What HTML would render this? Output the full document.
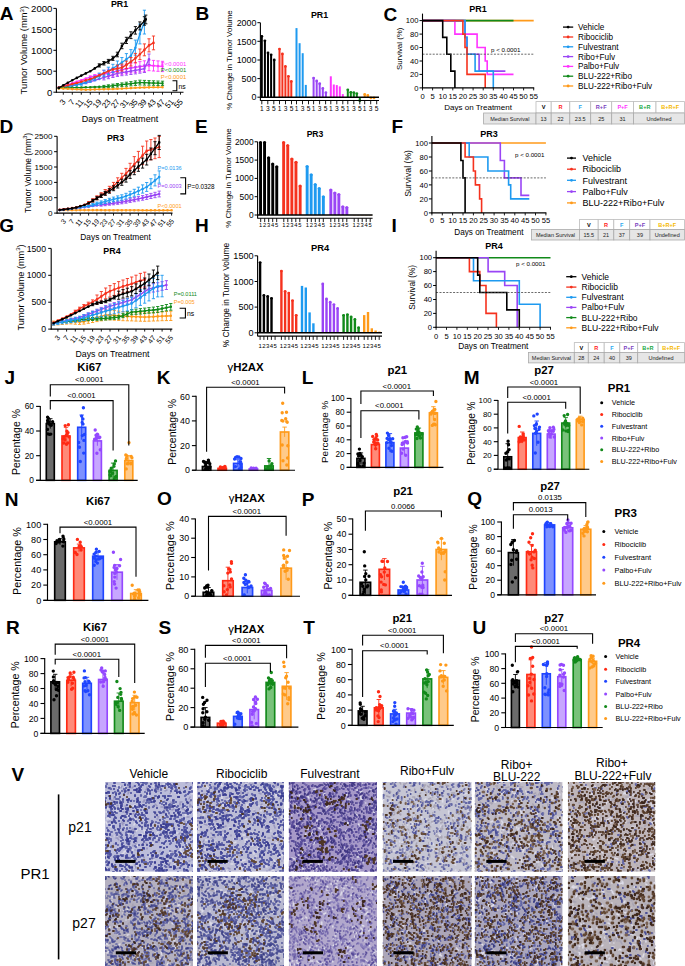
<!DOCTYPE html>
<html><head><meta charset="utf-8"><style>
html,body{margin:0;padding:0;background:#fff;width:685px;height:966px;overflow:hidden}
svg text{font-family:"Liberation Sans", sans-serif}
</style></head><body>
<svg width="685" height="966" viewBox="0 0 685 966" style="display:block">
<defs><filter id="hb" x="-5%" y="-5%" width="110%" height="110%"><feGaussianBlur stdDeviation="0.45"/></filter></defs><rect width="685" height="966" fill="#fff"/>
<line x1="56.4" y1="8.4" x2="56.4" y2="92.7" stroke="#000" stroke-width="1.1"/>
<line x1="55.9" y1="92.2" x2="183.5" y2="92.2" stroke="#000" stroke-width="1.1"/>
<line x1="53.4" y1="92.2" x2="56.4" y2="92.2" stroke="#000" stroke-width="1"/>
<text x="52.4" y="95.6" font-size="9.6" text-anchor="end" fill="#000">0</text>
<line x1="53.4" y1="71.2" x2="56.4" y2="71.2" stroke="#000" stroke-width="1"/>
<text x="52.4" y="74.7" font-size="9.6" text-anchor="end" fill="#000">500</text>
<line x1="53.4" y1="50.3" x2="56.4" y2="50.3" stroke="#000" stroke-width="1"/>
<text x="52.4" y="53.7" font-size="9.6" text-anchor="end" fill="#000">1000</text>
<line x1="53.4" y1="29.4" x2="56.4" y2="29.4" stroke="#000" stroke-width="1"/>
<text x="52.4" y="32.8" font-size="9.6" text-anchor="end" fill="#000">1500</text>
<line x1="53.4" y1="8.4" x2="56.4" y2="8.4" stroke="#000" stroke-width="1"/>
<text x="52.4" y="11.8" font-size="9.6" text-anchor="end" fill="#000">2000</text>
<line x1="63.3" y1="92.2" x2="63.3" y2="94.7" stroke="#000" stroke-width="0.9"/>
<text x="66.1" y="102.0" font-size="8.0" text-anchor="end" fill="#000" transform="rotate(-50 66.1 102.0)">3</text>
<line x1="72.3" y1="92.2" x2="72.3" y2="94.7" stroke="#000" stroke-width="0.9"/>
<text x="75.1" y="102.0" font-size="8.0" text-anchor="end" fill="#000" transform="rotate(-50 75.1 102.0)">7</text>
<line x1="81.3" y1="92.2" x2="81.3" y2="94.7" stroke="#000" stroke-width="0.9"/>
<text x="84.1" y="102.0" font-size="8.0" text-anchor="end" fill="#000" transform="rotate(-50 84.1 102.0)">11</text>
<line x1="90.3" y1="92.2" x2="90.3" y2="94.7" stroke="#000" stroke-width="0.9"/>
<text x="93.1" y="102.0" font-size="8.0" text-anchor="end" fill="#000" transform="rotate(-50 93.1 102.0)">15</text>
<line x1="99.3" y1="92.2" x2="99.3" y2="94.7" stroke="#000" stroke-width="0.9"/>
<text x="102.1" y="102.0" font-size="8.0" text-anchor="end" fill="#000" transform="rotate(-50 102.1 102.0)">19</text>
<line x1="108.4" y1="92.2" x2="108.4" y2="94.7" stroke="#000" stroke-width="0.9"/>
<text x="111.2" y="102.0" font-size="8.0" text-anchor="end" fill="#000" transform="rotate(-50 111.2 102.0)">23</text>
<line x1="117.4" y1="92.2" x2="117.4" y2="94.7" stroke="#000" stroke-width="0.9"/>
<text x="120.2" y="102.0" font-size="8.0" text-anchor="end" fill="#000" transform="rotate(-50 120.2 102.0)">27</text>
<line x1="126.4" y1="92.2" x2="126.4" y2="94.7" stroke="#000" stroke-width="0.9"/>
<text x="129.2" y="102.0" font-size="8.0" text-anchor="end" fill="#000" transform="rotate(-50 129.2 102.0)">31</text>
<line x1="135.4" y1="92.2" x2="135.4" y2="94.7" stroke="#000" stroke-width="0.9"/>
<text x="138.2" y="102.0" font-size="8.0" text-anchor="end" fill="#000" transform="rotate(-50 138.2 102.0)">35</text>
<line x1="144.4" y1="92.2" x2="144.4" y2="94.7" stroke="#000" stroke-width="0.9"/>
<text x="147.2" y="102.0" font-size="8.0" text-anchor="end" fill="#000" transform="rotate(-50 147.2 102.0)">39</text>
<line x1="153.5" y1="92.2" x2="153.5" y2="94.7" stroke="#000" stroke-width="0.9"/>
<text x="156.3" y="102.0" font-size="8.0" text-anchor="end" fill="#000" transform="rotate(-50 156.3 102.0)">43</text>
<line x1="162.5" y1="92.2" x2="162.5" y2="94.7" stroke="#000" stroke-width="0.9"/>
<text x="165.3" y="102.0" font-size="8.0" text-anchor="end" fill="#000" transform="rotate(-50 165.3 102.0)">47</text>
<line x1="171.5" y1="92.2" x2="171.5" y2="94.7" stroke="#000" stroke-width="0.9"/>
<text x="174.3" y="102.0" font-size="8.0" text-anchor="end" fill="#000" transform="rotate(-50 174.3 102.0)">51</text>
<line x1="180.5" y1="92.2" x2="180.5" y2="94.7" stroke="#000" stroke-width="0.9"/>
<text x="183.3" y="102.0" font-size="8.0" text-anchor="end" fill="#000" transform="rotate(-50 183.3 102.0)">55</text>
<polyline points="58.8,87.6 63.3,86.1 67.8,84.7 72.3,83.2 76.8,81.7 81.3,80.2 85.8,78.6 90.3,77.1 94.8,75.9 99.3,75.0 103.9,74.0 108.4,73.1 112.9,72.1 117.4,71.0 121.9,69.9 126.4,68.7 130.9,68.1 135.4,67.4 139.9,66.7 144.4,66.1 149.0,65.4 153.5,65.7 158.0,66.1 162.5,66.4" fill="none" stroke="#ff33ff" stroke-width="1.3"/>
<path d="M90.3 75.9V78.3M88.7 75.9h3.2M88.7 78.3h3.2M94.8 74.6V77.2M93.2 74.6h3.2M93.2 77.2h3.2M99.3 73.6V76.4M97.7 73.6h3.2M97.7 76.4h3.2M103.9 70.4V77.7M102.3 70.4h3.2M102.3 77.7h3.2M108.4 69.2V76.9M106.8 69.2h3.2M106.8 76.9h3.2M112.9 68.1V76.1M111.3 68.1h3.2M111.3 76.1h3.2M117.4 66.7V75.2M115.8 66.7h3.2M115.8 75.2h3.2M121.9 65.4V74.3M120.3 65.4h3.2M120.3 74.3h3.2M126.4 64.0V73.4M124.8 64.0h3.2M124.8 73.4h3.2M130.9 63.2V72.9M129.3 63.2h3.2M129.3 72.9h3.2M135.4 62.4V72.4M133.8 62.4h3.2M133.8 72.4h3.2M139.9 61.6V71.8M138.3 61.6h3.2M138.3 71.8h3.2M144.4 60.8V71.3M142.8 60.8h3.2M142.8 71.3h3.2M149.0 60.0V70.7M147.4 60.0h3.2M147.4 70.7h3.2M153.5 60.4V71.0M151.9 60.4h3.2M151.9 71.0h3.2M158.0 60.9V71.3M156.4 60.9h3.2M156.4 71.3h3.2M162.5 61.3V71.6M160.9 61.3h3.2M160.9 71.6h3.2" stroke="#ff33ff" stroke-width="0.9" fill="none"/>
<path d="M58.8 87.6h0M63.3 86.1h0M67.8 84.7h0M72.3 83.2h0M76.8 81.7h0M81.3 80.2h0M85.8 78.6h0M90.3 77.1h0M94.8 75.9h0M99.3 75.0h0M103.9 74.0h0M108.4 73.1h0M112.9 72.1h0M117.4 71.0h0M121.9 69.9h0M126.4 68.7h0M130.9 68.1h0M135.4 67.4h0M139.9 66.7h0M144.4 66.1h0M149.0 65.4h0M153.5 65.7h0M158.0 66.1h0M162.5 66.4h0" stroke="#ff33ff" stroke-width="2.6" stroke-linecap="round" fill="none"/>
<polyline points="58.8,88.0 63.3,87.2 67.8,86.3 72.3,85.5 76.8,84.7 81.3,83.8 85.8,83.0 90.3,81.6 94.8,80.3 99.3,78.9 103.9,77.5 108.4,76.1 112.9,74.7 117.4,73.3 121.9,72.6 126.4,71.9 130.9,71.1 135.4,70.4 139.9,69.6 144.4,68.7 149.0,59.3" fill="none" stroke="#9a45f5" stroke-width="1.3"/>
<path d="M103.9 75.2V79.9M102.3 75.2h3.2M102.3 79.9h3.2M108.4 73.6V78.7M106.8 73.6h3.2M106.8 78.7h3.2M112.9 71.9V77.5M111.3 71.9h3.2M111.3 77.5h3.2M117.4 70.3V76.4M115.8 70.3h3.2M115.8 76.4h3.2M121.9 69.5V75.7M120.3 69.5h3.2M120.3 75.7h3.2M126.4 68.6V75.1M124.8 68.6h3.2M124.8 75.1h3.2M130.9 67.8V74.5M129.3 67.8h3.2M129.3 74.5h3.2M135.4 66.9V73.9M133.8 66.9h3.2M133.8 73.9h3.2M139.9 66.0V73.2M138.3 66.0h3.2M138.3 73.2h3.2M144.4 65.0V72.5M142.8 65.0h3.2M142.8 72.5h3.2M149.0 54.0V64.6M147.4 54.0h3.2M147.4 64.6h3.2" stroke="#9a45f5" stroke-width="0.9" fill="none"/>
<path d="M58.8 88.0h0M63.3 87.2h0M67.8 86.3h0M72.3 85.5h0M76.8 84.7h0M81.3 83.8h0M85.8 83.0h0M90.3 81.6h0M94.8 80.3h0M99.3 78.9h0M103.9 77.5h0M108.4 76.1h0M112.9 74.7h0M117.4 73.3h0M121.9 72.6h0M126.4 71.9h0M130.9 71.1h0M135.4 70.4h0M139.9 69.6h0M144.4 68.7h0M149.0 59.3h0" stroke="#9a45f5" stroke-width="2.6" stroke-linecap="round" fill="none"/>
<polyline points="58.8,88.0 63.3,87.2 67.8,86.3 72.3,85.5 76.8,84.7 81.3,83.8 85.8,82.0 90.3,80.2 94.8,78.4 99.3,75.9 103.9,73.3 108.4,70.8 112.9,68.4 117.4,65.5 121.9,62.5 126.4,59.2 130.9,55.8 135.4,47.7 139.9,34.0 144.4,22.1" fill="none" stroke="#1e9af0" stroke-width="1.3"/>
<path d="M76.8 83.4V85.9M75.2 83.4h3.2M75.2 85.9h3.2M81.3 82.4V85.2M79.7 82.4h3.2M79.7 85.2h3.2M85.8 80.3V83.7M84.2 80.3h3.2M84.2 83.7h3.2M90.3 78.1V82.2M88.7 78.1h3.2M88.7 82.2h3.2M94.8 76.0V80.7M93.2 76.0h3.2M93.2 80.7h3.2M99.3 73.1V78.6M97.7 73.1h3.2M97.7 78.6h3.2M103.9 70.1V76.6M102.3 70.1h3.2M102.3 76.6h3.2M108.4 67.2V74.5M106.8 67.2h3.2M106.8 74.5h3.2M112.9 64.3V72.4M111.3 64.3h3.2M111.3 72.4h3.2M117.4 61.0V70.1M115.8 61.0h3.2M115.8 70.1h3.2M121.9 57.5V67.6M120.3 57.5h3.2M120.3 67.6h3.2M126.4 53.6V64.8M124.8 53.6h3.2M124.8 64.8h3.2M130.9 49.6V62.0M129.3 49.6h3.2M129.3 62.0h3.2M135.4 40.1V55.2M133.8 40.1h3.2M133.8 55.2h3.2M139.9 24.1V43.9M138.3 24.1h3.2M138.3 43.9h3.2M144.4 10.2V34.0M142.8 10.2h3.2M142.8 34.0h3.2" stroke="#1e9af0" stroke-width="0.9" fill="none"/>
<path d="M58.8 88.0h0M63.3 87.2h0M67.8 86.3h0M72.3 85.5h0M76.8 84.7h0M81.3 83.8h0M85.8 82.0h0M90.3 80.2h0M94.8 78.4h0M99.3 75.9h0M103.9 73.3h0M108.4 70.8h0M112.9 68.4h0M117.4 65.5h0M121.9 62.5h0M126.4 59.2h0M130.9 55.8h0M135.4 47.7h0M139.9 34.0h0M144.4 22.1h0" stroke="#1e9af0" stroke-width="2.6" stroke-linecap="round" fill="none"/>
<polyline points="58.8,87.6 63.3,86.4 67.8,85.3 72.3,84.1 76.8,83.0 81.3,81.7 85.8,80.4 90.3,79.1 94.8,77.3 99.3,75.3 103.9,73.2 108.4,71.2 112.9,69.4 117.4,68.5 121.9,67.6 126.4,64.9 130.9,61.7 135.4,58.2 139.9,54.3 144.4,49.9 149.0,45.4 153.5,42.9" fill="none" stroke="#f5321e" stroke-width="1.3"/>
<path d="M117.4 65.1V71.8M115.8 65.1h3.2M115.8 71.8h3.2M121.9 64.1V71.0M120.3 64.1h3.2M120.3 71.0h3.2M126.4 61.1V68.7M124.8 61.1h3.2M124.8 68.7h3.2M130.9 57.5V66.0M129.3 57.5h3.2M129.3 66.0h3.2M135.4 53.4V62.9M133.8 53.4h3.2M133.8 62.9h3.2M139.9 49.0V59.6M138.3 49.0h3.2M138.3 59.6h3.2M144.4 43.9V55.8M142.8 43.9h3.2M142.8 55.8h3.2M149.0 38.8V51.9M147.4 38.8h3.2M147.4 51.9h3.2M153.5 36.0V49.8M151.9 36.0h3.2M151.9 49.8h3.2" stroke="#f5321e" stroke-width="0.9" fill="none"/>
<path d="M58.8 87.6h0M63.3 86.4h0M67.8 85.3h0M72.3 84.1h0M76.8 83.0h0M81.3 81.7h0M85.8 80.4h0M90.3 79.1h0M94.8 77.3h0M99.3 75.3h0M103.9 73.2h0M108.4 71.2h0M112.9 69.4h0M117.4 68.5h0M121.9 67.6h0M126.4 64.9h0M130.9 61.7h0M135.4 58.2h0M139.9 54.3h0M144.4 49.9h0M149.0 45.4h0M153.5 42.9h0" stroke="#f5321e" stroke-width="2.6" stroke-linecap="round" fill="none"/>
<polyline points="58.8,88.0 63.3,87.9 67.8,87.8 72.3,87.7 76.8,87.6 81.3,87.5 85.8,87.3 90.3,87.2 94.8,87.0 99.3,86.9 103.9,86.8 108.4,86.3 112.9,85.7 117.4,85.2 121.9,84.7 126.4,84.2 130.9,83.7 135.4,83.1 139.9,82.6 144.4,82.7 149.0,82.9 153.5,83.1 158.0,83.2 162.5,83.4" fill="none" stroke="#118a1a" stroke-width="1.3"/>
<path d="M103.9 85.4V88.1M102.3 85.4h3.2M102.3 88.1h3.2M108.4 84.8V87.7M106.8 84.8h3.2M106.8 87.7h3.2M112.9 84.1V87.4M111.3 84.1h3.2M111.3 87.4h3.2M117.4 83.5V87.0M115.8 83.5h3.2M115.8 87.0h3.2M121.9 82.9V86.6M120.3 82.9h3.2M120.3 86.6h3.2M126.4 82.2V86.2M124.8 82.2h3.2M124.8 86.2h3.2M130.9 81.6V85.8M129.3 81.6h3.2M129.3 85.8h3.2M135.4 80.9V85.4M133.8 80.9h3.2M133.8 85.4h3.2M139.9 80.2V85.0M138.3 80.2h3.2M138.3 85.0h3.2M144.4 80.4V85.1M142.8 80.4h3.2M142.8 85.1h3.2M149.0 80.6V85.2M147.4 80.6h3.2M147.4 85.2h3.2M153.5 80.8V85.3M151.9 80.8h3.2M151.9 85.3h3.2M158.0 81.0V85.5M156.4 81.0h3.2M156.4 85.5h3.2M162.5 81.2V85.6M160.9 81.2h3.2M160.9 85.6h3.2" stroke="#118a1a" stroke-width="0.9" fill="none"/>
<path d="M58.8 88.0h0M63.3 87.9h0M67.8 87.8h0M72.3 87.7h0M76.8 87.6h0M81.3 87.5h0M85.8 87.3h0M90.3 87.2h0M94.8 87.0h0M99.3 86.9h0M103.9 86.8h0M108.4 86.3h0M112.9 85.7h0M117.4 85.2h0M121.9 84.7h0M126.4 84.2h0M130.9 83.7h0M135.4 83.1h0M139.9 82.6h0M144.4 82.7h0M149.0 82.9h0M153.5 83.1h0M158.0 83.2h0M162.5 83.4h0" stroke="#118a1a" stroke-width="2.6" stroke-linecap="round" fill="none"/>
<polyline points="58.8,88.4 63.3,88.6 67.8,88.8 72.3,89.1 76.8,89.3 81.3,89.5 85.8,89.7 90.3,89.6 94.8,89.4 99.3,89.3 103.9,89.2 108.4,89.1 112.9,89.0 117.4,88.8 121.9,88.6 126.4,88.3 130.9,88.1 135.4,87.8 139.9,87.6 144.4,87.5 149.0,87.4 153.5,87.3 158.0,87.3 162.5,87.2" fill="none" stroke="#ff9a1a" stroke-width="1.3"/>
<path d="M58.8 88.4h0M63.3 88.6h0M67.8 88.8h0M72.3 89.1h0M76.8 89.3h0M81.3 89.5h0M85.8 89.7h0M90.3 89.6h0M94.8 89.4h0M99.3 89.3h0M103.9 89.2h0M108.4 89.1h0M112.9 89.0h0M117.4 88.8h0M121.9 88.6h0M126.4 88.3h0M130.9 88.1h0M135.4 87.8h0M139.9 87.6h0M144.4 87.5h0M149.0 87.4h0M153.5 87.3h0M158.0 87.3h0M162.5 87.2h0" stroke="#ff9a1a" stroke-width="2.6" stroke-linecap="round" fill="none"/>
<polyline points="58.8,87.9 63.3,85.3 67.8,82.7 72.3,80.2 76.8,77.9 81.3,75.6 85.8,73.4 90.3,71.2 94.8,68.4 99.3,65.4 103.9,63.3 108.4,61.3 112.9,58.4 117.4,54.5 121.9,46.0 126.4,40.4 130.9,35.2 135.4,30.3 139.9,25.9 144.4,21.0 145.8,19.4" fill="none" stroke="#000000" stroke-width="1.3"/>
<path d="M99.3 63.8V67.0M97.7 63.8h3.2M97.7 67.0h3.2M103.9 61.5V65.0M102.3 61.5h3.2M102.3 65.0h3.2M108.4 59.4V63.2M106.8 59.4h3.2M106.8 63.2h3.2M112.9 56.3V60.4M111.3 56.3h3.2M111.3 60.4h3.2M117.4 52.2V56.8M115.8 52.2h3.2M115.8 56.8h3.2M121.9 43.2V48.7M120.3 43.2h3.2M120.3 48.7h3.2M126.4 37.3V43.5M124.8 37.3h3.2M124.8 43.5h3.2M130.9 31.8V38.6M129.3 31.8h3.2M129.3 38.6h3.2M135.4 26.6V34.1M133.8 26.6h3.2M133.8 34.1h3.2M139.9 21.9V29.9M138.3 21.9h3.2M138.3 29.9h3.2M144.4 16.7V25.2M142.8 16.7h3.2M142.8 25.2h3.2M145.8 15.1V23.8M144.2 15.1h3.2M144.2 23.8h3.2" stroke="#000000" stroke-width="0.9" fill="none"/>
<path d="M58.8 87.9h0M63.3 85.3h0M67.8 82.7h0M72.3 80.2h0M76.8 77.9h0M81.3 75.6h0M85.8 73.4h0M90.3 71.2h0M94.8 68.4h0M99.3 65.4h0M103.9 63.3h0M108.4 61.3h0M112.9 58.4h0M117.4 54.5h0M121.9 46.0h0M126.4 40.4h0M130.9 35.2h0M135.4 30.3h0M139.9 25.9h0M144.4 21.0h0M145.8 19.4h0" stroke="#000000" stroke-width="2.6" stroke-linecap="round" fill="none"/>
<text x="119.6" y="6.9" font-size="8.9" font-weight="bold" text-anchor="middle" fill="#000">PR1</text>
<text x="-0.3" y="20.1" font-size="19" font-weight="bold" text-anchor="start" fill="#000">A</text>
<text x="27.2" y="50.2" font-size="9.4" text-anchor="middle" fill="#000" transform="rotate(-90 27.2 50.2)">Tumor Volume (mm<tspan font-size="6" dy="-3.5">3</tspan><tspan dy="3.5">)</tspan></text>
<text x="120.0" y="122.0" font-size="9.05" text-anchor="middle" fill="#000">Days on Treatment</text>
<text x="160.8" y="66.0" font-size="5.9" text-anchor="start" fill="#ff33ff">P&lt;0.0001</text>
<text x="160.8" y="72.2" font-size="5.9" text-anchor="start" fill="#118a1a">P&lt;0.0001</text>
<text x="160.8" y="78.7" font-size="5.9" text-anchor="start" fill="#ff9a1a">P&lt;0.0001</text>
<polyline points="172.5,80.8 176.8,80.8 176.8,90.7 172.5,90.7" fill="none" stroke="#000" stroke-width="1.1"/>
<text x="178.4" y="88.5" font-size="6.8" text-anchor="start" fill="#000">ns</text>
<line x1="57.1" y1="136.3" x2="57.1" y2="213.6" stroke="#000" stroke-width="1.1"/>
<line x1="56.6" y1="213.1" x2="172.5" y2="213.1" stroke="#000" stroke-width="1.1"/>
<line x1="54.1" y1="213.1" x2="57.1" y2="213.1" stroke="#000" stroke-width="1"/>
<text x="52.5" y="216.0" font-size="8.1" text-anchor="end" fill="#000">0</text>
<line x1="54.1" y1="197.7" x2="57.1" y2="197.7" stroke="#000" stroke-width="1"/>
<text x="52.5" y="200.6" font-size="8.1" text-anchor="end" fill="#000">500</text>
<line x1="54.1" y1="182.4" x2="57.1" y2="182.4" stroke="#000" stroke-width="1"/>
<text x="52.5" y="185.3" font-size="8.1" text-anchor="end" fill="#000">1000</text>
<line x1="54.1" y1="167.0" x2="57.1" y2="167.0" stroke="#000" stroke-width="1"/>
<text x="52.5" y="169.9" font-size="8.1" text-anchor="end" fill="#000">1500</text>
<line x1="54.1" y1="151.7" x2="57.1" y2="151.7" stroke="#000" stroke-width="1"/>
<text x="52.5" y="154.6" font-size="8.1" text-anchor="end" fill="#000">2000</text>
<line x1="54.1" y1="136.3" x2="57.1" y2="136.3" stroke="#000" stroke-width="1"/>
<text x="52.5" y="139.2" font-size="8.1" text-anchor="end" fill="#000">2500</text>
<line x1="63.7" y1="213.1" x2="63.7" y2="215.6" stroke="#000" stroke-width="0.9"/>
<text x="66.5" y="221.5" font-size="7.0" text-anchor="end" fill="#000" transform="rotate(-50 66.5 221.5)">3</text>
<line x1="72.0" y1="213.1" x2="72.0" y2="215.6" stroke="#000" stroke-width="0.9"/>
<text x="74.8" y="221.5" font-size="7.0" text-anchor="end" fill="#000" transform="rotate(-50 74.8 221.5)">7</text>
<line x1="80.3" y1="213.1" x2="80.3" y2="215.6" stroke="#000" stroke-width="0.9"/>
<text x="83.1" y="221.5" font-size="7.0" text-anchor="end" fill="#000" transform="rotate(-50 83.1 221.5)">11</text>
<line x1="88.6" y1="213.1" x2="88.6" y2="215.6" stroke="#000" stroke-width="0.9"/>
<text x="91.4" y="221.5" font-size="7.0" text-anchor="end" fill="#000" transform="rotate(-50 91.4 221.5)">15</text>
<line x1="96.9" y1="213.1" x2="96.9" y2="215.6" stroke="#000" stroke-width="0.9"/>
<text x="99.7" y="221.5" font-size="7.0" text-anchor="end" fill="#000" transform="rotate(-50 99.7 221.5)">19</text>
<line x1="105.2" y1="213.1" x2="105.2" y2="215.6" stroke="#000" stroke-width="0.9"/>
<text x="108.0" y="221.5" font-size="7.0" text-anchor="end" fill="#000" transform="rotate(-50 108.0 221.5)">23</text>
<line x1="113.5" y1="213.1" x2="113.5" y2="215.6" stroke="#000" stroke-width="0.9"/>
<text x="116.3" y="221.5" font-size="7.0" text-anchor="end" fill="#000" transform="rotate(-50 116.3 221.5)">27</text>
<line x1="121.8" y1="213.1" x2="121.8" y2="215.6" stroke="#000" stroke-width="0.9"/>
<text x="124.6" y="221.5" font-size="7.0" text-anchor="end" fill="#000" transform="rotate(-50 124.6 221.5)">31</text>
<line x1="130.1" y1="213.1" x2="130.1" y2="215.6" stroke="#000" stroke-width="0.9"/>
<text x="132.9" y="221.5" font-size="7.0" text-anchor="end" fill="#000" transform="rotate(-50 132.9 221.5)">35</text>
<line x1="138.4" y1="213.1" x2="138.4" y2="215.6" stroke="#000" stroke-width="0.9"/>
<text x="141.2" y="221.5" font-size="7.0" text-anchor="end" fill="#000" transform="rotate(-50 141.2 221.5)">39</text>
<line x1="146.7" y1="213.1" x2="146.7" y2="215.6" stroke="#000" stroke-width="0.9"/>
<text x="149.5" y="221.5" font-size="7.0" text-anchor="end" fill="#000" transform="rotate(-50 149.5 221.5)">43</text>
<line x1="155.0" y1="213.1" x2="155.0" y2="215.6" stroke="#000" stroke-width="0.9"/>
<text x="157.8" y="221.5" font-size="7.0" text-anchor="end" fill="#000" transform="rotate(-50 157.8 221.5)">47</text>
<line x1="163.3" y1="213.1" x2="163.3" y2="215.6" stroke="#000" stroke-width="0.9"/>
<text x="166.1" y="221.5" font-size="7.0" text-anchor="end" fill="#000" transform="rotate(-50 166.1 221.5)">51</text>
<line x1="171.6" y1="213.1" x2="171.6" y2="215.6" stroke="#000" stroke-width="0.9"/>
<text x="174.4" y="221.5" font-size="7.0" text-anchor="end" fill="#000" transform="rotate(-50 174.4 221.5)">55</text>
<polyline points="59.6,210.0 63.7,210.0 67.9,210.1 72.0,210.1 76.2,210.1 80.3,210.1 84.5,210.1 88.6,210.1 92.8,210.1 96.9,210.1 101.1,210.1 105.2,210.2 109.4,210.2 113.5,210.2 117.7,210.2 121.8,210.2 126.0,210.2 130.1,210.2 134.3,210.2 138.4,210.2 142.6,210.3 146.7,210.3 150.9,210.3 155.0,210.3 159.2,210.3 163.3,210.3 167.5,210.3 171.6,210.3" fill="none" stroke="#ff9a1a" stroke-width="1.3"/>
<path d="M59.6 210.0h0M63.7 210.0h0M67.9 210.1h0M72.0 210.1h0M76.2 210.1h0M80.3 210.1h0M84.5 210.1h0M88.6 210.1h0M92.8 210.1h0M96.9 210.1h0M101.1 210.1h0M105.2 210.2h0M109.4 210.2h0M113.5 210.2h0M117.7 210.2h0M121.8 210.2h0M126.0 210.2h0M130.1 210.2h0M134.3 210.2h0M138.4 210.2h0M142.6 210.3h0M146.7 210.3h0M150.9 210.3h0M155.0 210.3h0M159.2 210.3h0M163.3 210.3h0M167.5 210.3h0M171.6 210.3h0" stroke="#ff9a1a" stroke-width="2.6" stroke-linecap="round" fill="none"/>
<polyline points="59.6,210.0 63.7,209.6 67.9,209.1 72.0,208.6 76.2,208.1 80.3,207.7 84.5,207.2 88.6,206.6 92.8,206.0 96.9,205.4 101.1,204.9 105.2,204.3 109.4,203.8 113.5,203.3 117.7,202.7 121.8,202.2 126.0,201.4 130.1,200.5 134.3,199.7 138.4,198.8 142.6,197.9 146.7,197.0 150.9,196.0 155.0,195.0 159.2,194.0" fill="none" stroke="#9a45f5" stroke-width="1.3"/>
<path d="M101.1 203.6V206.1M99.5 203.6h3.2M99.5 206.1h3.2M105.2 203.0V205.7M103.6 203.0h3.2M103.6 205.7h3.2M109.4 202.4V205.2M107.8 202.4h3.2M107.8 205.2h3.2M113.5 201.8V204.8M111.9 201.8h3.2M111.9 204.8h3.2M117.7 201.2V204.3M116.1 201.2h3.2M116.1 204.3h3.2M121.8 200.5V203.8M120.2 200.5h3.2M120.2 203.8h3.2M126.0 199.7V203.2M124.4 199.7h3.2M124.4 203.2h3.2M130.1 198.7V202.4M128.5 198.7h3.2M128.5 202.4h3.2M134.3 197.6V201.7M132.7 197.6h3.2M132.7 201.7h3.2M138.4 196.6V200.9M136.8 196.6h3.2M136.8 200.9h3.2M142.6 195.6V200.2M141.0 195.6h3.2M141.0 200.2h3.2M146.7 194.6V199.4M145.1 194.6h3.2M145.1 199.4h3.2M150.9 193.4V198.5M149.3 193.4h3.2M149.3 198.5h3.2M155.0 192.3V197.7M153.4 192.3h3.2M153.4 197.7h3.2M159.2 191.1V196.9M157.6 191.1h3.2M157.6 196.9h3.2" stroke="#9a45f5" stroke-width="0.9" fill="none"/>
<path d="M59.6 210.0h0M63.7 209.6h0M67.9 209.1h0M72.0 208.6h0M76.2 208.1h0M80.3 207.7h0M84.5 207.2h0M88.6 206.6h0M92.8 206.0h0M96.9 205.4h0M101.1 204.9h0M105.2 204.3h0M109.4 203.8h0M113.5 203.3h0M117.7 202.7h0M121.8 202.2h0M126.0 201.4h0M130.1 200.5h0M134.3 199.7h0M138.4 198.8h0M142.6 197.9h0M146.7 197.0h0M150.9 196.0h0M155.0 195.0h0M159.2 194.0h0" stroke="#9a45f5" stroke-width="2.6" stroke-linecap="round" fill="none"/>
<polyline points="59.6,210.0 63.7,209.6 67.9,209.2 72.0,208.7 76.2,208.1 80.3,207.4 84.5,206.7 88.6,205.8 92.8,204.8 96.9,203.7 101.1,202.7 105.2,201.5 109.4,200.4 113.5,199.4 117.7,198.4 121.8,197.5 126.0,196.1 130.1,194.5 134.3,192.8 138.4,191.0 142.6,189.0 146.7,187.0 150.9,183.7 155.0,180.4 159.2,177.1" fill="none" stroke="#1e9af0" stroke-width="1.3"/>
<path d="M88.6 204.6V207.1M87.0 204.6h3.2M87.0 207.1h3.2M92.8 203.4V206.2M91.2 203.4h3.2M91.2 206.2h3.2M96.9 202.1V205.3M95.3 202.1h3.2M95.3 205.3h3.2M101.1 200.9V204.4M99.5 200.9h3.2M99.5 204.4h3.2M105.2 199.6V203.5M103.6 199.6h3.2M103.6 203.5h3.2M109.4 198.3V202.6M107.8 198.3h3.2M107.8 202.6h3.2M113.5 197.1V201.7M111.9 197.1h3.2M111.9 201.7h3.2M117.7 195.9V200.9M116.1 195.9h3.2M116.1 200.9h3.2M121.8 194.8V200.1M120.2 194.8h3.2M120.2 200.1h3.2M126.0 193.3V199.0M124.4 193.3h3.2M124.4 199.0h3.2M130.1 191.3V197.6M128.5 191.3h3.2M128.5 197.6h3.2M134.3 189.3V196.3M132.7 189.3h3.2M132.7 196.3h3.2M138.4 187.2V194.7M136.8 187.2h3.2M136.8 194.7h3.2M142.6 184.9V193.1M141.0 184.9h3.2M141.0 193.1h3.2M146.7 182.5V191.4M145.1 182.5h3.2M145.1 191.4h3.2M150.9 178.7V188.7M149.3 178.7h3.2M149.3 188.7h3.2M155.0 174.8V185.9M153.4 174.8h3.2M153.4 185.9h3.2M159.2 170.9V183.2M157.6 170.9h3.2M157.6 183.2h3.2" stroke="#1e9af0" stroke-width="0.9" fill="none"/>
<path d="M59.6 210.0h0M63.7 209.6h0M67.9 209.2h0M72.0 208.7h0M76.2 208.1h0M80.3 207.4h0M84.5 206.7h0M88.6 205.8h0M92.8 204.8h0M96.9 203.7h0M101.1 202.7h0M105.2 201.5h0M109.4 200.4h0M113.5 199.4h0M117.7 198.4h0M121.8 197.5h0M126.0 196.1h0M130.1 194.5h0M134.3 192.8h0M138.4 191.0h0M142.6 189.0h0M146.7 187.0h0M150.9 183.7h0M155.0 180.4h0M159.2 177.1h0" stroke="#1e9af0" stroke-width="2.6" stroke-linecap="round" fill="none"/>
<polyline points="59.6,209.7 63.7,209.2 67.9,208.7 72.0,208.1 76.2,207.3 80.3,206.0 84.5,204.8 88.6,202.9 92.8,200.4 96.9,197.8 101.1,195.1 105.2,192.2 109.4,189.3 113.5,185.9 117.7,181.9 121.8,177.9 126.0,173.6 130.1,169.0 134.3,164.4 138.4,159.9 142.6,155.4 146.7,150.9 150.9,149.6 155.0,148.3 159.2,147.1" fill="none" stroke="#f5321e" stroke-width="1.3"/>
<path d="M88.6 201.6V204.2M87.0 201.6h3.2M87.0 204.2h3.2M92.8 198.7V202.0M91.2 198.7h3.2M91.2 202.0h3.2M96.9 195.8V199.8M95.3 195.8h3.2M95.3 199.8h3.2M101.1 192.7V197.4M99.5 192.7h3.2M99.5 197.4h3.2M105.2 189.5V194.9M103.6 189.5h3.2M103.6 194.9h3.2M109.4 186.3V192.4M107.8 186.3h3.2M107.8 192.4h3.2M113.5 182.4V189.4M111.9 182.4h3.2M111.9 189.4h3.2M117.7 177.8V185.9M116.1 177.8h3.2M116.1 185.9h3.2M121.8 173.3V182.5M120.2 173.3h3.2M120.2 182.5h3.2M126.0 168.4V178.7M124.4 168.4h3.2M124.4 178.7h3.2M130.1 163.3V174.7M128.5 163.3h3.2M128.5 174.7h3.2M134.3 156.6V172.2M132.7 156.6h3.2M132.7 172.2h3.2M138.4 151.4V168.4M136.8 151.4h3.2M136.8 168.4h3.2M142.6 146.2V164.6M141.0 146.2h3.2M141.0 164.6h3.2M146.7 141.0V160.9M145.1 141.0h3.2M145.1 160.9h3.2M150.9 139.5V159.8M149.3 139.5h3.2M149.3 159.8h3.2M155.0 138.0V158.7M153.4 138.0h3.2M153.4 158.7h3.2M159.2 136.5V157.6M157.6 136.5h3.2M157.6 157.6h3.2" stroke="#f5321e" stroke-width="0.9" fill="none"/>
<path d="M59.6 209.7h0M63.7 209.2h0M67.9 208.7h0M72.0 208.1h0M76.2 207.3h0M80.3 206.0h0M84.5 204.8h0M88.6 202.9h0M92.8 200.4h0M96.9 197.8h0M101.1 195.1h0M105.2 192.2h0M109.4 189.3h0M113.5 185.9h0M117.7 181.9h0M121.8 177.9h0M126.0 173.6h0M130.1 169.0h0M134.3 164.4h0M138.4 159.9h0M142.6 155.4h0M146.7 150.9h0M150.9 149.6h0M155.0 148.3h0M159.2 147.1h0" stroke="#f5321e" stroke-width="2.6" stroke-linecap="round" fill="none"/>
<polyline points="59.6,210.0 63.7,209.5 67.9,208.9 72.0,208.4 76.2,207.5 80.3,206.2 84.5,205.0 88.6,203.1 92.8,200.7 96.9,198.2 101.1,195.8 105.2,193.4 109.4,191.0 113.5,188.3 117.7,185.3 121.8,182.3 126.0,178.7 130.1,174.5 134.3,170.4 138.4,166.6 142.6,163.1 146.7,159.6 150.9,153.9 155.0,148.2 159.2,142.4" fill="none" stroke="#000000" stroke-width="1.3"/>
<path d="M92.8 199.4V201.9M91.2 199.4h3.2M91.2 201.9h3.2M96.9 196.7V199.7M95.3 196.7h3.2M95.3 199.7h3.2M101.1 194.0V197.5M99.5 194.0h3.2M99.5 197.5h3.2M105.2 191.4V195.3M103.6 191.4h3.2M103.6 195.3h3.2M109.4 188.7V193.2M107.8 188.7h3.2M107.8 193.2h3.2M113.5 185.8V190.7M111.9 185.8h3.2M111.9 190.7h3.2M117.7 182.5V188.0M116.1 182.5h3.2M116.1 188.0h3.2M121.8 179.2V185.3M120.2 179.2h3.2M120.2 185.3h3.2M126.0 175.2V182.1M124.4 175.2h3.2M124.4 182.1h3.2M130.1 170.7V178.4M128.5 170.7h3.2M128.5 178.4h3.2M134.3 166.1V174.7M132.7 166.1h3.2M132.7 174.7h3.2M138.4 162.0V171.3M136.8 162.0h3.2M136.8 171.3h3.2M142.6 158.1V168.1M141.0 158.1h3.2M141.0 168.1h3.2M146.7 154.3V165.0M145.1 154.3h3.2M145.1 165.0h3.2M150.9 148.0V159.8M149.3 148.0h3.2M149.3 159.8h3.2M155.0 141.7V154.7M153.4 141.7h3.2M153.4 154.7h3.2M159.2 135.4V149.5M157.6 135.4h3.2M157.6 149.5h3.2" stroke="#000000" stroke-width="0.9" fill="none"/>
<path d="M59.6 210.0h0M63.7 209.5h0M67.9 208.9h0M72.0 208.4h0M76.2 207.5h0M80.3 206.2h0M84.5 205.0h0M88.6 203.1h0M92.8 200.7h0M96.9 198.2h0M101.1 195.8h0M105.2 193.4h0M109.4 191.0h0M113.5 188.3h0M117.7 185.3h0M121.8 182.3h0M126.0 178.7h0M130.1 174.5h0M134.3 170.4h0M138.4 166.6h0M142.6 163.1h0M146.7 159.6h0M150.9 153.9h0M155.0 148.2h0M159.2 142.4h0" stroke="#000000" stroke-width="2.6" stroke-linecap="round" fill="none"/>
<text x="115.6" y="141.0" font-size="8.9" font-weight="bold" text-anchor="middle" fill="#000">PR3</text>
<text x="-0.5" y="132.6" font-size="19" font-weight="bold" text-anchor="start" fill="#000">D</text>
<text x="30.6" y="172.9" font-size="8.5" text-anchor="middle" fill="#000" transform="rotate(-90 30.6 172.9)">Tumor Volume (mm<tspan font-size="5.5" dy="-3.2">3</tspan><tspan dy="3.2">)</tspan></text>
<text x="115.6" y="240.0" font-size="8.35" text-anchor="middle" fill="#000">Days on Treatment</text>
<text x="157.6" y="169.5" font-size="5.6" text-anchor="start" fill="#1e9af0">P=0.0136</text>
<text x="157.6" y="188.3" font-size="5.6" text-anchor="start" fill="#9a45f5">P=0.0003</text>
<text x="157.6" y="208.4" font-size="5.6" text-anchor="start" fill="#ff9a1a">P&lt;0.0001</text>
<polyline points="180.3,177.7 185.6,177.7 185.6,193.9 180.3,193.9" fill="none" stroke="#000" stroke-width="1.1"/>
<text x="187.3" y="188.6" font-size="6.3" text-anchor="start" fill="#000">P=0.0328</text>
<line x1="51.2" y1="248.4" x2="51.2" y2="329.6" stroke="#000" stroke-width="1.1"/>
<line x1="50.7" y1="329.1" x2="172.3" y2="329.1" stroke="#000" stroke-width="1.1"/>
<line x1="48.2" y1="329.1" x2="51.2" y2="329.1" stroke="#000" stroke-width="1"/>
<text x="46.0" y="332.2" font-size="8.7" text-anchor="end" fill="#000">0</text>
<line x1="48.2" y1="302.2" x2="51.2" y2="302.2" stroke="#000" stroke-width="1"/>
<text x="46.0" y="305.3" font-size="8.7" text-anchor="end" fill="#000">500</text>
<line x1="48.2" y1="275.3" x2="51.2" y2="275.3" stroke="#000" stroke-width="1"/>
<text x="46.0" y="278.4" font-size="8.7" text-anchor="end" fill="#000">1000</text>
<line x1="48.2" y1="248.4" x2="51.2" y2="248.4" stroke="#000" stroke-width="1"/>
<text x="46.0" y="251.5" font-size="8.7" text-anchor="end" fill="#000">1500</text>
<line x1="57.9" y1="329.1" x2="57.9" y2="331.6" stroke="#000" stroke-width="0.9"/>
<text x="60.7" y="338.0" font-size="7.2" text-anchor="end" fill="#000" transform="rotate(-50 60.7 338.0)">3</text>
<line x1="66.6" y1="329.1" x2="66.6" y2="331.6" stroke="#000" stroke-width="0.9"/>
<text x="69.4" y="338.0" font-size="7.2" text-anchor="end" fill="#000" transform="rotate(-50 69.4 338.0)">7</text>
<line x1="75.3" y1="329.1" x2="75.3" y2="331.6" stroke="#000" stroke-width="0.9"/>
<text x="78.1" y="338.0" font-size="7.2" text-anchor="end" fill="#000" transform="rotate(-50 78.1 338.0)">11</text>
<line x1="83.9" y1="329.1" x2="83.9" y2="331.6" stroke="#000" stroke-width="0.9"/>
<text x="86.7" y="338.0" font-size="7.2" text-anchor="end" fill="#000" transform="rotate(-50 86.7 338.0)">15</text>
<line x1="92.6" y1="329.1" x2="92.6" y2="331.6" stroke="#000" stroke-width="0.9"/>
<text x="95.4" y="338.0" font-size="7.2" text-anchor="end" fill="#000" transform="rotate(-50 95.4 338.0)">19</text>
<line x1="101.3" y1="329.1" x2="101.3" y2="331.6" stroke="#000" stroke-width="0.9"/>
<text x="104.1" y="338.0" font-size="7.2" text-anchor="end" fill="#000" transform="rotate(-50 104.1 338.0)">23</text>
<line x1="110.0" y1="329.1" x2="110.0" y2="331.6" stroke="#000" stroke-width="0.9"/>
<text x="112.8" y="338.0" font-size="7.2" text-anchor="end" fill="#000" transform="rotate(-50 112.8 338.0)">27</text>
<line x1="118.7" y1="329.1" x2="118.7" y2="331.6" stroke="#000" stroke-width="0.9"/>
<text x="121.5" y="338.0" font-size="7.2" text-anchor="end" fill="#000" transform="rotate(-50 121.5 338.0)">31</text>
<line x1="127.3" y1="329.1" x2="127.3" y2="331.6" stroke="#000" stroke-width="0.9"/>
<text x="130.2" y="338.0" font-size="7.2" text-anchor="end" fill="#000" transform="rotate(-50 130.2 338.0)">35</text>
<line x1="136.0" y1="329.1" x2="136.0" y2="331.6" stroke="#000" stroke-width="0.9"/>
<text x="138.8" y="338.0" font-size="7.2" text-anchor="end" fill="#000" transform="rotate(-50 138.8 338.0)">39</text>
<line x1="144.7" y1="329.1" x2="144.7" y2="331.6" stroke="#000" stroke-width="0.9"/>
<text x="147.5" y="338.0" font-size="7.2" text-anchor="end" fill="#000" transform="rotate(-50 147.5 338.0)">43</text>
<line x1="153.4" y1="329.1" x2="153.4" y2="331.6" stroke="#000" stroke-width="0.9"/>
<text x="156.2" y="338.0" font-size="7.2" text-anchor="end" fill="#000" transform="rotate(-50 156.2 338.0)">47</text>
<line x1="162.1" y1="329.1" x2="162.1" y2="331.6" stroke="#000" stroke-width="0.9"/>
<text x="164.9" y="338.0" font-size="7.2" text-anchor="end" fill="#000" transform="rotate(-50 164.9 338.0)">51</text>
<line x1="170.8" y1="329.1" x2="170.8" y2="331.6" stroke="#000" stroke-width="0.9"/>
<text x="173.6" y="338.0" font-size="7.2" text-anchor="end" fill="#000" transform="rotate(-50 173.6 338.0)">55</text>
<polyline points="53.6,323.2 57.9,322.6 62.2,322.0 66.6,321.5 70.9,321.1 75.3,321.5 79.6,321.9 83.9,321.5 88.3,320.2 92.6,318.9 97.0,317.6 101.3,316.3 105.7,315.0 110.0,314.9 114.3,315.3 118.7,315.8 123.0,316.2 127.3,316.4 131.7,316.6 136.0,316.7 140.4,316.9 144.7,317.1 149.0,316.9 153.4,316.7 157.7,316.4 162.1,316.2 166.4,316.0 170.8,315.8" fill="none" stroke="#ff9a1a" stroke-width="1.3"/>
<path d="M53.6 321.1V325.3M52.0 321.1h3.2M52.0 325.3h3.2M57.9 320.3V324.9M56.3 320.3h3.2M56.3 324.9h3.2M62.2 319.6V324.5M60.6 319.6h3.2M60.6 324.5h3.2M66.6 318.8V324.1M65.0 318.8h3.2M65.0 324.1h3.2M70.9 318.3V323.9M69.3 318.3h3.2M69.3 323.9h3.2M75.3 318.9V324.2M73.7 318.9h3.2M73.7 324.2h3.2M79.6 319.4V324.4M78.0 319.4h3.2M78.0 324.4h3.2M83.9 318.8V324.1M82.3 318.8h3.2M82.3 324.1h3.2M88.3 317.0V323.3M86.7 317.0h3.2M86.7 323.3h3.2M92.6 315.3V322.5M91.0 315.3h3.2M91.0 322.5h3.2M97.0 313.6V321.6M95.4 313.6h3.2M95.4 321.6h3.2M101.3 311.8V320.8M99.7 311.8h3.2M99.7 320.8h3.2M105.7 310.1V319.9M104.1 310.1h3.2M104.1 319.9h3.2M110.0 310.0V319.9M108.4 310.0h3.2M108.4 319.9h3.2M114.3 310.5V320.2M112.7 310.5h3.2M112.7 320.2h3.2M118.7 311.1V320.4M117.1 311.1h3.2M117.1 320.4h3.2M123.0 311.7V320.7M121.4 311.7h3.2M121.4 320.7h3.2M127.3 311.9V320.8M125.8 311.9h3.2M125.8 320.8h3.2M131.7 312.2V320.9M130.1 312.2h3.2M130.1 320.9h3.2M136.0 312.4V321.1M134.4 312.4h3.2M134.4 321.1h3.2M140.4 312.7V321.2M138.8 312.7h3.2M138.8 321.2h3.2M144.7 312.9V321.3M143.1 312.9h3.2M143.1 321.3h3.2M149.0 312.6V321.2M147.4 312.6h3.2M147.4 321.2h3.2M153.4 312.3V321.0M151.8 312.3h3.2M151.8 321.0h3.2M157.7 312.0V320.9M156.1 312.0h3.2M156.1 320.9h3.2M162.1 311.7V320.7M160.5 311.7h3.2M160.5 320.7h3.2M166.4 311.4V320.6M164.8 311.4h3.2M164.8 320.6h3.2M170.8 311.2V320.5M169.2 311.2h3.2M169.2 320.5h3.2" stroke="#ff9a1a" stroke-width="0.9" fill="none"/>
<path d="M53.6 323.2h0M57.9 322.6h0M62.2 322.0h0M66.6 321.5h0M70.9 321.1h0M75.3 321.5h0M79.6 321.9h0M83.9 321.5h0M88.3 320.2h0M92.6 318.9h0M97.0 317.6h0M101.3 316.3h0M105.7 315.0h0M110.0 314.9h0M114.3 315.3h0M118.7 315.8h0M123.0 316.2h0M127.3 316.4h0M131.7 316.6h0M136.0 316.7h0M140.4 316.9h0M144.7 317.1h0M149.0 316.9h0M153.4 316.7h0M157.7 316.4h0M162.1 316.2h0M166.4 316.0h0M170.8 315.8h0" stroke="#ff9a1a" stroke-width="2.6" stroke-linecap="round" fill="none"/>
<polyline points="53.6,323.2 57.9,322.6 62.2,322.1 66.6,321.5 70.9,320.9 75.3,320.4 79.6,319.8 83.9,319.4 88.3,319.2 92.6,319.0 97.0,318.8 101.3,318.6 105.7,318.3 110.0,318.0 114.3,317.6 118.7,317.2 123.0,315.6 127.3,313.9 131.7,312.2 136.0,311.7 140.4,311.3 144.7,310.9 149.0,310.4 153.4,310.0 157.7,309.5 162.1,308.6 166.4,307.7 170.8,306.8" fill="none" stroke="#118a1a" stroke-width="1.3"/>
<path d="M70.9 319.7V322.2M69.3 319.7h3.2M69.3 322.2h3.2M75.3 319.1V321.7M73.7 319.1h3.2M73.7 321.7h3.2M79.6 318.4V321.2M78.0 318.4h3.2M78.0 321.2h3.2M83.9 317.9V320.8M82.3 317.9h3.2M82.3 320.8h3.2M88.3 317.7V320.7M86.7 317.7h3.2M86.7 320.7h3.2M92.6 317.5V320.5M91.0 317.5h3.2M91.0 320.5h3.2M97.0 317.2V320.3M95.4 317.2h3.2M95.4 320.3h3.2M101.3 317.0V320.1M99.7 317.0h3.2M99.7 320.1h3.2M105.7 316.7V320.0M104.1 316.7h3.2M104.1 320.0h3.2M110.0 316.3V319.7M108.4 316.3h3.2M108.4 319.7h3.2M114.3 315.9V319.3M112.7 315.9h3.2M112.7 319.3h3.2M118.7 315.4V319.0M117.1 315.4h3.2M117.1 319.0h3.2M123.0 313.6V317.6M121.4 313.6h3.2M121.4 317.6h3.2M127.3 311.6V316.2M125.8 311.6h3.2M125.8 316.2h3.2M131.7 309.6V314.7M130.1 309.6h3.2M130.1 314.7h3.2M136.0 309.1V314.3M134.4 309.1h3.2M134.4 314.3h3.2M140.4 308.6V314.0M138.8 308.6h3.2M138.8 314.0h3.2M144.7 308.1V313.6M143.1 308.1h3.2M143.1 313.6h3.2M149.0 307.6V313.2M147.4 307.6h3.2M147.4 313.2h3.2M153.4 307.1V312.9M151.8 307.1h3.2M151.8 312.9h3.2M157.7 306.5V312.4M156.1 306.5h3.2M156.1 312.4h3.2M162.1 305.5V311.7M160.5 305.5h3.2M160.5 311.7h3.2M166.4 304.5V310.9M164.8 304.5h3.2M164.8 310.9h3.2M170.8 303.5V310.2M169.2 303.5h3.2M169.2 310.2h3.2" stroke="#118a1a" stroke-width="0.9" fill="none"/>
<path d="M53.6 323.2h0M57.9 322.6h0M62.2 322.1h0M66.6 321.5h0M70.9 320.9h0M75.3 320.4h0M79.6 319.8h0M83.9 319.4h0M88.3 319.2h0M92.6 319.0h0M97.0 318.8h0M101.3 318.6h0M105.7 318.3h0M110.0 318.0h0M114.3 317.6h0M118.7 317.2h0M123.0 315.6h0M127.3 313.9h0M131.7 312.2h0M136.0 311.7h0M140.4 311.3h0M144.7 310.9h0M149.0 310.4h0M153.4 310.0h0M157.7 309.5h0M162.1 308.6h0M166.4 307.7h0M170.8 306.8h0" stroke="#118a1a" stroke-width="2.6" stroke-linecap="round" fill="none"/>
<polyline points="53.6,323.7 57.9,322.6 62.2,321.6 66.6,320.5 70.9,319.4 75.3,318.3 79.6,317.3 83.9,315.9 88.3,314.3 92.6,312.6 97.0,311.0 101.3,309.3 105.7,307.7 110.0,306.3 114.3,305.0 118.7,303.7 123.0,302.5 127.3,301.2 131.7,299.9 136.0,297.1 140.4,294.4 144.7,291.6 149.0,288.9 153.4,287.9 157.7,286.9 162.1,286.0 166.4,285.1" fill="none" stroke="#9a45f5" stroke-width="1.3"/>
<path d="M83.9 314.6V317.2M82.3 314.6h3.2M82.3 317.2h3.2M88.3 312.8V315.7M86.7 312.8h3.2M86.7 315.7h3.2M92.6 311.0V314.3M91.0 311.0h3.2M91.0 314.3h3.2M97.0 309.2V312.8M95.4 309.2h3.2M95.4 312.8h3.2M101.3 307.4V311.3M99.7 307.4h3.2M99.7 311.3h3.2M105.7 305.6V309.8M104.1 305.6h3.2M104.1 309.8h3.2M110.0 304.0V308.6M108.4 304.0h3.2M108.4 308.6h3.2M114.3 302.6V307.4M112.7 302.6h3.2M112.7 307.4h3.2M118.7 301.2V306.3M117.1 301.2h3.2M117.1 306.3h3.2M123.0 299.8V305.1M121.4 299.8h3.2M121.4 305.1h3.2M127.3 298.4V304.0M125.8 298.4h3.2M125.8 304.0h3.2M131.7 297.0V302.8M130.1 297.0h3.2M130.1 302.8h3.2M136.0 293.9V300.3M134.4 293.9h3.2M134.4 300.3h3.2M140.4 290.9V297.9M138.8 290.9h3.2M138.8 297.9h3.2M144.7 287.9V295.4M143.1 287.9h3.2M143.1 295.4h3.2M149.0 284.9V292.9M147.4 284.9h3.2M147.4 292.9h3.2M153.4 283.7V292.0M151.8 283.7h3.2M151.8 292.0h3.2M157.7 282.7V291.2M156.1 282.7h3.2M156.1 291.2h3.2M162.1 281.7V290.3M160.5 281.7h3.2M160.5 290.3h3.2M166.4 280.7V289.5M164.8 280.7h3.2M164.8 289.5h3.2" stroke="#9a45f5" stroke-width="0.9" fill="none"/>
<path d="M53.6 323.7h0M57.9 322.6h0M62.2 321.6h0M66.6 320.5h0M70.9 319.4h0M75.3 318.3h0M79.6 317.3h0M83.9 315.9h0M88.3 314.3h0M92.6 312.6h0M97.0 311.0h0M101.3 309.3h0M105.7 307.7h0M110.0 306.3h0M114.3 305.0h0M118.7 303.7h0M123.0 302.5h0M127.3 301.2h0M131.7 299.9h0M136.0 297.1h0M140.4 294.4h0M144.7 291.6h0M149.0 288.9h0M153.4 287.9h0M157.7 286.9h0M162.1 286.0h0M166.4 285.1h0" stroke="#9a45f5" stroke-width="2.6" stroke-linecap="round" fill="none"/>
<polyline points="53.6,323.7 57.9,322.9 62.2,322.1 66.6,321.2 70.9,320.4 75.3,319.6 79.6,318.8 83.9,317.7 88.3,316.4 92.6,315.1 97.0,313.8 101.3,312.5 105.7,311.2 110.0,310.0 114.3,308.7 118.7,307.4 123.0,306.1 127.3,304.8 131.7,303.5 136.0,300.5 140.4,297.5 144.7,294.5 149.0,291.5 153.4,288.5 157.7,286.2 162.1,286.1" fill="none" stroke="#1e9af0" stroke-width="1.3"/>
<path d="M53.6 322.4V325.1M52.0 322.4h3.2M52.0 325.1h3.2M57.9 321.3V324.4M56.3 321.3h3.2M56.3 324.4h3.2M62.2 320.3V323.8M60.6 320.3h3.2M60.6 323.8h3.2M66.6 319.3V323.2M65.0 319.3h3.2M65.0 323.2h3.2M70.9 318.2V322.6M69.3 318.2h3.2M69.3 322.6h3.2M75.3 317.2V322.0M73.7 317.2h3.2M73.7 322.0h3.2M79.6 316.2V321.3M78.0 316.2h3.2M78.0 321.3h3.2M83.9 314.8V320.5M82.3 314.8h3.2M82.3 320.5h3.2M88.3 313.2V319.6M86.7 313.2h3.2M86.7 319.6h3.2M92.6 311.6V318.6M91.0 311.6h3.2M91.0 318.6h3.2M97.0 310.0V317.6M95.4 310.0h3.2M95.4 317.6h3.2M101.3 308.4V316.7M99.7 308.4h3.2M99.7 316.7h3.2M105.7 306.8V315.7M104.1 306.8h3.2M104.1 315.7h3.2M110.0 305.2V314.7M108.4 305.2h3.2M108.4 314.7h3.2M114.3 303.6V313.8M112.7 303.6h3.2M112.7 313.8h3.2M118.7 302.0V312.8M117.1 302.0h3.2M117.1 312.8h3.2M123.0 300.4V311.9M121.4 300.4h3.2M121.4 311.9h3.2M127.3 298.8V310.9M125.8 298.8h3.2M125.8 310.9h3.2M131.7 297.2V309.9M130.1 297.2h3.2M130.1 309.9h3.2M136.0 293.4V307.7M134.4 293.4h3.2M134.4 307.7h3.2M140.4 289.6V305.4M138.8 289.6h3.2M138.8 305.4h3.2M144.7 285.9V303.2M143.1 285.9h3.2M143.1 303.2h3.2M149.0 282.1V300.9M147.4 282.1h3.2M147.4 300.9h3.2M153.4 278.4V298.7M151.8 278.4h3.2M151.8 298.7h3.2M157.7 275.5V296.9M156.1 275.5h3.2M156.1 296.9h3.2M162.1 275.3V296.8M160.5 275.3h3.2M160.5 296.8h3.2" stroke="#1e9af0" stroke-width="0.9" fill="none"/>
<path d="M53.6 323.7h0M57.9 322.9h0M62.2 322.1h0M66.6 321.2h0M70.9 320.4h0M75.3 319.6h0M79.6 318.8h0M83.9 317.7h0M88.3 316.4h0M92.6 315.1h0M97.0 313.8h0M101.3 312.5h0M105.7 311.2h0M110.0 310.0h0M114.3 308.7h0M118.7 307.4h0M123.0 306.1h0M127.3 304.8h0M131.7 303.5h0M136.0 300.5h0M140.4 297.5h0M144.7 294.5h0M149.0 291.5h0M153.4 288.5h0M157.7 286.2h0M162.1 286.1h0" stroke="#1e9af0" stroke-width="2.6" stroke-linecap="round" fill="none"/>
<polyline points="53.6,322.6 57.9,320.6 62.2,318.6 66.6,316.6 70.9,314.3 75.3,311.6 79.6,308.8 83.9,306.3 88.3,304.2 92.6,302.0 97.0,299.4 101.3,296.4 105.7,293.4 110.0,291.2 114.3,289.5 118.7,287.8 123.0,286.4 127.3,285.1 131.7,283.8 136.0,282.2 140.4,280.7 144.7,279.6" fill="none" stroke="#f5321e" stroke-width="1.3"/>
<path d="M75.3 310.2V313.0M73.7 310.2h3.2M73.7 313.0h3.2M79.6 307.2V310.5M78.0 307.2h3.2M78.0 310.5h3.2M83.9 304.5V308.2M82.3 304.5h3.2M82.3 308.2h3.2M88.3 302.2V306.2M86.7 302.2h3.2M86.7 306.2h3.2M92.6 299.9V304.2M91.0 299.9h3.2M91.0 304.2h3.2M97.0 295.0V303.9M95.4 295.0h3.2M95.4 303.9h3.2M101.3 291.5V301.3M99.7 291.5h3.2M99.7 301.3h3.2M105.7 288.0V298.7M104.1 288.0h3.2M104.1 298.7h3.2M110.0 285.6V296.9M108.4 285.6h3.2M108.4 296.9h3.2M114.3 283.6V295.4M112.7 283.6h3.2M112.7 295.4h3.2M118.7 281.6V294.0M117.1 281.6h3.2M117.1 294.0h3.2M123.0 280.0V292.8M121.4 280.0h3.2M121.4 292.8h3.2M127.3 278.5V291.7M125.8 278.5h3.2M125.8 291.7h3.2M131.7 277.0V290.6M130.1 277.0h3.2M130.1 290.6h3.2M136.0 275.2V289.3M134.4 275.2h3.2M134.4 289.3h3.2M140.4 273.4V287.9M138.8 273.4h3.2M138.8 287.9h3.2M144.7 272.2V287.0M143.1 272.2h3.2M143.1 287.0h3.2" stroke="#f5321e" stroke-width="0.9" fill="none"/>
<path d="M53.6 322.6h0M57.9 320.6h0M62.2 318.6h0M66.6 316.6h0M70.9 314.3h0M75.3 311.6h0M79.6 308.8h0M83.9 306.3h0M88.3 304.2h0M92.6 302.0h0M97.0 299.4h0M101.3 296.4h0M105.7 293.4h0M110.0 291.2h0M114.3 289.5h0M118.7 287.8h0M123.0 286.4h0M127.3 285.1h0M131.7 283.8h0M136.0 282.2h0M140.4 280.7h0M144.7 279.6h0" stroke="#f5321e" stroke-width="2.6" stroke-linecap="round" fill="none"/>
<polyline points="53.6,323.2 57.9,321.2 62.2,319.3 66.6,317.3 70.9,315.3 75.3,313.1 79.6,311.0 83.9,308.8 88.3,306.7 92.6,304.5 97.0,303.1 101.3,302.2 105.7,301.3 110.0,299.6 114.3,297.4 118.7,295.3 123.0,293.8 127.3,292.6 131.7,291.3 136.0,288.7 140.4,286.1 144.7,283.4 149.0,279.9 153.4,276.4 157.7,272.8" fill="none" stroke="#000000" stroke-width="1.3"/>
<path d="M92.6 303.3V305.7M91.0 303.3h3.2M91.0 305.7h3.2M97.0 301.8V304.4M95.4 301.8h3.2M95.4 304.4h3.2M101.3 300.9V303.5M99.7 300.9h3.2M99.7 303.5h3.2M105.7 299.9V302.7M104.1 299.9h3.2M104.1 302.7h3.2M110.0 298.1V301.0M108.4 298.1h3.2M108.4 301.0h3.2M114.3 295.8V299.0M112.7 295.8h3.2M112.7 299.0h3.2M118.7 291.2V299.3M117.1 291.2h3.2M117.1 299.3h3.2M123.0 289.6V298.1M121.4 289.6h3.2M121.4 298.1h3.2M127.3 288.2V296.9M125.8 288.2h3.2M125.8 296.9h3.2M131.7 286.7V295.8M130.1 286.7h3.2M130.1 295.8h3.2M136.0 283.9V293.5M134.4 283.9h3.2M134.4 293.5h3.2M140.4 281.0V291.3M138.8 281.0h3.2M138.8 291.3h3.2M144.7 278.0V288.9M143.1 278.0h3.2M143.1 288.9h3.2M149.0 274.0V285.8M147.4 274.0h3.2M147.4 285.8h3.2M153.4 270.0V282.7M151.8 270.0h3.2M151.8 282.7h3.2M157.7 266.1V279.6M156.1 266.1h3.2M156.1 279.6h3.2" stroke="#000000" stroke-width="0.9" fill="none"/>
<path d="M53.6 323.2h0M57.9 321.2h0M62.2 319.3h0M66.6 317.3h0M70.9 315.3h0M75.3 313.1h0M79.6 311.0h0M83.9 308.8h0M88.3 306.7h0M92.6 304.5h0M97.0 303.1h0M101.3 302.2h0M105.7 301.3h0M110.0 299.6h0M114.3 297.4h0M118.7 295.3h0M123.0 293.8h0M127.3 292.6h0M131.7 291.3h0M136.0 288.7h0M140.4 286.1h0M144.7 283.4h0M149.0 279.9h0M153.4 276.4h0M157.7 272.8h0" stroke="#000000" stroke-width="2.6" stroke-linecap="round" fill="none"/>
<text x="112.0" y="253.5" font-size="8.9" font-weight="bold" text-anchor="middle" fill="#000">PR4</text>
<text x="-0.8" y="231.9" font-size="19" font-weight="bold" text-anchor="start" fill="#000">G</text>
<text x="23.6" y="287.5" font-size="9.15" text-anchor="middle" fill="#000" transform="rotate(-90 23.6 287.5)">Tumor Volume (mm<tspan font-size="6" dy="-3.4">3</tspan><tspan dy="3.4">)</tspan></text>
<text x="112.5" y="356.6" font-size="8.75" text-anchor="middle" fill="#000">Days on Treatment</text>
<text x="173.7" y="296.0" font-size="5.6" text-anchor="start" fill="#118a1a">P=0.0111</text>
<text x="173.7" y="303.9" font-size="5.6" text-anchor="start" fill="#ff9a1a">P=0.005</text>
<polyline points="179.6,308.3 185.4,308.3 185.4,318.0 179.6,318.0" fill="none" stroke="#000" stroke-width="1.1"/>
<text x="186.9" y="315.8" font-size="6.8" text-anchor="start" fill="#000">ns</text>
<line x1="260.4" y1="22.7" x2="260.4" y2="100.7" stroke="#000" stroke-width="1.1"/>
<line x1="257.4" y1="97.2" x2="260.4" y2="97.2" stroke="#000" stroke-width="1"/>
<text x="256.4" y="100.4" font-size="8.9" text-anchor="end" fill="#000">0</text>
<line x1="257.4" y1="78.6" x2="260.4" y2="78.6" stroke="#000" stroke-width="1"/>
<text x="256.4" y="81.8" font-size="8.9" text-anchor="end" fill="#000">500</text>
<line x1="257.4" y1="60.0" x2="260.4" y2="60.0" stroke="#000" stroke-width="1"/>
<text x="256.4" y="63.1" font-size="8.9" text-anchor="end" fill="#000">1000</text>
<line x1="257.4" y1="41.3" x2="260.4" y2="41.3" stroke="#000" stroke-width="1"/>
<text x="256.4" y="44.5" font-size="8.9" text-anchor="end" fill="#000">1500</text>
<line x1="257.4" y1="22.7" x2="260.4" y2="22.7" stroke="#000" stroke-width="1"/>
<text x="256.4" y="25.9" font-size="8.9" text-anchor="end" fill="#000">2000</text>
<rect x="260.8" y="35.7" width="2.0" height="61.5" fill="#000000"/>
<circle cx="261.8" cy="36.3" r="1.4" fill="#000000"/>
<rect x="263.9" y="40.2" width="2.0" height="57.0" fill="#000000"/>
<circle cx="264.9" cy="40.8" r="1.4" fill="#000000"/>
<rect x="267.0" y="52.3" width="2.0" height="44.9" fill="#000000"/>
<circle cx="268.0" cy="52.9" r="1.4" fill="#000000"/>
<rect x="270.1" y="54.2" width="2.0" height="43.0" fill="#000000"/>
<circle cx="271.1" cy="54.8" r="1.4" fill="#000000"/>
<rect x="273.2" y="59.4" width="2.0" height="37.8" fill="#000000"/>
<circle cx="274.2" cy="60.0" r="1.4" fill="#000000"/>
<rect x="278.5" y="48.5" width="2.0" height="48.7" fill="#f5321e"/>
<circle cx="279.5" cy="49.1" r="1.4" fill="#f5321e"/>
<rect x="281.4" y="53.4" width="2.0" height="43.8" fill="#f5321e"/>
<circle cx="282.4" cy="54.0" r="1.4" fill="#f5321e"/>
<rect x="284.4" y="65.9" width="2.0" height="31.3" fill="#f5321e"/>
<circle cx="285.4" cy="66.5" r="1.4" fill="#f5321e"/>
<rect x="287.4" y="75.7" width="2.0" height="21.5" fill="#f5321e"/>
<circle cx="288.4" cy="76.3" r="1.4" fill="#f5321e"/>
<rect x="290.3" y="80.9" width="2.0" height="16.3" fill="#f5321e"/>
<circle cx="291.3" cy="81.5" r="1.4" fill="#f5321e"/>
<rect x="295.5" y="28.1" width="2.0" height="69.1" fill="#1e9af0"/>
<rect x="298.6" y="43.2" width="2.0" height="54.0" fill="#1e9af0"/>
<rect x="301.7" y="53.2" width="2.0" height="44.0" fill="#1e9af0"/>
<rect x="304.8" y="84.9" width="2.0" height="12.3" fill="#1e9af0"/>
<rect x="312.6" y="77.5" width="2.0" height="19.7" fill="#9a45f5"/>
<circle cx="313.6" cy="78.1" r="1.4" fill="#9a45f5"/>
<rect x="315.7" y="80.4" width="2.0" height="16.8" fill="#9a45f5"/>
<circle cx="316.7" cy="81.0" r="1.4" fill="#9a45f5"/>
<rect x="318.7" y="83.1" width="2.0" height="14.1" fill="#9a45f5"/>
<circle cx="319.7" cy="83.7" r="1.4" fill="#9a45f5"/>
<rect x="321.8" y="87.9" width="2.0" height="9.3" fill="#9a45f5"/>
<circle cx="322.8" cy="88.5" r="1.4" fill="#9a45f5"/>
<rect x="324.9" y="92.1" width="2.0" height="5.1" fill="#9a45f5"/>
<circle cx="325.9" cy="92.7" r="1.4" fill="#9a45f5"/>
<rect x="329.8" y="76.3" width="2.0" height="20.9" fill="#ff33ff"/>
<rect x="332.8" y="84.5" width="2.0" height="12.7" fill="#ff33ff"/>
<rect x="335.8" y="85.1" width="2.0" height="12.1" fill="#ff33ff"/>
<rect x="338.8" y="86.4" width="2.0" height="10.8" fill="#ff33ff"/>
<rect x="341.8" y="94.1" width="2.0" height="3.1" fill="#ff33ff"/>
<rect x="346.8" y="89.2" width="2.0" height="8.0" fill="#118a1a"/>
<circle cx="347.8" cy="89.8" r="1.4" fill="#118a1a"/>
<rect x="349.8" y="91.7" width="2.0" height="5.5" fill="#118a1a"/>
<circle cx="350.8" cy="92.3" r="1.4" fill="#118a1a"/>
<rect x="352.8" y="92.0" width="2.0" height="5.2" fill="#118a1a"/>
<circle cx="353.8" cy="92.6" r="1.4" fill="#118a1a"/>
<rect x="355.8" y="93.0" width="2.0" height="4.2" fill="#118a1a"/>
<circle cx="356.8" cy="93.6" r="1.4" fill="#118a1a"/>
<rect x="358.8" y="97.2" width="2.0" height="3.5" fill="#118a1a"/>
<circle cx="359.8" cy="100.7" r="1.4" fill="#118a1a"/>
<rect x="363.7" y="93.9" width="2.0" height="3.3" fill="#ff9a1a"/>
<circle cx="364.7" cy="94.5" r="1.4" fill="#ff9a1a"/>
<rect x="366.8" y="94.8" width="2.0" height="2.4" fill="#ff9a1a"/>
<circle cx="367.8" cy="95.4" r="1.4" fill="#ff9a1a"/>
<rect x="369.9" y="97.2" width="2.0" height="0.7" fill="#ff9a1a"/>
<circle cx="370.9" cy="97.9" r="1.4" fill="#ff9a1a"/>
<rect x="373.0" y="97.2" width="2.0" height="0.7" fill="#ff9a1a"/>
<circle cx="374.0" cy="97.9" r="1.4" fill="#ff9a1a"/>
<line x1="260.4" y1="97.2" x2="379.0" y2="97.2" stroke="#000" stroke-width="1.4"/>
<line x1="260.4" y1="100.5" x2="379.0" y2="100.5" stroke="#000" stroke-width="1.1"/>
<line x1="261.8" y1="100.5" x2="261.8" y2="104.3" stroke="#000" stroke-width="0.9"/>
<text x="261.8" y="111.0" font-size="6.6" text-anchor="middle" fill="#000">1</text>
<line x1="267.8" y1="100.5" x2="267.8" y2="104.3" stroke="#000" stroke-width="0.9"/>
<text x="267.8" y="111.0" font-size="6.6" text-anchor="middle" fill="#000">3</text>
<line x1="273.8" y1="100.5" x2="273.8" y2="104.3" stroke="#000" stroke-width="0.9"/>
<text x="273.8" y="111.0" font-size="6.6" text-anchor="middle" fill="#000">5</text>
<line x1="279.5" y1="100.5" x2="279.5" y2="104.3" stroke="#000" stroke-width="0.9"/>
<text x="279.5" y="111.0" font-size="6.6" text-anchor="middle" fill="#000">1</text>
<line x1="285.5" y1="100.5" x2="285.5" y2="104.3" stroke="#000" stroke-width="0.9"/>
<text x="285.5" y="111.0" font-size="6.6" text-anchor="middle" fill="#000">3</text>
<line x1="291.5" y1="100.5" x2="291.5" y2="104.3" stroke="#000" stroke-width="0.9"/>
<text x="291.5" y="111.0" font-size="6.6" text-anchor="middle" fill="#000">5</text>
<line x1="296.5" y1="100.5" x2="296.5" y2="104.3" stroke="#000" stroke-width="0.9"/>
<text x="296.5" y="111.0" font-size="6.6" text-anchor="middle" fill="#000">1</text>
<line x1="302.5" y1="100.5" x2="302.5" y2="104.3" stroke="#000" stroke-width="0.9"/>
<text x="302.5" y="111.0" font-size="6.6" text-anchor="middle" fill="#000">3</text>
<line x1="308.5" y1="100.5" x2="308.5" y2="104.3" stroke="#000" stroke-width="0.9"/>
<text x="308.5" y="111.0" font-size="6.6" text-anchor="middle" fill="#000">5</text>
<line x1="313.6" y1="100.5" x2="313.6" y2="104.3" stroke="#000" stroke-width="0.9"/>
<text x="313.6" y="111.0" font-size="6.6" text-anchor="middle" fill="#000">1</text>
<line x1="319.6" y1="100.5" x2="319.6" y2="104.3" stroke="#000" stroke-width="0.9"/>
<text x="319.6" y="111.0" font-size="6.6" text-anchor="middle" fill="#000">3</text>
<line x1="325.6" y1="100.5" x2="325.6" y2="104.3" stroke="#000" stroke-width="0.9"/>
<text x="325.6" y="111.0" font-size="6.6" text-anchor="middle" fill="#000">5</text>
<line x1="330.8" y1="100.5" x2="330.8" y2="104.3" stroke="#000" stroke-width="0.9"/>
<text x="330.8" y="111.0" font-size="6.6" text-anchor="middle" fill="#000">1</text>
<line x1="336.8" y1="100.5" x2="336.8" y2="104.3" stroke="#000" stroke-width="0.9"/>
<text x="336.8" y="111.0" font-size="6.6" text-anchor="middle" fill="#000">3</text>
<line x1="342.8" y1="100.5" x2="342.8" y2="104.3" stroke="#000" stroke-width="0.9"/>
<text x="342.8" y="111.0" font-size="6.6" text-anchor="middle" fill="#000">5</text>
<line x1="347.8" y1="100.5" x2="347.8" y2="104.3" stroke="#000" stroke-width="0.9"/>
<text x="347.8" y="111.0" font-size="6.6" text-anchor="middle" fill="#000">1</text>
<line x1="353.8" y1="100.5" x2="353.8" y2="104.3" stroke="#000" stroke-width="0.9"/>
<text x="353.8" y="111.0" font-size="6.6" text-anchor="middle" fill="#000">3</text>
<line x1="359.8" y1="100.5" x2="359.8" y2="104.3" stroke="#000" stroke-width="0.9"/>
<text x="359.8" y="111.0" font-size="6.6" text-anchor="middle" fill="#000">5</text>
<line x1="364.7" y1="100.5" x2="364.7" y2="104.3" stroke="#000" stroke-width="0.9"/>
<text x="364.7" y="111.0" font-size="6.6" text-anchor="middle" fill="#000">1</text>
<line x1="370.7" y1="100.5" x2="370.7" y2="104.3" stroke="#000" stroke-width="0.9"/>
<text x="370.7" y="111.0" font-size="6.6" text-anchor="middle" fill="#000">3</text>
<line x1="376.7" y1="100.5" x2="376.7" y2="104.3" stroke="#000" stroke-width="0.9"/>
<text x="376.7" y="111.0" font-size="6.6" text-anchor="middle" fill="#000">5</text>
<text x="319.6" y="18.0" font-size="8.9" font-weight="bold" text-anchor="middle" fill="#000">PR1</text>
<text x="232.1" y="60.0" font-size="8.0" text-anchor="middle" fill="#000" transform="rotate(-90 232.1 60.0)">% Change in Tumor Volume</text>
<text x="195.6" y="20.2" font-size="19" font-weight="bold" text-anchor="start" fill="#000">B</text>
<line x1="257.6" y1="141.8" x2="257.6" y2="218.5" stroke="#000" stroke-width="1.1"/>
<line x1="254.6" y1="215.0" x2="257.6" y2="215.0" stroke="#000" stroke-width="1"/>
<text x="253.6" y="218.0" font-size="8.4" text-anchor="end" fill="#000">0</text>
<line x1="254.6" y1="196.7" x2="257.6" y2="196.7" stroke="#000" stroke-width="1"/>
<text x="253.6" y="199.7" font-size="8.4" text-anchor="end" fill="#000">500</text>
<line x1="254.6" y1="178.4" x2="257.6" y2="178.4" stroke="#000" stroke-width="1"/>
<text x="253.6" y="181.4" font-size="8.4" text-anchor="end" fill="#000">1000</text>
<line x1="254.6" y1="160.1" x2="257.6" y2="160.1" stroke="#000" stroke-width="1"/>
<text x="253.6" y="163.1" font-size="8.4" text-anchor="end" fill="#000">1500</text>
<line x1="254.6" y1="141.8" x2="257.6" y2="141.8" stroke="#000" stroke-width="1"/>
<text x="253.6" y="144.8" font-size="8.4" text-anchor="end" fill="#000">2000</text>
<rect x="259.1" y="141.8" width="2.9" height="73.2" fill="#000000"/>
<circle cx="260.5" cy="142.4" r="1.508" fill="#000000"/>
<rect x="263.1" y="141.8" width="2.9" height="73.2" fill="#000000"/>
<circle cx="264.6" cy="142.4" r="1.508" fill="#000000"/>
<rect x="267.2" y="157.2" width="2.9" height="57.8" fill="#000000"/>
<circle cx="268.6" cy="157.8" r="1.508" fill="#000000"/>
<rect x="271.3" y="163.5" width="2.9" height="51.5" fill="#000000"/>
<circle cx="272.7" cy="164.1" r="1.508" fill="#000000"/>
<rect x="275.3" y="166.2" width="2.9" height="48.8" fill="#000000"/>
<circle cx="276.8" cy="166.8" r="1.508" fill="#000000"/>
<rect x="282.2" y="141.8" width="2.9" height="73.2" fill="#f5321e"/>
<circle cx="283.6" cy="142.4" r="1.508" fill="#f5321e"/>
<rect x="286.3" y="145.0" width="2.9" height="70.0" fill="#f5321e"/>
<circle cx="287.7" cy="145.6" r="1.508" fill="#f5321e"/>
<rect x="290.4" y="158.3" width="2.9" height="56.7" fill="#f5321e"/>
<circle cx="291.9" cy="158.9" r="1.508" fill="#f5321e"/>
<rect x="294.5" y="161.7" width="2.9" height="53.3" fill="#f5321e"/>
<circle cx="296.0" cy="162.3" r="1.508" fill="#f5321e"/>
<rect x="298.7" y="185.5" width="2.9" height="29.5" fill="#f5321e"/>
<circle cx="300.1" cy="186.1" r="1.508" fill="#f5321e"/>
<rect x="305.7" y="165.8" width="2.9" height="49.2" fill="#1e9af0"/>
<circle cx="307.1" cy="166.4" r="1.508" fill="#1e9af0"/>
<rect x="309.7" y="174.2" width="2.9" height="40.8" fill="#1e9af0"/>
<circle cx="311.2" cy="174.8" r="1.508" fill="#1e9af0"/>
<rect x="313.8" y="184.0" width="2.9" height="31.0" fill="#1e9af0"/>
<circle cx="315.2" cy="184.6" r="1.508" fill="#1e9af0"/>
<rect x="317.8" y="187.8" width="2.9" height="27.2" fill="#1e9af0"/>
<circle cx="319.2" cy="188.4" r="1.508" fill="#1e9af0"/>
<rect x="321.9" y="196.2" width="2.9" height="18.8" fill="#1e9af0"/>
<circle cx="323.3" cy="196.8" r="1.508" fill="#1e9af0"/>
<rect x="329.4" y="189.4" width="2.9" height="25.6" fill="#9a45f5"/>
<circle cx="330.8" cy="190.0" r="1.508" fill="#9a45f5"/>
<rect x="333.4" y="192.3" width="2.9" height="22.7" fill="#9a45f5"/>
<circle cx="334.8" cy="192.9" r="1.508" fill="#9a45f5"/>
<rect x="337.4" y="193.9" width="2.9" height="21.1" fill="#9a45f5"/>
<circle cx="338.8" cy="194.5" r="1.508" fill="#9a45f5"/>
<rect x="341.4" y="206.1" width="2.9" height="8.9" fill="#9a45f5"/>
<circle cx="342.8" cy="206.7" r="1.508" fill="#9a45f5"/>
<rect x="345.4" y="207.0" width="2.9" height="8.0" fill="#9a45f5"/>
<circle cx="346.8" cy="207.6" r="1.508" fill="#9a45f5"/>
<rect x="352.8" y="215.0" width="2.9" height="0.3" fill="#ff9a1a"/>
<rect x="356.8" y="215.0" width="2.9" height="0.3" fill="#ff9a1a"/>
<rect x="360.8" y="215.0" width="2.9" height="0.3" fill="#ff9a1a"/>
<rect x="364.8" y="215.0" width="2.9" height="0.3" fill="#ff9a1a"/>
<rect x="368.8" y="215.0" width="2.9" height="0.3" fill="#ff9a1a"/>
<line x1="257.6" y1="215.0" x2="372.6" y2="215.0" stroke="#000" stroke-width="1.4"/>
<line x1="257.6" y1="218.3" x2="372.6" y2="218.3" stroke="#000" stroke-width="1.1"/>
<line x1="260.7" y1="218.3" x2="260.7" y2="222.1" stroke="#000" stroke-width="0.9"/>
<text x="260.7" y="227.0" font-size="5.8" text-anchor="middle" fill="#000">1</text>
<line x1="264.7" y1="218.3" x2="264.7" y2="222.1" stroke="#000" stroke-width="0.9"/>
<text x="264.7" y="227.0" font-size="5.8" text-anchor="middle" fill="#000">2</text>
<line x1="268.7" y1="218.3" x2="268.7" y2="222.1" stroke="#000" stroke-width="0.9"/>
<text x="268.7" y="227.0" font-size="5.8" text-anchor="middle" fill="#000">3</text>
<line x1="272.7" y1="218.3" x2="272.7" y2="222.1" stroke="#000" stroke-width="0.9"/>
<text x="272.7" y="227.0" font-size="5.8" text-anchor="middle" fill="#000">4</text>
<line x1="276.7" y1="218.3" x2="276.7" y2="222.1" stroke="#000" stroke-width="0.9"/>
<text x="276.7" y="227.0" font-size="5.8" text-anchor="middle" fill="#000">5</text>
<line x1="283.8" y1="218.3" x2="283.8" y2="222.1" stroke="#000" stroke-width="0.9"/>
<text x="283.8" y="227.0" font-size="5.8" text-anchor="middle" fill="#000">1</text>
<line x1="287.8" y1="218.3" x2="287.8" y2="222.1" stroke="#000" stroke-width="0.9"/>
<text x="287.8" y="227.0" font-size="5.8" text-anchor="middle" fill="#000">2</text>
<line x1="291.8" y1="218.3" x2="291.8" y2="222.1" stroke="#000" stroke-width="0.9"/>
<text x="291.8" y="227.0" font-size="5.8" text-anchor="middle" fill="#000">3</text>
<line x1="295.8" y1="218.3" x2="295.8" y2="222.1" stroke="#000" stroke-width="0.9"/>
<text x="295.8" y="227.0" font-size="5.8" text-anchor="middle" fill="#000">4</text>
<line x1="299.8" y1="218.3" x2="299.8" y2="222.1" stroke="#000" stroke-width="0.9"/>
<text x="299.8" y="227.0" font-size="5.8" text-anchor="middle" fill="#000">5</text>
<line x1="307.3" y1="218.3" x2="307.3" y2="222.1" stroke="#000" stroke-width="0.9"/>
<text x="307.3" y="227.0" font-size="5.8" text-anchor="middle" fill="#000">1</text>
<line x1="311.3" y1="218.3" x2="311.3" y2="222.1" stroke="#000" stroke-width="0.9"/>
<text x="311.3" y="227.0" font-size="5.8" text-anchor="middle" fill="#000">2</text>
<line x1="315.3" y1="218.3" x2="315.3" y2="222.1" stroke="#000" stroke-width="0.9"/>
<text x="315.3" y="227.0" font-size="5.8" text-anchor="middle" fill="#000">3</text>
<line x1="319.3" y1="218.3" x2="319.3" y2="222.1" stroke="#000" stroke-width="0.9"/>
<text x="319.3" y="227.0" font-size="5.8" text-anchor="middle" fill="#000">4</text>
<line x1="323.3" y1="218.3" x2="323.3" y2="222.1" stroke="#000" stroke-width="0.9"/>
<text x="323.3" y="227.0" font-size="5.8" text-anchor="middle" fill="#000">5</text>
<line x1="330.8" y1="218.3" x2="330.8" y2="222.1" stroke="#000" stroke-width="0.9"/>
<text x="330.8" y="227.0" font-size="5.8" text-anchor="middle" fill="#000">1</text>
<line x1="334.8" y1="218.3" x2="334.8" y2="222.1" stroke="#000" stroke-width="0.9"/>
<text x="334.8" y="227.0" font-size="5.8" text-anchor="middle" fill="#000">2</text>
<line x1="338.8" y1="218.3" x2="338.8" y2="222.1" stroke="#000" stroke-width="0.9"/>
<text x="338.8" y="227.0" font-size="5.8" text-anchor="middle" fill="#000">3</text>
<line x1="342.8" y1="218.3" x2="342.8" y2="222.1" stroke="#000" stroke-width="0.9"/>
<text x="342.8" y="227.0" font-size="5.8" text-anchor="middle" fill="#000">4</text>
<line x1="346.8" y1="218.3" x2="346.8" y2="222.1" stroke="#000" stroke-width="0.9"/>
<text x="346.8" y="227.0" font-size="5.8" text-anchor="middle" fill="#000">5</text>
<line x1="354.2" y1="218.3" x2="354.2" y2="222.1" stroke="#000" stroke-width="0.9"/>
<text x="354.2" y="227.0" font-size="5.8" text-anchor="middle" fill="#000">1</text>
<line x1="358.2" y1="218.3" x2="358.2" y2="222.1" stroke="#000" stroke-width="0.9"/>
<text x="358.2" y="227.0" font-size="5.8" text-anchor="middle" fill="#000">2</text>
<line x1="362.2" y1="218.3" x2="362.2" y2="222.1" stroke="#000" stroke-width="0.9"/>
<text x="362.2" y="227.0" font-size="5.8" text-anchor="middle" fill="#000">3</text>
<line x1="366.2" y1="218.3" x2="366.2" y2="222.1" stroke="#000" stroke-width="0.9"/>
<text x="366.2" y="227.0" font-size="5.8" text-anchor="middle" fill="#000">4</text>
<line x1="370.2" y1="218.3" x2="370.2" y2="222.1" stroke="#000" stroke-width="0.9"/>
<text x="370.2" y="227.0" font-size="5.8" text-anchor="middle" fill="#000">5</text>
<text x="315.0" y="137.2" font-size="8.6" font-weight="bold" text-anchor="middle" fill="#000">PR3</text>
<text x="231.3" y="178.0" font-size="8.0" text-anchor="middle" fill="#000" transform="rotate(-90 231.3 178.0)">% Change in Tumor Volume</text>
<text x="195.0" y="132.6" font-size="19" font-weight="bold" text-anchor="start" fill="#000">E</text>
<line x1="257.6" y1="255.8" x2="257.6" y2="336.3" stroke="#000" stroke-width="1.1"/>
<line x1="254.6" y1="332.8" x2="257.6" y2="332.8" stroke="#000" stroke-width="1"/>
<text x="253.6" y="336.1" font-size="9.1" text-anchor="end" fill="#000">0</text>
<line x1="254.6" y1="307.1" x2="257.6" y2="307.1" stroke="#000" stroke-width="1"/>
<text x="253.6" y="310.4" font-size="9.1" text-anchor="end" fill="#000">500</text>
<line x1="254.6" y1="281.5" x2="257.6" y2="281.5" stroke="#000" stroke-width="1"/>
<text x="253.6" y="284.7" font-size="9.1" text-anchor="end" fill="#000">1000</text>
<line x1="254.6" y1="255.8" x2="257.6" y2="255.8" stroke="#000" stroke-width="1"/>
<text x="253.6" y="259.1" font-size="9.1" text-anchor="end" fill="#000">1500</text>
<rect x="258.9" y="262.0" width="2.4" height="70.8" fill="#000000"/>
<circle cx="260.1" cy="262.6" r="1.4" fill="#000000"/>
<rect x="262.7" y="294.8" width="2.4" height="38.0" fill="#000000"/>
<circle cx="263.9" cy="295.4" r="1.4" fill="#000000"/>
<rect x="266.5" y="295.9" width="2.4" height="36.9" fill="#000000"/>
<circle cx="267.7" cy="296.5" r="1.4" fill="#000000"/>
<rect x="270.3" y="297.7" width="2.4" height="35.1" fill="#000000"/>
<circle cx="271.5" cy="298.3" r="1.4" fill="#000000"/>
<rect x="280.2" y="270.5" width="2.4" height="62.3" fill="#f5321e"/>
<circle cx="281.4" cy="271.1" r="1.4" fill="#f5321e"/>
<rect x="283.9" y="290.9" width="2.4" height="41.9" fill="#f5321e"/>
<circle cx="285.1" cy="291.5" r="1.4" fill="#f5321e"/>
<rect x="287.6" y="292.5" width="2.4" height="40.3" fill="#f5321e"/>
<circle cx="288.8" cy="293.1" r="1.4" fill="#f5321e"/>
<rect x="291.3" y="300.0" width="2.4" height="32.8" fill="#f5321e"/>
<circle cx="292.5" cy="300.6" r="1.4" fill="#f5321e"/>
<rect x="295.0" y="314.7" width="2.4" height="18.1" fill="#f5321e"/>
<circle cx="296.2" cy="315.3" r="1.4" fill="#f5321e"/>
<rect x="300.8" y="285.9" width="2.4" height="46.9" fill="#1e9af0"/>
<rect x="304.6" y="287.5" width="2.4" height="45.3" fill="#1e9af0"/>
<rect x="308.4" y="312.4" width="2.4" height="20.4" fill="#1e9af0"/>
<rect x="312.2" y="323.3" width="2.4" height="9.5" fill="#1e9af0"/>
<rect x="321.6" y="283.4" width="2.4" height="49.4" fill="#9a45f5"/>
<circle cx="322.8" cy="284.0" r="1.4" fill="#9a45f5"/>
<rect x="325.3" y="298.4" width="2.4" height="34.4" fill="#9a45f5"/>
<circle cx="326.5" cy="299.0" r="1.4" fill="#9a45f5"/>
<rect x="329.0" y="301.6" width="2.4" height="31.2" fill="#9a45f5"/>
<circle cx="330.2" cy="302.2" r="1.4" fill="#9a45f5"/>
<rect x="332.7" y="304.0" width="2.4" height="28.8" fill="#9a45f5"/>
<circle cx="333.9" cy="304.6" r="1.4" fill="#9a45f5"/>
<rect x="336.4" y="307.9" width="2.4" height="24.9" fill="#9a45f5"/>
<circle cx="337.6" cy="308.5" r="1.4" fill="#9a45f5"/>
<rect x="342.4" y="314.7" width="2.4" height="18.1" fill="#118a1a"/>
<circle cx="343.6" cy="315.3" r="1.4" fill="#118a1a"/>
<rect x="346.2" y="314.0" width="2.4" height="18.8" fill="#118a1a"/>
<circle cx="347.4" cy="314.6" r="1.4" fill="#118a1a"/>
<rect x="349.9" y="316.3" width="2.4" height="16.5" fill="#118a1a"/>
<circle cx="351.1" cy="316.9" r="1.4" fill="#118a1a"/>
<rect x="353.7" y="318.8" width="2.4" height="14.0" fill="#118a1a"/>
<circle cx="354.9" cy="319.4" r="1.4" fill="#118a1a"/>
<rect x="357.4" y="327.1" width="2.4" height="5.7" fill="#118a1a"/>
<circle cx="358.6" cy="327.7" r="1.4" fill="#118a1a"/>
<rect x="363.0" y="315.1" width="2.4" height="17.7" fill="#ff9a1a"/>
<rect x="366.8" y="312.0" width="2.4" height="20.8" fill="#ff9a1a"/>
<rect x="370.6" y="328.3" width="2.4" height="4.5" fill="#ff9a1a"/>
<rect x="374.4" y="330.5" width="2.4" height="2.3" fill="#ff9a1a"/>
<rect x="378.2" y="331.6" width="2.4" height="1.2" fill="#ff9a1a"/>
<line x1="257.6" y1="332.8" x2="382.0" y2="332.8" stroke="#000" stroke-width="1.4"/>
<line x1="257.6" y1="336.1" x2="382.0" y2="336.1" stroke="#000" stroke-width="1.1"/>
<line x1="260.1" y1="336.1" x2="260.1" y2="339.9" stroke="#000" stroke-width="0.9"/>
<text x="260.1" y="347.6" font-size="6.0" text-anchor="middle" fill="#000">1</text>
<line x1="263.9" y1="336.1" x2="263.9" y2="339.9" stroke="#000" stroke-width="0.9"/>
<text x="263.9" y="347.6" font-size="6.0" text-anchor="middle" fill="#000">2</text>
<line x1="267.6" y1="336.1" x2="267.6" y2="339.9" stroke="#000" stroke-width="0.9"/>
<text x="267.6" y="347.6" font-size="6.0" text-anchor="middle" fill="#000">3</text>
<line x1="271.4" y1="336.1" x2="271.4" y2="339.9" stroke="#000" stroke-width="0.9"/>
<text x="271.4" y="347.6" font-size="6.0" text-anchor="middle" fill="#000">4</text>
<line x1="275.1" y1="336.1" x2="275.1" y2="339.9" stroke="#000" stroke-width="0.9"/>
<text x="275.1" y="347.6" font-size="6.0" text-anchor="middle" fill="#000">5</text>
<line x1="281.4" y1="336.1" x2="281.4" y2="339.9" stroke="#000" stroke-width="0.9"/>
<text x="281.4" y="347.6" font-size="6.0" text-anchor="middle" fill="#000">1</text>
<line x1="285.1" y1="336.1" x2="285.1" y2="339.9" stroke="#000" stroke-width="0.9"/>
<text x="285.1" y="347.6" font-size="6.0" text-anchor="middle" fill="#000">2</text>
<line x1="288.9" y1="336.1" x2="288.9" y2="339.9" stroke="#000" stroke-width="0.9"/>
<text x="288.9" y="347.6" font-size="6.0" text-anchor="middle" fill="#000">3</text>
<line x1="292.6" y1="336.1" x2="292.6" y2="339.9" stroke="#000" stroke-width="0.9"/>
<text x="292.6" y="347.6" font-size="6.0" text-anchor="middle" fill="#000">4</text>
<line x1="296.4" y1="336.1" x2="296.4" y2="339.9" stroke="#000" stroke-width="0.9"/>
<text x="296.4" y="347.6" font-size="6.0" text-anchor="middle" fill="#000">5</text>
<line x1="302.0" y1="336.1" x2="302.0" y2="339.9" stroke="#000" stroke-width="0.9"/>
<text x="302.0" y="347.6" font-size="6.0" text-anchor="middle" fill="#000">1</text>
<line x1="305.8" y1="336.1" x2="305.8" y2="339.9" stroke="#000" stroke-width="0.9"/>
<text x="305.8" y="347.6" font-size="6.0" text-anchor="middle" fill="#000">2</text>
<line x1="309.5" y1="336.1" x2="309.5" y2="339.9" stroke="#000" stroke-width="0.9"/>
<text x="309.5" y="347.6" font-size="6.0" text-anchor="middle" fill="#000">3</text>
<line x1="313.2" y1="336.1" x2="313.2" y2="339.9" stroke="#000" stroke-width="0.9"/>
<text x="313.2" y="347.6" font-size="6.0" text-anchor="middle" fill="#000">4</text>
<line x1="317.0" y1="336.1" x2="317.0" y2="339.9" stroke="#000" stroke-width="0.9"/>
<text x="317.0" y="347.6" font-size="6.0" text-anchor="middle" fill="#000">5</text>
<line x1="322.8" y1="336.1" x2="322.8" y2="339.9" stroke="#000" stroke-width="0.9"/>
<text x="322.8" y="347.6" font-size="6.0" text-anchor="middle" fill="#000">1</text>
<line x1="326.6" y1="336.1" x2="326.6" y2="339.9" stroke="#000" stroke-width="0.9"/>
<text x="326.6" y="347.6" font-size="6.0" text-anchor="middle" fill="#000">2</text>
<line x1="330.3" y1="336.1" x2="330.3" y2="339.9" stroke="#000" stroke-width="0.9"/>
<text x="330.3" y="347.6" font-size="6.0" text-anchor="middle" fill="#000">3</text>
<line x1="334.1" y1="336.1" x2="334.1" y2="339.9" stroke="#000" stroke-width="0.9"/>
<text x="334.1" y="347.6" font-size="6.0" text-anchor="middle" fill="#000">4</text>
<line x1="337.8" y1="336.1" x2="337.8" y2="339.9" stroke="#000" stroke-width="0.9"/>
<text x="337.8" y="347.6" font-size="6.0" text-anchor="middle" fill="#000">5</text>
<line x1="343.6" y1="336.1" x2="343.6" y2="339.9" stroke="#000" stroke-width="0.9"/>
<text x="343.6" y="347.6" font-size="6.0" text-anchor="middle" fill="#000">1</text>
<line x1="347.4" y1="336.1" x2="347.4" y2="339.9" stroke="#000" stroke-width="0.9"/>
<text x="347.4" y="347.6" font-size="6.0" text-anchor="middle" fill="#000">2</text>
<line x1="351.1" y1="336.1" x2="351.1" y2="339.9" stroke="#000" stroke-width="0.9"/>
<text x="351.1" y="347.6" font-size="6.0" text-anchor="middle" fill="#000">3</text>
<line x1="354.9" y1="336.1" x2="354.9" y2="339.9" stroke="#000" stroke-width="0.9"/>
<text x="354.9" y="347.6" font-size="6.0" text-anchor="middle" fill="#000">4</text>
<line x1="358.6" y1="336.1" x2="358.6" y2="339.9" stroke="#000" stroke-width="0.9"/>
<text x="358.6" y="347.6" font-size="6.0" text-anchor="middle" fill="#000">5</text>
<line x1="364.2" y1="336.1" x2="364.2" y2="339.9" stroke="#000" stroke-width="0.9"/>
<text x="364.2" y="347.6" font-size="6.0" text-anchor="middle" fill="#000">1</text>
<line x1="367.9" y1="336.1" x2="367.9" y2="339.9" stroke="#000" stroke-width="0.9"/>
<text x="367.9" y="347.6" font-size="6.0" text-anchor="middle" fill="#000">2</text>
<line x1="371.7" y1="336.1" x2="371.7" y2="339.9" stroke="#000" stroke-width="0.9"/>
<text x="371.7" y="347.6" font-size="6.0" text-anchor="middle" fill="#000">3</text>
<line x1="375.4" y1="336.1" x2="375.4" y2="339.9" stroke="#000" stroke-width="0.9"/>
<text x="375.4" y="347.6" font-size="6.0" text-anchor="middle" fill="#000">4</text>
<line x1="379.2" y1="336.1" x2="379.2" y2="339.9" stroke="#000" stroke-width="0.9"/>
<text x="379.2" y="347.6" font-size="6.0" text-anchor="middle" fill="#000">5</text>
<text x="320.2" y="251.3" font-size="9.4" font-weight="bold" text-anchor="middle" fill="#000">PR4</text>
<text x="228.7" y="295.0" font-size="8.4" text-anchor="middle" fill="#000" transform="rotate(-90 228.7 295.0)">% Change in Tumor Volume</text>
<text x="195.0" y="231.5" font-size="19" font-weight="bold" text-anchor="start" fill="#000">H</text>
<polyline points="422.5,20.6 533.7,20.6" fill="none" stroke="#ff9a1a" stroke-width="1.6" stroke-linejoin="miter"/>
<polyline points="422.5,20.6 513.5,20.6" fill="none" stroke="#118a1a" stroke-width="1.6" stroke-linejoin="miter"/>
<polyline points="422.5,20.6 454.9,20.6 454.9,34.1 477.1,34.1 477.1,47.5 485.2,47.5 485.2,61.0 487.2,61.0 487.2,74.4 513.5,74.4" fill="none" stroke="#ff33ff" stroke-width="1.6" stroke-linejoin="miter"/>
<polyline points="422.5,20.6 465.0,20.6 465.0,37.4 467.0,37.4 467.0,54.2 479.1,54.2 479.1,71.1 505.4,71.1" fill="none" stroke="#9a45f5" stroke-width="1.6" stroke-linejoin="miter"/>
<polyline points="422.5,20.6 465.0,20.6 465.0,37.4 467.0,37.4 467.0,54.2 475.1,54.2 475.1,71.1 493.3,71.1 493.3,87.9 493.3,87.9" fill="none" stroke="#1e9af0" stroke-width="1.6" stroke-linejoin="miter"/>
<polyline points="422.5,20.6 462.9,20.6 462.9,34.1 465.0,34.1 465.0,47.5 467.0,47.5 467.0,74.4 485.2,74.4 485.2,87.9 485.2,87.9" fill="none" stroke="#f5321e" stroke-width="1.6" stroke-linejoin="miter"/>
<polyline points="422.5,20.6 442.7,20.6 442.7,37.4 446.8,37.4 446.8,54.2 450.8,54.2 450.8,71.1 454.9,71.1 454.9,87.9 454.9,87.9" fill="none" stroke="#000000" stroke-width="1.6" stroke-linejoin="miter"/>
<line x1="422.5" y1="54.2" x2="533.7" y2="54.2" stroke="#444" stroke-width="0.8" stroke-dasharray="2,1.4"/>
<line x1="422.5" y1="13.6" x2="422.5" y2="88.4" stroke="#000" stroke-width="1.1"/>
<line x1="422.0" y1="87.9" x2="534.2" y2="87.9" stroke="#000" stroke-width="1.1"/>
<line x1="419.5" y1="87.9" x2="422.5" y2="87.9" stroke="#000" stroke-width="1"/>
<text x="418.5" y="90.6" font-size="7.6" text-anchor="end" fill="#000">0</text>
<line x1="419.5" y1="74.4" x2="422.5" y2="74.4" stroke="#000" stroke-width="1"/>
<text x="418.5" y="77.2" font-size="7.6" text-anchor="end" fill="#000">20</text>
<line x1="419.5" y1="61.0" x2="422.5" y2="61.0" stroke="#000" stroke-width="1"/>
<text x="418.5" y="63.7" font-size="7.6" text-anchor="end" fill="#000">40</text>
<line x1="419.5" y1="47.5" x2="422.5" y2="47.5" stroke="#000" stroke-width="1"/>
<text x="418.5" y="50.2" font-size="7.6" text-anchor="end" fill="#000">60</text>
<line x1="419.5" y1="34.1" x2="422.5" y2="34.1" stroke="#000" stroke-width="1"/>
<text x="418.5" y="36.8" font-size="7.6" text-anchor="end" fill="#000">80</text>
<line x1="419.5" y1="20.6" x2="422.5" y2="20.6" stroke="#000" stroke-width="1"/>
<text x="418.5" y="23.3" font-size="7.6" text-anchor="end" fill="#000">100</text>
<line x1="422.5" y1="87.9" x2="422.5" y2="90.4" stroke="#000" stroke-width="0.9"/>
<text x="422.5" y="99.0" font-size="7.6" text-anchor="middle" fill="#000">0</text>
<line x1="432.6" y1="87.9" x2="432.6" y2="90.4" stroke="#000" stroke-width="0.9"/>
<text x="432.6" y="99.0" font-size="7.6" text-anchor="middle" fill="#000">5</text>
<line x1="442.7" y1="87.9" x2="442.7" y2="90.4" stroke="#000" stroke-width="0.9"/>
<text x="442.7" y="99.0" font-size="7.6" text-anchor="middle" fill="#000">10</text>
<line x1="452.8" y1="87.9" x2="452.8" y2="90.4" stroke="#000" stroke-width="0.9"/>
<text x="452.8" y="99.0" font-size="7.6" text-anchor="middle" fill="#000">15</text>
<line x1="462.9" y1="87.9" x2="462.9" y2="90.4" stroke="#000" stroke-width="0.9"/>
<text x="462.9" y="99.0" font-size="7.6" text-anchor="middle" fill="#000">20</text>
<line x1="473.1" y1="87.9" x2="473.1" y2="90.4" stroke="#000" stroke-width="0.9"/>
<text x="473.1" y="99.0" font-size="7.6" text-anchor="middle" fill="#000">25</text>
<line x1="483.2" y1="87.9" x2="483.2" y2="90.4" stroke="#000" stroke-width="0.9"/>
<text x="483.2" y="99.0" font-size="7.6" text-anchor="middle" fill="#000">30</text>
<line x1="493.3" y1="87.9" x2="493.3" y2="90.4" stroke="#000" stroke-width="0.9"/>
<text x="493.3" y="99.0" font-size="7.6" text-anchor="middle" fill="#000">35</text>
<line x1="503.4" y1="87.9" x2="503.4" y2="90.4" stroke="#000" stroke-width="0.9"/>
<text x="503.4" y="99.0" font-size="7.6" text-anchor="middle" fill="#000">40</text>
<line x1="513.5" y1="87.9" x2="513.5" y2="90.4" stroke="#000" stroke-width="0.9"/>
<text x="513.5" y="99.0" font-size="7.6" text-anchor="middle" fill="#000">45</text>
<line x1="523.6" y1="87.9" x2="523.6" y2="90.4" stroke="#000" stroke-width="0.9"/>
<text x="523.6" y="99.0" font-size="7.6" text-anchor="middle" fill="#000">50</text>
<line x1="533.7" y1="87.9" x2="533.7" y2="90.4" stroke="#000" stroke-width="0.9"/>
<text x="533.7" y="99.0" font-size="7.6" text-anchor="middle" fill="#000">55</text>
<text x="478.0" y="12.0" font-size="9" font-weight="bold" text-anchor="middle" fill="#000">PR1</text>
<text x="402.3" y="48.8" font-size="7.9" text-anchor="middle" fill="#000" transform="rotate(-90 402.3 48.8)">Survival (%)</text>
<text x="478.1" y="110.0" font-size="8.0" text-anchor="middle" fill="#000">Days on Treatment</text>
<text x="491.0" y="51.5" font-size="6.2" text-anchor="start" fill="#000">p &lt; 0.0001</text>
<text x="383.4" y="20.9" font-size="19" font-weight="bold" text-anchor="start" fill="#000">C</text>
<line x1="563.0" y1="27.1" x2="573.2" y2="27.1" stroke="#000000" stroke-width="1.3"/>
<circle cx="568.1" cy="27.1" r="1.4" fill="#000000"/>
<text x="578.0" y="30.0" font-size="8.2" text-anchor="start" fill="#000">Vehicle</text>
<line x1="563.0" y1="37.0" x2="573.2" y2="37.0" stroke="#f5321e" stroke-width="1.3"/>
<circle cx="568.1" cy="37.0" r="1.4" fill="#f5321e"/>
<text x="578.0" y="39.9" font-size="8.2" text-anchor="start" fill="#000">Ribociclib</text>
<line x1="563.0" y1="46.8" x2="573.2" y2="46.8" stroke="#1e9af0" stroke-width="1.3"/>
<circle cx="568.1" cy="46.8" r="1.4" fill="#1e9af0"/>
<text x="578.0" y="49.7" font-size="8.2" text-anchor="start" fill="#000">Fulvestrant</text>
<line x1="563.0" y1="56.6" x2="573.2" y2="56.6" stroke="#9a45f5" stroke-width="1.3"/>
<circle cx="568.1" cy="56.6" r="1.4" fill="#9a45f5"/>
<text x="578.0" y="59.5" font-size="8.2" text-anchor="start" fill="#000">Ribo+Fulv</text>
<line x1="563.0" y1="66.4" x2="573.2" y2="66.4" stroke="#ff33ff" stroke-width="1.3"/>
<circle cx="568.1" cy="66.4" r="1.4" fill="#ff33ff"/>
<text x="578.0" y="69.3" font-size="8.2" text-anchor="start" fill="#000">Palbo+Fulv</text>
<line x1="563.0" y1="76.2" x2="573.2" y2="76.2" stroke="#118a1a" stroke-width="1.3"/>
<circle cx="568.1" cy="76.2" r="1.4" fill="#118a1a"/>
<text x="578.0" y="79.1" font-size="8.2" text-anchor="start" fill="#000">BLU-222+Ribo</text>
<line x1="563.0" y1="86.0" x2="573.2" y2="86.0" stroke="#ff9a1a" stroke-width="1.3"/>
<circle cx="568.1" cy="86.0" r="1.4" fill="#ff9a1a"/>
<text x="578.0" y="88.9" font-size="8.2" text-anchor="start" fill="#000">BLU-222+Ribo+Fulv</text>
<rect x="536.0" y="101.6" width="15.2" height="11.4" fill="#fff" stroke="#bbb" stroke-width="0.8"/>
<text x="543.6" y="109.3" font-size="5.6" font-weight="bold" text-anchor="middle" fill="#000">V</text>
<rect x="551.2" y="101.6" width="18.6" height="11.4" fill="#fff" stroke="#bbb" stroke-width="0.8"/>
<text x="560.5" y="109.3" font-size="5.6" font-weight="bold" text-anchor="middle" fill="#f22">R</text>
<rect x="569.8" y="101.6" width="20.9" height="11.4" fill="#fff" stroke="#bbb" stroke-width="0.8"/>
<text x="580.2" y="109.3" font-size="5.6" font-weight="bold" text-anchor="middle" fill="#29a8f0">F</text>
<rect x="590.7" y="101.6" width="21.0" height="11.4" fill="#fff" stroke="#bbb" stroke-width="0.8"/>
<text x="601.2" y="109.3" font-size="5.6" font-weight="bold" text-anchor="middle" fill="#7b3fc0">R+F</text>
<rect x="611.7" y="101.6" width="21.8" height="11.4" fill="#fff" stroke="#bbb" stroke-width="0.8"/>
<text x="622.6" y="109.3" font-size="5.6" font-weight="bold" text-anchor="middle" fill="#f3f">P+F</text>
<rect x="633.5" y="101.6" width="22.5" height="11.4" fill="#fff" stroke="#bbb" stroke-width="0.8"/>
<text x="644.8" y="109.3" font-size="5.6" font-weight="bold" text-anchor="middle" fill="#1aa844">B+R</text>
<rect x="656.0" y="101.6" width="28.4" height="11.4" fill="#fff" stroke="#bbb" stroke-width="0.8"/>
<text x="670.2" y="109.3" font-size="5.6" font-weight="bold" text-anchor="middle" fill="#f5b800">B+R+F</text>
<rect x="483.6" y="113.0" width="52.4" height="11.0" fill="#e6e6e6" stroke="#aaa" stroke-width="0.8"/>
<text x="509.8" y="120.5" font-size="5.5" text-anchor="middle" fill="#222">Median Survival</text>
<rect x="536.0" y="113.0" width="15.2" height="11.0" fill="#e6e6e6" stroke="#aaa" stroke-width="0.8"/>
<text x="543.6" y="120.5" font-size="5.5" text-anchor="middle" fill="#222">13</text>
<rect x="551.2" y="113.0" width="18.6" height="11.0" fill="#e6e6e6" stroke="#aaa" stroke-width="0.8"/>
<text x="560.5" y="120.5" font-size="5.5" text-anchor="middle" fill="#222">22</text>
<rect x="569.8" y="113.0" width="20.9" height="11.0" fill="#e6e6e6" stroke="#aaa" stroke-width="0.8"/>
<text x="580.2" y="120.5" font-size="5.5" text-anchor="middle" fill="#222">23.5</text>
<rect x="590.7" y="113.0" width="21.0" height="11.0" fill="#e6e6e6" stroke="#aaa" stroke-width="0.8"/>
<text x="601.2" y="120.5" font-size="5.5" text-anchor="middle" fill="#222">25</text>
<rect x="611.7" y="113.0" width="21.8" height="11.0" fill="#e6e6e6" stroke="#aaa" stroke-width="0.8"/>
<text x="622.6" y="120.5" font-size="5.5" text-anchor="middle" fill="#222">31</text>
<rect x="633.5" y="113.0" width="50.9" height="11.0" fill="#e6e6e6" stroke="#aaa" stroke-width="0.8"/>
<text x="659.0" y="120.5" font-size="5.5" text-anchor="middle" fill="#222">Undefined</text>
<polyline points="431.9,143.0 545.9,143.0" fill="none" stroke="#ff9a1a" stroke-width="1.6" stroke-linejoin="miter"/>
<polyline points="431.9,143.0 500.3,143.0 500.3,160.5 504.4,160.5 504.4,177.9 521.0,177.9 521.0,195.4 529.3,195.4" fill="none" stroke="#9a45f5" stroke-width="1.6" stroke-linejoin="miter"/>
<polyline points="431.9,143.0 469.2,143.0 469.2,157.0 487.9,157.0 487.9,171.0 508.6,171.0 508.6,184.9 510.7,184.9 510.7,198.9 529.3,198.9" fill="none" stroke="#1e9af0" stroke-width="1.6" stroke-linejoin="miter"/>
<polyline points="431.9,143.0 465.1,143.0 465.1,157.0 473.4,157.0 473.4,171.0 475.4,171.0 475.4,184.9 479.6,184.9 479.6,198.9 481.6,198.9 481.6,212.9 481.6,212.9" fill="none" stroke="#f5321e" stroke-width="1.6" stroke-linejoin="miter"/>
<polyline points="431.9,143.0 460.9,143.0 460.9,160.5 463.0,160.5 463.0,177.9 465.1,177.9 465.1,212.9 465.1,212.9" fill="none" stroke="#000000" stroke-width="1.6" stroke-linejoin="miter"/>
<line x1="431.9" y1="177.9" x2="545.9" y2="177.9" stroke="#444" stroke-width="0.8" stroke-dasharray="2,1.4"/>
<line x1="431.9" y1="136.0" x2="431.9" y2="213.4" stroke="#000" stroke-width="1.1"/>
<line x1="431.4" y1="212.9" x2="546.4" y2="212.9" stroke="#000" stroke-width="1.1"/>
<line x1="428.9" y1="212.9" x2="431.9" y2="212.9" stroke="#000" stroke-width="1"/>
<text x="427.9" y="215.6" font-size="7.6" text-anchor="end" fill="#000">0</text>
<line x1="428.9" y1="198.9" x2="431.9" y2="198.9" stroke="#000" stroke-width="1"/>
<text x="427.9" y="201.6" font-size="7.6" text-anchor="end" fill="#000">20</text>
<line x1="428.9" y1="184.9" x2="431.9" y2="184.9" stroke="#000" stroke-width="1"/>
<text x="427.9" y="187.7" font-size="7.6" text-anchor="end" fill="#000">40</text>
<line x1="428.9" y1="171.0" x2="431.9" y2="171.0" stroke="#000" stroke-width="1"/>
<text x="427.9" y="173.7" font-size="7.6" text-anchor="end" fill="#000">60</text>
<line x1="428.9" y1="157.0" x2="431.9" y2="157.0" stroke="#000" stroke-width="1"/>
<text x="427.9" y="159.7" font-size="7.6" text-anchor="end" fill="#000">80</text>
<line x1="428.9" y1="143.0" x2="431.9" y2="143.0" stroke="#000" stroke-width="1"/>
<text x="427.9" y="145.7" font-size="7.6" text-anchor="end" fill="#000">100</text>
<line x1="431.9" y1="212.9" x2="431.9" y2="215.4" stroke="#000" stroke-width="0.9"/>
<text x="431.9" y="223.3" font-size="7.6" text-anchor="middle" fill="#000">0</text>
<line x1="442.3" y1="212.9" x2="442.3" y2="215.4" stroke="#000" stroke-width="0.9"/>
<text x="442.3" y="223.3" font-size="7.6" text-anchor="middle" fill="#000">5</text>
<line x1="452.6" y1="212.9" x2="452.6" y2="215.4" stroke="#000" stroke-width="0.9"/>
<text x="452.6" y="223.3" font-size="7.6" text-anchor="middle" fill="#000">10</text>
<line x1="463.0" y1="212.9" x2="463.0" y2="215.4" stroke="#000" stroke-width="0.9"/>
<text x="463.0" y="223.3" font-size="7.6" text-anchor="middle" fill="#000">15</text>
<line x1="473.4" y1="212.9" x2="473.4" y2="215.4" stroke="#000" stroke-width="0.9"/>
<text x="473.4" y="223.3" font-size="7.6" text-anchor="middle" fill="#000">20</text>
<line x1="483.7" y1="212.9" x2="483.7" y2="215.4" stroke="#000" stroke-width="0.9"/>
<text x="483.7" y="223.3" font-size="7.6" text-anchor="middle" fill="#000">25</text>
<line x1="494.1" y1="212.9" x2="494.1" y2="215.4" stroke="#000" stroke-width="0.9"/>
<text x="494.1" y="223.3" font-size="7.6" text-anchor="middle" fill="#000">30</text>
<line x1="504.4" y1="212.9" x2="504.4" y2="215.4" stroke="#000" stroke-width="0.9"/>
<text x="504.4" y="223.3" font-size="7.6" text-anchor="middle" fill="#000">35</text>
<line x1="514.8" y1="212.9" x2="514.8" y2="215.4" stroke="#000" stroke-width="0.9"/>
<text x="514.8" y="223.3" font-size="7.6" text-anchor="middle" fill="#000">40</text>
<line x1="525.2" y1="212.9" x2="525.2" y2="215.4" stroke="#000" stroke-width="0.9"/>
<text x="525.2" y="223.3" font-size="7.6" text-anchor="middle" fill="#000">45</text>
<line x1="535.5" y1="212.9" x2="535.5" y2="215.4" stroke="#000" stroke-width="0.9"/>
<text x="535.5" y="223.3" font-size="7.6" text-anchor="middle" fill="#000">50</text>
<line x1="545.9" y1="212.9" x2="545.9" y2="215.4" stroke="#000" stroke-width="0.9"/>
<text x="545.9" y="223.3" font-size="7.6" text-anchor="middle" fill="#000">55</text>
<text x="489.0" y="137.0" font-size="9" font-weight="bold" text-anchor="middle" fill="#000">PR3</text>
<text x="411.3" y="173.4" font-size="8.7" text-anchor="middle" fill="#000" transform="rotate(-90 411.3 173.4)">Survival (%)</text>
<text x="488.9" y="235.3" font-size="8.2" text-anchor="middle" fill="#000">Days on Treatment</text>
<text x="515.0" y="157.0" font-size="6.2" text-anchor="start" fill="#000">p &lt; 0.0001</text>
<text x="391.6" y="132.8" font-size="19" font-weight="bold" text-anchor="start" fill="#000">F</text>
<line x1="567.0" y1="158.1" x2="576.0" y2="158.1" stroke="#000000" stroke-width="1.3"/>
<circle cx="571.5" cy="158.1" r="1.4" fill="#000000"/>
<text x="582.6" y="161.3" font-size="9.0" text-anchor="start" fill="#000">Vehicle</text>
<line x1="567.0" y1="169.2" x2="576.0" y2="169.2" stroke="#f5321e" stroke-width="1.3"/>
<circle cx="571.5" cy="169.2" r="1.4" fill="#f5321e"/>
<text x="582.6" y="172.4" font-size="9.0" text-anchor="start" fill="#000">Ribociclib</text>
<line x1="567.0" y1="180.3" x2="576.0" y2="180.3" stroke="#1e9af0" stroke-width="1.3"/>
<circle cx="571.5" cy="180.3" r="1.4" fill="#1e9af0"/>
<text x="582.6" y="183.5" font-size="9.0" text-anchor="start" fill="#000">Fulvestrant</text>
<line x1="567.0" y1="191.6" x2="576.0" y2="191.6" stroke="#9a45f5" stroke-width="1.3"/>
<circle cx="571.5" cy="191.6" r="1.4" fill="#9a45f5"/>
<text x="582.6" y="194.8" font-size="9.0" text-anchor="start" fill="#000">Palbo+Fulv</text>
<line x1="567.0" y1="202.9" x2="576.0" y2="202.9" stroke="#ff9a1a" stroke-width="1.3"/>
<circle cx="571.5" cy="202.9" r="1.4" fill="#ff9a1a"/>
<text x="582.6" y="206.1" font-size="9.0" text-anchor="start" fill="#000">BLU-222+Ribo+Fulv</text>
<rect x="579.4" y="219.6" width="18.8" height="9.9" fill="#fff" stroke="#bbb" stroke-width="0.8"/>
<text x="588.8" y="226.6" font-size="5.6" font-weight="bold" text-anchor="middle" fill="#000">V</text>
<rect x="598.2" y="219.6" width="15.6" height="9.9" fill="#fff" stroke="#bbb" stroke-width="0.8"/>
<text x="606.0" y="226.6" font-size="5.6" font-weight="bold" text-anchor="middle" fill="#f22">R</text>
<rect x="613.8" y="219.6" width="15.9" height="9.9" fill="#fff" stroke="#bbb" stroke-width="0.8"/>
<text x="621.8" y="226.6" font-size="5.6" font-weight="bold" text-anchor="middle" fill="#29a8f0">F</text>
<rect x="629.7" y="219.6" width="20.3" height="9.9" fill="#fff" stroke="#bbb" stroke-width="0.8"/>
<text x="639.9" y="226.6" font-size="5.6" font-weight="bold" text-anchor="middle" fill="#7b3fc0">P+F</text>
<rect x="650.0" y="219.6" width="34.4" height="9.9" fill="#fff" stroke="#bbb" stroke-width="0.8"/>
<text x="667.2" y="226.6" font-size="5.6" font-weight="bold" text-anchor="middle" fill="#f5b800">B+R+F</text>
<rect x="531.5" y="229.5" width="47.9" height="10.5" fill="#e6e6e6" stroke="#aaa" stroke-width="0.8"/>
<text x="555.5" y="236.8" font-size="5.5" text-anchor="middle" fill="#222">Median Survival</text>
<rect x="579.4" y="229.5" width="18.8" height="10.5" fill="#e6e6e6" stroke="#aaa" stroke-width="0.8"/>
<text x="588.8" y="236.8" font-size="5.5" text-anchor="middle" fill="#222">15.5</text>
<rect x="598.2" y="229.5" width="15.6" height="10.5" fill="#e6e6e6" stroke="#aaa" stroke-width="0.8"/>
<text x="606.0" y="236.8" font-size="5.5" text-anchor="middle" fill="#222">21</text>
<rect x="613.8" y="229.5" width="15.9" height="10.5" fill="#e6e6e6" stroke="#aaa" stroke-width="0.8"/>
<text x="621.8" y="236.8" font-size="5.5" text-anchor="middle" fill="#222">37</text>
<rect x="629.7" y="229.5" width="20.3" height="10.5" fill="#e6e6e6" stroke="#aaa" stroke-width="0.8"/>
<text x="639.9" y="236.8" font-size="5.5" text-anchor="middle" fill="#222">39</text>
<rect x="650.0" y="229.5" width="34.4" height="10.5" fill="#e6e6e6" stroke="#aaa" stroke-width="0.8"/>
<text x="667.2" y="236.8" font-size="5.5" text-anchor="middle" fill="#222">Undefined</text>
<polyline points="436.1,257.7 550.5,257.7" fill="none" stroke="#118a1a" stroke-width="1.6" stroke-linejoin="miter"/>
<polyline points="436.1,257.7 488.1,257.7 488.1,271.6 504.7,271.6 504.7,285.5 517.2,285.5 517.2,327.3 517.2,327.3" fill="none" stroke="#9a45f5" stroke-width="1.6" stroke-linejoin="miter"/>
<polyline points="436.1,257.7 473.5,257.7 473.5,280.7 519.3,280.7 519.3,304.3 540.1,304.3 540.1,327.3 540.1,327.3" fill="none" stroke="#1e9af0" stroke-width="1.6" stroke-linejoin="miter"/>
<polyline points="436.1,257.7 469.4,257.7 469.4,271.6 479.8,271.6 479.8,285.5 486.0,285.5 486.0,313.4 496.4,313.4 496.4,327.3 496.4,327.3" fill="none" stroke="#f5321e" stroke-width="1.6" stroke-linejoin="miter"/>
<polyline points="436.1,257.7 477.7,257.7 477.7,275.1 479.8,275.1 479.8,292.5 506.8,292.5 506.8,309.9 519.3,309.9 519.3,327.3 519.3,327.3" fill="none" stroke="#000000" stroke-width="1.6" stroke-linejoin="miter"/>
<line x1="436.1" y1="292.5" x2="550.5" y2="292.5" stroke="#444" stroke-width="0.8" stroke-dasharray="2,1.4"/>
<line x1="436.1" y1="250.7" x2="436.1" y2="327.8" stroke="#000" stroke-width="1.1"/>
<line x1="435.6" y1="327.3" x2="551.0" y2="327.3" stroke="#000" stroke-width="1.1"/>
<line x1="433.1" y1="327.3" x2="436.1" y2="327.3" stroke="#000" stroke-width="1"/>
<text x="432.1" y="330.0" font-size="7.6" text-anchor="end" fill="#000">0</text>
<line x1="433.1" y1="313.4" x2="436.1" y2="313.4" stroke="#000" stroke-width="1"/>
<text x="432.1" y="316.1" font-size="7.6" text-anchor="end" fill="#000">20</text>
<line x1="433.1" y1="299.5" x2="436.1" y2="299.5" stroke="#000" stroke-width="1"/>
<text x="432.1" y="302.2" font-size="7.6" text-anchor="end" fill="#000">40</text>
<line x1="433.1" y1="285.5" x2="436.1" y2="285.5" stroke="#000" stroke-width="1"/>
<text x="432.1" y="288.3" font-size="7.6" text-anchor="end" fill="#000">60</text>
<line x1="433.1" y1="271.6" x2="436.1" y2="271.6" stroke="#000" stroke-width="1"/>
<text x="432.1" y="274.3" font-size="7.6" text-anchor="end" fill="#000">80</text>
<line x1="433.1" y1="257.7" x2="436.1" y2="257.7" stroke="#000" stroke-width="1"/>
<text x="432.1" y="260.4" font-size="7.6" text-anchor="end" fill="#000">100</text>
<line x1="436.1" y1="327.3" x2="436.1" y2="329.8" stroke="#000" stroke-width="0.9"/>
<text x="436.1" y="339.0" font-size="7.6" text-anchor="middle" fill="#000">0</text>
<line x1="446.5" y1="327.3" x2="446.5" y2="329.8" stroke="#000" stroke-width="0.9"/>
<text x="446.5" y="339.0" font-size="7.6" text-anchor="middle" fill="#000">5</text>
<line x1="456.9" y1="327.3" x2="456.9" y2="329.8" stroke="#000" stroke-width="0.9"/>
<text x="456.9" y="339.0" font-size="7.6" text-anchor="middle" fill="#000">10</text>
<line x1="467.3" y1="327.3" x2="467.3" y2="329.8" stroke="#000" stroke-width="0.9"/>
<text x="467.3" y="339.0" font-size="7.6" text-anchor="middle" fill="#000">15</text>
<line x1="477.7" y1="327.3" x2="477.7" y2="329.8" stroke="#000" stroke-width="0.9"/>
<text x="477.7" y="339.0" font-size="7.6" text-anchor="middle" fill="#000">20</text>
<line x1="488.1" y1="327.3" x2="488.1" y2="329.8" stroke="#000" stroke-width="0.9"/>
<text x="488.1" y="339.0" font-size="7.6" text-anchor="middle" fill="#000">25</text>
<line x1="498.5" y1="327.3" x2="498.5" y2="329.8" stroke="#000" stroke-width="0.9"/>
<text x="498.5" y="339.0" font-size="7.6" text-anchor="middle" fill="#000">30</text>
<line x1="508.9" y1="327.3" x2="508.9" y2="329.8" stroke="#000" stroke-width="0.9"/>
<text x="508.9" y="339.0" font-size="7.6" text-anchor="middle" fill="#000">35</text>
<line x1="519.3" y1="327.3" x2="519.3" y2="329.8" stroke="#000" stroke-width="0.9"/>
<text x="519.3" y="339.0" font-size="7.6" text-anchor="middle" fill="#000">40</text>
<line x1="529.7" y1="327.3" x2="529.7" y2="329.8" stroke="#000" stroke-width="0.9"/>
<text x="529.7" y="339.0" font-size="7.6" text-anchor="middle" fill="#000">45</text>
<line x1="540.1" y1="327.3" x2="540.1" y2="329.8" stroke="#000" stroke-width="0.9"/>
<text x="540.1" y="339.0" font-size="7.6" text-anchor="middle" fill="#000">50</text>
<line x1="550.5" y1="327.3" x2="550.5" y2="329.8" stroke="#000" stroke-width="0.9"/>
<text x="550.5" y="339.0" font-size="7.6" text-anchor="middle" fill="#000">55</text>
<text x="494.0" y="249.0" font-size="9" font-weight="bold" text-anchor="middle" fill="#000">PR4</text>
<text x="415.0" y="287.3" font-size="8.3" text-anchor="middle" fill="#000" transform="rotate(-90 415.0 287.3)">Survival (%)</text>
<text x="493.3" y="349.0" font-size="8.3" text-anchor="middle" fill="#000">Days on Treatment</text>
<text x="516.0" y="266.0" font-size="6.2" text-anchor="start" fill="#000">p &lt; 0.0001</text>
<text x="391.5" y="231.8" font-size="19" font-weight="bold" text-anchor="start" fill="#000">I</text>
<line x1="566.2" y1="276.7" x2="576.4" y2="276.7" stroke="#000000" stroke-width="1.3"/>
<circle cx="571.3" cy="276.7" r="1.4" fill="#000000"/>
<text x="581.6" y="279.7" font-size="8.5" text-anchor="start" fill="#000">Vehicle</text>
<line x1="566.2" y1="287.1" x2="576.4" y2="287.1" stroke="#f5321e" stroke-width="1.3"/>
<circle cx="571.3" cy="287.1" r="1.4" fill="#f5321e"/>
<text x="581.6" y="290.1" font-size="8.5" text-anchor="start" fill="#000">Ribociclib</text>
<line x1="566.2" y1="297.3" x2="576.4" y2="297.3" stroke="#1e9af0" stroke-width="1.3"/>
<circle cx="571.3" cy="297.3" r="1.4" fill="#1e9af0"/>
<text x="581.6" y="300.3" font-size="8.5" text-anchor="start" fill="#000">Fulvestrant</text>
<line x1="566.2" y1="307.4" x2="576.4" y2="307.4" stroke="#9a45f5" stroke-width="1.3"/>
<circle cx="571.3" cy="307.4" r="1.4" fill="#9a45f5"/>
<text x="581.6" y="310.4" font-size="8.5" text-anchor="start" fill="#000">Palbo+Fulv</text>
<line x1="566.2" y1="317.6" x2="576.4" y2="317.6" stroke="#118a1a" stroke-width="1.3"/>
<circle cx="571.3" cy="317.6" r="1.4" fill="#118a1a"/>
<text x="581.6" y="320.6" font-size="8.5" text-anchor="start" fill="#000">BLU-222+Ribo</text>
<line x1="566.2" y1="327.8" x2="576.4" y2="327.8" stroke="#ff9a1a" stroke-width="1.3"/>
<circle cx="571.3" cy="327.8" r="1.4" fill="#ff9a1a"/>
<text x="581.6" y="330.8" font-size="8.5" text-anchor="start" fill="#000">BLU-222+Ribo+Fulv</text>
<rect x="574.3" y="342.6" width="14.0" height="9.8" fill="#fff" stroke="#bbb" stroke-width="0.8"/>
<text x="581.3" y="349.5" font-size="5.6" font-weight="bold" text-anchor="middle" fill="#000">V</text>
<rect x="588.3" y="342.6" width="15.9" height="9.8" fill="#fff" stroke="#bbb" stroke-width="0.8"/>
<text x="596.2" y="349.5" font-size="5.6" font-weight="bold" text-anchor="middle" fill="#f22">R</text>
<rect x="604.2" y="342.6" width="15.6" height="9.8" fill="#fff" stroke="#bbb" stroke-width="0.8"/>
<text x="612.0" y="349.5" font-size="5.6" font-weight="bold" text-anchor="middle" fill="#29a8f0">F</text>
<rect x="619.8" y="342.6" width="17.9" height="9.8" fill="#fff" stroke="#bbb" stroke-width="0.8"/>
<text x="628.8" y="349.5" font-size="5.6" font-weight="bold" text-anchor="middle" fill="#7b3fc0">P+F</text>
<rect x="637.7" y="342.6" width="20.4" height="9.8" fill="#fff" stroke="#bbb" stroke-width="0.8"/>
<text x="647.9" y="349.5" font-size="5.6" font-weight="bold" text-anchor="middle" fill="#1aa844">B+R</text>
<rect x="658.1" y="342.6" width="26.3" height="9.8" fill="#fff" stroke="#bbb" stroke-width="0.8"/>
<text x="671.2" y="349.5" font-size="5.6" font-weight="bold" text-anchor="middle" fill="#f5b800">B+R+F</text>
<rect x="528.5" y="352.4" width="45.8" height="10.5" fill="#e6e6e6" stroke="#aaa" stroke-width="0.8"/>
<text x="551.4" y="359.6" font-size="5.5" text-anchor="middle" fill="#222">Median Survival</text>
<rect x="574.3" y="352.4" width="14.0" height="10.5" fill="#e6e6e6" stroke="#aaa" stroke-width="0.8"/>
<text x="581.3" y="359.6" font-size="5.5" text-anchor="middle" fill="#222">28</text>
<rect x="588.3" y="352.4" width="15.9" height="10.5" fill="#e6e6e6" stroke="#aaa" stroke-width="0.8"/>
<text x="596.2" y="359.6" font-size="5.5" text-anchor="middle" fill="#222">24</text>
<rect x="604.2" y="352.4" width="15.6" height="10.5" fill="#e6e6e6" stroke="#aaa" stroke-width="0.8"/>
<text x="612.0" y="359.6" font-size="5.5" text-anchor="middle" fill="#222">40</text>
<rect x="619.8" y="352.4" width="17.9" height="10.5" fill="#e6e6e6" stroke="#aaa" stroke-width="0.8"/>
<text x="628.8" y="359.6" font-size="5.5" text-anchor="middle" fill="#222">39</text>
<rect x="637.7" y="352.4" width="46.7" height="10.5" fill="#e6e6e6" stroke="#aaa" stroke-width="0.8"/>
<text x="661.0" y="359.6" font-size="5.5" text-anchor="middle" fill="#222">Undefined</text>
<line x1="40.3" y1="405.9" x2="40.3" y2="480.3" stroke="#000" stroke-width="1.15"/>
<line x1="36.1" y1="480.3" x2="40.3" y2="480.3" stroke="#000" stroke-width="1.1"/>
<text x="34.0" y="483.3" font-size="8.4" text-anchor="end" fill="#000">0</text>
<line x1="36.1" y1="455.7" x2="40.3" y2="455.7" stroke="#000" stroke-width="1.1"/>
<text x="34.0" y="458.7" font-size="8.4" text-anchor="end" fill="#000">20</text>
<line x1="36.1" y1="431.0" x2="40.3" y2="431.0" stroke="#000" stroke-width="1.1"/>
<text x="34.0" y="434.0" font-size="8.4" text-anchor="end" fill="#000">40</text>
<line x1="36.1" y1="406.4" x2="40.3" y2="406.4" stroke="#000" stroke-width="1.1"/>
<text x="34.0" y="409.4" font-size="8.4" text-anchor="end" fill="#000">60</text>
<rect x="46.3" y="423.6" width="8.0" height="56.7" fill="#6b6b6b" stroke="#000000" stroke-width="1.65"/>
<line x1="50.3" y1="418.7" x2="50.3" y2="428.6" stroke="#000000" stroke-width="0.9"/>
<line x1="48.1" y1="418.7" x2="52.5" y2="418.7" stroke="#000000" stroke-width="0.9"/>
<path d="M51.3 425.2h0M47.6 420.5h0M47.5 429.4h0M50.3 425.0h0M47.6 417.3h0M47.7 422.1h0M47.9 433.9h0M48.5 418.4h0M50.8 434.1h0M49.6 434.4h0M52.6 421.8h0M49.0 423.9h0M49.1 421.7h0" stroke="#000000" stroke-width="3.4" stroke-linecap="round" fill="none"/>
<rect x="62.0" y="436.0" width="8.0" height="44.3" fill="#ff8a78" stroke="#ff2a14" stroke-width="1.65"/>
<line x1="66.0" y1="427.3" x2="66.0" y2="444.6" stroke="#ff2a14" stroke-width="0.9"/>
<line x1="63.8" y1="427.3" x2="68.2" y2="427.3" stroke="#ff2a14" stroke-width="0.9"/>
<path d="M68.0 432.6h0M66.9 431.2h0M65.2 425.6h0M63.2 438.9h0M64.1 436.9h0M64.8 439.8h0M66.5 444.2h0M67.9 442.9h0M67.3 433.8h0M66.2 435.5h0M68.4 424.7h0M69.0 436.9h0M63.6 443.0h0" stroke="#ff2a14" stroke-width="3.4" stroke-linecap="round" fill="none"/>
<rect x="77.7" y="427.3" width="8.0" height="53.0" fill="#7d91ff" stroke="#1f45ff" stroke-width="1.65"/>
<line x1="81.7" y1="415.0" x2="81.7" y2="439.7" stroke="#1f45ff" stroke-width="0.9"/>
<line x1="79.5" y1="415.0" x2="83.9" y2="415.0" stroke="#1f45ff" stroke-width="0.9"/>
<path d="M79.5 447.2h0M81.6 416.1h0M83.4 407.8h0M82.2 422.4h0M82.9 419.0h0M82.3 435.6h0M83.9 440.4h0M84.5 434.5h0M78.9 447.1h0M83.0 424.1h0M83.7 453.1h0M80.3 461.5h0M78.7 442.5h0" stroke="#1f45ff" stroke-width="3.4" stroke-linecap="round" fill="none"/>
<rect x="93.4" y="440.9" width="8.0" height="39.4" fill="#c7a6ff" stroke="#9448ff" stroke-width="1.65"/>
<line x1="97.4" y1="436.0" x2="97.4" y2="445.8" stroke="#9448ff" stroke-width="0.9"/>
<line x1="95.2" y1="436.0" x2="99.6" y2="436.0" stroke="#9448ff" stroke-width="0.9"/>
<path d="M97.2 434.3h0M94.6 439.2h0M99.1 437.9h0M96.7 437.4h0M99.8 437.2h0M97.7 434.4h0M99.8 437.3h0M96.0 435.2h0M96.9 453.2h0M100.3 449.8h0M95.2 430.0h0M95.7 438.7h0M97.3 436.5h0" stroke="#9448ff" stroke-width="3.4" stroke-linecap="round" fill="none"/>
<rect x="109.1" y="470.4" width="8.0" height="9.9" fill="#78c27a" stroke="#12891a" stroke-width="1.65"/>
<line x1="113.1" y1="463.1" x2="113.1" y2="477.8" stroke="#12891a" stroke-width="0.9"/>
<line x1="110.9" y1="463.1" x2="115.3" y2="463.1" stroke="#12891a" stroke-width="0.9"/>
<path d="M110.0 474.9h0M112.6 473.3h0M116.0 476.4h0M114.3 464.0h0M114.2 479.1h0M110.3 471.4h0M115.5 460.9h0M115.0 477.4h0M110.6 475.8h0M114.0 466.2h0M111.3 468.1h0M111.0 469.5h0M109.9 471.6h0" stroke="#12891a" stroke-width="3.4" stroke-linecap="round" fill="none"/>
<rect x="124.8" y="460.6" width="8.0" height="19.7" fill="#ffca8a" stroke="#ff9a1a" stroke-width="1.65"/>
<line x1="128.8" y1="455.7" x2="128.8" y2="465.5" stroke="#ff9a1a" stroke-width="0.9"/>
<line x1="126.6" y1="455.7" x2="131.0" y2="455.7" stroke="#ff9a1a" stroke-width="0.9"/>
<path d="M126.6 458.5h0M125.8 454.9h0M131.2 456.4h0M127.2 463.8h0M127.8 463.3h0M131.0 463.1h0M131.9 457.7h0M126.2 468.9h0M126.3 458.8h0M130.9 463.8h0M126.7 455.8h0M129.0 442.6h0M126.6 458.0h0" stroke="#ff9a1a" stroke-width="3.4" stroke-linecap="round" fill="none"/>
<line x1="36.1" y1="480.3" x2="137.7" y2="480.3" stroke="#000" stroke-width="1.15"/>
<text x="89.3" y="371.0" font-size="11.4" font-weight="bold" text-anchor="middle" fill="#000">Ki67</text>
<polyline points="50.3,396.5 50.3,384.8 128.8,384.8 128.8,445.6" fill="none" stroke="#000" stroke-width="1.1"/>
<text x="89.3" y="382.4" font-size="7.8" text-anchor="middle" fill="#000">&lt;0.0001</text>
<polyline points="50.3,409.4 50.3,400.6 113.1,400.6 113.1,450.5" fill="none" stroke="#000" stroke-width="1.1"/>
<text x="81.4" y="398.2" font-size="7.8" text-anchor="middle" fill="#000">&lt;0.0001</text>
<text x="19.6" y="442.0" font-size="10.5" text-anchor="middle" fill="#000" transform="rotate(-90 19.6 442.0)">Percentage %</text>
<text x="4.6" y="384.1" font-size="19" font-weight="bold" text-anchor="start" fill="#000">J</text>
<line x1="196.1" y1="395.8" x2="196.1" y2="470.2" stroke="#000" stroke-width="1.15"/>
<line x1="191.9" y1="470.2" x2="196.1" y2="470.2" stroke="#000" stroke-width="1.1"/>
<text x="189.8" y="473.4" font-size="8.8" text-anchor="end" fill="#000">0</text>
<line x1="191.9" y1="445.6" x2="196.1" y2="445.6" stroke="#000" stroke-width="1.1"/>
<text x="189.8" y="448.7" font-size="8.8" text-anchor="end" fill="#000">20</text>
<line x1="191.9" y1="420.9" x2="196.1" y2="420.9" stroke="#000" stroke-width="1.1"/>
<text x="189.8" y="424.1" font-size="8.8" text-anchor="end" fill="#000">40</text>
<line x1="191.9" y1="396.3" x2="196.1" y2="396.3" stroke="#000" stroke-width="1.1"/>
<text x="189.8" y="399.5" font-size="8.8" text-anchor="end" fill="#000">60</text>
<rect x="202.4" y="466.5" width="8.4" height="3.7" fill="#6b6b6b" stroke="#000000" stroke-width="1.65"/>
<line x1="206.6" y1="462.8" x2="206.6" y2="470.2" stroke="#000000" stroke-width="0.9"/>
<line x1="204.4" y1="462.8" x2="208.8" y2="462.8" stroke="#000000" stroke-width="0.9"/>
<path d="M206.8 467.5h0M209.8 466.8h0M205.0 462.2h0M205.7 469.0h0M206.8 462.8h0M208.4 460.1h0M208.7 468.0h0M209.8 463.8h0M208.7 461.8h0M208.2 469.0h0M205.6 465.7h0M203.5 461.4h0M205.0 463.1h0" stroke="#000000" stroke-width="3.4" stroke-linecap="round" fill="none"/>
<rect x="218.0" y="468.4" width="8.4" height="1.8" fill="#ff8a78" stroke="#ff2a14" stroke-width="1.65"/>
<line x1="222.2" y1="467.1" x2="222.2" y2="469.6" stroke="#ff2a14" stroke-width="0.9"/>
<line x1="220.0" y1="467.1" x2="224.4" y2="467.1" stroke="#ff2a14" stroke-width="0.9"/>
<path d="M223.5 468.1h0M225.1 466.8h0M225.4 468.8h0M220.4 467.0h0M220.4 468.7h0M223.0 468.0h0M224.8 467.4h0M223.2 467.4h0M224.2 469.0h0M224.9 466.5h0M224.1 467.2h0M220.1 468.4h0M224.1 469.0h0" stroke="#ff2a14" stroke-width="3.4" stroke-linecap="round" fill="none"/>
<rect x="233.6" y="463.4" width="8.4" height="6.8" fill="#7d91ff" stroke="#1f45ff" stroke-width="1.65"/>
<line x1="237.8" y1="459.7" x2="237.8" y2="467.1" stroke="#1f45ff" stroke-width="0.9"/>
<line x1="235.6" y1="459.7" x2="240.0" y2="459.7" stroke="#1f45ff" stroke-width="0.9"/>
<path d="M240.9 467.3h0M237.1 456.7h0M239.3 469.0h0M235.6 457.4h0M240.5 461.7h0M239.8 461.7h0M241.0 458.5h0M238.8 457.0h0M235.4 466.6h0M234.6 459.0h0M238.0 457.3h0M240.7 464.6h0M240.0 469.0h0" stroke="#1f45ff" stroke-width="3.4" stroke-linecap="round" fill="none"/>
<rect x="249.2" y="469.0" width="8.4" height="1.2" fill="#c7a6ff" stroke="#9448ff" stroke-width="1.65"/>
<line x1="253.4" y1="468.4" x2="253.4" y2="469.6" stroke="#9448ff" stroke-width="0.9"/>
<line x1="251.2" y1="468.4" x2="255.6" y2="468.4" stroke="#9448ff" stroke-width="0.9"/>
<path d="M251.5 468.5h0M251.7 469.0h0M254.0 468.5h0M251.0 469.0h0M256.1 468.3h0M254.0 469.0h0M256.1 468.4h0M253.4 469.0h0M253.6 468.3h0M253.0 469.0h0M251.3 469.0h0M251.2 467.9h0M253.2 468.9h0" stroke="#9448ff" stroke-width="3.4" stroke-linecap="round" fill="none"/>
<rect x="264.8" y="465.9" width="8.4" height="4.3" fill="#78c27a" stroke="#12891a" stroke-width="1.65"/>
<line x1="269.0" y1="458.5" x2="269.0" y2="470.2" stroke="#12891a" stroke-width="0.9"/>
<line x1="266.8" y1="458.5" x2="271.2" y2="458.5" stroke="#12891a" stroke-width="0.9"/>
<path d="M267.9 467.1h0M269.1 469.0h0M266.4 469.0h0M269.4 469.0h0M270.8 465.8h0M269.1 460.9h0M271.7 469.0h0M268.6 469.0h0M269.1 469.0h0M270.3 469.0h0M268.9 469.0h0M271.9 463.6h0M271.9 469.0h0" stroke="#12891a" stroke-width="3.4" stroke-linecap="round" fill="none"/>
<rect x="280.4" y="432.0" width="8.4" height="38.2" fill="#ffca8a" stroke="#ff9a1a" stroke-width="1.65"/>
<line x1="284.6" y1="427.1" x2="284.6" y2="436.9" stroke="#ff9a1a" stroke-width="0.9"/>
<line x1="282.4" y1="427.1" x2="286.8" y2="427.1" stroke="#ff9a1a" stroke-width="0.9"/>
<path d="M283.0 460.7h0M286.8 465.0h0M282.2 445.0h0M281.8 420.5h0M282.9 421.0h0M286.5 412.3h0M287.2 422.3h0M285.7 418.8h0M282.2 412.7h0M282.7 403.3h0M287.6 458.0h0M287.8 445.7h0M286.8 421.8h0" stroke="#ff9a1a" stroke-width="3.4" stroke-linecap="round" fill="none"/>
<line x1="191.9" y1="470.2" x2="295.0" y2="470.2" stroke="#000" stroke-width="1.15"/>
<text x="245.5" y="371.0" font-size="11.4" font-weight="bold" text-anchor="middle" fill="#000"><tspan font-weight="normal">&#947;</tspan>H2AX</text>
<polyline points="206.6,451.8 206.6,387.3 284.6,387.3 284.6,393.5" fill="none" stroke="#000" stroke-width="1.1"/>
<text x="245.5" y="384.9" font-size="7.8" text-anchor="middle" fill="#000">&lt;0.0001</text>
<text x="176.3" y="431.8" font-size="10.5" text-anchor="middle" fill="#000" transform="rotate(-90 176.3 431.8)">Percentage %</text>
<text x="156.7" y="384.0" font-size="19" font-weight="bold" text-anchor="start" fill="#000">K</text>
<line x1="350.9" y1="397.9" x2="350.9" y2="467.4" stroke="#000" stroke-width="1.15"/>
<line x1="346.7" y1="467.4" x2="350.9" y2="467.4" stroke="#000" stroke-width="1.1"/>
<text x="344.6" y="470.3" font-size="8.2" text-anchor="end" fill="#000">0</text>
<line x1="346.7" y1="453.6" x2="350.9" y2="453.6" stroke="#000" stroke-width="1.1"/>
<text x="344.6" y="456.5" font-size="8.2" text-anchor="end" fill="#000">20</text>
<line x1="346.7" y1="439.8" x2="350.9" y2="439.8" stroke="#000" stroke-width="1.1"/>
<text x="344.6" y="442.7" font-size="8.2" text-anchor="end" fill="#000">40</text>
<line x1="346.7" y1="426.0" x2="350.9" y2="426.0" stroke="#000" stroke-width="1.1"/>
<text x="344.6" y="428.9" font-size="8.2" text-anchor="end" fill="#000">60</text>
<line x1="346.7" y1="412.2" x2="350.9" y2="412.2" stroke="#000" stroke-width="1.1"/>
<text x="344.6" y="415.1" font-size="8.2" text-anchor="end" fill="#000">80</text>
<line x1="346.7" y1="398.4" x2="350.9" y2="398.4" stroke="#000" stroke-width="1.1"/>
<text x="344.6" y="401.3" font-size="8.2" text-anchor="end" fill="#000">100</text>
<rect x="356.9" y="458.4" width="8.0" height="9.0" fill="#6b6b6b" stroke="#000000" stroke-width="1.65"/>
<line x1="360.9" y1="452.9" x2="360.9" y2="463.9" stroke="#000000" stroke-width="0.9"/>
<line x1="358.7" y1="452.9" x2="363.1" y2="452.9" stroke="#000000" stroke-width="0.9"/>
<path d="M361.0 455.3h0M359.9 453.4h0M362.3 456.8h0M357.9 453.9h0M357.8 464.0h0M359.8 460.4h0M358.1 463.1h0M364.0 463.1h0M358.4 454.9h0M359.4 466.2h0M359.4 449.1h0M358.6 456.1h0M362.9 466.2h0" stroke="#000000" stroke-width="3.4" stroke-linecap="round" fill="none"/>
<rect x="371.4" y="444.6" width="8.0" height="22.8" fill="#ff8a78" stroke="#ff2a14" stroke-width="1.65"/>
<line x1="375.4" y1="439.8" x2="375.4" y2="449.5" stroke="#ff2a14" stroke-width="0.9"/>
<line x1="373.2" y1="439.8" x2="377.6" y2="439.8" stroke="#ff2a14" stroke-width="0.9"/>
<path d="M373.9 439.6h0M375.8 438.2h0M376.7 435.9h0M376.6 443.2h0M374.9 443.7h0M376.3 434.4h0M377.3 439.6h0M372.7 436.4h0M377.7 439.9h0M375.7 448.8h0M378.1 443.4h0M375.6 444.9h0M373.7 442.1h0" stroke="#ff2a14" stroke-width="3.4" stroke-linecap="round" fill="none"/>
<rect x="385.9" y="442.6" width="8.0" height="24.8" fill="#7d91ff" stroke="#1f45ff" stroke-width="1.65"/>
<line x1="389.9" y1="433.6" x2="389.9" y2="451.5" stroke="#1f45ff" stroke-width="0.9"/>
<line x1="387.7" y1="433.6" x2="392.1" y2="433.6" stroke="#1f45ff" stroke-width="0.9"/>
<path d="M387.1 438.4h0M388.0 439.2h0M391.5 445.5h0M388.6 435.5h0M388.9 448.2h0M386.8 442.6h0M391.4 442.6h0M390.2 441.0h0M392.7 438.8h0M387.4 433.1h0M389.9 438.6h0M392.0 451.2h0M391.1 450.9h0" stroke="#1f45ff" stroke-width="3.4" stroke-linecap="round" fill="none"/>
<rect x="400.4" y="448.1" width="8.0" height="19.3" fill="#c7a6ff" stroke="#9448ff" stroke-width="1.65"/>
<line x1="404.4" y1="441.2" x2="404.4" y2="455.0" stroke="#9448ff" stroke-width="0.9"/>
<line x1="402.2" y1="441.2" x2="406.6" y2="441.2" stroke="#9448ff" stroke-width="0.9"/>
<path d="M407.5 443.0h0M405.7 455.3h0M405.3 437.2h0M401.6 453.3h0M402.1 444.5h0M402.9 437.8h0M402.3 443.2h0M406.7 436.7h0M405.5 441.4h0M403.1 449.1h0M404.1 443.0h0M402.9 444.0h0M407.3 441.8h0" stroke="#9448ff" stroke-width="3.4" stroke-linecap="round" fill="none"/>
<rect x="414.9" y="432.9" width="8.0" height="34.5" fill="#78c27a" stroke="#12891a" stroke-width="1.65"/>
<line x1="418.9" y1="428.1" x2="418.9" y2="437.7" stroke="#12891a" stroke-width="0.9"/>
<line x1="416.7" y1="428.1" x2="421.1" y2="428.1" stroke="#12891a" stroke-width="0.9"/>
<path d="M417.3 426.9h0M421.9 433.9h0M415.7 434.6h0M418.1 428.7h0M417.0 438.5h0M418.9 432.0h0M416.3 429.1h0M418.3 432.8h0M417.7 431.9h0M417.2 432.6h0M420.5 438.0h0M419.9 435.9h0M418.2 435.0h0" stroke="#12891a" stroke-width="3.4" stroke-linecap="round" fill="none"/>
<rect x="429.4" y="412.9" width="8.0" height="54.5" fill="#ffca8a" stroke="#ff9a1a" stroke-width="1.65"/>
<line x1="433.4" y1="406.7" x2="433.4" y2="419.1" stroke="#ff9a1a" stroke-width="0.9"/>
<line x1="431.2" y1="406.7" x2="435.6" y2="406.7" stroke="#ff9a1a" stroke-width="0.9"/>
<path d="M432.3 425.4h0M434.8 409.4h0M434.3 413.2h0M435.9 401.5h0M434.2 409.7h0M431.1 414.0h0M433.6 424.2h0M435.3 424.7h0M435.5 413.2h0M434.6 424.2h0M434.6 419.5h0M431.1 412.7h0M432.5 411.3h0" stroke="#ff9a1a" stroke-width="3.4" stroke-linecap="round" fill="none"/>
<line x1="346.7" y1="467.4" x2="443.4" y2="467.4" stroke="#000" stroke-width="1.15"/>
<text x="397.3" y="374.0" font-size="11.4" font-weight="bold" text-anchor="middle" fill="#000">p21</text>
<polyline points="360.9,404.0 360.9,391.0 433.4,391.0 433.4,396.0" fill="none" stroke="#000" stroke-width="1.1"/>
<text x="396.8" y="388.6" font-size="7.8" text-anchor="middle" fill="#000">&lt;0.0001</text>
<polyline points="360.9,437.9 360.9,410.8 418.9,410.8 418.9,419.5" fill="none" stroke="#000" stroke-width="1.1"/>
<text x="389.3" y="408.4" font-size="7.8" text-anchor="middle" fill="#000">&lt;0.0001</text>
<text x="327.6" y="431.8" font-size="9.95" text-anchor="middle" fill="#000" transform="rotate(-90 327.6 431.8)">Percentage %</text>
<text x="301.7" y="384.4" font-size="19" font-weight="bold" text-anchor="start" fill="#000">L</text>
<line x1="498.0" y1="399.9" x2="498.0" y2="469.2" stroke="#000" stroke-width="1.15"/>
<line x1="493.8" y1="469.2" x2="498.0" y2="469.2" stroke="#000" stroke-width="1.1"/>
<text x="491.7" y="472.0" font-size="7.9" text-anchor="end" fill="#000">0</text>
<line x1="493.8" y1="455.4" x2="498.0" y2="455.4" stroke="#000" stroke-width="1.1"/>
<text x="491.7" y="458.3" font-size="7.9" text-anchor="end" fill="#000">20</text>
<line x1="493.8" y1="441.7" x2="498.0" y2="441.7" stroke="#000" stroke-width="1.1"/>
<text x="491.7" y="444.5" font-size="7.9" text-anchor="end" fill="#000">40</text>
<line x1="493.8" y1="427.9" x2="498.0" y2="427.9" stroke="#000" stroke-width="1.1"/>
<text x="491.7" y="430.7" font-size="7.9" text-anchor="end" fill="#000">60</text>
<line x1="493.8" y1="414.2" x2="498.0" y2="414.2" stroke="#000" stroke-width="1.1"/>
<text x="491.7" y="417.0" font-size="7.9" text-anchor="end" fill="#000">80</text>
<line x1="493.8" y1="400.4" x2="498.0" y2="400.4" stroke="#000" stroke-width="1.1"/>
<text x="491.7" y="403.2" font-size="7.9" text-anchor="end" fill="#000">100</text>
<rect x="503.8" y="456.8" width="7.8" height="12.4" fill="#6b6b6b" stroke="#000000" stroke-width="1.65"/>
<line x1="507.7" y1="443.7" x2="507.7" y2="469.2" stroke="#000000" stroke-width="0.9"/>
<line x1="505.5" y1="443.7" x2="509.9" y2="443.7" stroke="#000000" stroke-width="0.9"/>
<path d="M508.1 441.3h0M508.5 444.8h0M507.6 467.8h0M504.6 467.9h0M507.7 451.8h0M507.9 468.0h0M509.2 458.9h0M506.2 460.0h0M509.1 449.6h0M505.9 453.2h0M507.7 458.6h0M507.0 468.0h0M509.4 468.0h0" stroke="#000000" stroke-width="3.4" stroke-linecap="round" fill="none"/>
<rect x="518.3" y="437.6" width="7.8" height="31.6" fill="#ff8a78" stroke="#ff2a14" stroke-width="1.65"/>
<line x1="522.2" y1="432.0" x2="522.2" y2="443.1" stroke="#ff2a14" stroke-width="0.9"/>
<line x1="520.0" y1="432.0" x2="524.4" y2="432.0" stroke="#ff2a14" stroke-width="0.9"/>
<path d="M522.9 436.6h0M520.0 438.8h0M520.7 439.1h0M522.6 437.7h0M519.2 441.7h0M523.3 434.0h0M523.4 436.1h0M522.3 439.3h0M522.0 441.1h0M524.6 439.9h0M520.3 437.0h0M519.2 426.4h0M521.9 439.1h0" stroke="#ff2a14" stroke-width="3.4" stroke-linecap="round" fill="none"/>
<rect x="532.8" y="433.4" width="7.8" height="35.8" fill="#7d91ff" stroke="#1f45ff" stroke-width="1.65"/>
<line x1="536.7" y1="421.0" x2="536.7" y2="445.8" stroke="#1f45ff" stroke-width="0.9"/>
<line x1="534.5" y1="421.0" x2="538.9" y2="421.0" stroke="#1f45ff" stroke-width="0.9"/>
<path d="M536.4 424.2h0M535.3 453.0h0M534.9 428.5h0M537.2 414.1h0M539.5 427.1h0M534.4 425.6h0M539.1 429.2h0M538.0 442.3h0M536.6 431.4h0M533.8 415.9h0M536.4 423.8h0M535.5 433.2h0M535.6 428.6h0" stroke="#1f45ff" stroke-width="3.4" stroke-linecap="round" fill="none"/>
<rect x="547.3" y="434.1" width="7.8" height="35.1" fill="#c7a6ff" stroke="#9448ff" stroke-width="1.65"/>
<line x1="551.2" y1="429.3" x2="551.2" y2="438.9" stroke="#9448ff" stroke-width="0.9"/>
<line x1="549.0" y1="429.3" x2="553.4" y2="429.3" stroke="#9448ff" stroke-width="0.9"/>
<path d="M553.3 431.2h0M553.3 427.2h0M548.8 434.0h0M553.7 428.3h0M549.9 437.0h0M554.3 437.0h0M551.8 431.1h0M549.8 436.9h0M548.4 430.8h0M549.9 427.8h0M553.9 429.4h0M551.3 434.1h0M549.3 430.9h0" stroke="#9448ff" stroke-width="3.4" stroke-linecap="round" fill="none"/>
<rect x="561.8" y="423.1" width="7.8" height="46.1" fill="#78c27a" stroke="#12891a" stroke-width="1.65"/>
<line x1="565.7" y1="417.6" x2="565.7" y2="428.6" stroke="#12891a" stroke-width="0.9"/>
<line x1="563.5" y1="417.6" x2="567.9" y2="417.6" stroke="#12891a" stroke-width="0.9"/>
<path d="M568.1 431.5h0M567.6 414.5h0M568.4 430.4h0M566.0 430.9h0M567.1 423.4h0M565.4 424.6h0M564.4 423.0h0M562.9 430.0h0M565.5 420.9h0M564.7 424.2h0M568.7 425.4h0M564.2 415.6h0M566.1 425.4h0" stroke="#12891a" stroke-width="3.4" stroke-linecap="round" fill="none"/>
<rect x="576.3" y="419.7" width="7.8" height="49.5" fill="#ffca8a" stroke="#ff9a1a" stroke-width="1.65"/>
<line x1="580.2" y1="416.2" x2="580.2" y2="423.1" stroke="#ff9a1a" stroke-width="0.9"/>
<line x1="578.0" y1="416.2" x2="582.4" y2="416.2" stroke="#ff9a1a" stroke-width="0.9"/>
<path d="M579.5 421.6h0M578.4 418.9h0M582.7 418.2h0M582.7 421.6h0M583.3 419.6h0M578.3 421.1h0M577.7 419.2h0M578.6 420.3h0M578.7 418.7h0M581.7 424.9h0M579.7 422.1h0M579.4 422.5h0M579.2 417.9h0" stroke="#ff9a1a" stroke-width="3.4" stroke-linecap="round" fill="none"/>
<line x1="493.8" y1="469.2" x2="589.3" y2="469.2" stroke="#000" stroke-width="1.15"/>
<text x="544.0" y="374.0" font-size="11.4" font-weight="bold" text-anchor="middle" fill="#000">p27</text>
<polyline points="507.7,397.9 507.7,387.0 580.2,387.0 580.2,413.8" fill="none" stroke="#000" stroke-width="1.1"/>
<text x="544.0" y="384.6" font-size="7.8" text-anchor="middle" fill="#000">&lt;0.0001</text>
<polyline points="507.7,433.5 507.7,402.3 565.7,402.3 565.7,408.8" fill="none" stroke="#000" stroke-width="1.1"/>
<text x="536.6" y="399.9" font-size="7.8" text-anchor="middle" fill="#000">&lt;0.0001</text>
<text x="475.5" y="433.1" font-size="10.1" text-anchor="middle" fill="#000" transform="rotate(-90 475.5 433.1)">Percentage %</text>
<text x="463.8" y="384.1" font-size="19" font-weight="bold" text-anchor="start" fill="#000">M</text>
<text x="607.8" y="392.2" font-size="11.5" font-weight="bold" text-anchor="start" fill="#000">PR1</text>
<circle cx="601.7" cy="402.8" r="1.5" fill="#000000"/>
<text x="611.8" y="405.4" font-size="7.2" text-anchor="start" fill="#000">Vehicle</text>
<circle cx="601.7" cy="414.5" r="1.5" fill="#ff2a14"/>
<text x="611.8" y="417.1" font-size="7.2" text-anchor="start" fill="#000">Ribociclib</text>
<circle cx="601.7" cy="426.3" r="1.5" fill="#1f45ff"/>
<text x="611.8" y="428.9" font-size="7.2" text-anchor="start" fill="#000">Fulvestrant</text>
<circle cx="601.7" cy="438.0" r="1.5" fill="#9448ff"/>
<text x="611.8" y="440.6" font-size="7.2" text-anchor="start" fill="#000">Ribo+Fulv</text>
<circle cx="601.7" cy="449.8" r="1.5" fill="#12891a"/>
<text x="611.8" y="452.4" font-size="7.2" text-anchor="start" fill="#000">BLU-222+Ribo</text>
<circle cx="601.7" cy="461.5" r="1.5" fill="#ff9a1a"/>
<text x="611.8" y="464.1" font-size="7.2" text-anchor="start" fill="#000">BLU-222+Ribo+Fulv</text>
<line x1="47.5" y1="523.8" x2="47.5" y2="600.3" stroke="#000" stroke-width="1.15"/>
<line x1="43.3" y1="600.3" x2="47.5" y2="600.3" stroke="#000" stroke-width="1.1"/>
<text x="41.2" y="603.5" font-size="9.05" text-anchor="end" fill="#000">0</text>
<line x1="43.3" y1="585.1" x2="47.5" y2="585.1" stroke="#000" stroke-width="1.1"/>
<text x="41.2" y="588.3" font-size="9.05" text-anchor="end" fill="#000">20</text>
<line x1="43.3" y1="569.9" x2="47.5" y2="569.9" stroke="#000" stroke-width="1.1"/>
<text x="41.2" y="573.1" font-size="9.05" text-anchor="end" fill="#000">40</text>
<line x1="43.3" y1="554.7" x2="47.5" y2="554.7" stroke="#000" stroke-width="1.1"/>
<text x="41.2" y="557.9" font-size="9.05" text-anchor="end" fill="#000">60</text>
<line x1="43.3" y1="539.5" x2="47.5" y2="539.5" stroke="#000" stroke-width="1.1"/>
<text x="41.2" y="542.7" font-size="9.05" text-anchor="end" fill="#000">80</text>
<line x1="43.3" y1="524.3" x2="47.5" y2="524.3" stroke="#000" stroke-width="1.1"/>
<text x="41.2" y="527.5" font-size="9.05" text-anchor="end" fill="#000">100</text>
<rect x="54.7" y="541.8" width="10.6" height="58.5" fill="#6b6b6b" stroke="#000000" stroke-width="1.65"/>
<line x1="60.0" y1="538.7" x2="60.0" y2="544.8" stroke="#000000" stroke-width="0.9"/>
<line x1="57.8" y1="538.7" x2="62.2" y2="538.7" stroke="#000000" stroke-width="0.9"/>
<path d="M63.8 539.5h0M57.0 540.8h0M62.9 546.1h0M57.7 541.9h0M59.2 542.1h0M59.6 539.5h0M63.0 536.1h0M56.1 543.5h0M63.2 537.1h0M59.8 540.8h0M59.1 541.8h0M63.4 541.8h0M63.8 539.0h0" stroke="#000000" stroke-width="3.4" stroke-linecap="round" fill="none"/>
<rect x="73.7" y="547.9" width="10.6" height="52.4" fill="#ff8a78" stroke="#ff2a14" stroke-width="1.65"/>
<line x1="79.0" y1="544.1" x2="79.0" y2="551.7" stroke="#ff2a14" stroke-width="0.9"/>
<line x1="76.8" y1="544.1" x2="81.2" y2="544.1" stroke="#ff2a14" stroke-width="0.9"/>
<path d="M77.0 554.5h0M79.2 546.2h0M80.5 546.5h0M80.2 542.2h0M81.1 550.0h0M75.3 552.5h0M81.3 546.6h0M80.2 546.9h0M77.4 539.4h0M80.1 545.9h0M80.6 545.8h0M79.2 546.8h0M79.7 546.9h0" stroke="#ff2a14" stroke-width="3.4" stroke-linecap="round" fill="none"/>
<rect x="92.7" y="556.2" width="10.6" height="44.1" fill="#7d91ff" stroke="#1f45ff" stroke-width="1.65"/>
<line x1="98.0" y1="551.7" x2="98.0" y2="560.8" stroke="#1f45ff" stroke-width="0.9"/>
<line x1="95.8" y1="551.7" x2="100.2" y2="551.7" stroke="#1f45ff" stroke-width="0.9"/>
<path d="M98.8 558.7h0M94.1 554.1h0M101.7 557.8h0M99.2 551.4h0M95.9 552.4h0M96.0 559.7h0M96.4 549.3h0M94.1 558.0h0M97.4 563.1h0M96.0 556.1h0M95.8 561.4h0M94.2 565.2h0M99.5 558.7h0" stroke="#1f45ff" stroke-width="3.4" stroke-linecap="round" fill="none"/>
<rect x="111.7" y="572.2" width="10.6" height="28.1" fill="#c7a6ff" stroke="#9448ff" stroke-width="1.65"/>
<line x1="117.0" y1="564.6" x2="117.0" y2="579.8" stroke="#9448ff" stroke-width="0.9"/>
<line x1="114.8" y1="564.6" x2="119.2" y2="564.6" stroke="#9448ff" stroke-width="0.9"/>
<path d="M114.6 565.4h0M117.0 568.5h0M114.6 584.1h0M119.6 565.7h0M114.8 573.4h0M115.3 569.9h0M120.6 559.5h0M114.8 577.1h0M116.3 572.0h0M114.2 581.6h0M116.1 588.1h0M114.1 567.4h0M113.4 552.2h0" stroke="#9448ff" stroke-width="3.4" stroke-linecap="round" fill="none"/>
<rect x="130.7" y="593.5" width="10.6" height="6.8" fill="#ffca8a" stroke="#ff9a1a" stroke-width="1.65"/>
<line x1="136.0" y1="589.7" x2="136.0" y2="597.3" stroke="#ff9a1a" stroke-width="0.9"/>
<line x1="133.8" y1="589.7" x2="138.2" y2="589.7" stroke="#ff9a1a" stroke-width="0.9"/>
<path d="M139.2 589.9h0M139.1 592.1h0M139.5 594.9h0M134.6 599.1h0M138.0 589.9h0M132.2 585.3h0M135.0 595.4h0M134.6 596.6h0M134.2 593.3h0M134.8 593.2h0M139.7 591.6h0M133.6 594.0h0M138.6 597.8h0" stroke="#ff9a1a" stroke-width="3.4" stroke-linecap="round" fill="none"/>
<line x1="43.3" y1="600.3" x2="148.4" y2="600.3" stroke="#000" stroke-width="1.15"/>
<text x="98.0" y="504.8" font-size="11.4" font-weight="bold" text-anchor="middle" fill="#000">Ki67</text>
<polyline points="60.0,533.3 60.0,527.1 136.0,527.1 136.0,576.7" fill="none" stroke="#000" stroke-width="1.1"/>
<text x="98.0" y="524.7" font-size="7.8" text-anchor="middle" fill="#000">&lt;0.0001</text>
<text x="20.7" y="561.1" font-size="10.8" text-anchor="middle" fill="#000" transform="rotate(-90 20.7 561.1)">Percentage %</text>
<text x="4.7" y="505.6" font-size="19" font-weight="bold" text-anchor="start" fill="#000">N</text>
<line x1="195.4" y1="518.4" x2="195.4" y2="596.2" stroke="#000" stroke-width="1.15"/>
<line x1="191.2" y1="596.2" x2="195.4" y2="596.2" stroke="#000" stroke-width="1.1"/>
<text x="189.1" y="599.4" font-size="8.8" text-anchor="end" fill="#000">0</text>
<line x1="191.2" y1="576.9" x2="195.4" y2="576.9" stroke="#000" stroke-width="1.1"/>
<text x="189.1" y="580.0" font-size="8.8" text-anchor="end" fill="#000">10</text>
<line x1="191.2" y1="557.5" x2="195.4" y2="557.5" stroke="#000" stroke-width="1.1"/>
<text x="189.1" y="560.7" font-size="8.8" text-anchor="end" fill="#000">20</text>
<line x1="191.2" y1="538.2" x2="195.4" y2="538.2" stroke="#000" stroke-width="1.1"/>
<text x="189.1" y="541.4" font-size="8.8" text-anchor="end" fill="#000">30</text>
<line x1="191.2" y1="518.9" x2="195.4" y2="518.9" stroke="#000" stroke-width="1.1"/>
<text x="189.1" y="522.1" font-size="8.8" text-anchor="end" fill="#000">40</text>
<rect x="203.2" y="592.3" width="10.5" height="3.9" fill="#6b6b6b" stroke="#000000" stroke-width="1.65"/>
<line x1="208.5" y1="587.5" x2="208.5" y2="596.2" stroke="#000000" stroke-width="0.9"/>
<line x1="206.3" y1="587.5" x2="210.7" y2="587.5" stroke="#000000" stroke-width="0.9"/>
<path d="M208.0 585.3h0M207.5 587.1h0M211.9 590.7h0M211.7 590.7h0M204.7 588.0h0M210.6 595.0h0M204.8 587.6h0M211.9 590.6h0M206.6 592.0h0M207.2 592.5h0M206.7 595.0h0M206.6 585.9h0M210.2 594.1h0" stroke="#000000" stroke-width="3.4" stroke-linecap="round" fill="none"/>
<rect x="222.7" y="580.7" width="10.5" height="15.5" fill="#ff8a78" stroke="#ff2a14" stroke-width="1.65"/>
<line x1="227.9" y1="567.2" x2="227.9" y2="594.3" stroke="#ff2a14" stroke-width="0.9"/>
<line x1="225.7" y1="567.2" x2="230.1" y2="567.2" stroke="#ff2a14" stroke-width="0.9"/>
<path d="M223.9 585.8h0M229.9 569.4h0M231.4 561.8h0M224.1 591.7h0M231.5 579.0h0M231.5 563.3h0M227.3 589.6h0M227.8 573.1h0M230.3 571.9h0M229.8 585.0h0M228.8 569.0h0M226.5 595.0h0M230.2 586.9h0" stroke="#ff2a14" stroke-width="3.4" stroke-linecap="round" fill="none"/>
<rect x="242.1" y="587.5" width="10.5" height="8.7" fill="#7d91ff" stroke="#1f45ff" stroke-width="1.65"/>
<line x1="247.3" y1="581.7" x2="247.3" y2="593.3" stroke="#1f45ff" stroke-width="0.9"/>
<line x1="245.1" y1="581.7" x2="249.5" y2="581.7" stroke="#1f45ff" stroke-width="0.9"/>
<path d="M243.9 582.5h0M245.3 584.4h0M243.8 578.3h0M245.9 580.3h0M251.1 586.0h0M245.4 574.7h0M244.0 595.0h0M249.0 581.9h0M246.9 583.6h0M248.3 586.9h0M248.7 581.5h0M248.6 587.6h0M244.3 595.0h0" stroke="#1f45ff" stroke-width="3.4" stroke-linecap="round" fill="none"/>
<rect x="261.4" y="590.4" width="10.5" height="5.8" fill="#c7a6ff" stroke="#9448ff" stroke-width="1.65"/>
<line x1="266.7" y1="586.5" x2="266.7" y2="594.3" stroke="#9448ff" stroke-width="0.9"/>
<line x1="264.5" y1="586.5" x2="268.9" y2="586.5" stroke="#9448ff" stroke-width="0.9"/>
<path d="M267.2 588.7h0M265.7 593.1h0M264.7 590.6h0M264.7 593.0h0M267.3 585.8h0M265.3 583.8h0M266.8 595.0h0M264.6 583.1h0M270.6 588.4h0M263.5 595.0h0M269.4 595.0h0M270.0 589.3h0M263.7 587.3h0" stroke="#9448ff" stroke-width="3.4" stroke-linecap="round" fill="none"/>
<rect x="280.9" y="568.2" width="10.5" height="28.0" fill="#ffca8a" stroke="#ff9a1a" stroke-width="1.65"/>
<line x1="286.1" y1="556.6" x2="286.1" y2="579.8" stroke="#ff9a1a" stroke-width="0.9"/>
<line x1="283.9" y1="556.6" x2="288.3" y2="556.6" stroke="#ff9a1a" stroke-width="0.9"/>
<path d="M283.6 565.3h0M289.5 550.5h0M285.1 571.2h0M284.2 558.3h0M288.3 579.2h0M286.9 562.2h0M287.1 570.3h0M283.2 565.6h0M283.7 555.5h0M287.3 568.7h0M283.7 549.9h0M287.5 556.2h0M283.6 567.3h0" stroke="#ff9a1a" stroke-width="3.4" stroke-linecap="round" fill="none"/>
<line x1="191.2" y1="596.2" x2="300.0" y2="596.2" stroke="#000" stroke-width="1.15"/>
<text x="246.8" y="502.0" font-size="11.4" font-weight="bold" text-anchor="middle" fill="#000"><tspan font-weight="normal">&#947;</tspan>H2AX</text>
<polyline points="208.5,570.5 208.5,516.4 286.1,516.4 286.1,535.8" fill="none" stroke="#000" stroke-width="1.1"/>
<text x="246.8" y="514.0" font-size="7.8" text-anchor="middle" fill="#000">&lt;0.0001</text>
<text x="174.4" y="555.7" font-size="11" text-anchor="middle" fill="#000" transform="rotate(-90 174.4 555.7)">Percentage %</text>
<text x="157.1" y="505.4" font-size="19" font-weight="bold" text-anchor="start" fill="#000">O</text>
<line x1="352.7" y1="518.4" x2="352.7" y2="595.3" stroke="#000" stroke-width="1.15"/>
<line x1="348.5" y1="595.3" x2="352.7" y2="595.3" stroke="#000" stroke-width="1.1"/>
<text x="346.4" y="598.5" font-size="8.8" text-anchor="end" fill="#000">0</text>
<line x1="348.5" y1="580.0" x2="352.7" y2="580.0" stroke="#000" stroke-width="1.1"/>
<text x="346.4" y="583.2" font-size="8.8" text-anchor="end" fill="#000">10</text>
<line x1="348.5" y1="564.7" x2="352.7" y2="564.7" stroke="#000" stroke-width="1.1"/>
<text x="346.4" y="567.9" font-size="8.8" text-anchor="end" fill="#000">20</text>
<line x1="348.5" y1="549.5" x2="352.7" y2="549.5" stroke="#000" stroke-width="1.1"/>
<text x="346.4" y="552.6" font-size="8.8" text-anchor="end" fill="#000">30</text>
<line x1="348.5" y1="534.2" x2="352.7" y2="534.2" stroke="#000" stroke-width="1.1"/>
<text x="346.4" y="537.3" font-size="8.8" text-anchor="end" fill="#000">40</text>
<line x1="348.5" y1="518.9" x2="352.7" y2="518.9" stroke="#000" stroke-width="1.1"/>
<text x="346.4" y="522.1" font-size="8.8" text-anchor="end" fill="#000">50</text>
<rect x="360.1" y="582.3" width="10.5" height="13.0" fill="#6b6b6b" stroke="#000000" stroke-width="1.65"/>
<line x1="365.4" y1="570.1" x2="365.4" y2="594.5" stroke="#000000" stroke-width="0.9"/>
<line x1="363.2" y1="570.1" x2="367.6" y2="570.1" stroke="#000000" stroke-width="0.9"/>
<path d="M367.8 585.8h0M365.8 573.7h0M364.6 576.4h0M365.8 579.9h0M362.7 586.2h0M367.0 586.9h0M363.9 591.8h0M369.0 576.3h0M364.3 589.1h0M364.7 565.9h0M364.3 551.8h0M363.0 594.1h0M361.5 583.6h0" stroke="#000000" stroke-width="3.4" stroke-linecap="round" fill="none"/>
<rect x="379.1" y="569.3" width="10.5" height="26.0" fill="#ff8a78" stroke="#ff2a14" stroke-width="1.65"/>
<line x1="384.4" y1="558.6" x2="384.4" y2="580.0" stroke="#ff2a14" stroke-width="0.9"/>
<line x1="382.2" y1="558.6" x2="386.6" y2="558.6" stroke="#ff2a14" stroke-width="0.9"/>
<path d="M387.6 575.5h0M383.7 584.4h0M387.5 561.5h0M380.5 574.6h0M384.8 568.0h0M381.1 582.1h0M385.4 584.9h0M381.6 576.8h0M382.7 561.4h0M381.3 590.0h0M384.3 572.1h0M382.0 561.2h0M381.4 591.9h0" stroke="#ff2a14" stroke-width="3.4" stroke-linecap="round" fill="none"/>
<rect x="398.1" y="590.0" width="10.5" height="5.3" fill="#7d91ff" stroke="#1f45ff" stroke-width="1.65"/>
<line x1="403.4" y1="586.9" x2="403.4" y2="593.0" stroke="#1f45ff" stroke-width="0.9"/>
<line x1="401.2" y1="586.9" x2="405.6" y2="586.9" stroke="#1f45ff" stroke-width="0.9"/>
<path d="M403.3 582.2h0M399.8 592.9h0M406.6 587.2h0M404.4 591.3h0M405.7 589.1h0M401.2 591.6h0M406.0 594.1h0M400.9 586.6h0M403.5 589.3h0M402.5 586.9h0M405.2 588.3h0M406.6 588.3h0M405.5 586.2h0" stroke="#1f45ff" stroke-width="3.4" stroke-linecap="round" fill="none"/>
<rect x="417.1" y="580.0" width="10.5" height="15.3" fill="#c7a6ff" stroke="#9448ff" stroke-width="1.65"/>
<line x1="422.4" y1="566.3" x2="422.4" y2="593.8" stroke="#9448ff" stroke-width="0.9"/>
<line x1="420.2" y1="566.3" x2="424.6" y2="566.3" stroke="#9448ff" stroke-width="0.9"/>
<path d="M418.7 576.0h0M423.2 576.8h0M422.8 585.2h0M421.8 587.3h0M423.1 587.5h0M422.0 594.1h0M421.9 572.0h0M422.3 563.2h0M420.3 577.5h0M422.1 578.2h0M419.8 594.1h0M419.4 585.8h0M421.8 579.0h0" stroke="#9448ff" stroke-width="3.4" stroke-linecap="round" fill="none"/>
<rect x="436.1" y="549.5" width="10.5" height="45.8" fill="#ffca8a" stroke="#ff9a1a" stroke-width="1.65"/>
<line x1="441.4" y1="538.8" x2="441.4" y2="560.2" stroke="#ff9a1a" stroke-width="0.9"/>
<line x1="439.2" y1="538.8" x2="443.6" y2="538.8" stroke="#ff9a1a" stroke-width="0.9"/>
<path d="M441.5 538.4h0M437.7 542.3h0M443.3 552.8h0M443.6 553.3h0M441.4 553.5h0M440.4 549.8h0M444.3 543.2h0M445.4 551.5h0M439.0 552.0h0M445.2 571.8h0M444.7 580.0h0M438.7 547.9h0M437.9 542.7h0" stroke="#ff9a1a" stroke-width="3.4" stroke-linecap="round" fill="none"/>
<line x1="348.5" y1="595.3" x2="452.0" y2="595.3" stroke="#000" stroke-width="1.15"/>
<text x="403.0" y="495.0" font-size="11.4" font-weight="bold" text-anchor="middle" fill="#000">p21</text>
<polyline points="365.4,530.8 365.4,511.0 441.4,511.0 441.4,517.2" fill="none" stroke="#000" stroke-width="1.1"/>
<text x="403.0" y="508.6" font-size="7.8" text-anchor="middle" fill="#000">0.0066</text>
<text x="331.8" y="555.6" font-size="10.85" text-anchor="middle" fill="#000" transform="rotate(-90 331.8 555.6)">Percentage %</text>
<text x="301.7" y="505.6" font-size="19" font-weight="bold" text-anchor="start" fill="#000">P</text>
<line x1="501.4" y1="521.5" x2="501.4" y2="594.8" stroke="#000" stroke-width="1.15"/>
<line x1="497.2" y1="594.8" x2="501.4" y2="594.8" stroke="#000" stroke-width="1.1"/>
<text x="495.1" y="597.9" font-size="8.6" text-anchor="end" fill="#000">0</text>
<line x1="497.2" y1="580.2" x2="501.4" y2="580.2" stroke="#000" stroke-width="1.1"/>
<text x="495.1" y="583.3" font-size="8.6" text-anchor="end" fill="#000">20</text>
<line x1="497.2" y1="565.7" x2="501.4" y2="565.7" stroke="#000" stroke-width="1.1"/>
<text x="495.1" y="568.8" font-size="8.6" text-anchor="end" fill="#000">40</text>
<line x1="497.2" y1="551.1" x2="501.4" y2="551.1" stroke="#000" stroke-width="1.1"/>
<text x="495.1" y="554.2" font-size="8.6" text-anchor="end" fill="#000">60</text>
<line x1="497.2" y1="536.6" x2="501.4" y2="536.6" stroke="#000" stroke-width="1.1"/>
<text x="495.1" y="539.6" font-size="8.6" text-anchor="end" fill="#000">80</text>
<line x1="497.2" y1="522.0" x2="501.4" y2="522.0" stroke="#000" stroke-width="1.1"/>
<text x="495.1" y="525.1" font-size="8.6" text-anchor="end" fill="#000">100</text>
<rect x="508.4" y="552.6" width="10.0" height="42.2" fill="#6b6b6b" stroke="#000000" stroke-width="1.65"/>
<line x1="513.4" y1="539.5" x2="513.4" y2="565.7" stroke="#000000" stroke-width="0.9"/>
<line x1="511.2" y1="539.5" x2="515.6" y2="539.5" stroke="#000000" stroke-width="0.9"/>
<path d="M512.3 582.0h0M516.4 552.3h0M511.7 560.3h0M513.4 549.7h0M516.6 559.3h0M513.4 549.9h0M512.0 542.7h0M510.8 544.5h0M516.7 550.7h0M510.9 564.5h0M515.6 577.7h0M514.4 540.5h0M512.3 541.9h0" stroke="#000000" stroke-width="3.4" stroke-linecap="round" fill="none"/>
<rect x="526.5" y="551.8" width="10.0" height="43.0" fill="#ff8a78" stroke="#ff2a14" stroke-width="1.65"/>
<line x1="531.5" y1="544.6" x2="531.5" y2="559.1" stroke="#ff2a14" stroke-width="0.9"/>
<line x1="529.3" y1="544.6" x2="533.7" y2="544.6" stroke="#ff2a14" stroke-width="0.9"/>
<path d="M532.1 545.4h0M534.4 558.5h0M532.5 533.7h0M530.7 537.8h0M535.3 550.2h0M532.1 557.3h0M531.1 559.8h0M529.0 542.3h0M533.9 551.9h0M529.6 554.1h0M532.2 565.3h0M532.8 567.9h0M527.9 552.0h0" stroke="#ff2a14" stroke-width="3.4" stroke-linecap="round" fill="none"/>
<rect x="544.6" y="524.9" width="10.0" height="69.9" fill="#7d91ff" stroke="#1f45ff" stroke-width="1.65"/>
<line x1="549.6" y1="522.7" x2="549.6" y2="527.1" stroke="#1f45ff" stroke-width="0.9"/>
<line x1="547.4" y1="522.7" x2="551.8" y2="522.7" stroke="#1f45ff" stroke-width="0.9"/>
<path d="M546.9 524.8h0M549.7 526.6h0M552.6 526.5h0M550.8 523.9h0M545.9 523.8h0M546.6 522.9h0M548.5 524.9h0M550.3 524.4h0M547.3 522.1h0M546.8 526.7h0M552.9 526.7h0M546.5 524.9h0M550.7 523.7h0" stroke="#1f45ff" stroke-width="3.4" stroke-linecap="round" fill="none"/>
<rect x="562.7" y="527.8" width="10.0" height="67.0" fill="#c7a6ff" stroke="#9448ff" stroke-width="1.65"/>
<line x1="567.7" y1="524.2" x2="567.7" y2="531.5" stroke="#9448ff" stroke-width="0.9"/>
<line x1="565.5" y1="524.2" x2="569.9" y2="524.2" stroke="#9448ff" stroke-width="0.9"/>
<path d="M566.9 523.4h0M565.9 532.4h0M568.2 522.6h0M566.6 527.4h0M571.0 530.2h0M569.5 530.9h0M564.2 527.7h0M567.9 520.0h0M564.3 530.1h0M569.8 526.3h0M571.1 523.2h0M565.0 527.5h0M567.8 526.3h0" stroke="#9448ff" stroke-width="3.4" stroke-linecap="round" fill="none"/>
<rect x="580.8" y="529.3" width="10.0" height="65.5" fill="#ffca8a" stroke="#ff9a1a" stroke-width="1.65"/>
<line x1="585.8" y1="525.6" x2="585.8" y2="532.9" stroke="#ff9a1a" stroke-width="0.9"/>
<line x1="583.6" y1="525.6" x2="588.0" y2="525.6" stroke="#ff9a1a" stroke-width="0.9"/>
<path d="M586.9 524.5h0M584.3 528.4h0M584.3 531.4h0M588.0 522.0h0M587.4 527.0h0M587.7 522.3h0M585.5 529.0h0M583.7 529.5h0M582.8 533.3h0M584.5 529.2h0M587.7 528.3h0M587.4 531.7h0M584.0 535.9h0" stroke="#ff9a1a" stroke-width="3.4" stroke-linecap="round" fill="none"/>
<line x1="497.2" y1="594.8" x2="596.0" y2="594.8" stroke="#000" stroke-width="1.15"/>
<text x="550.0" y="490.0" font-size="11.4" font-weight="bold" text-anchor="middle" fill="#000">p27</text>
<polyline points="513.4,510.5 513.4,502.6 585.8,502.6 585.8,517.0" fill="none" stroke="#000" stroke-width="1.1"/>
<text x="550.0" y="500.2" font-size="7.8" text-anchor="middle" fill="#000">0.0135</text>
<polyline points="513.4,528.8 513.4,514.7 567.7,514.7 567.7,520.4" fill="none" stroke="#000" stroke-width="1.1"/>
<text x="540.6" y="512.3" font-size="7.8" text-anchor="middle" fill="#000">0.0013</text>
<text x="476.6" y="557.0" font-size="10.4" text-anchor="middle" fill="#000" transform="rotate(-90 476.6 557.0)">Percentage %</text>
<text x="467.2" y="505.4" font-size="19" font-weight="bold" text-anchor="start" fill="#000">Q</text>
<text x="614.5" y="516.9" font-size="11.5" font-weight="bold" text-anchor="start" fill="#000">PR3</text>
<circle cx="603.8" cy="531.5" r="1.5" fill="#000000"/>
<text x="614.5" y="534.1" font-size="7.4" text-anchor="start" fill="#000">Vehicle</text>
<circle cx="603.8" cy="544.5" r="1.5" fill="#ff2a14"/>
<text x="614.5" y="547.1" font-size="7.4" text-anchor="start" fill="#000">Ribociclib</text>
<circle cx="603.8" cy="557.3" r="1.5" fill="#1f45ff"/>
<text x="614.5" y="559.9" font-size="7.4" text-anchor="start" fill="#000">Fulvestrant</text>
<circle cx="603.8" cy="570.0" r="1.5" fill="#9448ff"/>
<text x="614.5" y="572.6" font-size="7.4" text-anchor="start" fill="#000">Palbo+Fulv</text>
<circle cx="603.8" cy="583.2" r="1.5" fill="#ff9a1a"/>
<text x="614.5" y="585.8" font-size="7.4" text-anchor="start" fill="#000">BLU-222+Ribo+Fulv</text>
<line x1="44.7" y1="658.1" x2="44.7" y2="733.4" stroke="#000" stroke-width="1.15"/>
<line x1="40.5" y1="733.4" x2="44.7" y2="733.4" stroke="#000" stroke-width="1.1"/>
<text x="38.4" y="736.5" font-size="8.65" text-anchor="end" fill="#000">0</text>
<line x1="40.5" y1="718.4" x2="44.7" y2="718.4" stroke="#000" stroke-width="1.1"/>
<text x="38.4" y="721.5" font-size="8.65" text-anchor="end" fill="#000">20</text>
<line x1="40.5" y1="703.5" x2="44.7" y2="703.5" stroke="#000" stroke-width="1.1"/>
<text x="38.4" y="706.6" font-size="8.65" text-anchor="end" fill="#000">40</text>
<line x1="40.5" y1="688.5" x2="44.7" y2="688.5" stroke="#000" stroke-width="1.1"/>
<text x="38.4" y="691.6" font-size="8.65" text-anchor="end" fill="#000">60</text>
<line x1="40.5" y1="673.6" x2="44.7" y2="673.6" stroke="#000" stroke-width="1.1"/>
<text x="38.4" y="676.7" font-size="8.65" text-anchor="end" fill="#000">80</text>
<line x1="40.5" y1="658.6" x2="44.7" y2="658.6" stroke="#000" stroke-width="1.1"/>
<text x="38.4" y="661.7" font-size="8.65" text-anchor="end" fill="#000">100</text>
<rect x="50.9" y="681.8" width="8.6" height="51.6" fill="#6b6b6b" stroke="#000000" stroke-width="1.65"/>
<line x1="55.2" y1="674.3" x2="55.2" y2="689.3" stroke="#000000" stroke-width="0.9"/>
<line x1="53.0" y1="674.3" x2="57.4" y2="674.3" stroke="#000000" stroke-width="0.9"/>
<path d="M57.1 689.3h0M55.4 684.4h0M58.3 682.8h0M53.3 671.1h0M53.6 680.8h0M53.4 682.7h0M56.9 682.5h0M54.0 699.8h0M53.4 676.9h0M57.9 686.4h0M56.3 689.6h0M58.4 690.2h0M56.5 695.8h0" stroke="#000000" stroke-width="3.4" stroke-linecap="round" fill="none"/>
<rect x="66.8" y="680.3" width="8.6" height="53.1" fill="#ff8a78" stroke="#ff2a14" stroke-width="1.65"/>
<line x1="71.1" y1="674.3" x2="71.1" y2="686.3" stroke="#ff2a14" stroke-width="0.9"/>
<line x1="68.9" y1="674.3" x2="73.3" y2="674.3" stroke="#ff2a14" stroke-width="0.9"/>
<path d="M73.5 678.1h0M71.6 689.2h0M69.8 676.6h0M68.3 678.3h0M73.9 672.2h0M68.5 679.4h0M74.0 679.2h0M67.9 682.2h0M68.0 677.6h0M72.4 683.3h0M72.7 688.2h0M70.2 673.0h0M73.2 677.1h0" stroke="#ff2a14" stroke-width="3.4" stroke-linecap="round" fill="none"/>
<rect x="82.7" y="683.3" width="8.6" height="50.1" fill="#7d91ff" stroke="#1f45ff" stroke-width="1.65"/>
<line x1="87.0" y1="677.3" x2="87.0" y2="689.3" stroke="#1f45ff" stroke-width="0.9"/>
<line x1="84.8" y1="677.3" x2="89.2" y2="677.3" stroke="#1f45ff" stroke-width="0.9"/>
<path d="M84.1 677.9h0M89.5 694.7h0M84.4 670.9h0M85.0 690.7h0M89.3 682.1h0M89.1 682.3h0M87.9 690.7h0M85.6 691.6h0M88.7 681.1h0M85.0 681.7h0M83.8 685.9h0M85.4 677.6h0M86.1 685.2h0" stroke="#1f45ff" stroke-width="3.4" stroke-linecap="round" fill="none"/>
<rect x="98.6" y="679.5" width="8.6" height="53.9" fill="#c7a6ff" stroke="#9448ff" stroke-width="1.65"/>
<line x1="102.9" y1="672.1" x2="102.9" y2="687.0" stroke="#9448ff" stroke-width="0.9"/>
<line x1="100.7" y1="672.1" x2="105.1" y2="672.1" stroke="#9448ff" stroke-width="0.9"/>
<path d="M101.7 667.9h0M105.3 670.9h0M103.7 681.5h0M102.5 672.0h0M104.7 678.1h0M103.2 686.2h0M101.0 670.0h0M105.1 677.4h0M100.7 682.0h0M104.7 674.5h0M106.1 679.5h0M102.8 670.9h0M104.9 679.3h0" stroke="#9448ff" stroke-width="3.4" stroke-linecap="round" fill="none"/>
<rect x="114.5" y="701.2" width="8.6" height="32.2" fill="#78c27a" stroke="#12891a" stroke-width="1.65"/>
<line x1="118.8" y1="693.0" x2="118.8" y2="709.5" stroke="#12891a" stroke-width="0.9"/>
<line x1="116.6" y1="693.0" x2="121.0" y2="693.0" stroke="#12891a" stroke-width="0.9"/>
<path d="M117.8 697.4h0M121.0 692.4h0M117.3 702.5h0M116.9 681.5h0M116.2 704.3h0M119.7 710.4h0M120.1 688.6h0M120.7 694.2h0M118.1 706.6h0M118.1 706.8h0M121.4 698.5h0M115.6 703.5h0M121.5 699.5h0" stroke="#12891a" stroke-width="3.4" stroke-linecap="round" fill="none"/>
<rect x="130.4" y="702.7" width="8.6" height="30.7" fill="#ffca8a" stroke="#ff9a1a" stroke-width="1.65"/>
<line x1="134.7" y1="695.3" x2="134.7" y2="710.2" stroke="#ff9a1a" stroke-width="0.9"/>
<line x1="132.5" y1="695.3" x2="136.9" y2="695.3" stroke="#ff9a1a" stroke-width="0.9"/>
<path d="M134.7 697.1h0M132.9 714.0h0M134.4 692.1h0M136.4 715.0h0M135.7 705.2h0M132.4 706.6h0M137.0 697.3h0M132.5 709.2h0M134.3 713.2h0M132.2 701.3h0M134.4 712.5h0M132.6 698.6h0M133.4 706.4h0" stroke="#ff9a1a" stroke-width="3.4" stroke-linecap="round" fill="none"/>
<line x1="40.5" y1="733.4" x2="144.7" y2="733.4" stroke="#000" stroke-width="1.15"/>
<text x="95.0" y="631.0" font-size="11.4" font-weight="bold" text-anchor="middle" fill="#000">Ki67</text>
<polyline points="55.2,654.7 55.2,644.1 134.7,644.1 134.7,683.0" fill="none" stroke="#000" stroke-width="1.1"/>
<text x="95.0" y="641.7" font-size="7.8" text-anchor="middle" fill="#000">&lt;0.0001</text>
<polyline points="55.2,664.4 55.2,659.3 118.8,659.3 118.8,676.9" fill="none" stroke="#000" stroke-width="1.1"/>
<text x="86.8" y="656.9" font-size="7.8" text-anchor="middle" fill="#000">&lt;0.0001</text>
<text x="18.6" y="694.7" font-size="10.7" text-anchor="middle" fill="#000" transform="rotate(-90 18.6 694.7)">Percentage %</text>
<text x="5.9" y="633.6" font-size="19" font-weight="bold" text-anchor="start" fill="#000">R</text>
<line x1="194.7" y1="648.8" x2="194.7" y2="727.1" stroke="#000" stroke-width="1.15"/>
<line x1="190.5" y1="727.1" x2="194.7" y2="727.1" stroke="#000" stroke-width="1.1"/>
<text x="188.4" y="730.4" font-size="9.2" text-anchor="end" fill="#000">0</text>
<line x1="190.5" y1="707.6" x2="194.7" y2="707.6" stroke="#000" stroke-width="1.1"/>
<text x="188.4" y="710.9" font-size="9.2" text-anchor="end" fill="#000">20</text>
<line x1="190.5" y1="688.2" x2="194.7" y2="688.2" stroke="#000" stroke-width="1.1"/>
<text x="188.4" y="691.5" font-size="9.2" text-anchor="end" fill="#000">40</text>
<line x1="190.5" y1="668.8" x2="194.7" y2="668.8" stroke="#000" stroke-width="1.1"/>
<text x="188.4" y="672.0" font-size="9.2" text-anchor="end" fill="#000">60</text>
<line x1="190.5" y1="649.3" x2="194.7" y2="649.3" stroke="#000" stroke-width="1.1"/>
<text x="188.4" y="652.6" font-size="9.2" text-anchor="end" fill="#000">80</text>
<rect x="201.1" y="717.4" width="8.6" height="9.7" fill="#6b6b6b" stroke="#000000" stroke-width="1.65"/>
<line x1="205.4" y1="707.6" x2="205.4" y2="727.1" stroke="#000000" stroke-width="0.9"/>
<line x1="203.2" y1="707.6" x2="207.6" y2="707.6" stroke="#000000" stroke-width="0.9"/>
<path d="M203.1 722.8h0M203.1 725.9h0M205.5 717.2h0M203.1 708.7h0M208.6 720.3h0M206.9 711.8h0M202.7 697.4h0M204.6 702.5h0M207.0 700.2h0M205.0 719.1h0M202.8 712.8h0M203.4 704.3h0M204.7 719.3h0" stroke="#000000" stroke-width="3.4" stroke-linecap="round" fill="none"/>
<rect x="217.4" y="723.2" width="8.6" height="3.9" fill="#ff8a78" stroke="#ff2a14" stroke-width="1.65"/>
<line x1="221.7" y1="721.3" x2="221.7" y2="725.2" stroke="#ff2a14" stroke-width="0.9"/>
<line x1="219.5" y1="721.3" x2="223.8" y2="721.3" stroke="#ff2a14" stroke-width="0.9"/>
<path d="M223.6 722.9h0M222.5 724.0h0M221.4 725.4h0M221.0 721.5h0M223.3 721.2h0M222.1 721.5h0M223.3 724.3h0M223.1 724.4h0M224.2 722.5h0M224.0 722.8h0M222.9 725.9h0M220.4 724.6h0M222.5 724.9h0" stroke="#ff2a14" stroke-width="3.4" stroke-linecap="round" fill="none"/>
<rect x="233.6" y="716.4" width="8.6" height="10.7" fill="#7d91ff" stroke="#1f45ff" stroke-width="1.65"/>
<line x1="237.9" y1="713.5" x2="237.9" y2="719.3" stroke="#1f45ff" stroke-width="0.9"/>
<line x1="235.7" y1="713.5" x2="240.1" y2="713.5" stroke="#1f45ff" stroke-width="0.9"/>
<path d="M239.8 713.9h0M239.3 714.6h0M237.4 717.9h0M237.6 718.0h0M239.1 718.6h0M240.8 718.5h0M239.8 714.7h0M237.2 712.5h0M234.8 724.3h0M238.2 715.9h0M240.9 713.7h0M238.0 712.1h0M238.2 713.3h0" stroke="#1f45ff" stroke-width="3.4" stroke-linecap="round" fill="none"/>
<rect x="249.9" y="709.6" width="8.6" height="17.5" fill="#c7a6ff" stroke="#9448ff" stroke-width="1.65"/>
<line x1="254.2" y1="699.9" x2="254.2" y2="719.3" stroke="#9448ff" stroke-width="0.9"/>
<line x1="252.0" y1="699.9" x2="256.4" y2="699.9" stroke="#9448ff" stroke-width="0.9"/>
<path d="M255.6 702.1h0M256.4 723.4h0M254.3 710.7h0M252.2 725.9h0M255.4 697.0h0M251.6 722.5h0M257.4 699.3h0M252.6 711.6h0M253.5 707.0h0M253.6 699.5h0M255.5 708.7h0M252.3 714.2h0M255.8 703.5h0" stroke="#9448ff" stroke-width="3.4" stroke-linecap="round" fill="none"/>
<rect x="266.1" y="682.4" width="8.6" height="44.7" fill="#78c27a" stroke="#12891a" stroke-width="1.65"/>
<line x1="270.4" y1="678.5" x2="270.4" y2="686.3" stroke="#12891a" stroke-width="0.9"/>
<line x1="268.2" y1="678.5" x2="272.6" y2="678.5" stroke="#12891a" stroke-width="0.9"/>
<path d="M268.5 677.9h0M272.4 684.1h0M267.9 684.5h0M272.3 680.7h0M270.2 680.3h0M270.8 687.5h0M269.4 680.9h0M271.3 672.5h0M270.2 679.4h0M269.0 688.9h0M272.6 684.3h0M269.4 683.0h0M269.6 680.6h0" stroke="#12891a" stroke-width="3.4" stroke-linecap="round" fill="none"/>
<rect x="282.3" y="686.3" width="8.6" height="40.8" fill="#ffca8a" stroke="#ff9a1a" stroke-width="1.65"/>
<line x1="286.6" y1="672.6" x2="286.6" y2="699.9" stroke="#ff9a1a" stroke-width="0.9"/>
<line x1="284.4" y1="672.6" x2="288.8" y2="672.6" stroke="#ff9a1a" stroke-width="0.9"/>
<path d="M285.0 694.9h0M283.3 694.1h0M288.1 682.3h0M285.3 688.2h0M286.5 676.2h0M287.7 703.7h0M285.7 677.8h0M283.7 662.2h0M288.9 697.8h0M284.2 666.5h0M288.9 699.6h0M283.4 687.8h0M289.7 688.0h0" stroke="#ff9a1a" stroke-width="3.4" stroke-linecap="round" fill="none"/>
<line x1="190.5" y1="727.1" x2="298.4" y2="727.1" stroke="#000" stroke-width="1.15"/>
<text x="246.3" y="632.7" font-size="11.4" font-weight="bold" text-anchor="middle" fill="#000"><tspan font-weight="normal">&#947;</tspan>H2AX</text>
<polyline points="205.4,657.7 205.4,645.4 286.6,645.4 286.6,658.3" fill="none" stroke="#000" stroke-width="1.1"/>
<text x="246.3" y="643.0" font-size="7.8" text-anchor="middle" fill="#000">&lt;0.0001</text>
<polyline points="205.4,687.1 205.4,663.3 270.4,663.3 270.4,672.0" fill="none" stroke="#000" stroke-width="1.1"/>
<text x="237.3" y="660.9" font-size="7.8" text-anchor="middle" fill="#000">&lt;0.0001</text>
<text x="174.0" y="686.6" font-size="11" text-anchor="middle" fill="#000" transform="rotate(-90 174.0 686.6)">Percentage %</text>
<text x="158.4" y="633.6" font-size="19" font-weight="bold" text-anchor="start" fill="#000">S</text>
<line x1="352.1" y1="648.8" x2="352.1" y2="725.3" stroke="#000" stroke-width="1.15"/>
<line x1="347.9" y1="725.3" x2="352.1" y2="725.3" stroke="#000" stroke-width="1.1"/>
<text x="345.8" y="728.5" font-size="8.9" text-anchor="end" fill="#000">0</text>
<line x1="347.9" y1="710.1" x2="352.1" y2="710.1" stroke="#000" stroke-width="1.1"/>
<text x="345.8" y="713.3" font-size="8.9" text-anchor="end" fill="#000">20</text>
<line x1="347.9" y1="694.9" x2="352.1" y2="694.9" stroke="#000" stroke-width="1.1"/>
<text x="345.8" y="698.1" font-size="8.9" text-anchor="end" fill="#000">40</text>
<line x1="347.9" y1="679.7" x2="352.1" y2="679.7" stroke="#000" stroke-width="1.1"/>
<text x="345.8" y="682.9" font-size="8.9" text-anchor="end" fill="#000">60</text>
<line x1="347.9" y1="664.5" x2="352.1" y2="664.5" stroke="#000" stroke-width="1.1"/>
<text x="345.8" y="667.7" font-size="8.9" text-anchor="end" fill="#000">80</text>
<line x1="347.9" y1="649.3" x2="352.1" y2="649.3" stroke="#000" stroke-width="1.1"/>
<text x="345.8" y="652.5" font-size="8.9" text-anchor="end" fill="#000">100</text>
<rect x="358.3" y="710.9" width="8.7" height="14.4" fill="#6b6b6b" stroke="#000000" stroke-width="1.65"/>
<line x1="362.6" y1="706.3" x2="362.6" y2="715.4" stroke="#000000" stroke-width="0.9"/>
<line x1="360.4" y1="706.3" x2="364.8" y2="706.3" stroke="#000000" stroke-width="0.9"/>
<path d="M359.9 712.8h0M360.2 713.7h0M361.6 710.1h0M360.2 703.0h0M360.3 704.2h0M365.3 715.4h0M363.7 717.0h0M365.3 715.9h0M360.5 708.8h0M363.9 719.3h0M362.2 718.2h0M365.2 712.3h0M360.8 714.2h0" stroke="#000000" stroke-width="3.4" stroke-linecap="round" fill="none"/>
<rect x="374.4" y="707.8" width="8.7" height="17.5" fill="#ff8a78" stroke="#ff2a14" stroke-width="1.65"/>
<line x1="378.8" y1="699.5" x2="378.8" y2="716.2" stroke="#ff2a14" stroke-width="0.9"/>
<line x1="376.6" y1="699.5" x2="380.9" y2="699.5" stroke="#ff2a14" stroke-width="0.9"/>
<path d="M376.3 710.0h0M378.5 710.7h0M376.3 707.7h0M379.0 717.6h0M381.2 707.3h0M378.5 691.8h0M379.2 707.2h0M377.9 715.9h0M378.2 721.6h0M379.7 704.6h0M379.7 708.6h0M380.0 696.5h0M381.7 705.8h0" stroke="#ff2a14" stroke-width="3.4" stroke-linecap="round" fill="none"/>
<rect x="390.6" y="713.9" width="8.7" height="11.4" fill="#7d91ff" stroke="#1f45ff" stroke-width="1.65"/>
<line x1="394.9" y1="709.3" x2="394.9" y2="718.5" stroke="#1f45ff" stroke-width="0.9"/>
<line x1="392.7" y1="709.3" x2="397.1" y2="709.3" stroke="#1f45ff" stroke-width="0.9"/>
<path d="M395.0 720.1h0M394.8 702.6h0M396.4 712.9h0M395.8 714.6h0M394.0 718.7h0M394.7 706.2h0M392.9 721.6h0M394.5 715.2h0M397.1 719.0h0M393.5 711.2h0M394.9 711.7h0M393.3 718.0h0M396.0 724.1h0" stroke="#1f45ff" stroke-width="3.4" stroke-linecap="round" fill="none"/>
<rect x="406.7" y="713.1" width="8.7" height="12.2" fill="#c7a6ff" stroke="#9448ff" stroke-width="1.65"/>
<line x1="411.1" y1="708.6" x2="411.1" y2="717.7" stroke="#9448ff" stroke-width="0.9"/>
<line x1="408.9" y1="708.6" x2="413.2" y2="708.6" stroke="#9448ff" stroke-width="0.9"/>
<path d="M413.0 713.6h0M409.7 715.1h0M411.6 709.7h0M407.9 718.4h0M412.6 719.1h0M408.0 708.8h0M409.7 716.9h0M413.9 710.2h0M411.8 713.0h0M413.8 717.5h0M411.8 719.9h0M412.4 717.9h0M411.7 717.4h0" stroke="#9448ff" stroke-width="3.4" stroke-linecap="round" fill="none"/>
<rect x="422.9" y="678.9" width="8.7" height="46.4" fill="#78c27a" stroke="#12891a" stroke-width="1.65"/>
<line x1="427.2" y1="669.8" x2="427.2" y2="688.1" stroke="#12891a" stroke-width="0.9"/>
<line x1="425.0" y1="669.8" x2="429.4" y2="669.8" stroke="#12891a" stroke-width="0.9"/>
<path d="M428.3 681.6h0M426.9 684.7h0M425.0 678.6h0M424.1 683.1h0M428.3 675.8h0M426.3 698.9h0M427.6 671.9h0M425.6 693.3h0M426.0 682.0h0M426.7 669.9h0M424.2 692.3h0M427.7 695.5h0M429.3 674.5h0" stroke="#12891a" stroke-width="3.4" stroke-linecap="round" fill="none"/>
<rect x="439.0" y="677.4" width="8.7" height="47.9" fill="#ffca8a" stroke="#ff9a1a" stroke-width="1.65"/>
<line x1="443.4" y1="670.6" x2="443.4" y2="684.3" stroke="#ff9a1a" stroke-width="0.9"/>
<line x1="441.2" y1="670.6" x2="445.6" y2="670.6" stroke="#ff9a1a" stroke-width="0.9"/>
<path d="M443.9 676.6h0M440.0 670.9h0M442.6 681.1h0M446.6 690.9h0M443.2 686.2h0M444.3 680.1h0M441.4 675.8h0M440.0 676.7h0M444.6 676.4h0M440.6 664.6h0M445.9 665.1h0M444.8 676.5h0M441.6 676.5h0" stroke="#ff9a1a" stroke-width="3.4" stroke-linecap="round" fill="none"/>
<line x1="347.9" y1="725.3" x2="453.8" y2="725.3" stroke="#000" stroke-width="1.15"/>
<text x="402.2" y="622.0" font-size="11.4" font-weight="bold" text-anchor="middle" fill="#000">p21</text>
<polyline points="362.6,645.6 362.6,635.2 443.4,635.2 443.4,653.3" fill="none" stroke="#000" stroke-width="1.1"/>
<text x="402.2" y="632.8" font-size="7.8" text-anchor="middle" fill="#000">&lt;0.0001</text>
<polyline points="362.6,696.9 362.6,650.7 427.2,650.7 427.2,654.6" fill="none" stroke="#000" stroke-width="1.1"/>
<text x="394.3" y="648.3" font-size="7.8" text-anchor="middle" fill="#000">&lt;0.0001</text>
<text x="324.8" y="686.1" font-size="10.8" text-anchor="middle" fill="#000" transform="rotate(-90 324.8 686.1)">Percentage %</text>
<text x="303.3" y="633.6" font-size="19" font-weight="bold" text-anchor="start" fill="#000">T</text>
<line x1="505.5" y1="653.4" x2="505.5" y2="727.5" stroke="#000" stroke-width="1.15"/>
<line x1="501.3" y1="727.5" x2="505.5" y2="727.5" stroke="#000" stroke-width="1.1"/>
<text x="499.2" y="730.6" font-size="8.7" text-anchor="end" fill="#000">0</text>
<line x1="501.3" y1="712.8" x2="505.5" y2="712.8" stroke="#000" stroke-width="1.1"/>
<text x="499.2" y="715.9" font-size="8.7" text-anchor="end" fill="#000">20</text>
<line x1="501.3" y1="698.1" x2="505.5" y2="698.1" stroke="#000" stroke-width="1.1"/>
<text x="499.2" y="701.2" font-size="8.7" text-anchor="end" fill="#000">40</text>
<line x1="501.3" y1="683.3" x2="505.5" y2="683.3" stroke="#000" stroke-width="1.1"/>
<text x="499.2" y="686.5" font-size="8.7" text-anchor="end" fill="#000">60</text>
<line x1="501.3" y1="668.6" x2="505.5" y2="668.6" stroke="#000" stroke-width="1.1"/>
<text x="499.2" y="671.7" font-size="8.7" text-anchor="end" fill="#000">80</text>
<line x1="501.3" y1="653.9" x2="505.5" y2="653.9" stroke="#000" stroke-width="1.1"/>
<text x="499.2" y="657.0" font-size="8.7" text-anchor="end" fill="#000">100</text>
<rect x="511.4" y="680.4" width="8.0" height="47.1" fill="#6b6b6b" stroke="#000000" stroke-width="1.65"/>
<line x1="515.4" y1="674.5" x2="515.4" y2="686.3" stroke="#000000" stroke-width="0.9"/>
<line x1="513.2" y1="674.5" x2="517.6" y2="674.5" stroke="#000000" stroke-width="0.9"/>
<path d="M512.5 680.8h0M517.1 684.2h0M516.9 683.0h0M512.8 691.7h0M515.2 686.8h0M518.1 687.1h0M516.8 680.8h0M512.3 665.2h0M517.4 671.9h0M512.7 679.6h0M513.3 684.0h0M517.7 671.6h0M514.6 682.5h0" stroke="#000000" stroke-width="3.4" stroke-linecap="round" fill="none"/>
<rect x="526.9" y="674.5" width="8.0" height="53.0" fill="#ff8a78" stroke="#ff2a14" stroke-width="1.65"/>
<line x1="530.9" y1="659.8" x2="530.9" y2="689.2" stroke="#ff2a14" stroke-width="0.9"/>
<line x1="528.6" y1="659.8" x2="533.1" y2="659.8" stroke="#ff2a14" stroke-width="0.9"/>
<path d="M531.3 674.1h0M528.6 695.0h0M532.7 666.2h0M531.7 688.3h0M530.3 658.5h0M533.7 694.0h0M532.7 657.5h0M528.1 685.7h0M533.9 679.5h0M529.8 682.5h0M531.5 700.9h0M531.5 647.0h0M529.6 678.4h0" stroke="#ff2a14" stroke-width="3.4" stroke-linecap="round" fill="none"/>
<rect x="542.3" y="673.8" width="8.0" height="53.7" fill="#7d91ff" stroke="#1f45ff" stroke-width="1.65"/>
<line x1="546.3" y1="662.7" x2="546.3" y2="684.8" stroke="#1f45ff" stroke-width="0.9"/>
<line x1="544.1" y1="662.7" x2="548.5" y2="662.7" stroke="#1f45ff" stroke-width="0.9"/>
<path d="M545.5 694.6h0M547.5 663.7h0M548.2 692.6h0M544.9 687.8h0M545.8 665.1h0M546.8 673.7h0M543.4 664.5h0M548.4 694.9h0M546.8 665.4h0M544.9 694.3h0M547.5 661.9h0M548.9 689.9h0M546.6 676.4h0" stroke="#1f45ff" stroke-width="3.4" stroke-linecap="round" fill="none"/>
<rect x="557.8" y="676.7" width="8.0" height="50.8" fill="#c7a6ff" stroke="#9448ff" stroke-width="1.65"/>
<line x1="561.8" y1="669.4" x2="561.8" y2="684.1" stroke="#9448ff" stroke-width="0.9"/>
<line x1="559.5" y1="669.4" x2="564.0" y2="669.4" stroke="#9448ff" stroke-width="0.9"/>
<path d="M563.6 674.2h0M564.5 673.0h0M560.1 665.0h0M561.5 685.4h0M559.9 683.6h0M563.6 677.1h0M561.5 664.4h0M563.5 665.3h0M560.1 669.7h0M564.2 690.5h0M561.9 684.2h0M559.8 686.4h0M559.8 675.3h0" stroke="#9448ff" stroke-width="3.4" stroke-linecap="round" fill="none"/>
<rect x="573.2" y="659.8" width="8.0" height="67.7" fill="#78c27a" stroke="#12891a" stroke-width="1.65"/>
<line x1="577.2" y1="657.6" x2="577.2" y2="662.0" stroke="#12891a" stroke-width="0.9"/>
<line x1="575.0" y1="657.6" x2="579.4" y2="657.6" stroke="#12891a" stroke-width="0.9"/>
<path d="M576.3 658.3h0M577.6 656.7h0M575.0 662.0h0M574.3 658.3h0M574.7 657.7h0M578.0 659.8h0M577.8 659.5h0M576.2 661.0h0M574.2 660.2h0M580.3 659.8h0M577.6 658.1h0M575.7 661.7h0M580.0 659.4h0" stroke="#12891a" stroke-width="3.4" stroke-linecap="round" fill="none"/>
<rect x="588.6" y="661.3" width="8.0" height="66.2" fill="#ffca8a" stroke="#ff9a1a" stroke-width="1.65"/>
<line x1="592.6" y1="658.3" x2="592.6" y2="664.2" stroke="#ff9a1a" stroke-width="0.9"/>
<line x1="590.4" y1="658.3" x2="594.9" y2="658.3" stroke="#ff9a1a" stroke-width="0.9"/>
<path d="M594.3 664.3h0M591.1 658.1h0M589.7 668.1h0M590.0 660.7h0M589.8 659.5h0M592.4 666.8h0M595.5 663.4h0M593.3 660.4h0M592.0 661.8h0M591.1 655.8h0M593.1 656.2h0M593.7 665.9h0M592.0 667.0h0" stroke="#ff9a1a" stroke-width="3.4" stroke-linecap="round" fill="none"/>
<line x1="501.3" y1="727.5" x2="602.7" y2="727.5" stroke="#000" stroke-width="1.15"/>
<text x="554.0" y="622.2" font-size="11.4" font-weight="bold" text-anchor="middle" fill="#000">p27</text>
<polyline points="515.4,642.0 515.4,633.7 592.6,633.7 592.6,643.7" fill="none" stroke="#000" stroke-width="1.1"/>
<text x="554.0" y="631.3" font-size="7.8" text-anchor="middle" fill="#000">&lt;0.0001</text>
<polyline points="515.4,662.2 515.4,646.4 577.2,646.4 577.2,648.8" fill="none" stroke="#000" stroke-width="1.1"/>
<text x="545.7" y="644.0" font-size="7.8" text-anchor="middle" fill="#000">&lt;0.0001</text>
<text x="479.4" y="689.3" font-size="10.5" text-anchor="middle" fill="#000" transform="rotate(-90 479.4 689.3)">Percentage %</text>
<text x="472.4" y="633.5" font-size="19" font-weight="bold" text-anchor="start" fill="#000">U</text>
<text x="617.9" y="647.2" font-size="11.5" font-weight="bold" text-anchor="start" fill="#000">PR4</text>
<circle cx="605.6" cy="656.5" r="1.5" fill="#000000"/>
<text x="615.5" y="659.1" font-size="7.2" text-anchor="start" fill="#000">Vehicle</text>
<circle cx="605.6" cy="669.2" r="1.5" fill="#ff2a14"/>
<text x="615.5" y="671.8" font-size="7.2" text-anchor="start" fill="#000">Ribociclib</text>
<circle cx="605.6" cy="681.3" r="1.5" fill="#1f45ff"/>
<text x="615.5" y="683.9" font-size="7.2" text-anchor="start" fill="#000">Fulvestrant</text>
<circle cx="605.6" cy="694.1" r="1.5" fill="#9448ff"/>
<text x="615.5" y="696.7" font-size="7.2" text-anchor="start" fill="#000">Palbo+Fulv</text>
<circle cx="605.6" cy="706.5" r="1.5" fill="#12891a"/>
<text x="615.5" y="709.1" font-size="7.2" text-anchor="start" fill="#000">BLU-222+Ribo</text>
<circle cx="605.6" cy="718.6" r="1.5" fill="#ff9a1a"/>
<text x="615.5" y="721.2" font-size="7.2" text-anchor="start" fill="#000">BLU-222+Ribo+Fulv</text>
<text x="11.6" y="780.6" font-size="19" font-weight="bold" text-anchor="start" fill="#000">V</text>
<text x="148.8" y="777.5" font-size="12" text-anchor="middle" fill="#000">Vehicle</text>
<text x="241.7" y="777.5" font-size="12" text-anchor="middle" fill="#000">Ribociclib</text>
<text x="329.9" y="777.5" font-size="12" text-anchor="middle" fill="#000">Fulvestrant</text>
<text x="427.2" y="775.0" font-size="12" text-anchor="middle" fill="#000">Ribo+Fulv</text>
<text x="516.7" y="768.6" font-size="12" text-anchor="middle" fill="#000">Ribo+</text>
<text x="516.7" y="781.0" font-size="12" text-anchor="middle" fill="#000">BLU-222</text>
<text x="611.9" y="766.6" font-size="12" text-anchor="middle" fill="#000">Ribo+</text>
<text x="612.9" y="779.7" font-size="12" text-anchor="middle" fill="#000">BLU-222+Fulv</text>
<line x1="58.6" y1="794.4" x2="58.6" y2="959.4" stroke="#000" stroke-width="1.6"/>
<text x="35.0" y="879.0" font-size="15" text-anchor="middle" fill="#000">PR1</text>
<text x="80.0" y="832.0" font-size="14" text-anchor="middle" fill="#000">p21</text>
<text x="84.0" y="927.6" font-size="14" text-anchor="middle" fill="#000">p27</text>
<svg x="105.0" y="782.0" width="88.0" height="89.8" viewBox="0 0 88.0 89.8" overflow="hidden">
<rect width="88.0" height="89.8" fill="#bcbdda"/><g filter="url(#hb)">
<path d="M11 3l2 1M44 10l0 1M53 50l-1 1M2 57l-0 -2M12 29l-1 -1M83 58l0 0M5 31l1 0M11 11l-0 0M84 28l2 -2M55 35l0 -0M32 83l-2 2M45 10l0 -0M59 7l1 -0M24 51l-1 1M11 87l-0 -1M70 82l-1 1M59 63l0 0M45 5l-1 -1M73 73l0 0M48 62l-0 -1M87 12l1 -3M17 42l1 -0M49 4l-1 0M43 73l2 1M31 65l2 -2M52 73l1 -1M20 69l1 -0M71 24l-2 -1M77 71l-1 -2M11 22l-1 1M41 12l0 0M24 35l-0 1M6 45l-0 -2M80 25l-1 2M38 55l-1 -3M12 54l-2 -0M60 21l-1 0M17 56l0 -0M80 32l1 2M19 66l-2 0M2 26l1 1M17 72l2 -1M30 37l-1 0M41 50l-1 1M81 61l1 2M62 47l-1 -1M30 23l-2 1M1 89l2 2M13 8l2 1M89 29l-1 1M40 49l-1 -1M61 2l-3 -0M4 13l1 -1M2 72l2 -1M75 71l0 -0M52 57l0 -1M27 82l-2 0M28 68l-2 -0M7 26l-2 2M15 58l-0 0M1 30l2 0M75 68l1 -2M41 34l0 0M10 13l2 0M66 79l-2 0M17 62l-1 -3M5 67l-1 0M53 50l-1 1M80 71l-1 -1M1 40l1 2M71 51l2 0M16 5l-1 -1M7 50l-1 -0M1 74l1 -1M25 64l-1 1M64 73l1 -3M43 45l1 0M76 80l1 0M19 9l-1 -0M27 79l0 1M22 33l3 1M87 7l1 1M84 56l-2 2M30 41l-1 2M38 38l-3 -1M27 77l0 -0M66 12l-2 2M3 56l1 2M5 37l-2 -1M35 47l2 0M21 45l-2 1M75 11l-1 1M66 46l-1 1M48 78l1 0M59 15l-0 -0M61 0l-1 -1M69 5l-0 -1M82 41l3 -1M12 88l-0 1M55 3l-1 -2M12 90l-3 1M39 48l1 3M70 10l2 -2M80 37l-0 -0M67 18l0 -0M2 65l0 -1M31 49l1 -1M14 25l0 0M89 22l0 0M12 79l0 0M21 69l-2 1M31 39l-0 -1M4 36l-2 1M77 67l-1 -0M56 88l0 -2M13 6l2 1M44 14l-1 -1M6 32l2 0M54 46l0 0M20 6l-0 -1" stroke="#dcdbe8" stroke-width="1.6" stroke-linecap="round" fill="none"/>
<path d="M19 9l-1 -0M27 49l2 -0M28 49l2 1M51 31l-1 2M29 31l-1 1M28 64l0 -1M74 43l-0 -3M0 36l-0 0M-1 9l0 0M4 25l-2 -2M77 77l-1 0M56 88l0 0M65 33l-1 -1M85 79l-1 0M19 79l-0 1M82 19l-0 3M21 24l-1 -0M46 63l0 0M60 27l-1 0M71 87l3 -1M21 33l-1 0M42 66l-0 1M3 64l-2 -0M25 19l2 -1M87 78l1 -1M80 29l-1 -2M51 9l1 -0M70 4l0 -1M80 40l-1 -2M29 57l-1 0M87 24l0 1M39 76l-0 -1M13 24l-1 -1M47 77l2 -1M52 2l-1 2M61 23l0 -0M59 14l0 1M3 40l2 -1M57 31l3 -0M82 35l2 0M59 77l-1 2M87 52l1 -0M45 55l2 -0M72 35l-1 -2M12 73l1 1M80 45l1 0M38 67l0 0M78 83l2 -1M28 55l1 -2M55 39l-0 0M75 23l0 -2M63 83l2 -2M55 69l-0 0M86 72l0 -0M7 19l-0 0M8 39l-1 1M49 80l1 0M85 22l1 2M61 74l-0 -0M27 48l1 0M9 19l-3 -1M39 33l0 0M42 6l-0 -1M41 61l1 1M55 66l0 0M24 2l-0 1M78 27l-2 -1M25 70l1 -2M9 17l0 -2M30 48l-0 -2M83 73l-1 -2M13 51l-0 -0M24 10l-1 2M82 82l1 2M30 68l0 -0M75 51l-1 1M3 30l-0 -1M79 52l2 1M20 35l-1 1M15 10l0 0M66 10l-1 2M88 3l-0 -2M85 15l-1 2M67 22l-1 -2M81 57l1 1M88 52l-1 1M49 53l-1 1M12 74l-2 -0M75 8l0 3M35 35l-0 -1M27 6l2 -2M44 37l0 -0M2 6l1 0M1 5l-3 0M23 9l-0 1M53 35l-1 -1M66 69l2 1M85 25l-0 -2M73 67l-1 1M84 20l2 -1M56 25l3 0M65 42l-2 1M52 6l-1 0M6 40l0 -0M5 53l0 -1M67 75l0 0M17 4l-1 2M70 72l-0 -2M41 51l-0 0M-0 52l-0 0M50 4l1 -0M39 80l1 -2M6 24l-1 2M22 49l-1 -0M27 48l2 -1M30 83l1 3M63 54l2 -1M14 90l0 -0M39 20l-0 -2M54 60l-1 -2M84 52l-1 -2M9 46l-1 -0M6 57l-0 -0M16 50l0 1M19 30l-1 -0M14 58l-1 -1M6 7l-2 0M18 43l-1 -2M19 41l-2 1M42 19l1 -2M57 51l-0 -0M32 60l0 0M14 10l0 -1M8 26l-1 2M23 5l2 1M14 54l2 2M42 6l-1 2M77 20l-2 -0M63 40l-1 3M17 40l1 2M2 2l0 -3M5 86l-2 2M38 20l2 -2M32 55l0 2M60 19l-0 -0M7 54l-0 0M22 31l2 -2M61 28l-0 -1M50 43l-0 -1M46 53l0 0M80 54l0 -2M9 62l-0 0M17 24l-0 -2M50 7l1 -1M50 22l2 2M87 29l3 0M87 55l0 -2M52 37l1 -0M67 28l2 -1M62 8l-2 1M11 54l1 -2M53 9l1 0M27 46l0 0M31 62l-2 -1M13 56l-2 -0M-0 14l0 -0M76 32l0 2M64 85l-2 0M67 7l1 -0M25 61l-1 3M37 39l-1 0M15 55l-0 -0M53 35l1 -0M75 10l0 1M69 51l-1 -2M83 -0l-2 1M22 78l-0 0M62 72l-0 1M10 33l-0 0M47 48l-2 -1" stroke="#9a98c0" stroke-width="1.6" stroke-linecap="round" fill="none"/>
<path d="M76 60l0 0M7 33l-1 -1M44 8l-1 1M21 43l1 -0M25 76l-0 -0M66 72l1 -0M87 9l0 -0M24 18l-1 0M48 63l0 0M27 88l0 1M5 6l1 1M53 7l-0 -1M13 63l0 0M61 56l-1 -1M66 73l-0 1M12 17l-1 0M53 44l0 -0M18 73l-0 1M68 34l0 0M25 36l-0 1M61 2l1 -0M57 72l-1 -0M51 40l-0 0M19 34l0 0M74 59l0 0M31 77l-1 1M68 79l-0 -0M42 30l-1 0M39 55l0 -0M63 35l0 -0M30 76l-1 -0M68 72l-1 1M39 60l0 -1M66 75l0 0M62 46l0 -0M84 51l1 -1M36 14l0 -1M30 64l1 1M89 25l-1 -0M45 51l0 -1M37 -1l-1 1M62 35l0 -1M22 56l1 1M85 57l-0 -0M67 51l-0 -0M57 22l0 -0M25 59l-0 0M72 60l-0 1M82 53l-0 -1M70 34l1 1M81 13l-1 1M7 50l-1 0M66 4l0 -1M77 83l-1 1M42 31l-0 -0M6 25l-0 -1M48 40l-0 -0M21 9l0 -0M2 80l-1 0M83 89l-1 -0M74 75l1 0M56 52l0 1M66 85l0 0M59 29l0 1M41 42l-1 -0M10 15l0 0M25 38l-0 -0M45 84l0 -0M51 60l1 0M26 49l0 1M10 48l-0 0M30 57l1 0M16 55l1 1M83 41l-0 -0M19 46l-1 1M34 8l1 -1M48 40l-1 -1M22 61l0 -1M44 20l-0 1M49 24l-1 1M3 73l1 -1M84 11l-0 -0M47 17l0 -0M12 74l-0 1M87 10l0 0M14 27l-1 -1M64 83l0 0M42 37l1 0M22 74l-1 1M33 69l-0 -1M42 1l-1 1M32 19l0 -1M21 83l-0 0M36 28l-0 0M38 36l-1 -0M61 85l-1 -1M17 9l0 0M3 88l-1 -0M74 58l1 1M5 57l1 -0M56 -1l-1 -0M48 57l0 1M87 74l1 0M16 35l0 1M79 6l-0 0M11 11l-1 -1M14 6l-0 -1M58 37l-0 -0M14 74l-1 0M52 4l-0 -0M60 36l-1 -0M10 36l-0 0M70 36l0 1M37 47l-0 0M86 48l-0 -0M0 18l0 0M6 72l-0 -0M55 46l1 0M22 31l0 1M35 88l-0 -0M81 64l0 -1M30 14l0 -0M4 88l-0 -1M12 52l-0 1M49 30l1 -0M69 21l-1 -0M67 5l1 -1M41 21l1 -1M21 26l0 1M11 31l1 -0M19 90l1 1M17 53l-1 -1M81 17l-0 1M36 33l0 0M10 39l-1 -0M56 7l0 1M40 42l0 -1M2 46l-0 0M87 83l-0 1M84 39l1 0M23 62l-1 -1M74 61l-0 -0M40 15l0 -1M60 51l-1 1M58 40l0 -0M65 14l1 0M39 1l1 -0M12 90l0 -1M71 7l1 1M39 80l1 -0M39 33l1 1M67 7l0 -0M61 88l0 1M88 60l-0 -1M34 36l0 -0M56 76l1 1M7 64l-1 1M9 37l1 -1M22 65l-1 0M24 67l1 1M39 15l0 0M20 65l1 1M83 83l1 0M38 62l-1 1M33 72l0 -1M80 90l-1 0M71 72l1 1M68 42l-1 1M81 51l-0 0M65 69l-0 0M27 57l-0 -0M86 6l-0 -1M1 5l-0 -1M80 24l-1 -0M37 74l1 0M29 19l0 -0M42 28l0 -0M35 75l-0 -1M76 11l-1 0M72 25l1 -1M66 23l1 0M20 3l-0 -1M39 67l-1 -1M6 28l-0 -1M66 36l0 0M3 30l1 -0M35 5l0 0M13 77l1 1M76 11l-1 -0M82 25l-0 -0M25 65l1 1M78 31l-0 0M15 46l0 -0M63 29l-0 0M22 50l-1 1M39 28l0 0M54 41l-1 -0M31 -0l-0 -1M17 0l-0 -0M52 46l0 1M70 74l-0 0M89 91l-1 -1M28 73l1 -0M22 47l0 -1M6 58l0 1M17 61l1 0M1 66l-1 1M21 90l-1 -0M64 31l-0 0M9 40l0 -0M57 71l-0 1M26 19l0 0M20 8l-1 -1M43 82l0 -1M38 0l0 1M39 81l-0 0M10 83l-0 0M50 14l1 0M80 68l-0 -1M-0 26l1 0M6 24l-1 -1M52 89l-0 -0M28 80l-1 -0M22 69l1 0M88 39l1 0M27 90l-0 -0M82 51l-1 0M55 89l0 0M2 65l0 0M23 3l0 -0M6 72l-0 1M47 76l-0 -0M81 80l0 1M4 56l-0 1M2 2l0 -0M2 79l0 1M24 38l-1 1M14 17l-1 0M86 18l-0 -0M69 18l-0 1M84 74l-1 -1M51 6l0 1M73 83l-0 -0M63 1l0 0M25 65l0 0M58 20l1 0M25 46l0 0M41 15l-0 -1M73 82l-1 0M19 13l0 -1M15 42l0 -0M76 55l0 1M41 41l0 -1M15 19l0 -0M28 26l-0 0M24 85l0 0M80 10l-1 0M42 1l-1 -0M82 82l-0 -1M41 80l-0 -0M84 62l-0 1M81 42l0 1M50 86l-1 1M70 37l-1 0M25 0l0 0M9 39l-0 0M53 48l0 -0M4 49l-1 0M41 81l1 1M55 5l-0 -1M68 77l-0 0M80 47l-1 -0M17 66l-1 1M77 37l1 1M44 26l-0 -1M55 30l-1 -0M41 24l0 -0M75 41l1 0M26 54l-0 -0M-0 75l-0 0M74 15l-1 0M59 40l-0 -1M63 48l0 0M10 74l-1 1M18 64l0 0M55 56l-1 -0M66 61l-1 1M59 40l1 0M53 73l0 1M58 76l-1 1M12 51l-1 -0M40 10l0 0M29 38l-1 -1M65 23l0 -1M46 17l-0 1M64 26l1 1M62 74l1 1M80 31l0 -0M76 38l-1 -0M4 34l1 1" stroke="#6266aa" stroke-width="2.2" stroke-linecap="round" fill="none"/>
<path d="M77 52l1 -0M75 81l1 0M35 20l-1 1M43 46l0 0M3 34l1 -0M57 61l0 0M71 28l-0 1M17 22l-1 1M56 87l1 1M12 75l1 -1M75 64l0 -0M65 59l-1 -0M83 85l-0 0M25 4l0 1M14 39l0 0M50 56l-1 0M4 11l-1 -1M73 90l0 -0M17 62l0 1M11 69l1 -1M12 88l-0 -1M62 52l0 0M3 83l0 0M37 33l1 0M15 84l1 -0M69 46l0 1M4 70l1 0M17 24l-1 -1M68 43l-0 1M45 50l1 -0M9 46l-1 -1M88 84l0 -0M32 41l-1 -1M37 79l-0 -1M66 9l-0 0M43 18l-1 0M74 15l0 -0M47 16l0 1M21 53l1 0M47 8l0 -0M74 61l-0 0M24 79l-1 -0M56 84l-0 0M51 4l-0 -1M61 22l0 -1M31 39l0 0M19 0l0 -1M59 61l-0 1M75 41l-1 -1M41 38l-1 0M11 13l0 -1M71 5l-1 0M47 80l0 -0M60 54l1 -0M8 31l-1 -1M70 80l0 -0M33 10l0 -0M79 36l0 1M21 6l-0 0M-0 72l1 -1M28 80l0 -1M64 25l0 -0M64 74l-1 -1M75 86l-0 0M18 20l0 -0M52 88l-1 1M6 30l-0 -0M19 64l0 0M3 48l-0 0M56 31l-1 0M80 54l1 1M53 -1l1 1M53 45l0 -0M80 45l0 -0M29 57l1 1M49 69l-1 1M72 80l-0 -0M16 73l1 1M62 79l1 0M6 33l1 -0M32 9l-0 1M16 59l0 -0M38 3l-1 -0M17 87l-0 -0M5 43l-1 -0M39 23l-1 -0M34 2l-0 1M65 76l-0 -0M0 76l-1 1M56 11l0 -0M3 70l-0 1M43 7l0 1M1 63l0 -0M81 48l-1 -0M43 58l0 0M42 12l0 -1M5 72l-0 0M70 71l-0 -0M23 76l-1 -1M41 36l-0 1M64 23l-0 -0M70 49l-1 0M34 63l0 0M4 69l1 -0M88 40l-0 1M22 55l-0 0M3 58l0 -0M55 53l-0 -0M78 65l0 0M7 27l-1 -1M3 21l1 0M60 26l-0 -1M51 72l-1 -1M22 88l-1 -1M23 28l-0 -0M68 59l-0 0M1 52l-0 -0M21 80l-0 0M32 0l-0 -0M69 56l1 0M27 79l-0 0M4 88l0 0M66 37l-1 -0M61 43l-1 -1M10 76l0 0M65 85l1 -0M55 21l-0 0M32 81l0 0M51 10l-0 -1M44 4l1 1M70 2l0 0M85 6l-0 1M30 8l-1 0M7 21l0 0M32 25l-1 1M53 88l1 1M22 73l-1 1M13 9l0 -1M18 17l-0 1M75 63l-1 -0M63 54l0 1M10 40l1 1M26 38l-0 0M23 67l1 0M9 44l-1 0M75 65l-0 -1M25 0l-1 1M50 8l0 1M33 16l-1 1M5 53l0 -1M2 52l0 1M62 79l-1 1M56 80l-0 -0M43 73l0 0M15 29l1 -0M30 4l0 0M45 80l0 0M18 84l-1 0M51 1l-1 -0M75 -1l-1 -1M15 15l-0 0M83 32l0 -0M45 64l1 -1M87 41l-1 0M86 60l0 -0M5 74l0 -0M60 15l0 1M21 27l1 1M55 88l1 1M79 49l1 1M40 44l0 -1M58 50l-0 0M59 49l1 1M16 66l-1 -0M37 79l-0 1M25 56l1 0M42 57l-1 1M68 52l0 -1M12 21l-0 -1M49 69l1 -0M44 17l-1 0M34 23l1 -0M75 30l-1 1M31 47l-1 0M71 74l-0 -1M5 32l-1 0M39 54l1 1M9 39l-0 -1M75 40l1 -1M59 88l-1 1M18 58l-0 0M33 1l-0 0M10 78l-0 -1M79 45l-0 0M79 87l0 1M79 10l1 -1M54 87l1 0M23 59l0 -0M40 56l1 -1M59 45l1 1M37 88l1 0M4 76l-1 -1M46 47l-1 -0M7 33l0 0M20 35l-0 0M73 43l1 1M54 15l-1 0M71 20l-0 -0M60 60l0 -0M58 70l-1 1M21 82l1 1M63 14l1 -0M10 27l-0 -1M1 16l0 0M30 56l1 0M13 27l-0 0M62 28l0 0M25 5l-0 0M2 70l-0 1M69 85l0 -0M83 12l0 -0M63 44l-1 -1M85 71l1 0M69 79l0 -1M83 31l-1 0M60 4l0 -0M70 69l1 0M71 64l1 1M10 35l1 1M28 89l0 -0M55 65l1 -0M28 51l-0 -1M78 53l-0 0M4 6l0 0M11 87l1 -0M28 90l0 1M30 14l0 -1M74 70l-0 0M0 52l-1 1M73 35l-0 0M87 53l0 0M3 10l1 0M85 31l1 -1M58 30l-0 0M11 62l-0 -1M74 47l-0 0M10 1l-1 0M34 25l0 -0M20 34l-0 -0M34 32l-1 1M12 71l-0 0M33 75l0 -0M50 86l1 0M41 85l-1 0M46 44l0 0M79 50l1 0M76 54l0 0M9 46l0 -1M65 2l-1 0M71 9l-1 -0M81 72l-0 1M34 68l-1 1M82 28l-0 0M49 17l0 -1M41 51l0 0M45 77l0 0M36 4l0 1M61 59l-0 0M47 20l-1 0M78 23l-0 -1M41 40l1 -0M4 14l0 -0M13 67l0 0M36 8l-0 0M41 44l-0 -0M72 60l0 -1M52 75l-1 -0M14 50l1 1M26 11l0 0M47 73l-0 1M70 85l-1 -1M63 2l0 1M57 83l-0 0M22 56l-0 0M50 54l0 -0M21 35l-0 -0M5 14l0 -0M67 54l-1 -0M58 80l-1 0M88 1l0 -0M66 50l-1 1M22 58l-1 -0M2 83l1 0M38 0l0 0M30 33l-0 1M45 11l0 1M33 28l-1 0M3 82l0 -0M5 16l0 1M31 32l0 0M52 74l-1 -0M15 68l-1 1M15 83l1 0M20 10l0 -1M66 6l1 -0M68 19l-0 -1M43 44l0 -1M4 61l0 -1M84 10l1 -0M77 57l0 1M26 19l0 -0M-0 87l-0 -1M43 50l1 -0M14 12l1 -1M33 75l-0 -0M35 44l-1 -1M27 70l0 1M81 49l-0 1M34 80l0 0M9 25l-0 0" stroke="#4a4e9e" stroke-width="2.1" stroke-linecap="round" fill="none"/>
<path d="M77 74l1 1M25 80l0 -0M42 91l0 0M38 88l-0 -0M34 9l0 1M37 41l-0 -0M24 50l0 -1M80 61l-0 0M45 9l-0 0M25 32l1 -0M18 34l-1 -0M71 55l-1 1M70 33l0 1M73 28l1 -1M53 16l-0 -1M29 60l-0 0M18 27l-1 -0M33 18l0 0M7 83l0 -1M24 34l0 -0M30 25l-0 -1M9 7l-0 -0M13 47l1 1M10 30l0 -0M34 53l-0 -0M82 28l0 -0M85 42l-0 -1M8 11l0 -0M53 5l0 -0M-1 85l-0 -1M59 66l-0 -0M55 38l-0 0M45 17l-0 1M24 60l0 -0M41 54l0 -1M2 56l-0 1M58 89l1 1M69 31l0 -0M7 84l1 0M89 39l-1 -1M15 89l-0 -0M81 88l-0 0M87 37l1 -1M37 45l-0 -0M75 81l0 -0M50 81l-0 -1M24 8l-1 -0M61 45l1 0M31 8l1 -1M13 77l1 1M68 24l-0 1M16 29l-0 -0M83 28l-0 -1M17 65l1 -0M28 29l1 -0M71 39l1 -0M74 79l0 -0M35 39l-0 0M54 83l-0 -0M84 83l0 0M25 41l-0 0M23 20l0 -0M8 85l-0 -0M61 50l1 -0M61 32l0 1M10 4l-0 -0M64 42l0 1M25 2l-0 -1M45 57l0 -0M50 35l-0 0M52 26l0 0M49 19l-0 1M35 68l0 0M62 82l-0 0M18 -0l0 -0M77 48l0 -0M34 6l-0 0M69 2l1 1M54 89l0 0M40 28l-0 1M42 48l-0 0M46 82l0 0M37 58l1 -1M50 31l-0 0M42 63l0 0M75 71l1 1M23 58l-0 -1M67 34l-1 0M36 68l-0 0M76 33l-0 -0M74 32l-0 -0M6 25l-1 0M82 88l-0 -0M72 10l-0 1M58 4l-1 0M16 26l-0 -1M74 10l1 0M52 33l-0 0M20 85l-0 0M57 86l-0 1M10 20l-1 -0M62 26l-0 -1M16 36l-0 -0M27 86l0 -1M1 23l-0 -0M33 69l1 0M54 58l0 0M58 80l-0 -0M36 24l1 1M24 84l-0 -0M8 90l1 0M31 35l0 -0M69 85l1 1M83 66l-1 0M82 20l1 1M7 40l0 1M10 22l-0 0M32 82l-1 -0M49 20l1 -1M4 80l0 1M7 24l1 -1M73 81l0 1M89 72l-0 0M38 66l1 -0M70 24l-1 -0M62 65l-0 0M68 57l-0 0M37 31l0 -0M83 90l0 -0M10 87l1 1M23 59l-1 -0M56 82l-0 0M21 30l1 0M74 15l-1 0M73 30l-0 1M70 51l-0 -1M78 82l1 0M56 76l-1 0M15 21l-0 0M29 74l-1 0M-1 80l-0 0M35 53l1 -0M56 44l-0 -1M62 42l-1 1M63 17l-1 1M22 23l-0 0M82 46l0 -0M48 46l-0 -0M18 48l0 -0M83 40l0 0M60 77l-1 -0M60 14l-0 -0M54 15l0 -1M-1 85l0 0M49 53l-1 0M64 56l0 -0M59 42l-1 -0M18 38l1 1M42 31l-1 0M64 48l-1 -0M80 75l1 0M20 3l-0 0M51 85l-1 0M5 16l0 -0M15 44l-0 -0M33 75l-0 -0M1 11l1 0M31 59l0 0M77 55l-1 0M26 50l-0 -0M13 75l0 1M8 11l-0 -0M49 19l0 0M35 83l-0 1M55 86l-1 -0M35 10l-0 0M46 61l-1 0M35 8l-0 -1M25 85l0 1M-0 86l-1 -1M24 62l0 -0M66 43l0 -1M30 59l-0 0M68 50l-0 -0M3 75l0 0M62 75l-0 -1M73 78l-0 -0M21 76l0 0M33 19l-1 1M23 18l-1 -0M38 63l-0 -0M82 50l-0 -0M62 88l-0 -0M8 4l0 -0M89 36l-1 0M60 79l1 0M72 40l0 -0M75 11l0 0M82 29l-1 -0M69 87l-0 -1M23 70l0 -1M66 76l-0 -0M59 23l-0 -0M37 73l1 -0M77 -1l0 -0M0 19l-0 0M44 56l1 -0M79 59l-0 -1M47 41l-0 0M33 87l-0 0M9 33l-1 0M16 24l-0 -0M23 18l1 -1M88 68l-0 0M48 74l-0 -1M27 75l-0 0M79 56l-1 0M54 2l-0 1M26 37l-1 0M58 14l-0 -0M1 25l0 0M46 2l-0 0M46 63l-0 -1M5 22l1 0M58 51l-0 0M1 87l0 -0M16 21l-0 -1M66 25l0 -0M35 23l-0 1M64 5l-0 -0M48 51l-0 1M41 50l1 1M52 54l0 -0M1 87l-0 1M-1 52l-0 -1M83 55l0 -1M61 81l0 -1M16 79l-0 1M61 47l0 -0M82 55l0 1M74 33l-0 -0M57 45l1 0M46 43l0 -1M55 48l0 0M15 21l-0 -0M39 54l-0 -0M78 25l0 0M32 28l-0 -0M23 27l-0 -1M46 71l0 -0" stroke="#3a3e92" stroke-width="2.0" stroke-linecap="round" fill="none"/>
<path d="M1 69l1 0M87 44l-1 -1M8 65l-0 -1M50 43l0 1M41 82l-1 0M33 86l0 0M72 80l0 -0M62 40l0 0M80 70l-0 -0M76 56l0 -0M70 80l0 0M80 59l-0 -1M86 42l-1 0M71 58l0 -1M88 72l-1 0M56 47l-0 0M73 80l0 -1M81 70l-0 -1M39 78l-0 0M82 65l0 -0M58 35l-0 -0M84 68l0 0M87 72l-0 0M81 72l-0 0M34 73l-1 0M86 66l-0 1M77 41l-1 0M80 56l0 -0M82 69l1 -0M73 82l-0 1M79 79l-0 1M85 63l-0 0M87 47l0 0M79 71l0 0M85 64l-0 0M83 73l-0 0M67 44l0 0M75 73l-0 -0M76 55l-0 0M1 58l0 -0M79 42l-0 -0M86 53l-1 -0M86 74l1 1" stroke="#634836" stroke-width="2.2" stroke-linecap="round" fill="none"/>
<path d="M5 14l-0 -0M51 71l-0 -0M3 22l-0 -0M19 13l-0 -0M35 35l-0 1M0 20l-0 0M46 64l0 -0M56 19l0 0M3 69l0 -0M10 85l1 -0M37 68l-0 -0M3 63l-0 1M72 2l-1 0M47 63l-1 -0M36 38l-0 -1M45 53l1 -0M1 22l0 1M60 6l-0 0M10 68l0 -0M24 89l0 0M-1 9l-0 0M81 5l0 0M25 24l-0 0M74 6l0 -0M48 16l-0 -0M22 15l-0 -0M-2 72l-0 -1M26 25l-1 0M6 21l-0 1M5 31l0 0M33 30l-1 0M40 27l1 0M33 71l0 1" stroke="#4e3426" stroke-width="2.0" stroke-linecap="round" fill="none"/>
</g></svg>
<rect x="115.3" y="859.9" width="20.3" height="3.0" fill="#000"/>
<svg x="197.0" y="782.0" width="87.0" height="89.8" viewBox="0 0 87.0 89.8" overflow="hidden">
<rect width="87.0" height="89.8" fill="#bdbdd6"/><g filter="url(#hb)">
<path d="M16 90l-0 -2M53 -0l-2 2M43 89l-1 0M80 91l-0 2M58 68l0 1M85 35l-2 1M3 61l-2 -1M61 1l0 -0M18 31l-0 -2M41 2l1 -2M74 38l1 -2M88 62l2 -1M19 1l1 -1M76 81l0 0M11 7l-0 1M26 21l-0 3M18 35l1 -2M86 9l-2 0M8 68l0 -0M70 61l-0 -0M46 53l2 0M63 38l0 3M7 54l-2 1M40 34l1 1M48 60l-0 -0M25 81l1 0M57 70l0 2M6 33l1 0M6 80l1 1M57 28l-0 -0M22 61l-2 -0M75 67l1 -0M49 37l0 0M77 78l1 2M75 88l2 1M62 10l0 0M86 3l-1 2M21 26l-2 1M49 1l0 2M10 90l1 2M62 24l-0 0M72 13l0 0M79 53l0 -1M46 87l-2 -1M81 79l-1 -0M33 79l-2 1M31 17l-0 -0M64 24l1 -0M81 7l-1 1M6 63l-2 -1M44 32l1 2M39 60l-2 1M2 2l2 1M9 67l0 -0M72 11l-1 -2M83 90l0 -2M50 24l0 -2M20 44l1 1M86 74l-1 -1M37 57l0 0M11 6l-2 -2M69 84l1 1M61 66l2 2M60 68l1 1M33 46l-1 -0M24 14l1 1M19 59l-1 1M53 28l-3 1M27 75l1 -0M64 29l0 -1M80 61l-1 -0M74 49l-0 -0M2 13l0 0M57 62l-2 2M4 88l-0 1M25 4l-1 -2M26 53l2 2M48 58l2 -1M3 76l-0 1M19 28l1 -1M82 75l2 -2M2 67l-1 0M30 17l3 0M43 68l2 2M9 40l-2 2M25 18l-0 -2M55 21l-3 0M28 30l1 -1M49 67l2 -2M83 13l-0 0M8 58l2 -0M59 74l-0 -0M1 47l1 0M34 82l2 0M63 65l-1 2M84 46l-2 1M40 88l0 0M55 50l0 -0M42 13l-0 0M10 19l0 -2M7 75l0 1M48 78l-3 1M77 35l-2 1M22 32l0 -1M66 18l-1 1M55 77l0 0M29 90l1 -2M57 85l-0 -0M5 40l1 2M22 81l0 1M33 18l1 1M56 6l1 -2M2 50l-1 0M3 31l0 -0M82 43l-0 -0M46 6l1 -2M79 15l0 -3M88 44l-2 0M14 45l-0 0M33 65l-1 1" stroke="#dcdbe8" stroke-width="1.6" stroke-linecap="round" fill="none"/>
<path d="M29 16l2 0M14 77l-1 1M65 35l-1 0M76 90l0 0M46 50l1 0M50 0l1 -1M83 36l0 -0M-1 61l1 -1M75 39l-0 1M82 60l1 -1M75 8l2 -0M48 0l0 -1M78 8l-1 2M43 58l-0 0M32 19l-1 -0M43 74l2 -1M3 72l-2 0M2 11l-2 1M45 4l2 1M51 60l-1 2M5 63l1 3M67 80l-2 0M12 31l-3 0M18 1l0 1M41 68l1 1M68 54l-0 -0M42 87l0 0M79 27l-1 -1M66 -0l-1 -0M49 4l1 -1M76 80l-0 1M30 31l0 -0M51 6l1 -1M56 2l-1 0M7 58l-1 2M22 32l1 2M86 67l-3 -1M26 55l1 3M80 20l-1 1M4 55l1 0M21 35l-1 -1M20 61l-1 -1M-1 22l-1 -1M63 27l1 -2M20 14l-2 -1M51 11l-1 1M8 36l-0 1M50 55l-0 -0M43 53l-2 1M41 16l-2 1M69 35l-0 2M30 39l1 2M63 19l0 -1M71 56l2 -0M21 30l-0 -1M25 8l-2 -1M53 62l1 1M15 15l-1 0M-1 31l1 -0M53 70l1 -0M62 11l2 1M9 50l2 -2M50 53l0 1M41 24l2 -1M44 9l0 3M82 36l0 -2M3 20l2 -0M15 34l2 1M6 12l2 0M54 36l-2 -0M76 84l-2 1M47 -0l2 -1M2 52l-1 2M44 37l3 0M9 77l1 -1M7 70l-2 -1M26 40l-1 -0M75 22l-1 -1M61 86l2 -1M87 74l-0 3M42 80l-0 1M16 7l3 -0M31 35l-2 -0M7 42l3 1M35 26l0 -1M53 19l-2 -1M57 29l1 0M85 15l-2 2M33 87l-2 -1M7 82l0 -0M76 56l-1 -2M15 52l-1 -1M28 90l-0 -1M12 45l-0 0M62 69l1 -1M78 2l-0 -3M18 38l1 1M51 17l-0 -0M1 7l2 -2M60 76l1 -0M12 66l-0 0M27 32l2 1M48 10l-1 -0M40 72l1 1M68 31l-1 -1M2 71l-0 -1M18 55l-1 -1M17 65l-0 -1M34 54l-0 -1M75 87l-2 0M85 21l-0 2M85 79l0 -0M16 56l-2 -0M17 63l-1 -3M25 89l-2 2M52 2l1 -1M73 24l-2 1M44 66l-0 -0M2 71l-1 -2M60 22l-1 -0M54 42l0 -0M33 78l-0 2M47 88l1 0M20 88l1 1M26 18l-0 0M51 34l-0 -1M32 38l0 0M29 44l-2 1M12 78l-0 -0M77 43l1 3M45 26l-0 -0M76 57l-0 -0M52 71l0 2M6 55l1 -1M2 84l0 -0M15 89l1 -0M32 68l0 0M14 81l-0 1M30 7l-1 -0M81 52l1 -1M0 1l2 0M6 24l-0 0M62 58l-1 -2M64 62l0 3M22 75l0 1M6 76l2 -0M29 24l-1 -1M61 40l-0 -1M24 70l1 1M44 18l-0 0M38 80l1 1M79 2l0 2M54 34l1 1M30 3l0 0M34 25l0 -3M10 76l-0 2M70 89l0 -0M16 38l2 0M9 21l-0 0M28 29l-0 1M58 76l-0 0M46 17l-2 -1M-0 70l-2 -0M51 27l-1 2M65 22l-1 1M64 81l-0 -1M17 19l-0 0M6 85l-1 -2M32 40l-0 -0M18 90l0 2M84 66l0 -1M60 76l-0 -0M26 49l-0 -0M72 88l1 0M52 65l-0 0M3 39l-3 -0M18 4l-2 1M22 16l-0 0M81 78l0 0M56 85l-1 0" stroke="#9a98c0" stroke-width="1.6" stroke-linecap="round" fill="none"/>
<path d="M74 73l1 -1M21 86l-0 0M51 73l0 0M21 37l-0 -0M85 8l-1 1M21 22l-1 1M17 48l1 -1M54 18l-0 -0M25 67l1 -0M76 23l0 -0M67 39l1 0M61 36l-0 -1M84 89l-1 -0M37 37l1 0M3 61l-0 -0M27 87l-1 0M21 67l-1 -1M15 65l1 1M35 75l0 0M4 36l-0 -1M-1 21l-1 -0M46 20l1 1M12 8l-0 -0M72 6l-0 -1M9 78l-0 -0M7 84l-0 -1M51 75l1 1M71 20l1 -0M69 3l1 1M76 67l1 0M40 49l-0 -0M21 53l1 -1M1 36l0 -0M83 54l-1 0M51 67l-1 1M83 43l-0 -0M74 39l0 0M58 39l-0 -0M67 3l1 0M14 33l1 0M79 34l-1 -1M75 22l-1 -0M41 63l-1 1M38 73l-0 0M43 35l0 -0M50 66l-1 -1M14 46l-0 1M83 27l1 1M30 2l-0 -1M2 27l1 -0M52 80l0 -1M12 76l0 0M88 86l0 0M82 71l-1 -1M66 58l1 0M5 4l0 -1M74 6l0 0M15 76l-0 0M55 12l1 1M14 11l1 0M63 83l0 1M62 37l-0 1M30 7l-0 -0M20 20l-0 0M74 21l1 -1M83 44l-0 0M14 6l-1 -0M88 46l-1 -1M50 28l-0 0M28 7l-1 1M42 39l-0 -0M5 53l0 -1M44 27l1 -1M53 29l0 0M45 30l-0 0M2 87l-1 0M65 79l0 -1M43 29l0 1M14 67l-0 1M73 77l-0 -1M54 61l0 -0M1 63l0 -1M38 6l1 0M67 73l-0 0M57 4l-1 1M33 90l0 -0M70 18l-1 0M41 19l0 0M13 42l1 0M11 34l1 -0M79 10l0 -0M22 14l-1 -0M51 88l-1 -1M21 18l-1 -0M28 2l-0 0M28 28l-0 0M0 43l-1 -0M-0 5l-0 0M7 62l-0 -0M64 42l-0 0M24 75l-0 0M38 21l1 0M54 3l0 -0M44 50l-0 -0M79 91l0 -1M68 2l0 1M77 67l-1 0M26 39l-1 -1M87 64l-0 -1M84 32l-0 0M58 76l-0 0M70 50l1 -0M15 29l-0 0M86 30l1 -0M16 59l-1 0M70 25l-0 0M2 28l-1 1M67 85l-0 -1M50 19l-1 0M35 62l0 -1M23 14l-0 -1M41 17l-1 -0M25 62l0 -1M31 34l-0 0M87 41l0 1M32 20l0 -1M77 83l0 0M39 65l1 1M76 22l1 1M62 32l-0 0M76 24l1 1M63 72l0 1M54 56l-0 -1M78 29l1 1M58 48l-0 0M73 70l-1 -1M59 21l1 -1M40 35l-1 1M24 36l1 1M28 50l0 -1M73 3l0 0M22 29l0 -1M25 18l0 0M86 12l1 0M59 31l0 -0M29 20l-1 -1M61 60l1 1M39 8l-0 1M5 75l0 -1M80 79l0 0M4 86l1 -1M83 9l1 1M36 5l-1 -0M47 87l0 1M42 8l-0 -0M40 11l1 1M74 17l0 0M29 55l-1 1M87 72l-0 -1M51 5l-1 -0M73 32l-1 -0M14 34l-1 -0M16 86l-1 -0M27 56l1 1M77 41l-1 0M35 34l0 0M70 32l0 0M60 22l0 1M15 64l0 0M43 14l1 1M10 49l-1 1M44 70l1 0M14 46l1 -0M59 39l0 -0M40 57l-0 -0M52 5l-0 1M39 7l-1 -1M50 8l0 0M36 26l1 -0M26 36l-0 -1M84 28l-1 1M46 31l-1 0M12 63l-0 0M30 72l0 -0M68 66l-0 -0M48 64l0 0M42 3l1 0M50 30l0 -0M63 36l-0 1M86 56l-0 0M12 39l-0 -0M82 53l-0 1M40 71l0 -1M54 52l-0 -1M37 20l1 0M40 82l-0 -0M34 77l0 -0M67 43l-0 -0M42 67l0 1M68 5l-0 1M8 54l1 -1M1 54l0 -1M20 85l-0 1M20 65l-1 -0M22 1l-0 1M38 44l0 -0M58 86l1 0M79 11l1 0M87 60l1 -0M56 32l0 0M79 37l0 1M45 83l0 -0M65 75l0 -0M78 31l-1 -1M61 61l0 1M35 24l0 1M72 50l0 0M68 16l0 0M86 71l1 0M72 12l-1 1M51 5l-0 -0M19 1l0 0M-0 75l1 0M20 62l0 1M62 60l1 1M12 83l1 1M62 64l-0 0M22 3l-0 1M14 5l0 0M76 4l1 1M10 9l1 0M75 9l-1 0M53 23l1 0M23 28l-0 -0M20 50l1 -0M51 42l0 0M22 67l0 0M52 37l-0 -0M54 90l-0 -0M1 65l1 0M22 -1l1 -1M64 37l0 0M11 26l-1 -0M66 70l0 0M68 4l0 -0M72 79l0 1M78 56l-1 -0M31 79l-1 0M83 29l-1 1M3 83l-1 0M4 5l-1 0M52 65l-0 0M5 9l-0 0M45 82l0 0M27 27l0 0M60 55l-0 -0M37 27l-0 0M28 58l-1 -0M58 41l-1 -0M85 22l-1 -1M20 6l-0 1M5 83l1 -0M13 42l-0 1M80 31l-0 1M64 70l-0 1M-1 64l0 0M18 75l1 -0M67 69l1 -1M12 80l0 -0M42 71l-1 0M16 58l0 -0M24 71l0 -1M39 83l0 0M42 15l-1 -0M76 35l0 0M42 42l0 -1M84 62l-1 1M45 19l0 -0M40 50l-1 -1M25 34l-0 -0M33 14l-0 1M86 19l0 -1M47 87l0 0M15 20l0 0M11 19l-0 0M56 33l-0 -0M48 7l-0 -1M44 26l1 0M54 82l1 -1M6 35l0 0M5 50l0 -0M24 46l-1 -0M24 76l1 -0M63 65l1 0M76 62l-1 -0M50 32l-1 0M69 45l0 1M70 3l-0 -0M34 11l-1 0M50 48l0 -0" stroke="#6266aa" stroke-width="2.2" stroke-linecap="round" fill="none"/>
<path d="M8 50l1 1M33 65l-0 -0M13 64l-1 0M17 12l-0 1M39 22l1 0M76 17l-0 -0M83 55l1 -0M43 86l0 0M20 42l0 -0M48 4l1 -1M29 35l-0 0M73 26l-0 -0M84 40l-0 -1M0 88l-0 -1M2 88l-0 -0M62 50l0 -0M85 66l1 -1M23 1l0 1M55 52l-1 -0M0 56l1 -1M65 76l0 0M43 39l-1 -0M86 38l0 -0M83 77l0 -0M10 12l-0 -0M17 87l-0 -0M54 63l-0 0M12 79l-0 1M53 80l-0 0M68 35l-1 -1M46 84l0 -0M38 65l0 -0M87 56l0 -0M76 11l-0 1M65 45l0 0M57 51l1 1M14 13l1 -1M17 30l-1 -0M56 43l-0 0M65 19l-1 -1M28 22l0 -0M47 36l-0 -1M26 11l0 0M77 27l-0 -0M41 36l0 0M24 22l-0 0M72 19l-1 -1M35 38l-0 -0M66 60l0 0M21 4l-0 -1M52 29l-0 1M33 25l0 0M16 53l1 -0M58 8l-1 -0M66 10l-0 -0M52 85l0 0M40 49l0 -1M65 54l0 0M9 14l0 0M2 1l0 -1M18 7l0 -1M64 3l-0 0M47 32l1 1M26 21l-0 0M60 87l-0 1M30 3l-0 0M30 -1l0 1M68 7l0 -0M86 -0l0 -1M87 44l1 -0M24 36l-0 0M52 27l-1 1M19 87l-0 -0M15 68l1 -0M19 17l0 0M64 8l0 0M67 80l1 1M38 77l0 0M27 6l0 1M26 76l-0 0M29 55l-1 0M71 71l-0 -0M35 66l0 -1M19 28l1 -1M74 78l0 -1M13 3l-0 0M83 85l1 -0M35 4l-1 1M69 60l0 0M45 42l1 -0M61 57l1 -1M58 84l-1 1M51 66l0 0M82 45l-0 1M49 62l0 -0M48 33l1 1M68 12l-0 -1M40 11l0 0M32 24l-1 -1M57 82l1 -1M38 39l-1 -1M16 62l1 0M51 30l0 0M30 75l-0 0M45 57l0 -1M74 22l1 1M85 4l-1 1M88 70l1 -0M7 15l0 0M80 69l1 -0M85 12l0 0M36 73l0 1M33 63l0 -0M40 16l0 -0M8 40l-0 -1M60 59l1 0M21 16l0 1M17 17l1 -0M40 16l-1 -0M73 5l0 -1M5 87l0 -1M48 19l-1 -1M81 49l0 0M76 15l-0 0M12 24l1 -1M23 81l1 -0M2 16l0 1M68 6l-1 -1M5 76l0 -1M53 46l0 1M74 40l-1 -0M60 85l-0 -1M74 32l-1 1M53 71l-0 0M3 36l-0 0M15 39l-0 -1M78 67l1 -1M11 35l-0 -0M30 1l0 0M36 23l-0 -0M64 79l-1 1M88 29l1 -1M68 55l-0 0M11 55l-0 -0M5 72l-0 -0M42 34l1 -1M12 60l-0 -1M34 33l-1 -0M54 23l-1 -1M43 6l-1 -1M30 74l-0 -0M35 6l0 -0M88 34l-1 1M68 58l-0 0M10 24l-0 -1M41 45l0 -0M63 75l0 -0M85 67l-0 -0M26 31l-1 -1M71 82l1 1M66 78l1 0M9 74l1 1M2 19l0 -1M6 36l0 0M8 91l0 1M61 53l-1 -1M2 21l-0 0M67 40l0 0M51 33l1 -0M81 51l1 -1M25 28l1 0M77 86l-1 -0M82 45l0 -0M43 44l0 0M34 2l-1 0M46 20l-0 0M72 18l1 -0M77 37l0 0M55 5l1 0M17 27l-1 0M1 76l-1 0M72 45l-1 1M69 82l-1 -1M29 36l-0 1M24 53l-0 -1M75 78l-1 0M32 33l0 -0M13 42l1 0M57 37l-0 -0M87 47l0 1M54 24l-1 -1M5 65l-1 -0M17 19l-0 0M28 5l-1 1M87 11l-0 -0M17 13l-1 -1M26 45l0 -0M3 70l-1 -0M26 38l1 -1M75 14l-1 -0M26 9l-1 -0M65 69l1 1M87 35l-0 -1M10 1l0 -0M22 62l0 1M32 74l1 -1M1 87l-0 -0M2 79l0 0M81 2l0 1M87 62l-0 0M39 52l1 1M81 34l0 0M18 9l-1 1M35 12l1 -0M59 70l-0 0M25 28l1 -0M58 57l0 0M53 52l-0 0M85 65l1 -1M72 64l-0 0M29 34l1 -1M50 13l-1 -0M42 46l-0 -0M45 23l0 -0M47 67l0 -0M40 51l0 0M2 53l-1 -0M12 67l1 -0M21 65l-0 0M84 43l0 0M81 74l0 -0M59 70l-1 -1M79 71l0 -1M69 8l-1 -1M54 71l0 0M23 50l1 -0M16 42l0 1M2 70l0 -0M82 80l-1 0M28 74l-0 0M86 4l0 1M2 80l0 -0M46 15l1 -1M83 50l1 1M4 83l1 -0M88 19l0 1M67 61l1 -0M24 30l-1 -1M86 14l-1 -0M70 78l-0 -0M24 72l1 -1M81 83l-0 0M21 5l0 -1M76 18l1 -1M74 6l-0 0M59 6l-0 -1M46 44l-1 -1M27 74l-1 -0M14 74l-1 -1M37 -0l1 1M12 29l0 -0M46 28l-0 -1M52 87l1 1M65 25l-1 -0M33 69l0 1M38 15l-1 0M64 18l0 -0M32 59l0 0M8 51l-0 -1M78 51l-1 1M13 14l1 1M4 76l0 0M20 76l1 -0M74 21l-0 0M66 52l-0 1M9 29l0 -1M56 17l1 0M76 86l1 -0M82 50l-1 -0M47 8l1 1M76 39l-1 -0M31 23l0 -0M2 89l-0 -0M13 25l0 0M23 43l-1 1M3 29l1 1M85 9l0 0M88 80l-0 -0M78 64l-0 -1M46 83l0 0M38 78l-1 0M28 54l-0 -1M50 52l0 1M11 63l-0 -0M68 35l0 0M29 66l1 1M70 11l-0 -1M8 53l-1 1M24 63l-1 -1M73 12l-1 -1M69 3l1 -1M57 37l1 1M50 70l-1 0M87 28l1 0M58 14l0 -1M27 63l-1 0M16 66l-0 -0M37 25l0 -0M82 14l-1 -1M14 39l1 1M76 15l-0 0M66 0l0 -0M14 75l-0 1M0 47l-0 -0M5 16l-1 0M45 26l-1 -1M21 28l0 -1M63 39l-0 -0M48 85l0 -0M33 73l0 0" stroke="#4a4e9e" stroke-width="2.1" stroke-linecap="round" fill="none"/>
<path d="M81 23l0 0M88 13l0 0M50 50l-1 -0M10 67l0 1M5 68l-0 -0M42 18l1 -0M52 29l-1 -1M7 20l-0 -0M58 63l-1 -1M2 90l-1 0M70 60l-0 0M3 64l-0 -1M65 16l-0 0M67 38l0 0M19 36l1 1M18 68l-1 1M44 1l0 -0M4 52l1 0M37 44l-0 -1M64 63l0 -0M77 65l0 0M35 12l0 -0M13 38l-1 -1M11 73l0 -1M18 35l1 0M20 -1l-0 1M86 86l-0 -0M87 17l0 0M43 49l-1 -0M79 9l-0 -0M83 73l-1 0M17 25l-1 -0M18 2l0 0M71 49l0 0M22 19l-0 0M26 41l-0 1M38 87l-0 0M28 6l-0 -0M22 10l0 -1M3 40l-0 1M54 19l0 -0M55 79l1 -0M39 7l1 1M41 81l0 -1M31 3l0 1M79 20l1 0M14 0l-0 0M11 10l1 -0M83 33l0 -0M23 32l-0 0M28 12l1 1M33 18l-0 0M64 33l0 -0M65 2l1 0M78 84l-1 0M17 72l0 1M71 3l-0 -0M2 28l-1 -0M84 23l0 -1M71 61l-0 1M78 68l-1 0M32 5l0 0M22 60l-0 -0M24 -0l-1 1M24 8l0 0M65 43l-0 1M42 11l0 -0M78 10l0 0M27 77l-0 -0M-0 66l0 0M3 69l1 -0M73 8l1 1M51 47l1 0M77 0l1 1M16 78l0 -0M31 51l-1 1M66 41l0 -0M44 27l0 0M60 56l-0 0M73 7l0 -0M17 69l-1 0M8 85l1 1M74 70l0 -0M38 -1l0 -1M67 73l-0 -1M87 84l-0 1M9 88l1 -1M23 2l0 0M87 15l-0 -1M31 39l-1 -1M79 28l-0 0M54 17l-1 0M54 62l-0 -0M4 22l0 -0M5 41l-1 -1M64 64l1 -0M65 71l0 -0M26 87l0 -1M61 6l0 -0M78 27l0 0M9 78l0 -1M40 15l-1 -0M77 72l0 -0M8 28l-0 0M28 81l-0 -0M64 41l-1 -1M78 81l-0 0M69 64l0 -1M1 5l0 -0M36 29l-0 -0M14 26l-0 -0M4 45l0 0M34 47l-1 0M28 24l-0 -1M66 52l0 -1M46 11l0 -0M25 81l0 0M46 65l-0 0M29 24l0 -0M27 13l-1 0M63 61l0 0M12 42l0 0M0 71l-0 -0M-1 84l0 1M28 9l-0 0M41 20l-0 0M86 43l-0 0M84 30l-1 0M13 90l-0 -0M60 36l-0 -1M-0 58l1 -1M59 1l-1 -0M87 83l0 -0M53 7l1 0M60 62l1 1M56 32l1 0M-0 20l-0 1M24 70l-0 -0M38 80l1 -0M45 30l-0 0M48 29l1 0M59 16l0 1M39 30l0 0M24 43l0 1M61 42l0 1M4 13l0 1M5 13l-1 0M42 54l1 0M33 13l0 1M25 80l0 0M25 76l-0 -0M72 48l0 -0M54 16l1 -0M1 60l1 -1M21 46l1 -1M38 39l-0 0M20 65l0 -1M36 24l-0 0M42 53l-0 -1M9 79l-1 0M32 23l-1 -0M44 0l0 -0M40 54l0 1M55 22l1 -1M31 6l-1 -0M31 29l1 0M39 40l-1 0M72 26l0 -0M81 42l0 0M48 82l1 0M67 33l0 0M42 21l0 -0M62 8l-0 1M40 2l-0 0M44 78l-0 -0M62 67l-0 0M79 20l0 0M27 34l-1 -0M86 87l-0 -0M52 30l-0 0M2 12l0 -1M38 57l-0 -0M86 89l0 0M19 37l-0 -0M63 74l-0 0M72 66l-0 -0M55 56l0 -0M48 19l0 0M82 10l-0 0M6 64l-1 0M30 60l0 0M88 83l0 1M84 15l-0 0M2 20l0 0M40 85l0 0M44 33l-0 1M9 63l-0 0M8 81l-0 -0M10 48l-0 -0M7 -0l-1 1M13 74l-0 -0M22 87l-0 1M72 63l-1 0M13 26l-0 1M61 39l1 0M70 30l-0 0M84 16l0 -0M18 47l-0 -0M54 77l0 0M5 51l1 -0M8 73l-0 -0M70 44l1 -0M75 7l0 0M85 11l-0 -0M85 6l-0 -1M28 68l0 0M46 36l-1 0M87 29l0 -0M62 84l1 -1M19 50l0 0M17 45l-0 0M42 6l0 0M33 74l-0 -0M76 10l0 0M52 59l0 -0M48 30l-0 -0M23 36l0 0M51 67l0 -1M45 73l0 0M39 8l0 -1M32 60l0 0M49 49l-1 -0M42 49l1 0M1 23l-0 0M14 66l0 0M5 83l1 -0M38 50l-0 -1M84 4l0 -0M82 85l0 -0M35 67l0 0M85 14l-1 -0M19 36l-0 0M33 67l-0 0M79 56l1 1M44 30l-0 -1M21 42l-0 1M54 83l0 1M15 62l1 0M50 60l-0 -0M31 38l1 -1" stroke="#3a3e92" stroke-width="2.0" stroke-linecap="round" fill="none"/>
<path d="M81 57l-0 1M63 87l0 -0M20 31l-1 0M34 60l1 1M84 59l1 0M43 86l0 1M19 81l0 -0M40 75l-0 0M22 84l0 0M16 84l-0 0M0 21l0 -0M31 67l-1 0M33 21l1 -0M34 19l-0 -1M8 15l-0 -1M81 78l1 0M5 13l0 -0M21 91l0 -0M13 83l0 0M64 82l1 0M90 89l1 -1M86 86l0 0M18 15l0 -1M31 70l-0 -0M15 25l-0 -0M13 29l0 0M12 35l-0 -0M4 22l0 -0M6 27l-0 0M31 28l-1 -0M14 21l-1 0M32 64l1 0M6 79l-0 0M8 4l0 -0M18 78l-0 -0M17 74l0 0M58 80l1 -0M55 79l-0 -1M24 86l0 1M9 88l0 -0M16 85l0 0M30 21l0 -0M37 68l1 0M17 18l-0 -1M44 70l-0 1M36 71l-0 -1M22 24l1 -1M27 26l-1 -0M14 85l-0 -0M48 89l0 1M57 80l0 -1M82 83l0 0M-2 15l-1 0M39 24l0 1M82 80l0 1M76 58l0 0M3 83l-0 1M34 16l0 1M40 21l0 0M26 79l0 -0M10 15l-1 0M9 78l0 -0M19 82l0 1M1 18l0 -0M60 88l0 -0M13 24l0 0" stroke="#634836" stroke-width="2.2" stroke-linecap="round" fill="none"/>
<path d="M0 76l0 0M51 53l0 -1M72 22l-0 0M69 20l-0 1M14 74l0 0M8 17l1 -1M0 69l1 -0M2 64l-0 -0M-1 67l0 0M56 17l0 1M13 36l-0 0M-3 71l-1 -0M2 75l-0 -0M14 63l-0 -0M72 16l-1 0M15 77l1 -0M71 23l-0 -0M78 30l-0 1M18 68l0 -0M51 25l-0 0M10 20l1 0M65 26l-0 -0M7 22l-0 -0M-1 81l0 -0M6 25l1 0M1 21l-0 0M76 22l0 1M4 71l0 1M13 74l-0 0M4 55l0 -0M55 57l-0 -0M-3 64l0 -0M4 64l-1 -0M1 20l0 -0M16 78l-0 -0M82 27l-0 -0M61 31l0 -0M17 11l1 -1M3 66l0 -0M69 14l0 0M89 29l0 0M5 76l-0 -0M63 58l0 0M67 19l0 0M8 30l-1 0M13 81l-0 1M46 32l-1 0M68 29l0 -0M4 18l-0 -0M3 79l-1 -0M52 39l1 1M67 26l1 0M-2 33l0 0M47 44l-0 1M75 26l-0 -0M3 60l-0 1M2 18l-0 -1M1 28l-0 0M-1 17l-0 -0M61 39l0 -1M56 59l-0 -0" stroke="#4e3426" stroke-width="2.0" stroke-linecap="round" fill="none"/>
</g></svg>
<rect x="207.4" y="859.9" width="20.3" height="3.0" fill="#000"/>
<svg x="288.8" y="782.0" width="88.2" height="89.8" viewBox="0 0 88.2 89.8" overflow="hidden">
<rect width="88.2" height="89.8" fill="#a699c8"/><g filter="url(#hb)">
<path d="M58 10l0 3M0 8l0 -2M43 41l1 0M58 39l2 2M10 73l-0 -0M72 10l1 -1M71 21l1 1M80 45l-1 1M87 72l0 0M25 45l0 1M6 60l-0 0M8 24l0 -0M7 45l-0 -2M23 34l-1 -0M37 83l-0 -1M31 54l0 -0M82 48l-2 -2M69 86l-1 2M9 12l0 1M3 33l0 -0M48 86l0 0M70 88l1 -0M9 30l-0 1M68 75l2 0M32 87l-1 1M66 31l1 2M3 7l-0 -0M21 21l1 -1M67 90l-2 -0M9 74l-1 3M87 8l1 -2M7 79l-1 3M7 23l-2 1M38 25l1 -1M80 61l2 -1M31 23l2 -0M11 39l-0 -0M9 11l-0 2M52 22l1 -0M7 30l-0 0M74 81l-0 -2M72 17l-0 -3M73 1l-0 1M28 86l-1 1M34 20l-2 1M68 34l-0 -1M66 35l2 -0M35 56l-2 0M67 83l2 0M85 48l-1 -0M73 77l2 1M73 24l-1 -1M56 50l2 -2M33 52l-0 -0M61 18l-2 -1M14 87l1 -2M82 7l-3 -1M59 41l0 1M19 47l2 -1M7 89l1 2M14 71l0 -2M85 30l2 2M71 22l-2 -1M79 48l1 2M32 44l-3 0M23 82l-2 0M17 10l-0 -0M30 82l1 3M0 46l1 -3M51 27l-0 0M35 13l1 -2M73 18l0 -1M36 29l1 0M45 81l3 -1M25 62l1 -2M64 49l-1 1M29 38l-1 1M40 14l2 -2M73 17l1 2M68 8l1 0M70 44l0 -2M51 46l0 -0M11 13l0 1M7 9l2 2M77 21l0 -0M87 50l2 1M56 66l0 0M23 50l-0 2M18 31l1 -3M21 34l-1 -1M81 72l2 -2M32 47l-2 -1M63 63l0 0M83 16l-0 -0M81 26l-0 0M79 24l2 2M30 18l0 -0M25 89l1 -1M64 29l-0 -1M6 77l-3 -1M28 9l-0 0M27 7l-2 1M73 79l1 1M89 82l2 -2M63 66l0 -1M57 57l-0 1M20 16l-1 -2M36 57l1 0M48 19l-0 0M17 53l-0 -1M69 69l1 -1M46 12l0 -0M78 57l-1 1M87 66l0 -0M16 29l-2 2M54 27l-1 1M63 50l1 0M17 61l1 2M39 90l-3 -0M61 61l-0 -0" stroke="#dcdbe8" stroke-width="1.6" stroke-linecap="round" fill="none"/>
<path d="M32 64l0 0M79 63l-0 1M69 60l0 -0M82 45l-0 1M2 29l0 1M9 80l-0 -0M78 46l-0 1M72 19l1 -0M30 41l0 -0M1 41l1 -1M29 10l-0 1M54 54l0 0M17 85l-0 0M23 64l-0 -1M46 61l0 1M4 10l-0 -0M57 66l-0 -0M77 77l-1 -0M71 59l0 -0M72 46l-0 1M32 60l0 -1M85 19l1 1M88 11l1 -0M29 9l0 -0M38 6l0 -0M45 78l-0 1M56 78l-1 -0M32 39l1 -0M78 31l-0 -1M87 27l0 -0M26 16l1 1M87 58l0 0M86 32l1 0M42 6l-1 -1M47 27l0 -0M78 67l-0 1M49 24l0 -0M76 69l-0 0M79 25l-0 -0M2 48l0 0M85 43l0 0M21 29l-0 -0M8 78l-0 0M56 80l1 -0M9 51l0 -1M32 12l1 -0M62 38l0 0M38 -0l0 -0M27 49l1 -0M18 31l0 1M70 84l-1 1M38 30l-1 -0M48 2l1 -1M9 71l1 0M16 82l-0 0M9 47l0 1M77 62l-1 0M68 84l0 0M74 54l1 -0M88 21l0 1M66 55l0 -0M73 80l-0 -0M75 6l1 -0M70 50l0 1M84 63l0 1M78 6l-1 0M36 52l-0 1M88 10l-0 -1M82 6l1 0M44 76l0 0M66 75l1 -0M77 3l0 1M80 42l1 -1M35 1l0 -0M12 41l0 -1M60 19l0 -0M53 30l-1 -0M49 40l1 0M60 77l-0 1M52 34l-1 0M53 78l-0 0M58 33l-0 0M77 27l0 -0M1 56l-1 0M5 -0l0 -0M24 11l1 0M29 8l1 0M13 57l-1 0M28 56l-1 -0M34 17l0 0M56 34l-0 1M40 37l1 -0M62 20l1 -1M24 38l0 0M23 70l1 -0M10 20l-1 -1M29 52l-0 -0M88 87l0 0M27 75l0 0M64 29l1 0M41 44l-0 1M69 10l-1 0M24 76l-0 0M37 40l1 -0M-1 90l0 -0M55 84l0 0M11 23l-0 0M41 73l0 -0M9 56l-0 -0M65 30l0 1M69 21l-1 0M79 -1l-0 1M72 -0l-1 -0M-0 60l0 -0M68 39l-0 1M25 33l1 1M23 19l-0 1M17 77l-1 0M30 21l0 -0M22 50l-0 -1M7 18l1 0M59 30l1 -0M59 69l-0 -0M68 79l-1 -0M34 18l-1 -0M33 16l0 1M75 60l-1 -1M83 76l1 1M10 10l1 -0M67 63l1 1M75 3l-1 0M47 12l0 0M67 88l0 -1M68 5l0 -0M85 37l-0 -0M78 28l0 0M76 54l1 -1M62 48l0 -0M30 57l0 0M9 52l1 1M39 20l-0 -0M20 38l0 -1M25 12l-0 -1M25 10l-0 1M-1 7l-0 0M30 89l0 -1M69 68l0 0M39 15l0 1M64 44l-1 1M62 -1l0 -0M65 60l0 0M3 26l-1 -0M44 79l0 1M71 59l0 0M62 83l0 0M64 81l-0 -0M88 49l0 -0M6 10l1 -0M43 40l-1 1M35 10l1 -0M17 7l-0 0M18 66l-0 -0M14 89l-0 1M26 89l0 1M2 77l1 0M62 60l-1 1M84 79l-0 1M41 74l0 -0M18 74l0 -0M34 65l-0 1M30 51l-1 1M24 36l0 -1M79 16l0 1M80 57l-0 1M85 42l1 1M21 89l0 -0M73 82l0 1M60 89l1 1M87 13l0 0M18 72l0 -0M19 5l1 -0M30 8l0 -0M2 14l-1 -0M75 62l0 -0M57 64l0 0M22 40l-0 0M46 25l1 0M29 11l0 1M54 7l1 0M56 34l-0 1M23 14l0 0M49 20l0 -0M39 18l0 -1M47 69l0 1M18 3l-0 0M21 9l-0 1M69 17l0 0M69 44l-0 1M27 18l-0 0M22 76l0 -1M10 34l-0 -1M64 66l-1 0M70 27l1 0M42 11l0 -0M32 23l-0 -1M9 12l0 -1M28 66l-0 -0M49 90l-1 -0M80 6l-0 -1M86 29l0 -1M48 25l-0 -0M44 10l0 -0M41 21l0 -1M3 78l0 0M31 80l-0 -0M41 42l0 0M17 46l-0 0M34 88l1 -1M28 58l-1 -1M1 35l0 0M88 64l-0 -0M47 38l-1 0M51 50l-1 -1M45 88l-1 1M81 25l0 1M54 53l1 1M34 83l1 1M24 61l0 -0M17 88l-0 0M55 37l-1 1M80 13l-1 -1M74 20l0 1M6 60l-1 -0M86 42l-0 1M59 86l-1 1M25 27l0 -1M33 47l-0 -0M57 38l1 1M63 7l1 0M16 62l1 -0M19 69l-0 1M62 64l1 -1M20 56l0 0M33 69l-1 -1M35 46l-0 -0M73 49l-0 0M45 12l0 -0M47 0l-1 -0M27 61l1 -1M53 27l-0 1M61 6l0 0M39 31l1 -0M45 59l-0 -1M38 81l1 0M19 68l-1 1M86 73l0 -0M66 26l0 0M75 18l-1 1M53 0l-0 -0M25 87l1 -1M1 89l0 -1M85 32l-0 -0M87 31l0 -0M20 61l0 0M53 78l0 1M15 1l1 1M38 50l-0 1M43 78l0 1M48 40l0 -0M28 79l-1 1M8 49l1 0M74 37l0 -0M86 55l0 -1M61 78l0 0M44 46l0 0M20 36l0 -1M67 17l1 0M46 63l0 0M54 36l0 -0M7 28l-0 -1M42 20l-1 0M63 20l1 1M63 31l-1 0M11 67l-0 1M19 72l-0 -0M46 14l1 0M65 71l-0 -0M52 61l-0 -1M89 27l-1 -1M46 27l-0 -0M88 86l-0 -0M19 49l0 -0M62 79l0 -0M14 43l-0 1M17 3l1 -0M82 37l-0 -0M78 39l1 0M4 41l-1 0M18 78l-0 -0M15 42l0 -0M7 16l-0 0M83 80l-1 1M54 14l1 1M28 11l0 1M53 28l0 -1M87 7l-1 1M67 39l0 -0M69 27l1 -0M3 81l1 -0M56 58l1 -0M32 41l0 0M9 78l-0 -0M64 44l0 -0M23 80l0 -1M25 54l-0 -1M35 46l-0 0M11 67l-1 1M83 45l-0 1M1 10l-0 -1M62 28l1 0" stroke="#7468ac" stroke-width="1.9" stroke-linecap="round" fill="none"/>
<path d="M62 14l-0 -1M69 67l1 -0M41 15l0 -0M20 64l0 0M12 63l-0 -1M28 18l-0 1M48 45l-0 1M87 65l-0 -1M76 73l1 -0M47 85l0 -0M5 39l-0 1M12 90l-0 -1M20 89l0 -1M11 42l0 -1M34 48l-0 -0M61 41l0 -1M1 10l-0 0M19 37l0 -0M81 31l1 -0M43 2l-1 1M46 6l1 0M51 44l-0 -1M59 82l0 0M19 56l-1 -0M60 49l1 -1M8 10l0 -1M71 85l1 -0M70 8l0 0M28 85l-0 -0M68 72l-0 -1M11 63l1 1M77 25l0 1M43 86l-0 -1M41 48l-0 0M16 62l1 1M71 25l-0 -1M43 46l1 1M24 19l1 1M18 19l1 0M51 49l0 -0M4 40l-0 1M33 26l1 1M5 1l0 -1M78 30l0 -1M34 63l1 0M5 8l0 0M45 39l1 -1M20 54l0 0M53 41l0 -0M72 2l0 -0M51 70l-0 0M75 51l1 1M53 81l-1 0M71 80l-1 -1M35 87l0 -1M61 3l0 1M28 56l0 -0M65 88l1 -0M78 27l-0 -0M25 84l-1 -0M43 26l-1 0M38 42l1 -1M12 62l1 -1M30 75l-0 0M31 68l0 0M76 3l1 0M62 58l-1 1M11 71l-0 0M12 25l-0 -0M24 24l-1 1M53 89l-0 -0M20 85l-0 0M12 62l1 -0M58 70l-1 -0M31 87l-1 -1M42 -1l0 -1M72 84l-0 -0M84 70l-1 1M62 32l0 0M63 4l1 0M54 54l-0 0M48 47l1 1M9 67l-1 -0M48 70l1 1M18 87l0 -0M17 21l1 1M27 11l1 -1M44 12l-0 0M80 63l-0 -1M12 84l-1 1M33 56l-0 -1M16 9l-1 -1M71 46l0 0M21 59l-0 -1M41 28l-0 -1M34 38l-1 -1M53 73l-0 0M8 19l-0 -0M57 21l1 -1M63 2l0 -1M24 4l0 0M87 44l-0 -0M61 3l-0 0M14 25l0 0M29 73l-0 1M10 90l0 0M34 66l-0 -1M1 1l0 0M62 77l-0 -0M87 77l0 0M83 29l-1 0M15 58l1 -0M42 50l0 -0M54 18l0 -1M45 25l0 -0M49 26l-1 1M6 87l-1 0M44 41l0 -0M52 81l-0 -1M47 90l-1 0M87 13l-0 0M51 50l-1 0M47 70l1 -0M55 55l-0 -1M5 19l1 1M52 68l0 0M52 65l1 1M70 37l0 -0M36 7l1 -0M67 6l-1 -0M36 13l-0 0M10 20l-0 1M31 74l-0 0M86 72l0 0M46 20l-0 0M57 74l1 -1M2 55l-0 1M76 63l0 0M50 50l0 1M29 59l1 0M76 37l0 1M62 40l-1 0M-1 83l-0 -1M32 77l-1 0M53 42l1 1M17 85l0 -0M63 51l1 -1M9 75l-1 -1M64 1l-1 -1M72 20l-1 1M39 29l1 -1M11 47l-1 0M50 71l-0 0M59 7l1 1M42 37l-0 1M69 10l1 1M88 54l-1 -0M45 1l-0 -0M70 48l0 -1M87 28l0 0M85 32l0 1M7 63l0 -1M60 39l0 -0M51 17l1 -1M19 27l-1 1M63 28l-0 0M25 68l-0 1M2 20l-0 0M69 88l-1 1M60 53l1 1M6 80l-0 0M25 40l-0 0M26 39l0 -0M34 58l-0 -1M2 84l-1 1M15 76l-1 -1M87 28l-0 -0M65 8l0 -0M73 22l-1 0M84 -1l-1 -1M39 79l-0 -1M34 90l-0 -0M58 79l0 1M12 89l-0 -0M41 45l-0 -1M78 56l-1 0M38 88l0 1M3 44l1 -1M15 89l-0 0M65 36l-0 0M88 38l-0 -1M29 5l-1 0M56 29l1 -0M89 9l0 0M65 83l-1 0M0 19l-0 -1M7 49l0 -0M57 37l-1 -0M47 61l-0 -0M51 55l-0 -1M3 29l1 0M37 3l1 0M48 11l-0 0M24 3l-1 1M41 11l1 1M44 20l0 -0M37 22l0 -0M16 72l-0 0M84 66l-0 0M82 28l-1 0M38 52l0 -1M31 3l-1 1M64 65l-0 -0M62 79l0 -1M74 16l-0 -1M13 58l1 1M30 31l-1 -0M74 64l0 -0M40 13l1 -1M30 75l1 0M59 64l-1 -0M63 86l0 -0M18 42l-0 0M15 37l-0 -0M9 23l-1 -1M8 42l1 0M13 16l0 -1M44 68l-1 -1M12 86l-0 0M7 70l0 0M84 40l-1 -1M25 49l0 -0M28 57l0 0M3 31l-1 -1M41 44l-1 0M54 76l0 1M66 33l-0 1M77 6l1 0M71 55l-0 -1M3 16l0 -1M11 43l0 -1M37 51l-0 1M59 4l-1 -0M87 75l-0 -0M85 25l-0 1M83 88l-0 -0M70 2l-0 -0M49 20l0 -0M9 49l1 -1M76 52l1 0M5 0l-0 -0M57 51l0 -0M67 64l0 0M47 52l-0 0M48 27l0 0M69 28l-1 -0M20 6l1 1M78 26l-1 -0M65 23l0 0M58 74l0 0M85 24l-0 1M65 71l-1 -0M73 37l-1 -0M30 44l-1 0M18 45l0 1M3 21l0 -1M76 14l-1 0M78 42l-1 1M44 26l-1 1M82 89l1 -0M28 14l0 -1M86 48l1 -1M39 58l0 -0M43 58l1 0M7 72l0 1M8 15l-0 -0M74 39l1 0M18 22l1 1M4 1l0 1M12 79l-1 -0M84 84l0 1M63 87l1 1M24 39l-0 -0M36 22l-1 -1M33 68l-1 -1M71 28l0 0M85 78l-1 0M15 85l-0 -1M9 7l-0 0M24 32l1 1M80 71l1 0M23 55l-0 -0M32 31l-1 -0M60 76l-0 0M80 2l1 -0M17 89l1 1M22 57l-1 -0M61 10l-0 1M83 56l-0 -0M55 7l0 0M32 72l-0 0M75 58l1 -0M70 70l-0 0M16 59l-0 -1M38 90l1 -1M8 38l-0 1M48 80l0 -0M46 31l0 -1M53 34l-0 -1M84 38l0 1M30 26l-0 -0M71 35l0 -1M12 51l1 0M8 46l-0 1M83 88l-0 -1M1 50l-0 -1M56 75l-0 1M88 24l0 1M36 24l-1 -1M16 15l1 1M5 46l0 -0M17 72l0 -1M30 44l0 -1M55 63l1 -1M42 3l-0 -1M-0 27l-0 0M21 88l0 0M72 75l-1 -1M69 29l0 -0M42 77l1 1M15 70l0 -0M-1 84l-1 -1M18 43l1 0M48 55l0 0M36 5l0 0M7 19l-0 0M54 67l-0 -1M63 67l-1 -1M49 7l0 1M64 2l-0 1M21 48l1 -1M53 41l0 1M78 60l-1 -0M8 3l1 1M73 22l-1 1M1 16l0 0M3 43l0 -0M46 62l1 0M49 80l0 1M34 9l0 -1M68 -1l1 0M32 84l-0 -0M25 -1l-0 -1M22 66l1 0M4 4l0 -0M50 68l-0 -0M63 68l0 1M50 56l1 -0M37 40l-1 0M65 53l0 1M31 4l-1 -0M87 45l1 1M35 88l-0 -0M12 44l-1 -0M80 31l-0 -1M66 47l-0 -0M51 7l-0 -0M11 16l-1 0M76 50l1 0M29 60l-0 0M23 31l-1 0M67 58l1 0M82 60l-1 1M80 45l-0 -1M26 24l1 -1M87 19l-1 -0M76 12l-0 0M20 11l1 -1M86 23l0 0M20 81l-1 0M72 57l0 -1M43 50l-0 0M25 45l-1 -1M36 5l-1 1M-1 0l0 -0M82 29l-0 -0M15 44l0 0M22 43l0 -0M60 73l1 1M57 90l-0 0M80 39l-0 -1M55 25l-1 1M71 71l1 -1M45 38l0 1M12 19l-1 -0M72 8l1 -1M19 5l1 -1M67 71l1 1M37 72l-0 -1M9 77l-1 -0M52 48l-1 -1M33 72l-1 -1M28 34l0 -0M38 61l-1 -0M67 34l1 1M58 86l-0 1M66 13l1 -0M41 12l1 0M43 78l1 0M61 71l-0 0M76 35l-1 -1M39 57l-0 -1M86 21l0 -1M11 11l-0 -1M61 37l0 -0M63 65l1 -1M30 74l-1 1M0 14l1 1M48 89l-0 0M33 14l0 0M71 3l-1 -1M56 75l-0 -0M52 53l-0 -1M13 61l-1 -1M60 47l-1 1M16 13l0 -1M59 83l0 -0M47 8l-0 0M5 44l1 0M84 26l-1 0M70 -1l-1 -0M44 35l1 -0M36 78l0 0M34 86l-0 -0M7 84l0 0M21 25l-0 0M23 65l0 0M87 88l0 0M33 38l0 -0M28 57l-0 -1M62 37l-0 -1M3 45l1 0M49 31l-0 -0M58 85l-1 0M65 36l-0 0M22 60l-1 -1M29 53l0 0M58 11l-1 -0M56 26l0 -0M60 36l-0 0M53 19l-1 0M6 69l1 -0M45 44l-0 -0M5 59l0 -0M15 83l1 0M79 80l-1 0M34 7l-0 0M29 90l1 1M87 41l-0 0M59 35l-0 -0M22 72l0 -1M31 71l-0 1M58 49l0 0M11 64l-1 1M87 2l1 -1M75 76l-1 -0M23 34l1 -1M8 29l1 1M89 5l0 -0M62 25l1 1M73 20l0 -1M14 75l1 1M77 70l-0 -1M16 83l-0 -0M61 55l0 0M78 90l-1 -1M29 71l0 0M85 14l0 -1M35 20l-1 0M25 74l-0 -1M69 4l0 -0M52 58l-0 0M42 38l-0 1M12 73l1 -1M83 77l-0 0M67 13l1 0M0 88l-0 -1M44 57l1 1M34 18l-0 -0M52 23l-1 0M20 6l-0 1M36 45l-0 -0M52 90l0 0M83 88l-1 -0M49 72l1 -1M25 83l-0 -1M86 24l-0 -1M9 61l1 1M0 38l1 0M38 85l-0 -1M43 1l0 -0M67 50l1 0M16 7l-0 1M42 14l0 -0M70 2l1 1M22 56l-0 1M70 16l-0 0M85 8l-1 1M78 44l1 -1M53 80l-1 -1M75 36l1 1M32 21l-1 1M84 47l0 -0M85 2l-1 1M4 59l-1 0M25 59l-0 -0M28 41l0 -0M56 63l-0 -0M85 52l-0 -0M88 73l-1 0" stroke="#564a98" stroke-width="1.9" stroke-linecap="round" fill="none"/>
<path d="M68 73l1 -0M67 14l1 0M36 56l-0 -0M51 17l0 0M25 38l0 -0M25 87l0 0M31 16l0 -0M62 0l-1 0M76 67l-0 0M31 14l0 0M73 11l0 1M72 12l-1 1M77 74l-0 -0M59 70l-0 1M33 79l0 -0M80 10l-0 -0M39 59l-0 1M56 31l-0 0M4 16l-1 0M21 69l1 -0M33 67l-0 -0M75 63l-0 1M88 42l-0 -0M7 60l0 0M15 15l-0 -0M72 86l1 -0M60 70l1 0M19 34l0 1M25 24l1 -0M6 28l0 1M88 81l1 -1M65 38l0 -0M5 83l-0 -1M87 57l1 -1M26 20l0 -1M31 25l0 1M56 75l-0 -1M76 50l-0 -1M21 24l-0 1M59 37l1 -0M2 52l-0 0M72 53l-0 0M69 90l1 0M-0 6l-0 0M1 87l0 1M59 82l-0 0M42 56l-0 1M88 25l0 0M78 59l-0 -0M27 67l0 -0M41 11l0 1M26 87l0 -1M34 48l1 -1M71 23l-0 0M55 75l0 0M55 32l-1 -1M10 75l-0 -0M36 32l1 -1M0 1l1 1M27 49l1 -0M57 42l-0 -1M53 6l-0 0M11 70l-0 0M40 32l-0 0M12 54l0 1M33 61l-0 0M75 35l0 0M89 7l-0 0M53 73l0 1M89 68l-0 -0M36 28l-1 0M19 42l0 0M8 52l1 -0M49 35l1 0M4 88l-1 -0M11 55l-1 1M85 10l1 -0M66 3l-0 0M28 47l-0 0M52 70l0 -1M51 27l0 0M10 46l0 0M76 78l-0 1M85 20l1 -0M31 64l-0 0M76 73l1 -0M88 26l-0 -0M52 40l0 1M79 68l-0 0M41 88l-0 -1M67 40l0 0M45 44l-0 0M1 12l0 1M23 83l-1 0M43 33l-1 -0M19 40l0 1M73 70l-0 0M84 47l-0 0M19 88l-0 -0M22 75l-0 -0M40 69l0 0M74 11l-0 -0M24 46l-0 0M52 82l-0 0M10 21l-0 0M8 64l1 0M27 45l-1 0M10 78l-0 0M65 1l-0 -0M84 91l-0 -1M30 39l1 -0M78 15l-0 0M52 28l-1 1M12 28l0 -1M52 2l0 0M77 15l0 1M21 72l-0 -0M41 71l0 1M24 46l0 -0M58 65l0 -0M26 37l-0 1M39 18l-0 -0M44 30l-1 -0M61 36l0 -0M86 82l1 0M83 15l-0 -0M32 61l-0 -0M43 56l-1 -1M2 23l-0 1M32 88l-0 1M36 85l0 -0M65 78l-0 -0M67 81l-1 1M80 23l1 -1M73 84l-1 1M11 40l-1 1M43 15l0 0M55 13l1 -0M17 31l-0 -0M66 26l0 0M73 30l0 -1M69 80l1 -1M28 21l0 -0M20 26l1 -0M10 53l0 0M1 88l0 1M6 68l0 -1M6 46l-1 -1M83 22l1 -0M60 75l-0 -0M61 42l-0 0M77 2l-0 -0M11 6l-0 0M82 17l-1 0M80 46l-0 0M15 33l-0 0M12 14l0 1M63 49l-0 -1M46 45l-0 0M18 30l-0 -0M61 27l-0 -0M9 29l-0 0M85 61l1 1M19 12l1 0M16 29l-1 0M53 50l0 1M55 50l1 -0M54 72l0 1M55 41l-0 -0M38 36l1 0M46 20l-0 1M75 27l0 0M22 18l0 -1M30 75l1 1M38 22l0 -0M14 74l1 -1M31 64l-0 -0M54 72l-0 0M54 65l-0 0M89 -1l1 0M36 29l0 0M50 80l1 0M64 1l0 -0M72 4l0 0M85 42l0 -0M19 74l1 1M3 19l-0 0M88 55l1 -0M36 41l-1 -1M13 46l0 -1M61 59l-0 0M69 16l0 0M30 84l-1 0M73 43l-1 -0M26 9l-1 -0M22 28l-0 1M73 74l0 -0M66 26l-0 0M54 4l0 0M19 13l-1 0M30 50l-1 0M65 73l0 0M62 74l1 0M63 88l1 0M54 64l-0 -0M14 32l1 1M25 69l0 -0M6 16l-0 -0M80 23l0 -1M63 22l-0 -0M33 58l-1 -1M8 41l-0 1M88 28l-0 -0M6 90l0 0M45 15l-0 -1M79 51l0 1M34 77l-0 1M14 16l-1 -1M15 80l0 -0M5 80l1 1M37 62l-0 -1M55 25l-1 0M26 58l1 -1M40 3l0 1M51 29l0 1M53 41l1 0M38 71l0 0M67 21l-0 -0M23 87l0 -1M78 39l-0 0M55 -1l-0 0M11 17l-0 0M38 78l-0 -0M22 11l0 -0M36 2l-0 -0M13 26l-1 -0M24 52l1 1M9 7l-0 -1M50 63l1 -0M63 38l0 -1M16 20l0 -1M88 15l-0 0M25 50l-0 0M75 36l0 -1M22 74l-0 -0M2 77l-1 0M5 8l-1 -0M4 84l0 1M82 77l0 1M46 81l1 0M74 78l-0 1M50 60l-0 0M-1 80l-1 -0M58 62l-0 0M70 56l0 1M41 14l1 0M66 67l-1 0M19 55l-0 0M84 9l-0 -1M87 7l1 -1M84 88l1 1M33 3l-1 0M76 70l0 -0M55 56l-0 1M27 18l0 -1M26 16l-0 0M7 86l-0 -0M82 59l0 -1M18 79l0 -0M89 67l1 -1M30 42l0 -1M26 11l-1 -1M76 90l0 -0M66 27l0 1M5 66l1 1M46 26l-0 -1M33 69l0 1M14 1l0 0M45 59l1 -0M87 27l-0 0M64 80l-0 -0M70 33l1 -0M45 90l0 -0M7 85l0 -0M3 9l-0 1M4 7l-0 -1M80 38l0 -0M73 66l0 0M39 2l0 -0M17 79l0 1M74 84l-0 -0M46 -1l-0 1M48 10l-1 0M89 12l1 0M30 60l-0 0M1 16l0 -1M88 72l0 -0M64 4l-1 -1M13 36l0 -0M43 43l0 0M15 79l-0 -0M57 5l-0 -0M76 40l1 -0M66 36l-0 0M31 25l-0 -0M1 33l-0 -0M37 32l0 -0M58 19l0 -0M59 68l0 0M86 47l0 0M40 78l0 -0M70 85l0 0M56 2l-1 0M66 0l-0 -0M38 60l0 -0M86 51l0 -1M7 17l-0 0M42 1l-1 0M51 82l0 -0M77 48l0 0M62 20l0 0M35 30l-0 0M24 11l0 -0M50 35l0 0M84 38l-0 -1M56 3l0 1M18 77l-0 1M73 12l0 -0M20 43l-0 -1M16 12l0 -1M41 64l-0 0M57 24l-0 -0M75 16l-1 -0M12 82l-1 -1M26 75l0 -0M7 84l-0 0M15 37l0 -1M87 20l-0 1M54 77l-0 -0M13 14l-1 0M74 77l0 0M3 68l0 1M0 50l-0 0M75 13l-0 -0M56 77l-1 -1M60 80l-1 0M40 59l-0 -1M3 1l-0 0M18 17l-0 -0M73 54l0 0M0 88l1 0M30 16l0 0M65 2l-0 -0M5 30l0 -0M22 37l0 -0M53 31l-1 -0M80 43l0 -0M35 28l-1 1M60 20l-0 0M47 7l-0 1M61 87l-1 1M43 59l-0 -0M45 60l-0 -0M60 11l-0 1M20 28l1 -1M89 58l-0 -0M2 25l1 0M40 46l-0 -0M12 81l0 -0M55 57l0 0M13 24l0 -0M61 47l1 0M4 83l-1 0M8 11l-1 1M7 9l0 0M53 63l-0 -1M31 57l0 -1M1 42l0 0M42 60l1 -0M50 14l0 1M46 24l-0 -0M60 67l0 0M66 81l0 -1M68 55l0 0M71 57l-0 -0M70 82l-1 -1M-1 2l0 1M29 17l-0 -0M57 69l1 -0M33 64l0 -0M60 -1l-0 0M77 55l-0 -1M88 15l0 -0M10 33l0 -0M75 31l-0 0M80 58l-0 -0M37 87l-0 -0M18 40l0 0M88 43l-0 -0M9 86l-1 -1M76 52l-0 1M25 19l0 -0M83 78l-0 0M73 24l-0 -0M69 2l0 0M61 29l1 0M66 32l0 1M30 70l-1 1M81 26l0 1M38 55l0 -0M18 30l-1 -1M33 44l-0 0M2 12l-0 -1M33 17l-0 1M14 39l-1 -0M49 78l-0 -1M64 20l0 -0M12 10l0 -0M81 9l-0 -0M32 72l0 0M6 30l-0 1M14 34l0 -1M78 11l0 -0M84 43l1 0M22 30l0 0M28 9l-1 1M-0 57l0 -0M42 40l1 -1M33 32l0 0M14 14l-0 -0M64 41l0 -0M14 5l-1 -0M14 29l0 -0M45 29l0 -0M34 3l-0 0M7 49l0 -0M42 68l-1 0M6 4l-0 1M56 68l-0 1M26 26l0 -0M8 89l0 -0M2 64l0 -0M87 2l0 0M35 52l-0 -1M4 9l0 -1M78 43l0 0M44 2l0 -0M61 68l1 -0M47 65l0 0M21 40l1 1M51 15l0 0M49 5l-1 0M10 42l-0 -0M2 52l-0 -1M26 4l1 0M0 47l0 1M54 12l0 -0M44 61l-1 0M58 20l-0 -0M26 87l0 0M74 77l-0 -1M75 49l-0 -0M41 72l-0 0M56 2l1 1M56 36l-1 -0M59 15l1 -1M56 28l0 0M28 36l0 -1M37 19l-1 0M9 56l-0 1" stroke="#3c3480" stroke-width="1.7" stroke-linecap="round" fill="none"/>
<path d="M55 87l-0 -0M37 70l0 -0M57 24l0 0M10 26l-1 -0M32 68l1 0M1 29l-0 -0M46 54l-0 -0M21 46l-0 -0M45 19l0 1M76 44l0 -0M77 45l-0 -1M68 17l-0 -0M17 49l-0 0M38 67l0 -0M47 54l-0 0M18 30l-0 0M37 68l0 -1M53 16l0 1M85 78l1 0M34 62l-0 1M86 76l0 -0M37 15l-0 1M33 62l-0 -1M47 19l-0 0M47 49l-0 0M78 74l-1 0M74 43l-0 -0M34 63l0 0M67 85l-0 -0M44 65l-1 -0M28 9l0 -0M41 50l-0 0M52 20l-0 1M27 80l-0 0M31 13l0 0M53 24l-0 -0M81 42l0 0M46 49l0 -0M60 22l-0 -0M38 68l0 0M60 88l-0 0M55 17l0 -1M23 44l0 -0M34 59l0 0M6 24l0 0M33 66l0 -0M31 60l0 1M41 21l0 1M40 47l-1 -0M29 67l1 -0M28 10l-1 -0M36 60l-1 -0M34 66l-1 0M81 76l-0 -0M22 36l0 1M79 40l-1 0M77 46l0 -0M85 80l-0 1M38 70l1 -0M13 37l-1 0M38 21l0 -1M18 46l-0 -0M34 62l0 0M19 44l0 -0M6 26l0 -1M33 56l-0 0M39 22l-0 0M38 67l0 -1M34 70l-0 -0M80 79l-0 1M80 77l-0 0M17 45l-1 0M85 78l-0 -1M78 81l1 1M85 78l-1 -1M33 9l-0 -0M32 9l0 -0M77 75l-1 -0M33 59l0 -0M51 18l-0 -0" stroke="#4e3426" stroke-width="2.3" stroke-linecap="round" fill="none"/>
<path d="M22 58l1 0M42 17l-0 -0M27 56l0 0M80 37l-0 0M15 30l-0 -0M15 30l-0 0M32 55l0 0M1 32l-1 -0M11 83l-0 0M20 28l0 -0M41 76l-0 1M19 29l0 1M12 71l-0 -0M81 22l0 -0M13 84l0 0M14 80l0 1M37 22l-0 0M44 22l-0 -0M21 28l0 0M17 29l-0 -1M41 5l0 -0M14 68l-0 -0M77 55l0 -0M44 75l-1 0M76 50l0 0M16 54l1 -0M17 26l0 0M29 56l-0 1M41 78l-0 0M8 87l-1 1M46 27l0 1M3 15l0 0M50 18l1 -0M90 19l0 0M21 52l-0 -1M2 10l1 1M21 52l-0 1M8 79l0 -0M56 14l-0 -1M57 22l0 0M19 23l-0 -0M82 36l-0 1M47 24l-0 -0M84 52l1 0M27 25l-0 0M35 76l-0 -1M45 8l1 1M78 47l-0 1M9 17l-0 -1M59 43l-0 -0M81 36l-0 0M17 20l-0 -0M46 1l0 0M43 20l-0 -0M83 16l-0 1M49 23l-1 0M47 76l-0 0M84 18l0 0M53 15l0 1M39 17l0 -0M20 73l1 0M15 28l0 0M3 36l0 0M28 52l-0 0M12 27l0 -0M12 67l1 -1M57 26l0 -0M28 51l-0 -1M-1 9l-1 0M56 42l1 -1M-1 35l-0 -0M16 18l-1 0M42 4l1 0M14 76l-1 0M8 85l-0 0M38 23l-0 0M20 53l-0 -1M19 25l1 -0M40 77l-0 -0M39 21l-0 0" stroke="#3a261e" stroke-width="2.1" stroke-linecap="round" fill="none"/>
</g></svg>
<rect x="302.5" y="859.9" width="20.3" height="3.0" fill="#000"/>
<svg x="382.7" y="782.0" width="89.0" height="89.8" viewBox="0 0 89.0 89.8" overflow="hidden">
<rect width="89.0" height="89.8" fill="#c6c6d4"/><g filter="url(#hb)">
<path d="M80 16l0 1M44 90l1 -1M38 67l2 -1M34 22l-1 -0M82 60l2 2M73 38l3 -1M44 38l-0 -1M59 25l1 -1M47 12l1 2M85 54l0 -1M35 88l-1 1M23 3l-1 1M85 29l1 1M51 63l-1 -2M51 21l2 -1M11 44l2 1M80 79l0 1M1 18l-1 -2M30 24l-1 -0M53 50l-0 3M15 26l-0 -0M31 35l-1 0M84 38l1 1M85 11l-3 1M7 67l0 -2M58 -1l3 1M59 80l1 1M31 3l2 0M85 53l0 0M51 34l0 1M65 89l0 0M58 25l-0 -0M74 80l-2 -1M38 2l-1 -2M-1 70l1 3M-0 8l1 2M8 19l-2 1M67 49l-0 -1M1 8l-1 2M57 54l0 1M6 60l-3 1M88 51l0 1M5 77l-0 1M26 64l1 1M30 0l-0 -0M76 90l0 -0M21 76l1 2M60 80l0 0M56 7l-1 -0M88 5l-0 -1M36 42l-1 -1M39 36l-0 -1M72 82l1 1M9 16l2 1M68 90l0 0M47 82l1 -2M78 11l-2 2M48 24l0 -0M27 90l2 2M42 48l-0 1M70 5l1 -1M60 17l-0 3M35 35l-0 0M17 59l0 1M51 4l-2 0M10 83l0 -1M56 91l-0 0M43 17l-1 1M46 54l-0 -0M8 41l0 -0M57 70l-2 -0M43 87l-2 -2M52 68l2 -1M77 59l-0 1M27 8l2 2M25 26l1 -1M23 -0l-0 1M14 61l-0 -0M87 17l-1 1M45 63l2 1M56 59l1 1M38 53l0 1M28 26l0 0M13 51l-0 -0M68 42l-2 -1M89 1l0 -3M57 68l2 -3M85 86l-1 -1M20 60l-1 1M11 69l1 -0M88 32l-0 0M58 44l2 2M9 27l0 0M9 53l-1 -1M31 18l1 -0M-0 38l-0 0M50 41l0 -0M47 90l-1 -1M44 48l-1 2M21 5l0 -0M28 43l1 1M57 76l-1 3M73 88l-1 2M11 22l-1 -2M26 67l-1 1M54 14l-0 2M7 69l1 -1M9 33l-2 2M71 55l-0 -1M88 70l-0 1M22 70l-1 -2M63 39l-1 1M-0 0l-0 0M17 63l0 -0M72 35l-1 1M11 82l1 -3M71 3l-1 -0M58 70l2 0M45 29l-0 -0M51 37l-1 1M36 26l-2 1M52 1l-2 1M8 83l1 0M44 57l1 -1M28 41l2 1M25 43l0 -0M6 81l-2 -0M31 80l3 1M66 32l-0 -3M80 3l0 -0M71 71l-1 -0M50 68l-0 -1M76 63l2 -2M77 73l2 -1M56 52l2 2M25 51l3 1M26 82l2 1M76 8l-0 0M12 59l-0 -1M81 70l1 -2M43 81l3 -0M50 27l1 -1M81 -1l0 1M69 70l0 -1M34 48l-0 0M68 18l3 -1M66 52l-2 -1M87 45l0 -0M58 0l-0 -0M49 62l-2 -1" stroke="#dcdbe8" stroke-width="1.6" stroke-linecap="round" fill="none"/>
<path d="M60 0l0 -1M7 69l2 -1M33 24l-0 1M9 30l-0 0M32 39l1 -0M79 45l0 -2M46 51l0 -0M67 37l0 0M50 31l-0 0M63 35l-0 1M18 32l0 1M59 77l0 -0M31 81l-2 -1M18 2l-1 -2M44 89l-0 2M11 37l-2 2M37 28l-2 0M72 72l1 2M37 76l-0 2M11 77l-0 -1M5 69l-1 -0M63 44l-0 -0M7 9l1 1M12 30l-3 0M84 56l-0 2M85 24l-1 2M87 49l1 -0M76 56l2 -1M49 40l2 -1M11 46l2 2M23 19l-0 -0M59 56l-0 -2M17 44l0 0M84 15l-0 0M56 71l1 -2M18 28l-2 -0M49 26l-0 0M47 47l-3 1M75 13l-2 0M65 64l0 1M20 49l1 -2M22 2l2 -1M15 41l-0 2M3 66l-0 -1M50 15l0 -0M69 11l3 0M3 69l0 -1M55 26l2 2M84 45l1 -0M71 65l-0 3M68 -1l-1 -2M33 70l-0 0M56 8l-1 -0M33 33l0 0M23 70l-2 1M65 7l3 -0M11 55l1 2M59 69l0 0M10 0l0 -0M30 35l0 1M74 59l0 0M52 26l0 -0M19 62l3 0M26 38l-1 2M72 52l-0 0M31 71l-1 -3M59 63l0 -0M79 71l-1 0M12 32l-1 1M13 27l0 -1M9 32l0 -1M74 72l0 1M7 44l1 -2M2 47l1 -1M82 23l-1 2M32 58l1 -1M75 42l-0 1M12 26l-1 -2M37 56l-0 1M14 42l1 2M55 14l-1 0M5 24l-0 -0M80 73l-0 0M28 4l1 -0M59 49l-0 0M7 31l1 0M67 17l1 2M48 58l-1 -2M54 58l-1 -0M88 87l1 -1M40 89l-3 0M21 57l2 0M60 47l-2 -0M68 67l2 1M44 39l2 -1M72 41l-0 1M36 -1l-0 0M7 27l3 -1M59 59l-0 -0M14 23l0 -0M31 21l0 -1M-0 51l-3 -1M82 78l-2 -1M78 89l-1 -1M85 46l-0 0M83 52l1 3M74 54l-0 -3M21 45l-1 -2M77 54l0 0M64 55l-2 -0M56 68l2 -2M70 41l0 0M53 54l1 -1M40 25l1 2M45 66l-1 -1M9 64l-1 -2M37 77l1 0M45 68l-0 1M37 12l1 -1M60 3l1 -2M22 2l1 -0M60 38l-2 0M16 31l2 2M25 47l1 1M78 45l-0 0M80 33l1 0M34 61l-1 3M21 77l1 -2M71 69l1 -3M70 77l2 -1M43 66l0 2M28 62l-0 0M76 32l3 -1M85 36l1 -2M78 72l-1 -1M15 13l0 0M22 77l-0 0M33 68l-0 1M88 29l1 -2M11 3l1 -1M47 21l-1 1M78 25l-1 1M48 45l-1 -1M79 35l2 -2M2 13l-3 0M35 34l2 1M7 50l0 3M7 15l-3 -1M74 60l0 1M8 53l0 0M46 87l0 -1M66 72l-3 1M29 19l1 1M23 62l1 0M16 56l-1 -1M56 57l2 -2M72 35l-0 0M52 69l1 3M30 31l1 0M29 21l-0 -1M74 20l-0 -0M82 27l-0 -2M76 37l-1 -1M21 86l-1 1M42 52l-2 -1M23 38l1 1M2 47l0 -1M13 48l1 -1M55 19l1 -2M-1 23l0 -0M81 41l-1 -1M60 40l-2 1M50 19l-1 -1M52 90l1 1M84 85l2 -2M29 66l-1 2M21 2l0 2M80 72l-0 -1M46 31l1 1M47 73l-1 -2M19 -1l0 0M88 60l2 1M45 21l-0 3M60 44l0 0M77 61l0 -0M35 14l1 0M3 23l-0 1M44 63l2 0M16 21l1 -1M42 84l1 2M54 24l-1 0M30 45l-0 0M17 66l0 1M80 31l-0 -0M6 70l1 -1M52 23l-1 2M59 72l-3 0M47 5l0 -0M63 3l3 1M16 11l0 -0M5 70l-1 2M30 75l-2 0M79 71l-0 -0M31 75l-1 -0M47 75l0 -1M30 82l0 -1M-0 46l2 -2M63 33l-0 1M53 73l2 1M62 39l-0 0M28 56l-1 1M29 59l1 1M9 33l0 1M26 21l2 0M90 90l1 0M82 64l-1 -0M47 82l2 -1M32 7l-0 3M87 31l1 -3M57 20l-1 -0M3 89l1 1M15 39l0 -0M82 80l-2 1M81 34l-0 -1M25 38l2 1M22 74l2 -2M26 60l1 1M15 12l-2 2M60 11l-1 2M3 63l1 -2M20 89l1 -1M25 76l1 -2M32 58l-1 1M17 77l-0 0M4 68l0 -0M55 9l-1 -2M61 68l-1 1M39 20l0 1M17 25l-1 1M9 82l-2 -2M46 23l0 -0M23 60l-1 -2M81 69l0 -0M41 20l-2 -2M68 8l-0 -1M41 6l1 -2M86 5l0 0M77 80l1 0M57 5l1 -1M75 62l0 -1M72 41l-0 0M13 87l-0 -2M29 9l-1 -0M62 91l0 -1M32 15l-2 -0M37 47l-0 0M54 54l2 1M56 56l-0 0M79 62l1 2M84 27l-1 -1M80 81l-1 -1M60 11l-1 0M63 23l-1 1M39 42l-0 -1M21 57l-0 -1M75 30l-0 1M80 33l1 0M65 63l-1 -2M33 18l-1 -2M40 7l-2 -1M60 46l0 1M27 51l-0 0M87 48l1 -2M47 3l2 -0M45 65l-1 -0M60 74l1 1M22 42l0 0M32 24l1 -2M84 90l-1 0M34 48l-1 2M46 61l0 0M54 17l1 2M43 3l-2 0M15 12l-2 0M43 23l1 1M43 10l1 1M79 48l-2 -1M70 38l1 2M71 46l-2 -0M48 16l-2 1M28 69l-1 1M63 44l-1 -3M48 7l0 0M46 5l-1 -1M47 41l-1 0M80 2l0 0M25 87l1 -0M6 22l1 -1M59 45l0 0M49 12l-2 -0" stroke="#a8a4b4" stroke-width="1.6" stroke-linecap="round" fill="none"/>
<path d="M27 80l-0 -1M69 88l-0 -1M5 87l0 -1M41 78l-1 -1M7 81l-1 1M1 16l-1 -1M14 56l-0 -1M37 17l1 -0M22 76l-1 1M68 89l-0 -0M7 89l1 1M81 8l1 -1M27 37l1 1M19 17l0 1M31 4l-1 -0M13 64l0 0M50 11l0 -1M53 21l0 0M47 65l-1 -0M17 88l1 0M82 20l-0 -0M81 17l0 0M90 42l0 -0M36 81l0 0M18 68l-1 0M46 73l-0 0M78 91l0 -0M84 82l-1 0M82 40l0 0M26 19l-1 -0M46 82l-0 -0M15 10l-0 0M81 19l0 1M30 24l1 0M26 35l-1 0M1 91l-1 -0M81 70l1 0M62 33l-0 -0M76 90l0 0M17 9l-1 -1M10 23l-0 1M80 25l0 0M4 52l-0 -0M29 18l1 1M46 9l0 1M61 83l0 1M32 36l-0 1M56 15l-1 0M9 59l1 1M33 37l0 -0M22 71l0 0M52 30l0 0M23 82l-1 0M63 44l-0 -0M55 39l1 0M19 71l1 -1M83 56l-0 1M45 82l0 -0M24 81l-1 -0M82 58l1 0M25 37l-0 -0M66 12l-0 -0M67 75l0 -0M54 36l-1 -0M86 25l-1 -1M85 50l-1 0M42 8l0 0M12 78l-1 -0M81 15l-0 -0M0 14l-0 -1M75 39l1 -1M50 19l-1 0M4 74l0 1M70 60l0 1M40 4l0 -1M32 1l1 -0M54 49l-0 1M47 0l-1 0M43 53l0 -0M71 2l-1 -0M27 17l-0 0M24 36l0 -0M74 30l-0 1M89 24l0 -0M8 42l0 1M60 85l-0 0M11 65l0 -0M-1 76l-1 -0M65 65l-1 -0M79 71l-1 0M71 72l0 1M37 27l-0 -1M48 2l-0 -0M22 37l1 -1M25 68l-1 0M68 32l0 -1M37 59l0 -0M-0 24l-1 -0M-0 82l-1 -0M80 67l-0 -1M64 36l0 0M83 17l-0 0M13 39l-0 0M38 16l-1 -1M87 65l-0 -0M29 65l-1 -0M63 41l-1 0M50 34l-0 -1M14 40l-0 0M46 46l0 0M80 37l-0 -1M51 49l-0 -0M79 65l0 0M9 89l1 -1M42 45l0 0M39 86l1 1M14 23l0 0M65 12l1 1M14 71l-1 -0M6 10l1 1M25 85l-1 -0M40 86l-0 0M57 1l-0 1M65 53l-0 1M22 4l-1 1M40 23l-0 -1M52 34l0 -1M66 56l-0 -1M85 75l0 -0M73 23l0 1M80 1l-1 0M62 77l-1 -1M58 49l-0 1M86 1l1 1M86 20l1 -0M66 19l-1 -0M19 73l-1 1M80 32l-1 -1M31 86l-0 -0M4 43l-0 0M1 90l-1 0M8 58l-1 -0M90 28l1 1M47 35l0 -1M12 23l1 0M26 30l-0 -1M79 76l-1 1M39 69l-1 0M55 12l-0 -1M24 41l0 -0M34 17l1 1M42 56l-0 -0M15 16l1 -0M85 54l0 0M64 83l-1 -0M53 85l-1 0M39 33l0 -0M2 91l-1 0M77 77l0 -0M17 38l1 0M1 -1l-1 1M17 71l1 -0M10 48l-0 0M83 87l1 1M0 33l0 -1M88 26l-1 -0M87 16l0 -0M76 2l1 -1M77 11l1 -1M68 22l-1 -0M36 28l-1 -0M88 50l0 -0M49 13l1 -0M4 63l1 -0M72 48l0 -0M71 5l-1 0M0 3l1 -1M4 9l0 0M50 89l-0 0M16 30l-1 1M76 43l0 -0M74 39l0 -1M36 85l-0 -0M-1 76l0 -1M64 18l-0 -1M87 28l0 0M87 4l-1 -0M1 58l-0 -1M24 52l-0 -1M10 1l-1 1M66 50l-1 1M55 40l-1 1M75 41l1 0M4 42l-1 -1M7 66l-1 0M73 71l1 -0M12 2l0 0M88 84l1 -0M45 56l0 -0M26 20l0 0M28 42l-0 -0M90 79l-1 0M26 67l-0 -1M64 5l0 -0M11 88l0 -0M59 85l1 -0M30 -1l-1 -0M83 27l0 -1M88 16l-0 -0M26 87l0 -0M83 57l0 0M20 68l-0 -1M9 70l0 0M75 3l-0 1M5 18l-0 1M52 51l0 1M9 45l0 0M31 37l-0 1M89 58l-1 -1M34 49l-0 0M66 23l0 1M45 29l0 0M76 25l0 0M49 82l0 1M70 54l0 -0M5 36l-1 -0M12 25l0 0M17 46l-0 -1M52 2l-0 0M9 52l1 -0M15 79l-0 -1M1 88l-0 1M68 8l0 -1M35 37l-1 1M60 14l-1 -1M85 32l1 -1M75 29l-0 0M21 40l0 0M59 90l-1 -1M31 37l0 1M15 49l1 -0M83 56l0 -0M60 5l-1 0M55 47l-1 -1M68 17l0 0M24 10l-0 0M34 78l-0 -0M41 50l-1 -0M16 56l0 0M22 80l-0 -0" stroke="#7c7eae" stroke-width="1.9" stroke-linecap="round" fill="none"/>
<path d="M85 74l-0 0M14 70l1 -0M52 39l1 -1M11 49l0 0M25 89l-0 0M84 73l-0 1M19 15l-0 1M11 5l-1 -0M68 42l-0 -1M71 65l1 0M74 28l1 0M36 27l-0 1M64 25l-1 1M60 79l1 -1M31 51l-0 0M11 42l1 -0M9 39l0 -1M23 36l-0 -0M81 40l-0 1M77 80l-0 -1M19 50l1 -0M15 76l1 -0M56 59l0 -0M58 25l0 0M2 0l1 -0M83 66l-0 1M13 54l-1 -0M81 11l0 0M66 83l0 1M41 75l-1 0M65 74l1 0M61 87l0 -1M58 37l-0 -0M29 72l0 1M23 89l-0 0M27 8l-1 0M15 78l-0 -1M45 52l1 1M57 82l-0 -0M2 49l1 0M40 21l0 -0M82 34l0 -1M3 81l-0 0M68 60l-1 -0M70 45l0 1M84 81l0 0M84 36l-0 -0M66 44l-0 -0M41 87l-0 1M31 48l0 -1M76 22l1 0M88 7l-1 1M8 2l-0 -0M45 77l0 -1M83 55l-0 -0M8 60l0 -0M81 83l0 -1M72 14l-1 1M29 60l-0 1M76 36l1 1M52 11l1 -1M11 14l-0 -1M51 33l0 -0M0 57l0 -1M58 49l-1 0M24 61l-0 0M9 31l-0 1M47 21l-0 -1M83 21l1 -0M89 17l0 -1M54 71l-1 0M30 50l-0 -0M71 42l1 -1M33 18l0 -0M31 1l1 -0M72 47l1 -1M54 36l1 -0M1 13l-0 1M54 7l1 -0M55 24l-0 -1M53 75l1 -1M37 42l-1 1M85 86l1 -1M12 3l1 1M70 3l-1 0M75 49l0 1M48 0l1 0M49 68l-1 1M35 66l1 1M13 44l-0 0M74 51l-1 1M40 83l0 -0M23 76l0 -1M86 21l1 -0M65 91l-0 0M16 14l-0 -0M12 61l-0 0M0 23l-1 1M53 41l-0 0M3 69l-0 -1M37 69l1 0M8 80l1 1M72 -1l-1 -0M39 83l1 -0M13 0l-1 -1M13 86l-1 -1M89 52l-1 1M58 82l-0 -0M61 9l-0 0M85 67l-0 0M8 27l1 1M25 13l-0 1M17 71l1 -0M38 20l0 0M75 17l1 -1M69 22l0 1M27 1l1 0M61 1l1 -1M49 61l0 1M78 55l0 1M11 60l0 -0M42 37l-0 -0M6 45l0 -1M88 20l-1 -0M44 19l-1 1M77 1l-0 -0M71 14l-0 -1M48 2l-0 0M31 24l-1 1M65 40l0 0M37 40l1 0M86 25l-1 1M37 1l-0 1M75 80l-1 -0M33 52l-1 -1M-1 17l-1 1M62 87l0 0M61 80l-0 -0M73 71l-0 -0M84 65l-0 0M21 58l0 -0M45 20l1 0M74 54l1 -1M56 26l0 -1M76 5l-0 -0M43 64l-0 0M15 16l0 -1M24 65l1 1M18 74l-0 -0M2 61l0 0" stroke="#6266a6" stroke-width="1.9" stroke-linecap="round" fill="none"/>
<path d="M14 11l0 1M46 50l1 0M39 24l-0 -1M24 55l0 1M38 59l0 -0M25 27l0 -0M16 87l0 0M34 43l0 -1M59 60l-0 1M28 12l0 0M45 23l1 -0M65 7l0 0M23 54l-1 -1M79 57l-0 0M43 29l0 0M64 20l0 -0M67 24l-1 0M39 67l-0 0M39 29l-0 1M78 53l1 1M60 11l-1 -0M79 30l0 0M-0 67l0 0M35 29l-0 -0M34 84l1 -1M26 22l-1 -0M45 31l0 0M44 45l-0 -1M66 47l-1 -1M31 3l1 -0M79 56l-0 -0M67 54l0 0M-0 5l0 -0M29 45l0 1M3 77l1 0M68 31l-0 -0M12 24l-1 -0M10 22l-0 -1M50 2l-0 -1M7 35l-0 -0M45 68l1 0M14 18l-0 -0M46 69l-1 0M71 44l-0 0M44 64l1 -0M55 10l0 0M56 35l0 1M81 25l0 0M33 46l-0 -1M48 19l-0 0M15 16l0 0M7 71l-1 0M78 79l-0 0M3 35l-0 -0M65 90l0 -0M83 39l0 -0M8 79l0 -1M27 87l-0 0M8 21l-0 -0M80 35l0 0M67 73l-1 -0M76 3l1 1M33 51l-0 -1M57 62l-0 1M77 10l0 -0M33 10l0 -0M9 87l0 -0M41 59l-1 0M34 88l1 0M82 35l-0 0M79 10l-0 -0M55 57l0 1M21 27l1 -0M38 84l0 1M35 24l0 -1M16 50l-0 0M34 80l-1 0M32 42l0 -0M83 17l-0 -0M43 39l-0 1" stroke="#4c5096" stroke-width="1.8" stroke-linecap="round" fill="none"/>
<path d="M11 87l1 0M87 17l0 0M36 39l-0 -0M60 67l-0 -1M8 61l0 -0M86 52l-0 0M30 20l-1 -0M21 45l-1 -0M70 80l-1 0M18 82l1 -0M86 49l1 -1M23 21l-0 1M-2 47l-0 -0M6 52l-0 -0M7 82l0 0M32 44l0 -0M70 33l0 1M5 77l1 -0M8 38l-1 0M27 55l-0 -0M78 59l-1 -1M30 70l-0 0M40 68l-0 -1M36 19l0 0M85 50l-1 -0M21 78l-0 -0M65 55l0 -0M91 11l0 -0M33 74l0 -0M75 30l0 -0M22 47l0 -0M12 59l-0 -0M10 43l-0 1M56 76l-1 0M54 67l-1 -0M89 39l0 0M20 53l-1 -0M80 4l-0 -0M42 26l-0 -0M79 9l-0 0M31 22l-0 -0M18 49l-0 0M70 51l0 -0M87 37l-0 -0M19 45l0 1M65 56l0 -1M36 49l0 -0M64 47l-0 0M76 62l-0 -1M31 31l0 0M61 70l0 0M4 79l-1 -0M80 47l-1 0M69 51l-1 0M39 51l1 1M19 51l-0 -0M83 40l0 -0M75 38l-0 0M84 68l-0 0M-0 55l0 0M43 24l0 -0M-1 57l-0 -1M34 64l-0 -0M79 48l0 -0M54 79l1 -1M49 34l-1 -0M75 52l0 0M63 76l0 -1M11 45l-1 -1M16 30l-1 1M22 60l-0 0M88 56l-0 0" stroke="#7a6252" stroke-width="2.2" stroke-linecap="round" fill="none"/>
<path d="M2 70l-0 -1M38 40l0 -1M65 -1l-0 1M48 23l0 1M79 26l0 -0M23 53l0 -1M22 37l-1 0M15 25l-0 -0M43 64l-1 -0M4 60l0 0M7 31l1 -0M23 83l-0 0M24 81l-1 0M6 58l-0 0M37 56l0 0M9 50l-0 0M38 33l-0 -0M69 13l0 -0M80 33l0 1M78 29l-0 1M10 18l0 -0M58 17l-1 -0M22 15l-0 0M28 27l-0 -0M62 79l0 -1M42 52l-1 0M50 3l0 0M23 48l-0 0M19 64l-0 0M17 45l0 0M38 58l-1 1M5 24l0 -0M27 77l0 0M32 54l-0 -1M34 77l-0 0M70 78l1 0M44 -2l-1 0M66 36l-0 -0M26 33l1 0M39 52l-0 -0M4 33l-0 -0M33 39l1 0M60 70l-1 -0M54 63l-0 -0M43 52l0 0M37 71l0 -1M35 34l0 -0M1 24l0 -1M15 76l0 -1M15 39l0 -1M18 29l0 -0M79 20l0 0M11 28l-1 -1M20 73l0 1M67 65l0 -0M28 37l0 1M48 82l-0 -0M25 32l1 0M70 75l0 -0M34 68l-0 -0M8 31l-0 -0M31 80l-0 -0M41 64l1 0M22 77l0 -0M62 1l-0 -1M53 -2l-0 0M66 69l0 0M18 21l-0 -1M25 60l1 1M2 68l0 -0M60 2l0 -1M9 63l-1 0M32 56l-0 -1M62 65l-0 0M71 81l-1 0M46 43l-0 -0M86 35l0 1M34 54l-0 -0M67 73l0 -0M25 39l1 -1M69 13l0 0M35 36l-0 -1M-2 28l-1 0M44 44l-0 0M67 15l0 0" stroke="#634836" stroke-width="2.1" stroke-linecap="round" fill="none"/>
<path d="M4 33l-1 0M92 17l-1 0M8 33l-0 -1M33 76l0 -0M82 61l1 -0M10 23l-0 0M73 49l-0 0M84 3l-1 -0M74 9l0 -0M37 14l-0 -0M9 51l-0 0M1 47l0 0M83 16l-1 -0M-2 26l0 -0M9 49l-0 -0M81 44l0 -1M29 74l1 -0M8 27l-0 -1M26 64l0 -0M8 31l-1 -0M55 1l1 -0M86 10l-0 1M2 7l0 -1M1 40l-0 0M40 8l-1 0M72 77l-0 -0M89 25l-0 -0M36 76l-1 1M1 2l1 -0M75 12l1 -0M3 33l0 0M23 86l-1 0M86 7l-0 0M-1 54l1 -0M75 44l0 -0M69 45l-0 1M64 79l-0 0M9 24l-0 -0M10 28l0 -1M91 7l0 1M32 74l-0 -1M23 5l0 -0M11 41l-1 -0M48 11l0 -0M83 -0l-0 -0M90 13l1 -0M69 70l-0 -1M72 52l0 -0M53 7l-0 0M52 12l-0 -0M67 57l-0 0M5 41l-0 0M73 67l-1 -0M70 60l0 1M68 62l-0 -0M43 13l0 -0M60 71l0 -0M57 13l-0 -0" stroke="#4e3426" stroke-width="2.0" stroke-linecap="round" fill="none"/>
</g></svg>
<rect x="393.0" y="859.9" width="20.3" height="3.0" fill="#000"/>
<svg x="474.8" y="782.0" width="87.8" height="89.8" viewBox="0 0 87.8 89.8" overflow="hidden">
<rect width="87.8" height="89.8" fill="#bfbbc6"/><g filter="url(#hb)">
<path d="M77 16l1 1M12 45l-2 1M44 46l-1 2M51 37l1 1M24 27l2 -0M69 65l2 -0M56 -0l0 -2M29 48l-3 -0M25 44l2 -2M62 42l-0 -0M86 39l-1 0M84 9l-2 -1M80 90l1 0M29 60l0 1M29 80l-0 -0M60 72l1 -2M12 62l2 -1M26 13l1 -1M7 58l-1 1M16 55l-0 -0M68 35l-0 0M0 27l1 0M38 61l2 2M41 0l-3 1M6 6l-1 -0M51 9l1 2M29 68l-0 -0M77 29l1 -0M54 62l0 -0M36 3l-1 0M11 50l0 -1M70 20l0 -3M22 15l0 0M5 35l-2 -3M6 12l-1 1M11 12l1 -0M87 36l1 0M52 12l-0 -0M57 29l-0 -0M38 75l1 1M56 50l-3 0M20 20l1 0M53 23l1 0M24 1l1 -0M46 29l1 3M47 80l-1 -3M45 61l-1 -1M27 11l2 -1M31 42l-1 -1M6 84l-0 0M23 89l-2 1M46 19l-2 -2M0 28l-2 2M21 49l2 -2M9 59l-2 -1M78 67l0 -3M66 2l0 -1M-1 32l0 -0M27 77l-1 -0M23 85l-1 1M11 7l2 1M6 27l-0 -2M69 -0l1 0M37 74l-0 1M49 67l-2 -0M50 64l2 -1M85 13l0 -1M41 89l-3 1M43 6l-1 2M31 13l-3 2M59 39l0 -0M46 0l2 -1M46 65l-0 -3M84 89l3 -0M44 6l-0 3M1 73l0 -0M-0 4l-3 1M43 20l2 1M66 38l-1 -1M49 68l-1 2M85 41l-0 1M70 89l-1 1M44 2l0 1M38 8l0 2M77 47l1 0M12 52l1 1M51 42l-0 -1M50 28l-0 0M89 52l-1 -1M63 57l-1 -1M37 64l0 -1M9 85l2 1M64 80l-3 -0M40 43l-2 2M55 91l-2 -1M38 21l-1 1M78 16l-0 0M70 60l-1 0M28 60l1 2M45 42l1 -2M3 90l-2 -0M63 31l-1 2M84 36l-1 -1M55 39l0 0M88 62l-1 2M81 44l-1 2M18 39l-2 1M2 66l-1 -3M72 69l1 -0M41 16l1 1M4 29l0 -2M68 84l-1 -2M21 71l-2 0M48 43l-1 1M55 63l-2 -2M39 12l2 -1M26 30l-2 2M9 25l0 0M24 30l0 2M28 41l-1 -2M84 11l-2 -0M73 8l-3 1M17 68l1 -0M67 2l0 0M73 59l0 0M83 -0l3 0M24 19l0 -0M41 30l-1 -0M42 45l0 1M37 19l1 -0M34 50l-1 1M13 8l0 3M42 63l-0 0M48 48l0 1M26 50l1 0M27 16l-1 0M25 31l1 -3M23 31l-0 -0M61 19l2 1M53 49l-2 -2" stroke="#dcdbe8" stroke-width="1.6" stroke-linecap="round" fill="none"/>
<path d="M69 31l0 1M46 88l2 0M31 12l2 0M28 45l-3 -0M62 62l0 2M85 4l-1 0M57 24l-0 -0M59 85l1 -1M66 1l1 3M26 65l-1 1M65 11l0 -1M51 33l-1 1M4 84l-1 -1M42 39l-1 0M41 35l-0 -2M86 77l-2 -0M73 23l0 -0M19 46l1 -1M84 2l1 -2M68 80l-2 -2M69 51l-0 -0M51 75l3 -1M72 9l-0 1M68 24l-0 1M16 47l0 2M73 89l3 -0M24 64l1 -1M47 43l-1 0M15 73l-1 0M58 55l-0 -0M43 41l0 1M15 15l-0 0M59 27l0 -0M86 64l1 -1M1 25l2 -1M15 29l0 -0M64 85l-0 1M78 53l-1 0M5 17l0 1M12 53l0 0M62 89l0 -1M22 55l1 -1M27 88l2 -0M85 76l1 3M81 26l-0 -1M86 53l1 -1M33 15l-2 -0M37 60l-1 -0M72 80l-0 -0M52 16l-1 1M24 16l1 1M79 65l0 -3M20 59l1 -0M75 40l1 2M62 63l-1 -1M2 36l3 -0M6 80l1 -0M17 43l0 0M74 62l-1 -2M52 10l1 -0M62 13l0 -0M9 46l-0 -0M17 67l-0 -0M7 38l1 -2M29 66l-2 -1M76 39l-2 1M11 23l1 -1M21 66l-0 2M21 79l1 1M26 28l-0 -2M16 61l0 -1M58 3l-1 -2M87 84l-1 -1M73 6l2 2M60 55l0 3M15 28l2 1M1 82l0 -1M20 62l1 -2M58 22l1 2M35 38l0 -1M39 16l0 -1M15 21l2 0M63 26l2 1M15 83l0 0M14 32l-1 2M86 61l2 -1M54 69l-1 -1M22 6l0 -0M13 86l1 1M57 16l3 0M78 37l-0 0M9 85l-0 0M39 39l-1 -2M10 46l-0 -0M13 56l-1 -0M41 15l1 -1M10 44l0 -0M62 83l-0 -1M33 47l-0 -0M46 26l1 2M44 2l1 1M38 20l0 0M6 34l-2 -0M35 7l0 -0M61 25l-1 -1M38 66l-2 1M17 51l-1 -0M48 84l-0 -0M51 41l-1 2M70 73l-2 2M9 9l1 3M38 34l0 -0M85 -0l-0 1M88 7l2 0M48 5l-3 0M40 68l0 -0M32 21l0 -2M54 83l-1 1M75 14l1 -1M58 64l0 -0M38 87l0 -0M75 39l0 0M20 37l1 -3M61 59l-3 1M69 20l-0 -0M23 6l0 -0M21 13l-1 -0M47 44l0 0M62 41l-1 -1M50 52l2 1M49 80l3 -0M7 47l-0 -1M51 27l0 1M0 75l1 -0M54 32l-3 -0M53 32l-1 1M72 84l0 -0M53 44l3 0M45 58l0 1M54 52l1 0M11 31l0 -0M73 22l-0 3M11 87l0 1M34 41l0 -0M33 45l-2 2M71 79l-2 1M61 85l1 0M9 66l0 -0M83 64l1 -0M-0 13l-0 2M34 22l-0 -3M57 66l-3 1M1 71l-0 0M34 5l-3 1M20 90l3 -1M61 11l-2 1M-1 81l-2 1M37 65l1 -2M1 90l-0 0M52 24l2 0M27 49l-0 -0M80 29l-2 -0M45 14l-0 0M53 68l-1 -0M14 67l1 2M88 34l2 2M13 83l-2 1M80 15l-0 -0M21 4l2 0M48 88l0 1M9 66l1 2M17 60l2 0M66 30l-1 -1M22 90l1 -1M40 66l2 2M43 41l0 -1M18 20l-1 2M70 66l0 0M54 75l-2 -1M29 52l1 -1M7 21l-2 -1M35 85l-2 -1M60 54l2 -1M73 49l-0 2M88 10l-1 -1M4 35l0 1M-1 34l0 0M83 17l-2 2M81 32l-0 -0M3 77l1 1M1 29l3 -0M58 80l2 -2M64 12l0 1M87 81l-1 2M80 68l2 2M34 78l1 -2M32 77l-0 -1M52 37l-1 -2M38 64l1 -0M55 54l2 1" stroke="#a8a4b4" stroke-width="1.6" stroke-linecap="round" fill="none"/>
<path d="M2 32l-0 -1M54 78l1 -1M33 52l-0 1M-0 30l1 -2M24 31l1 0M13 19l0 -1M41 13l0 2M68 21l-0 0M60 34l2 0M52 33l-1 1M61 45l2 -1M5 82l1 0M12 3l1 1M46 9l1 1M67 47l-0 -1M75 87l0 -1M46 7l-1 0M18 57l1 -1M20 86l-0 2M-1 19l-1 -0M13 75l-0 -0M64 40l0 0M81 32l0 -2M64 38l1 -0M58 61l-0 1M66 87l1 0M70 82l-1 -1M4 48l-1 -0M4 87l0 -0M3 35l0 -1M51 44l-1 1M33 17l0 -1M63 88l0 -0M58 44l-2 -1M63 70l-0 1M29 25l-1 0M12 2l2 1M68 12l-2 -0M48 84l-0 0M32 23l1 -1M66 50l-0 -0M76 85l-1 -2M62 1l-1 -0M2 32l0 -0M-1 75l-0 1M26 69l-2 -0M31 9l0 -1M6 6l1 -2M15 -1l-0 1M35 45l-0 -0M76 43l-1 -1M69 50l0 0M33 73l-1 1M14 71l-1 1M61 52l-2 -0M66 8l0 -2M86 64l-0 1M75 23l-0 -0M0 74l1 -0M12 3l-0 -1M34 11l-0 -1M23 44l2 -1M54 19l0 0M21 59l-2 1M21 49l0 -0M27 85l1 -0M87 33l1 0M56 27l-0 -2M23 39l-1 1M82 90l-0 1M73 87l-0 1M37 38l-2 0M6 17l-1 0M10 34l-2 -1M20 87l0 1M19 42l0 1M68 32l-0 1M69 87l-1 -1M26 91l0 0M43 10l-1 1M42 69l-0 -1M45 67l0 -0M57 10l-0 1M52 68l-0 1M14 75l0 -0M61 34l-1 0M87 67l0 1M43 4l-0 0M64 75l-1 0M64 49l-1 -0M85 64l1 -1M2 1l-1 0M84 80l-1 0M62 75l-0 0M76 36l2 -0M1 34l0 -0M65 7l-0 1M41 77l-0 -0M3 88l-0 -0M70 1l2 -0M77 53l-1 -1M16 50l1 -1M1 66l-2 1M10 57l0 -0M48 65l0 1M79 69l0 0M42 30l-0 1M81 69l0 0M26 24l-0 -0M41 61l0 0M8 30l-1 -2M36 1l1 1M3 40l0 0M5 2l0 -0M28 9l-1 1M76 47l1 -1M3 49l0 -0M34 67l-1 -1M60 62l0 -0M27 36l-0 -0M12 87l0 -1M40 89l-1 -0M81 17l1 1M24 64l1 0M83 27l0 -0M74 45l-1 -1M28 55l-1 -0M60 37l0 2M75 27l-0 -0M27 70l-1 0M73 75l-0 -2M30 3l-1 -0M20 76l-1 1M88 5l0 0M75 60l-2 0M60 14l-1 1M71 15l-1 -0M4 90l2 -1M49 17l1 -2M5 56l1 -1M77 1l0 -2M72 3l0 -1M21 49l-0 -1M67 66l-1 1M2 43l0 0M30 64l-0 -1M21 74l1 0M85 74l0 -0M29 8l1 -0M15 80l1 1M6 37l-1 -0M54 67l-0 -0M49 75l-0 0M58 88l2 1M5 51l-0 -1M58 46l1 0M66 76l-1 1M30 62l0 -0M11 21l-0 0M4 16l0 2M45 9l2 0M4 77l-0 -0M75 70l0 -0M11 25l1 -0M84 72l0 -2M4 63l-1 -0M40 8l-0 -1M38 13l-1 2M84 90l-1 2M44 9l-1 0M74 2l-1 -2M43 34l-0 -1M14 88l0 1M48 26l-1 1M50 81l0 0M68 31l-1 1M14 27l-0 -0M21 18l1 0M6 16l1 0M12 48l1 0M17 72l0 -0M6 26l-0 1M29 71l-1 0M32 47l0 1M64 36l1 1M57 82l-1 1M54 52l-0 -1M66 5l2 -1M64 0l-1 1M84 4l0 -0M30 46l-1 -0M36 70l-2 -1M83 56l-1 -0M10 44l1 1M58 41l1 -0M82 49l1 0M18 9l-1 2M18 44l1 1M55 1l0 -0M6 46l-1 1M13 23l-1 1M2 43l1 1M67 90l-0 0M47 86l1 -1M67 12l0 -0M58 2l-0 1M19 7l-0 -0M25 7l-0 2M82 45l-1 -0M22 51l1 -1M47 64l-1 -0M32 60l-0 1M78 51l-0 -1M23 53l-2 0M30 13l-0 -2M24 40l-0 -0M13 80l-0 -1M15 51l-1 1M55 41l1 1M73 67l-0 0M76 20l-0 0M19 31l-0 1M4 31l0 2M36 31l0 -0M20 47l-0 -0M32 60l1 -0M57 46l-1 -1M42 26l-0 -0M30 81l1 -0M23 0l-0 1M15 1l0 -0M18 31l-1 0M70 48l-1 2M19 65l-1 1M75 0l-1 -1M12 24l-0 -0M49 39l-0 -1M6 52l1 0M16 80l-0 -0M69 43l1 -2M67 1l0 -0M56 3l-0 -1M39 33l-1 2M84 53l-1 -0M59 32l0 0M52 17l1 -1M36 3l-0 -0M15 75l-1 1M75 56l1 -0M47 39l0 2M31 86l2 -0M48 18l-0 0M4 79l-0 0M2 34l0 0M24 46l-0 -1M86 28l0 -0M28 17l-0 -2M63 60l0 -1M23 19l1 -1M61 73l-0 1M8 73l0 1M1 29l0 0M35 10l-0 1M66 88l-0 -0M24 62l1 1M33 9l-1 2M55 11l0 0M60 47l1 -2M13 44l-0 -0M88 88l0 1M8 56l-0 2M72 17l0 1M85 74l-1 -1M28 5l-0 0M58 64l-0 1M64 60l1 1M60 25l1 1M3 83l0 -1M60 14l0 -0M27 80l0 -0" stroke="#6266a6" stroke-width="2.0" stroke-linecap="round" fill="none"/>
<path d="M62 28l1 -1M14 81l1 -0M9 64l0 -0M41 0l-0 0M80 78l1 0M63 43l-0 1M51 79l0 -0M48 46l-0 -0M9 41l0 0M14 29l-1 1M63 5l-1 -0M16 55l-0 -0M41 31l-0 -0M74 32l-0 -1M61 20l-0 -0M88 49l-0 1M15 2l-0 1M53 15l-0 0M38 45l-0 0M44 16l-0 1M73 47l-0 0M68 77l-0 1M49 64l-0 1M36 24l-0 0M50 72l-0 -0M79 33l-1 1M62 1l-1 0M25 0l-0 0M46 47l-0 0M75 25l-1 0M46 48l-0 0M52 44l-0 -0M21 49l-0 1M85 40l0 0M22 51l-1 0M62 18l-0 -0M22 85l-0 -0M65 78l-1 -1M2 6l-0 0M36 42l-0 0M83 6l0 1M36 25l0 -0M32 60l0 -0M37 90l0 0M88 50l-0 -1M89 60l-1 1M4 2l-0 0M27 53l0 -0M75 20l-0 0M78 32l-1 -1M20 59l0 1M29 12l-0 0M87 56l1 -0M13 0l-1 -0M48 12l0 0M75 77l0 0M20 29l-1 -1M78 51l0 1M43 63l0 -0M6 74l0 -1M54 76l0 0M1 9l0 -0M54 10l-1 -0M74 29l1 -0M14 42l-1 -0M71 20l-1 0M66 70l0 -0M19 48l-1 0M14 7l0 0M10 55l0 0M41 81l0 0M5 11l0 1M52 3l1 -0M13 10l-0 -1M58 45l-1 1M4 48l0 0M20 66l1 0M78 80l0 -1M8 54l0 1M64 17l-1 -0M40 43l-0 -1M29 30l1 -1M34 41l1 -0M44 0l0 -1M14 31l0 -0M70 81l0 0M61 54l0 0M56 84l0 -1M47 35l-0 0M87 85l-1 0M83 11l-0 1M57 38l1 -1M21 65l-0 1M0 22l0 -0M23 12l1 1M2 27l0 -0M49 62l-0 -0M80 21l0 -0M78 31l0 1M17 15l-1 1M74 -1l0 -1M25 19l-0 0M67 10l-0 0M80 43l1 0M34 66l0 0M14 24l-1 -1M51 56l1 -1M80 49l-1 1M8 22l0 0M29 0l0 0M30 82l-1 1M45 22l-1 -0M37 7l1 1M81 60l-1 -1M55 84l-0 -1M83 58l-0 -0M-1 73l-1 1M79 53l0 0M56 82l-0 -0M44 67l-0 0M72 72l0 0M32 11l1 -1M58 29l1 -0M46 69l-1 0M24 58l-1 1M18 19l-0 0M40 52l0 -0M68 60l-1 0M39 54l1 1M70 50l1 0M49 90l1 0M14 49l-0 1M32 76l-1 1M86 90l-1 -0M40 0l0 -0M33 64l-0 1M2 46l-0 1M6 43l1 1M33 65l1 -0M14 19l-0 -0M64 30l-1 -1M42 66l-0 0M25 77l-0 -0M11 63l-1 1M23 28l-0 -1M21 78l0 -0M24 78l0 -0M36 47l1 0M9 24l-1 1M36 8l0 -1M10 85l-1 -1M0 52l0 -0M88 85l-0 0M54 39l1 1M27 90l0 1M3 13l-1 1M45 54l0 -0M38 1l1 0M43 12l-0 -1M72 61l-0 1M5 63l-0 0M3 80l1 1M56 64l-0 -1M53 26l1 0M34 29l0 -1M72 45l-0 -1M59 40l0 1M4 8l-1 -0M64 18l1 0M66 19l0 0M52 49l1 0M78 46l0 1M3 30l-0 1M24 -1l0 -0M2 60l-0 0M62 76l-0 -0M2 80l-1 1M9 14l-1 0M1 52l-1 -0M77 72l-1 -1" stroke="#4c5096" stroke-width="1.8" stroke-linecap="round" fill="none"/>
<path d="M28 63l0 0M8 10l1 0M54 60l-1 -0M86 51l-1 0M57 67l0 0M51 56l-0 0M73 40l-0 0M33 81l-0 0M21 29l0 -0M21 87l0 1M29 56l0 -0M41 59l0 0M65 58l1 -0M52 54l-0 -0M61 64l-0 -0M59 58l-0 -0M23 45l0 -0M38 22l-0 -0M72 64l0 0M86 78l0 0M71 90l-0 -0M65 71l-0 0M13 56l-1 0M51 58l0 0M9 78l0 0M74 49l-0 0M20 38l-0 -0M13 74l-1 -0M12 45l0 1M41 19l-1 -0M69 70l0 -1M66 64l-0 -0M24 65l-0 -0M43 31l-0 1M64 72l-0 -0M26 85l0 0M7 82l-0 0M16 2l-0 -0M68 73l-0 -0M36 83l0 -0M19 45l0 0M52 75l-0 0M64 76l-0 0M70 43l0 0M40 2l-0 -0M30 42l-0 1M32 80l0 0M19 1l0 1M25 36l-0 0M20 73l0 -0M70 48l-0 0M17 62l-0 0M65 54l0 -0M57 2l1 0M17 71l-1 -0M90 89l-0 0M49 56l-0 -0M11 49l-1 -0M43 16l-0 0M63 89l-0 -0M56 67l0 -1M33 58l-0 -1M24 24l1 0M86 83l0 -0M27 79l0 -1M70 71l-1 0M15 77l0 0M56 45l-0 -1M12 65l-0 -0M53 45l0 -0M69 71l1 -0M58 62l-0 1M44 24l-0 -0M44 31l-0 -1M22 60l0 0M81 41l-1 -0M91 66l0 -0M69 42l-0 -0M56 66l-0 -0M17 89l0 0M63 54l0 0M61 54l0 0M10 59l0 0" stroke="#7a6252" stroke-width="2.5" stroke-linecap="round" fill="none"/>
<path d="M46 40l0 -0M4 84l0 0M8 72l-0 -0M22 72l0 -0M58 59l-1 0M17 54l-0 1M33 87l1 -0M34 81l0 1M53 47l0 -0M84 19l-0 -0M66 46l-0 1M-1 72l0 0M1 81l0 0M29 54l-0 -0M22 28l-0 1M7 90l-0 0M14 -1l-0 -1M83 87l-1 0M56 42l-0 -0M23 28l-0 -0M1 67l-1 0M31 29l0 -0M69 20l-0 -0M50 46l-0 -0M47 39l-0 -1M57 6l-1 0M64 55l-0 -0M78 84l-1 0M35 38l0 -0M42 50l-0 0M67 92l0 0M82 26l-0 -0M52 24l0 -0M16 79l0 -0M49 62l-0 0M10 25l0 -0M4 77l-0 0M83 15l0 -0M6 68l0 1M39 26l-0 -0M53 83l-0 0M44 40l-0 1M4 52l0 0M39 52l-0 0M47 42l0 0M64 63l0 -0M15 16l0 0M57 54l1 -0M84 83l-1 -0M37 48l0 -0M40 43l-0 0M10 32l0 0M36 39l-0 0M26 29l-0 -0M12 25l-0 0M3 63l-1 -0M21 37l0 0M2 54l0 0M36 25l-0 -0M60 46l-0 0M82 10l-0 -0M-2 91l0 -0M64 56l0 -0M61 39l0 1M31 69l-0 -0M25 28l-1 0M0 71l1 -0M64 25l-0 -0M3 1l-0 -0M44 25l-0 -0M59 62l0 -0M37 52l-0 0M17 76l0 -0M76 38l0 0M19 60l-0 -0M78 21l-1 0M76 67l-0 -0M47 64l-0 -0M76 7l0 -0M57 56l-0 0M1 67l-0 0M70 26l0 -0M-2 -1l-0 0M52 56l-0 0M17 71l0 0M3 85l0 -0M-1 83l-1 0M17 91l0 0M83 38l0 0M88 18l-0 -0M37 25l-0 -0M2 81l-0 0M34 44l-1 -0M-1 86l-0 -0M30 92l0 0M80 81l0 -0M57 56l0 -1M14 78l-0 -0M21 89l0 -0M75 78l-0 0M58 54l0 0M53 48l0 0M84 24l-0 -0M-1 89l0 0M7 70l0 -0M87 43l-1 0M51 87l-0 0M-1 91l0 -0M39 8l0 -0M74 80l-0 0M52 74l-0 0M56 31l0 -0M33 26l0 -0M42 42l0 -0M67 54l0 -0M74 71l-0 -1M80 29l-0 -0M32 47l-0 -0M84 27l0 0M58 45l-1 -0M13 65l0 0M69 18l-0 -0M67 40l-0 -0M62 47l0 0M28 30l0 0M12 92l-0 -0M13 36l-0 0M90 75l-1 -0M72 7l-0 1M15 66l0 -0M12 88l-0 0M62 74l-0 0M81 20l-0 -0M76 32l0 -0M85 81l-0 -0M54 38l0 -0M82 12l-0 -0M21 15l1 -0M32 20l1 -0M33 16l0 0M64 51l-0 -0M58 71l0 -0M54 70l-0 -0M-1 80l-0 0M10 29l-0 -0M30 13l-0 -0M17 85l-0 -1M56 42l-0 0M14 77l0 0M12 13l-0 -0M32 25l-0 0M63 25l0 0M8 27l0 -0M58 84l-0 0M31 32l-0 -0M56 58l-0 0M50 43l0 -0M36 52l0 -0M80 14l1 0M-0 80l0 0M52 63l0 0M76 54l-0 -0M70 83l1 -0M65 53l-1 0M34 38l-0 -1M61 48l0 -0" stroke="#634836" stroke-width="2.4" stroke-linecap="round" fill="none"/>
<path d="M5 53l-0 -0M54 87l0 0M33 72l0 -0M81 76l0 -0M63 75l-0 0M86 63l0 0M72 66l-0 -0M53 21l0 0M15 62l-0 0M27 58l-0 0M53 34l0 -0M47 61l0 -0M80 70l0 -1M49 76l0 -0M55 70l1 0M66 74l-0 -0M58 15l-0 0M11 69l0 0M47 60l0 0M68 76l1 -0M47 33l0 -0M70 91l-0 -1M6 62l-1 -0M34 74l0 0M57 25l-0 0M1 53l1 -0M12 61l-0 -0M85 69l-0 0M40 63l-0 -0M27 5l0 0M47 60l-1 -0M50 64l0 -0M85 40l-0 -0M89 66l-0 0M66 39l0 0M25 12l-0 0M62 78l-0 0M-1 44l-0 0M25 61l-0 0M60 80l-1 0M47 15l1 0M64 73l-0 -0M4 26l-0 -0M8 57l-1 -0M53 26l0 0M67 67l-0 0M42 52l-0 0M60 28l0 0M40 4l0 0M72 49l0 -0M63 42l0 -1M6 49l1 0M10 58l0 0M48 48l-0 -0M61 31l0 0M11 41l-0 0M13 17l-0 -0M80 78l0 0M76 47l0 -0M45 57l0 -0M11 61l0 0M45 78l0 0M60 90l0 -0M53 79l0 0M8 65l0 -0M60 35l-0 0M46 25l-0 0M72 81l-0 -0M34 11l0 -0M8 38l0 -0M63 72l0 0M39 33l-0 -0M42 60l-0 -0M70 79l0 0M40 56l-0 -0M49 49l0 -0M47 49l-0 -0M25 69l0 0M83 12l-0 -0M36 69l-0 0M59 32l0 -0M7 41l-0 0M9 23l-0 0M91 51l1 0M38 53l-1 0M57 32l0 0M81 42l-0 -0M29 28l1 0M80 40l-1 -0M23 84l-1 -0M68 43l-0 0M63 53l-0 0M67 48l0 -0M53 64l0 -0M10 5l-0 -0M13 59l-1 0M88 71l-0 -1M28 46l0 -0M38 56l-0 0M81 52l-0 -0M16 12l0 0M48 66l-0 -0M50 57l1 -0M49 86l-0 -0M32 64l0 0M1 62l-0 0M54 51l-0 0M77 12l-0 0M51 84l-0 -1M-2 18l-0 -0M7 39l-0 0M60 86l0 -0M75 18l0 -0M57 83l0 -1M47 60l-0 0M48 82l-0 0M49 30l-0 0M53 75l0 0M51 93l-0 -0M34 53l-0 -0M10 29l-0 -0M-1 44l0 -0M52 1l0 -0M66 89l0 -0M33 82l-0 -0M63 38l-0 -0M79 71l-0 0M44 64l-0 1M39 34l0 -0M43 81l-0 -0M65 43l0 -0M44 86l0 -0M16 11l0 0M7 1l0 -0M36 49l-0 0M46 21l1 0M20 16l-0 -0M-2 63l0 -0M20 1l-0 0M65 78l0 0M0 32l0 0M87 75l-0 -0" stroke="#4e3426" stroke-width="2.2" stroke-linecap="round" fill="none"/>
<path d="M67 36l1 -0M18 32l0 -0M80 16l1 -0M34 42l-0 1M9 66l0 -0M4 91l-0 1M4 34l0 0M3 26l0 -0M48 85l-1 -0M72 9l-1 -0M61 89l0 0M18 17l-0 0M4 30l-1 0M61 75l-0 -1M78 68l0 -0M84 83l0 0M36 54l0 -0M60 59l-0 -0M55 83l1 -0M70 84l-0 0M85 23l0 -0M32 65l0 -0M81 72l-0 0M37 52l0 0M58 42l0 1M38 66l0 0M13 60l-1 0M23 76l0 -0M88 63l-0 0M14 37l0 -0M54 85l-0 0M5 23l-1 -0M45 19l0 0M4 53l-0 0M32 26l0 0M25 8l-0 -0M79 47l-1 0M67 3l-0 1M88 30l0 -0M84 60l1 0M32 55l-0 -0M82 75l-0 0M64 23l-0 0M85 36l0 -0M40 57l0 1M26 62l-0 -1M17 54l-1 -0M21 16l0 -0M2 29l0 -1M81 54l-0 -0M81 25l0 1M25 8l-1 -0M33 43l0 -0M26 86l-0 1M41 51l1 -0M43 9l0 0M85 54l-1 -0M21 31l-0 1M66 17l-0 -1M68 58l0 0M50 79l1 0M21 16l0 1M2 29l0 -0M5 29l-0 1M31 26l-0 -0M41 38l-0 -0M16 75l0 0M84 78l-0 -1M18 89l0 -0M72 15l0 0" stroke="#3a261e" stroke-width="2.0" stroke-linecap="round" fill="none"/>
</g></svg>
<rect x="486.3" y="859.9" width="20.3" height="3.0" fill="#000"/>
<svg x="567.9" y="782.0" width="87.4" height="89.8" viewBox="0 0 87.4 89.8" overflow="hidden">
<rect width="87.4" height="89.8" fill="#bfb6ba"/><g filter="url(#hb)">
<path d="M58 40l-1 -1M45 50l-1 -0M84 23l-0 2M7 44l-1 1M-0 23l0 -1M25 12l-0 -0M28 6l-1 -2M3 70l-1 2M84 32l-0 -3M3 44l-1 1M35 76l0 0M87 0l-2 2M49 59l1 -1M33 9l-2 -0M56 11l-0 1M39 20l-1 2M19 54l0 -0M11 62l3 1M31 70l1 -1M41 61l2 -2M62 16l-2 1M56 90l2 2M0 2l-2 -1M24 12l0 -1M35 82l0 0M8 28l2 0M43 44l-0 0M49 81l1 2M85 72l-3 1M1 39l-1 1M62 4l-0 1M20 7l-0 -2M60 62l0 -0M87 76l-2 -1M21 77l1 -2M74 88l-0 0M63 21l0 0M63 13l1 -2M20 74l-0 -2M81 87l1 -2M35 71l-2 -2M84 67l-2 -1M67 76l2 -2M37 74l-0 0M1 20l-1 -1M42 4l2 -1M88 53l1 -1M51 61l-2 -1M17 71l-2 -2M16 14l1 0M34 26l1 0M49 6l0 -1M83 10l2 2M66 13l-2 -0M50 77l-3 -1M7 -1l0 0M58 12l-1 -1M41 78l-2 -0M41 37l-2 1M75 89l2 -1M43 86l-0 -0M3 38l-1 -3M26 50l0 2M27 38l-0 -0M57 10l-0 0M88 57l0 -0M50 64l-0 -2M70 88l-0 -1M14 46l-1 1M62 52l-1 2M25 51l-0 0M49 18l-0 -0M17 3l1 1M25 37l-2 -1M23 47l1 0M4 63l0 -0M34 37l0 1M18 15l-1 -1M43 18l-1 -2M18 14l0 1M34 31l2 0M68 20l-1 -2M88 84l-0 1M61 87l2 -1M28 67l1 -0M83 22l2 -1M28 37l-1 -1M9 60l2 1M87 66l-2 -2M37 56l-0 -0M20 87l-1 -0M58 25l-2 1M27 0l0 -0M19 58l-1 -0M79 32l-2 0M6 44l1 -1M25 64l2 1M79 27l-1 -0M17 35l-0 -0M31 35l-2 -1M69 57l3 0M1 55l-1 0M69 75l-1 -1M69 43l-1 1M1 46l-0 -0M64 47l1 -2M57 57l1 2M60 70l0 -0M0 32l-0 0M2 85l0 0M25 12l1 -1M72 -0l-2 -1M30 46l2 1M6 64l1 2M48 65l1 -1M31 -0l-0 -0M14 17l0 0M82 40l3 1M52 19l-2 0M54 26l-0 0M2 6l-0 0M38 44l-1 -0M51 48l0 1M5 2l1 1M42 36l2 -0M74 61l-0 0M85 16l-1 2M75 87l-0 -0M60 21l-1 0M1 19l-0 -0M55 82l-1 -0M60 17l1 2M83 82l1 -2M44 40l-1 1M87 57l1 0M48 68l-1 -2M55 75l-1 -2M56 32l-1 -2M1 12l-2 -1M25 13l-2 -1M51 70l-2 -0M69 10l-0 1M48 43l2 -1M9 65l0 -1M62 57l-1 -1M-1 35l2 1M66 45l-2 -1M30 59l0 2M30 46l1 -2M1 0l2 -1M21 69l-0 -0M43 51l-0 1M17 14l1 -1M19 62l-0 0M46 30l-1 -1M28 22l1 -2M7 72l-3 1M51 45l-1 0M25 58l2 -1M82 17l-2 1" stroke="#dcdbe8" stroke-width="1.5" stroke-linecap="round" fill="none"/>
<path d="M77 32l0 -1M35 51l1 -1M52 9l0 -1M18 70l2 2M16 5l-0 -1M34 84l1 0M45 75l-1 -1M54 54l0 -0M21 82l1 -1M33 28l-1 0M27 89l-0 0M24 59l0 0M86 4l2 -1M31 45l1 -0M35 79l-0 0M47 42l1 -1M55 6l-1 0M56 28l-2 1M36 89l0 -0M49 25l1 -1M88 67l-1 1M46 17l1 -1M53 51l-1 0M64 62l2 0M74 58l1 -2M0 36l0 -1M35 24l-1 0M67 30l1 2M67 16l0 1M83 67l0 -0M47 38l2 -1M83 61l-0 2M33 26l-1 -0M64 43l0 -0M72 75l2 -1M45 51l0 -2M29 42l3 1M48 46l-0 0M69 83l0 0M15 74l0 -1M54 75l0 -2M50 70l2 -1M77 44l1 -1M19 33l-3 0M61 50l2 0M41 63l-1 1M61 11l2 -0M45 18l-2 0M40 17l1 -2M67 2l-0 -0M70 21l-1 -0M14 68l-1 -0M47 13l2 -0M61 51l1 -1M44 75l-0 0M57 72l-2 -1M1 51l0 -0M81 35l1 -0M6 52l-0 1M78 39l1 2M50 47l-1 2M73 36l-0 -1M55 55l-1 2M33 68l-1 2M13 26l0 1M21 85l-0 -0M69 77l-1 0M75 12l2 1M45 74l-0 -1M27 76l0 -0M80 7l1 -1M62 55l-0 0M71 34l-3 -0M38 13l0 -0M41 85l-0 -1M82 46l2 -0M39 45l0 -0M-1 4l-2 1M50 67l-0 -1M65 11l-1 1M41 54l0 1M28 75l2 -0M11 21l2 -1M21 26l2 1M15 35l-1 2M53 73l-2 -2M60 15l-2 -0M45 78l-0 -0M27 26l1 -1M69 89l0 -2M77 18l-1 -0M16 21l-0 0M11 73l-0 -0M39 7l-0 0M56 88l0 -2M23 45l-1 1M4 33l-1 -1M24 9l-1 1M12 60l0 3M27 23l1 -0M48 85l1 -1M12 32l0 -1M16 7l1 1M63 79l-1 0M75 65l0 0M34 10l1 0M77 77l0 0M73 77l-0 0M64 90l1 3M74 12l-1 1M7 31l-1 -1M8 80l-3 0M45 56l0 2M41 74l0 0M72 81l-0 -0M42 86l2 -0M50 82l2 -1M66 17l0 -0M88 58l1 -2M61 7l0 0M0 82l-1 1M3 15l1 -2M74 72l-0 1M66 80l1 1M20 30l2 1M54 40l-2 0M30 3l-0 0M84 57l1 -1M62 40l-2 1M80 33l1 0M72 59l0 -0M78 60l-1 -2M77 58l1 -0M49 62l-3 0M33 86l1 0M72 56l1 0M74 36l-0 0M10 65l-1 0M55 25l1 1M51 -0l1 1M42 58l-0 2M52 27l0 0M62 38l-0 0M73 90l0 -0M55 48l-0 -2M65 64l0 0M61 49l-0 1M50 20l0 1M48 25l-2 -1M69 12l0 -1M86 38l1 -1M15 20l-2 -1M80 73l-0 0M42 16l-0 -1M70 77l-2 -2M12 82l1 -2M1 79l1 -1M10 16l-0 1M74 46l-1 -0M77 58l-2 -0" stroke="#a8a4b4" stroke-width="1.6" stroke-linecap="round" fill="none"/>
<path d="M67 48l1 -0M22 83l1 0M18 3l-0 0M50 59l-1 0M87 50l-1 1M17 32l-1 -1M62 13l-0 0M-1 84l-1 -1M68 3l-0 -1M75 25l-1 1M59 35l1 1M47 24l0 -1M15 41l-0 -0M10 56l0 -0M38 50l-0 -1M69 56l-1 1M54 20l-1 1M26 10l-1 -0M67 63l0 0M20 78l-0 0M12 -0l1 -0M15 83l-0 -1M66 87l0 -0M8 31l-0 -0M29 37l-0 -0M16 54l0 1M34 87l1 0M76 40l0 0M22 83l-1 1M74 13l0 1M65 88l-1 1M8 82l1 0M28 50l0 -0M71 20l0 0M61 24l0 0M-0 19l0 -1M5 24l1 -1M38 63l0 0M55 44l0 -0M74 66l0 -1M86 82l-0 -1M12 65l0 0M0 50l0 0M67 80l-0 -0M59 10l1 -1M73 69l0 0M44 64l0 -0M34 7l0 -1M87 7l0 -1M33 88l-0 -1M56 79l-1 -1M75 38l1 1M23 36l-0 -0M3 30l-0 -0M67 74l-1 -0M82 41l1 1M2 45l0 1M76 61l-1 -1M57 30l-0 -0M38 83l-1 1M40 81l-0 1M51 80l0 0M25 50l-1 0M57 20l0 -0M55 81l-0 -1M60 62l0 -1M80 20l1 -0M77 68l0 0M14 85l-1 -1M11 10l1 -1M24 48l-0 -1M19 31l0 -0M27 18l1 -1M6 26l0 -0M44 34l0 -0M44 25l-0 -0M1 13l-0 0M78 72l0 0M9 35l0 0M24 50l-0 0M82 47l0 0M40 41l0 -1M27 42l0 -0M37 39l-0 0M77 25l1 -0M74 12l1 1M45 50l0 0M0 42l-0 -1M44 80l1 -0M20 25l-0 0M76 49l0 -0M20 54l1 1M86 7l0 1M39 3l-1 0M53 86l1 0M26 47l0 -0M5 13l-0 -0M20 73l-1 -0M42 65l-1 0M84 26l1 0M27 6l1 0M51 53l-1 -0M64 35l0 -0M86 52l1 0M43 62l1 0M56 82l-0 0M83 36l-0 0M3 85l-1 -1M62 10l-0 -1M4 46l1 1M74 88l-1 -1M38 18l-0 -0M61 66l1 0M6 63l-0 1M8 89l0 -0M82 89l-1 -1M81 71l0 0M25 73l-0 0M49 12l-0 -1M87 77l-0 -0" stroke="#6266a6" stroke-width="2.0" stroke-linecap="round" fill="none"/>
<path d="M85 67l-0 -1M1 55l0 1M75 30l0 -1M11 67l-1 -0M60 1l-1 0M47 21l0 -0M42 29l0 1M73 24l0 0M50 65l-0 -1M48 43l0 1M66 26l0 -0M76 70l1 -0M26 9l0 0M51 18l0 1M17 70l-0 -0M35 15l-0 0M63 54l0 -0M72 57l-0 -0M32 77l-0 -1M46 43l-0 -0M83 16l0 -0M55 64l0 -0M28 69l0 1M81 50l0 0M51 27l0 0M62 83l-0 0M36 -0l0 0M50 12l0 -0M77 64l-0 -0M80 29l-0 1M53 66l-0 0M61 22l-0 -0M29 85l0 0M62 3l-0 -0M39 52l0 -1M27 7l0 1M3 64l1 -0M8 39l1 -0M36 12l-0 0M67 68l-0 1M79 11l-1 0M1 22l-0 1M83 28l0 1M61 27l-1 0M62 88l0 -1M22 84l0 -1M82 47l0 1M25 17l-0 0M36 51l-0 1M55 21l-0 0M40 82l0 0M42 3l-0 0M65 54l0 -0M8 17l-0 0M24 47l0 -0M85 2l-0 -0M15 31l0 0M28 91l0 -0M22 52l-0 -1M29 29l0 -0M32 66l-0 0M87 82l-0 1M45 15l-0 0M85 47l-0 0M15 45l0 -0M71 14l0 0M55 42l0 -0M60 75l0 0M65 71l0 -0M78 12l0 0M12 52l-1 -0M53 57l0 -0M16 82l0 -0M65 40l-1 0M40 65l0 -0M83 33l-0 0M67 70l-0 -0M60 20l-0 -0M75 80l-0 -0M31 56l0 -0M56 85l-0 0M44 88l0 0M11 81l-1 0M62 74l0 -0M84 50l1 0M11 88l0 -0M48 66l0 -0M29 20l0 0M17 30l0 0M34 68l0 -0M15 70l-0 -0M77 87l-1 -0M7 68l0 -0M51 83l-0 0M8 28l-0 0M5 6l-0 -1M76 49l0 0M36 79l-0 0M62 85l-0 -0M88 51l0 0M53 35l0 0M80 86l-0 0M54 3l-0 0M1 15l-0 0M46 73l-1 -0M53 13l-0 0M72 21l-0 0M7 48l-1 -0M64 63l-0 0M35 51l0 -0M69 23l0 -0M68 30l1 -0M49 39l-1 0M47 41l-0 0M80 23l0 0M19 35l-0 -0M65 35l-0 -1M76 4l-0 -0M6 61l0 0M88 10l0 -0" stroke="#7a6252" stroke-width="2.3" stroke-linecap="round" fill="none"/>
<path d="M18 35l0 -0M50 19l0 -0M14 18l0 -0M67 76l-0 0M43 24l0 -0M57 79l0 0M19 10l0 0M13 55l0 0M68 49l0 0M75 29l0 -0M79 30l0 1M73 73l-0 0M23 40l0 -0M42 7l0 0M86 37l-0 -0M50 34l-1 1M76 16l-0 -0M11 60l-0 -0M24 4l0 0M8 -1l1 0M85 16l-0 -0M28 50l0 -0M16 33l0 1M76 83l-0 0M24 63l-0 -0M48 19l-0 0M34 -0l-0 -0M35 60l-0 -0M55 73l-0 -0M14 45l-1 -0M83 30l0 -0M49 43l-0 -0M87 31l-1 -0M38 11l0 0M32 15l-0 -1M81 53l0 -0M21 40l0 1M19 79l-0 -0M1 49l0 -0M73 2l0 -0M16 80l-1 -0M23 70l-0 0M33 65l0 1M11 31l0 -0M56 63l0 -0M9 69l-0 -0M54 45l0 0M8 87l0 0M4 43l0 -0M47 38l-0 -0M83 57l-0 0M57 75l0 -0M4 86l0 0M1 11l-1 -0M24 52l0 -0M22 41l0 0M8 59l1 0M87 43l0 -0M32 17l0 -0M87 51l-0 0M16 62l-0 0M63 26l-0 -0M5 44l0 1M12 26l-1 0M37 3l-0 -0M66 29l-1 -0M44 39l0 0M50 58l0 -1M72 50l-0 1M85 21l-0 0M70 23l0 0M45 62l0 0M22 26l-0 -0M61 78l-0 -0M11 43l0 -0M84 47l0 -1M67 31l-0 0M61 30l0 0M65 37l0 -0M41 28l0 -0M80 57l-0 0M44 5l-0 -0M19 27l-0 0M8 73l0 0M85 3l0 -0M12 33l0 0M41 11l-0 -0M86 9l-1 0M16 14l0 -0M86 83l0 -0M26 10l0 1M62 75l0 -0M15 81l0 1M28 44l-1 -0M75 20l0 1M39 46l0 -0M84 85l0 0M31 82l1 -0M80 2l-1 0M28 16l0 0M70 77l0 -0M77 54l-0 0M6 81l0 1M71 46l0 -0M82 32l0 0M50 40l0 0M65 30l0 -0M43 56l1 0M10 40l-0 0M13 13l0 0M34 68l1 -0M76 8l-0 0M72 58l-0 0M37 73l-0 0M87 57l0 0M69 78l-0 0M55 35l0 -0M30 42l-0 -1M10 88l0 -0M50 8l0 -0M62 34l0 0M17 70l0 0M5 69l0 0M37 70l0 -1M65 18l-0 -0M17 88l0 -1M55 -0l0 -0M41 18l0 0M9 49l0 -0M73 62l-0 -0M76 67l0 -0M3 -1l0 -0M13 18l0 0M49 3l0 -0M17 13l-0 -0M63 11l0 -0M40 88l-0 -0M38 55l-0 1M79 75l-0 0M38 19l0 -0M39 70l0 -0M-0 19l0 0M18 59l-1 -1M62 52l-0 -0M87 16l-0 -1M46 14l-0 -0M16 75l-0 -0M36 41l-1 -0M81 37l-0 0M38 56l-0 -1M72 42l-0 -1M38 86l-1 0M49 32l0 0M10 14l1 0M24 33l-0 0M88 72l-0 0M36 19l-0 0M32 43l0 -0M53 36l1 -0M59 32l0 -0M6 23l-1 0M74 14l0 0M45 30l0 0M18 39l-0 0M84 63l0 0M39 76l-0 -0M51 48l0 -0M11 11l0 0M56 77l-0 0M50 64l-0 0M19 20l0 0M7 32l1 -0M27 70l-0 -1M79 85l0 -0M30 32l-0 1M79 81l0 -0M61 5l1 -0M19 88l1 0M27 33l0 0M-0 38l0 -0M49 17l0 0M-0 1l0 -0M73 66l-0 0M28 15l-0 -0M84 57l-0 0M65 56l-0 0M26 72l-0 0M34 41l-0 -0M55 17l-0 -0M39 86l-0 0M46 35l-0 -0M22 37l-0 0M43 25l0 0M64 35l0 0M44 52l0 -1M34 29l0 -0M57 67l0 0M63 64l0 0M77 41l-0 -0M25 55l0 -0M76 31l1 -0M47 49l0 0M52 28l-0 -0M12 50l-0 -0M82 84l0 0M65 46l-0 0M24 52l0 -1M76 40l0 -0M26 45l-1 -0M35 32l-0 -0M14 80l-0 0M43 -1l0 -0M37 29l-0 -0M85 38l0 0M2 28l0 0M57 72l0 0M19 79l0 0M35 86l-1 0M50 90l1 0M65 33l0 0M55 5l0 0M44 71l-0 0M34 4l0 0M43 84l-0 -0M74 26l0 -0M12 24l0 0M23 29l0 -0M26 18l-1 0M38 78l-1 0M35 23l0 0M44 11l-0 -0M9 4l-0 0M61 57l-0 0M11 5l0 0M20 66l0 0M55 75l-1 -0M71 5l-1 0M78 36l0 -0M12 32l-0 -0M45 47l-0 -1M40 50l-0 -1M10 30l-0 0M25 83l-0 -0M35 87l-1 0M80 27l1 -0M82 2l1 0M87 21l0 -0M61 22l-0 -0M6 38l0 -1M49 33l0 0M36 61l0 0M70 -0l-0 0M81 43l0 0M6 1l-0 -1M18 89l0 -0M24 17l-0 1M63 73l-0 -0M86 52l-0 -0M3 70l1 -0M82 82l0 -0" stroke="#634836" stroke-width="2.3" stroke-linecap="round" fill="none"/>
<path d="M57 7l-0 -0M43 68l-1 0M68 6l0 -0M75 68l0 -0M4 9l-0 0M25 0l-0 -1M70 30l-0 -0M69 79l-0 -0M24 85l1 -0M10 6l0 0M32 70l-0 -0M5 55l0 1M30 37l-0 0M8 38l0 -0M33 50l0 0M85 19l-0 -0M14 84l-0 -0M0 77l-1 0M20 18l1 -0M82 4l-0 -0M29 28l-1 0M71 19l-0 0M74 21l-1 0M-1 60l-0 -0M16 6l1 -0M52 55l-0 0M67 14l0 -0M87 24l0 0M33 59l-1 0M18 23l0 -1M66 20l0 0M81 25l1 0M73 25l-0 -0M53 7l-1 -0M73 37l0 -0M-1 2l0 -0M44 88l-1 0M81 56l1 -0M18 16l1 -0M22 25l0 -1M39 0l-0 0M49 27l-0 -0M17 88l-0 -0M53 89l-0 0M24 78l-0 0M14 88l0 0M48 27l-0 -1M49 86l-0 0M5 50l-0 -0M3 64l-0 -0M-1 29l-0 1M50 72l0 0M75 56l-0 -0M0 32l-0 -0M83 19l0 -0M35 62l-0 0M31 29l-0 -0M22 62l-0 0M4 7l0 -0M77 47l-0 -0M17 83l0 0M67 31l-0 0M23 32l0 0M53 1l0 0M79 23l0 1M14 7l0 0M46 62l0 -1M59 53l1 -0M35 15l-0 0M8 19l-0 -1M44 48l0 -0M50 73l0 0M77 2l0 -0M42 52l-1 0M56 68l0 -0M74 87l0 0M38 3l-1 0M21 21l0 0M60 88l-0 -0M28 81l1 -0M70 3l0 0M43 33l0 -1M18 59l0 0M25 7l-0 -0M56 36l0 1M45 77l-0 -0M69 4l0 0M20 38l-0 -0M60 90l0 0M69 71l0 -0M66 18l0 -0M59 77l-0 -0M72 9l0 0M6 84l0 -0M88 29l-0 -0M80 75l0 0M18 59l-1 -1M30 69l0 -0M45 61l-0 0M53 54l-0 -1M17 62l0 -0M35 9l-0 -0M84 30l-0 0M39 69l-0 0M32 29l1 1M38 91l-0 -0M6 86l0 -0M53 60l-0 -0M61 29l0 0M53 64l0 -0M88 21l-1 -0M20 54l-1 0M22 11l-0 -0M31 80l-0 0M18 86l-0 -0M76 30l-0 0M38 30l-0 0M44 30l0 -1M14 17l-0 -1M30 -1l-0 1M43 12l0 -0M43 82l1 -0M24 44l1 -0M58 7l-0 -0M61 35l0 -0M7 41l-0 -1M26 70l-1 0M30 89l0 0M22 88l0 0M16 -1l-0 1M58 25l0 -0M63 85l0 -0M17 79l0 -0M64 25l-1 -0M45 66l-1 0M53 -0l0 0M75 72l-1 -0M85 34l0 -0M39 47l0 0M31 6l0 -0M48 19l-0 -1M29 75l0 0M63 60l-1 -0M1 79l0 0M87 60l0 1M72 49l-0 0M51 35l0 -0M40 65l-0 0M27 39l-0 -0M53 49l0 1M17 35l-0 0M43 21l0 0M15 81l0 0M24 -0l-0 0M54 63l0 -1M36 44l-0 0M81 3l-0 0M49 24l0 -0M61 85l-0 -0M48 57l0 0M56 41l-0 -0M58 58l-0 0M85 54l-1 -0M38 34l0 -0M30 11l1 -0M14 63l-0 0M79 73l0 0M61 81l1 0M20 7l0 0M86 30l-0 -0M82 47l0 0M52 30l0 -1M72 12l0 0M37 22l-0 0M25 86l-0 -0M7 73l0 -0M26 -0l-0 -0M81 29l-0 0M50 47l-1 0M28 45l0 0M53 39l-0 -0M30 8l-0 0M65 69l-0 -0M13 3l1 0M71 15l-0 -0M28 22l0 -0M26 45l0 0M11 73l-0 -0M73 56l0 0M12 79l0 -0M26 85l1 -0M31 45l-1 0M44 22l0 -0M35 50l-0 -0M4 63l1 0M87 63l0 -0M77 39l-0 -0M25 22l0 -0M63 6l-0 1M5 12l-1 -0M49 3l1 -0M11 69l-0 -1M37 -1l0 0M84 62l-0 0M49 42l0 -0M0 83l0 1M33 5l0 0M17 43l0 -0M75 51l0 -1M85 53l0 0M18 17l0 1M76 21l0 -0M48 61l-0 -1M75 24l-0 -0M63 41l0 -0M6 52l0 0M5 58l0 -0M84 5l0 -0M43 76l-0 0M1 61l0 0M46 44l0 0M4 83l0 0M88 79l-0 -0M24 30l-0 -0M73 88l0 -0M59 47l0 0M14 10l0 0M31 50l0 -0M88 9l1 1M23 15l0 -0M37 89l0 -0M41 41l-0 0M45 1l0 1M1 37l-0 0M87 2l-0 0M22 14l-0 0M82 49l-0 -0M7 60l0 0M74 84l-1 -0M76 58l-0 -0M32 74l-0 0M78 69l-0 0M22 33l0 1M87 48l-0 1M85 79l0 0M80 30l1 0M56 76l-0 0M74 84l1 -0M14 25l0 0M3 66l0 0M63 9l0 -0M68 52l-0 -0M41 86l1 -0M84 7l0 -1M57 39l-0 0M26 12l-0 -0M26 49l-0 -1M66 76l-0 -0M39 10l-0 0M81 20l-0 -0M48 45l0 0M35 12l0 0M88 10l0 -0M76 24l1 0M53 4l0 1M27 -1l0 -0M52 1l-1 0M5 89l0 -0M68 51l0 0M35 40l-0 -0M59 60l-0 0M28 51l0 0M62 72l-0 1M88 20l-0 0M19 19l-0 0M10 88l-0 -0M-0 90l0 -1M53 30l0 0M68 14l-0 -1M33 83l0 0M28 77l-0 0M14 53l0 1M51 49l-0 0M67 31l0 0M1 32l1 0M15 10l-0 0M18 35l1 -0M5 59l-0 -0M87 56l-0 -0M36 78l-0 0M63 13l0 -0M57 53l-0 0M17 48l0 -0M70 11l1 -0M33 90l0 0M14 7l1 0M53 43l0 0M32 64l1 0M62 9l0 1M39 12l1 0" stroke="#4e3426" stroke-width="2.1" stroke-linecap="round" fill="none"/>
<path d="M17 6l0 1M12 41l-0 -0M74 83l0 0M79 86l-0 -0M72 62l0 -1M26 87l0 -0M3 39l0 0M70 86l0 -0M58 69l0 -0M44 83l-0 -1M76 16l-1 -0M4 76l-0 0M35 41l-1 0M12 69l-0 -0M11 59l-0 0M3 18l0 0M74 69l-0 1M35 22l0 0M42 58l-0 0M22 72l0 -0M55 7l0 1M3 83l0 -0M22 76l-0 0M41 52l0 0M27 28l-0 -0M10 54l0 0M7 17l0 0M67 52l0 1M72 69l0 0M32 23l0 0M64 46l0 0M9 50l0 -0M59 11l-0 -0M14 17l-0 -0M64 59l0 -1M80 28l-0 0M56 31l-0 0M61 48l-0 -0M26 66l0 -0M74 33l-1 -0M59 6l-0 0M24 4l-0 0M69 28l-0 -0M75 21l0 -0M77 8l0 -0M32 9l0 -0M63 27l-1 -0M19 63l-0 0M16 83l0 0M17 13l0 1M20 85l-0 1M56 62l-0 -0M28 30l-1 -0M4 52l1 0M38 54l0 -1M59 56l1 0M37 73l-0 -0M11 57l1 -0M22 54l0 0M8 82l-1 -0M64 37l0 -0M49 13l0 -0M78 10l-0 0M47 58l0 0M30 44l0 -0M52 34l-0 0M6 41l-1 -0M86 55l1 0M40 39l0 0M48 7l0 -0M2 62l-1 -0M5 29l0 -0M73 34l0 1M87 87l-0 -0M52 28l-0 -1M62 77l-0 -0M69 54l-0 0M47 8l-0 0M4 35l-0 0M38 50l-0 0M82 11l-0 -0M14 14l-0 0M27 17l-0 -0M21 31l0 1M65 87l-0 1M64 1l0 0M33 18l-1 0M33 7l-0 -0M84 12l-1 -0M50 9l-1 -0M9 41l-0 0M39 34l-0 0M42 57l-1 -0M22 15l-0 -0M72 4l-0 0M-1 51l0 0M58 52l0 0M75 34l0 -0M48 45l-1 0M23 43l0 -0M30 61l0 0M87 -0l0 -0M5 58l-1 -0M9 54l0 0M7 38l0 0M67 30l-0 -1M86 41l-0 0M42 20l1 -0M16 77l-0 -0M50 40l0 -0M85 62l1 0M27 53l-0 -0M76 86l0 -0M14 14l-0 0M32 26l-1 -0M33 11l0 -0M79 67l-0 0M24 53l0 0M54 83l-0 0M74 25l0 -0M62 17l-0 -0M9 66l-1 -0M1 55l0 0M82 67l-0 -0M29 36l-0 -0M46 44l0 -0M77 20l-0 -1M83 27l0 -0M37 19l0 0M5 55l0 -0M18 90l0 0M48 -0l0 0M53 62l-1 -0M16 83l0 0M17 84l0 0M59 77l1 -0M44 30l0 1M31 85l-0 -0M79 65l0 -1M85 60l-0 -0M80 71l1 0M35 3l1 -0M80 49l-0 0M71 73l0 -0M62 49l0 0M52 18l-0 -0M36 42l0 0M70 32l-0 -0M9 34l-0 -1M78 18l0 0M30 25l-0 0M58 75l0 0M62 59l-1 0M62 73l-0 -0M33 82l0 -0M50 68l-0 -0M86 83l0 0M72 66l-0 -0M65 22l1 0M18 28l-0 -1M-0 86l0 -0M80 37l-0 0M77 62l-0 -0M41 58l-0 0M25 73l-0 0M12 15l-0 -0M34 53l-0 0M64 35l-0 -0M43 49l-1 0M22 21l-0 -0M63 49l-0 -0M49 73l1 -0M51 89l-1 -1M86 21l0 -1M71 3l-1 0M76 21l-0 -0M53 43l0 -0M17 38l0 -0M52 38l-0 -0M66 10l0 -0M66 25l-0 -1M17 86l-1 0M64 63l1 -0M55 58l-0 0M48 40l-0 -0M9 64l-0 -0M1 47l-0 0M21 39l-0 -0M79 57l-0 0M29 89l0 -0M23 46l0 -0M56 48l0 -1M54 22l1 -0M47 23l-1 0M76 41l0 0M87 74l0 0M25 23l0 -0M78 80l-0 -0M85 81l-0 1M81 47l0 -0M53 33l0 0M25 3l-0 -0M37 4l-0 0M49 34l0 0M22 19l-0 1M25 91l-0 0M61 9l0 -0M58 77l-0 0M24 14l0 -0M13 48l-1 0M26 77l1 0M85 76l0 -0M68 40l-1 -0M83 30l-1 0M47 71l0 0M31 14l0 -0M65 30l-0 0M60 7l0 0M33 41l0 -0M35 38l-0 0M10 29l0 -0M82 35l-0 -0M39 84l-0 0M38 14l-0 0M46 59l0 -0M71 54l0 -0M36 75l0 -0M74 20l0 0M63 19l-0 -0M43 48l0 0M70 25l0 0M60 89l0 0M5 63l-0 1M29 21l0 1M56 18l-1 0M47 1l0 -1M69 43l0 1M35 36l0 0M27 24l-0 -0M72 40l0 0" stroke="#3a261e" stroke-width="2.0" stroke-linecap="round" fill="none"/>
</g></svg>
<rect x="584.6" y="859.9" width="20.3" height="3.0" fill="#000"/>
<svg x="105.0" y="876.0" width="88.0" height="90.5" viewBox="0 0 88.0 90.5" overflow="hidden">
<rect width="88.0" height="90.5" fill="#b4b0c0"/><g filter="url(#hb)">
<path d="M82 81l-1 3M80 72l-0 0M20 59l2 -0M89 74l0 0M51 20l-1 0M24 43l-0 -0M-1 3l0 -1M29 10l-1 -2M48 50l-1 -1M10 50l-0 -0M27 45l-0 -0M71 84l-0 0M61 29l1 2M60 21l-0 2M73 30l0 0M64 35l2 1M-1 44l-1 -1M12 51l1 0M50 80l0 -3M4 53l1 -2M44 1l-0 -0M68 43l1 -1M7 25l0 0M71 72l-2 -1M57 65l-0 -2M72 10l2 2M25 87l1 -0M25 79l0 0M45 47l-2 1M85 39l1 0M83 29l-0 -0M27 61l0 0M44 78l-2 0M78 8l0 -0M69 65l1 -1M8 65l0 1M32 2l0 1M2 69l-1 -2M13 58l0 -0M80 3l0 -0M89 21l-2 2M63 34l1 -2M38 73l0 -1M4 75l-2 2M43 48l-1 -2M67 47l1 1M15 34l-2 0M30 37l1 0M25 -0l1 2M30 81l2 1M70 27l-1 1M17 41l1 1M42 2l-1 2M37 26l3 1M33 75l0 1M15 50l0 -0M8 20l-1 -0M28 75l-3 -1M44 70l2 -0M37 71l3 -0M73 23l1 2M42 86l-1 -2M5 64l0 0M75 66l-2 1M82 49l0 1M15 23l-1 -1M85 53l0 2M45 29l1 0M84 41l-1 -0M6 18l1 -2M70 38l2 -2M51 49l-1 0M85 3l-3 -1M18 34l-0 3M57 48l0 2M43 87l0 0M7 22l0 0M29 5l0 -0M58 39l1 1M13 42l0 0M28 77l0 -0M-0 86l-0 0M54 22l-0 -0M75 29l-2 -0M65 61l-0 -2M21 91l-1 0M20 91l-1 2M11 31l1 -0M6 34l-1 3M8 80l-0 0M62 21l2 1M39 71l-0 -1M64 68l-0 0M73 34l-0 -1M26 7l0 -1M29 15l1 1M5 34l-0 -2M84 91l1 -3M46 48l1 -0M14 69l1 -1M42 30l-1 0M22 59l2 -0M62 30l1 -1M49 42l0 -0M21 44l0 0M42 58l-3 0M23 34l-1 -1M57 79l-1 -3M55 83l1 -0M36 67l0 -0M36 2l1 -1M29 88l-2 -1M62 47l1 -0M22 20l1 -0M33 24l-1 -0M50 69l0 0M48 80l1 -1M13 71l0 0M2 68l2 1M62 89l1 -2" stroke="#dcdbe8" stroke-width="1.5" stroke-linecap="round" fill="none"/>
<path d="M27 12l1 0M58 13l2 -0M80 17l-0 1M28 32l1 1M26 88l-3 0M18 33l2 -1M20 67l1 -2M86 54l-1 -3M58 7l2 2M22 10l-3 0M60 77l-2 1M67 86l1 -1M73 24l1 1M16 51l2 2M40 65l-1 0M18 77l-1 -0M31 34l-1 -1M37 56l-1 -1M51 86l2 1M0 41l1 -0M71 17l2 -1M11 54l-1 1M81 -1l-0 -2M25 6l3 1M71 2l1 -0M11 13l-2 1M58 7l-1 -1M4 21l-1 2M53 34l0 -2M74 49l0 -1M62 8l-0 0M5 66l-0 0M14 90l-0 -1M18 42l0 0M41 66l0 0M25 27l-1 -2M44 57l0 -0M27 61l-3 -1M46 4l-0 -0M63 64l-0 1M63 3l0 0M30 12l1 1M89 64l2 -0M85 58l-1 0M56 7l1 0M9 89l-2 1M29 22l0 2M8 16l-0 -0M53 67l1 3M21 18l-1 0M52 75l0 1M27 72l2 1M38 8l0 -1M65 68l0 0M62 67l-2 1M32 57l0 0M83 12l1 -2M71 52l-1 0M65 55l-2 1M0 49l-3 0M28 49l1 2M37 59l2 2M29 77l-0 -1M42 55l2 -1M17 35l3 2M52 87l-0 -2M15 89l2 -1M55 59l0 -0M8 60l0 0M51 22l1 2M7 15l0 2M87 5l0 -1M87 74l2 1M67 87l-0 -0M50 73l-0 -2M18 6l-1 -0M-1 35l-1 -1M24 87l0 1M44 2l0 -1M11 6l0 -0M71 81l0 3M27 66l1 -1M22 63l-3 -0M59 53l0 -2M41 77l3 -0M38 9l0 1M45 22l-2 1M66 40l0 -0M86 78l1 -0M26 20l-2 1M34 57l-0 0M54 84l1 2M47 64l1 -2M15 62l-0 -1M29 30l0 -0M71 61l-2 -1M72 26l1 -1M85 4l-0 -1M45 87l3 -0M37 86l-1 -0M80 15l-1 2M72 18l1 -1M6 86l-0 0M11 42l0 0M34 65l-1 1M42 33l-1 3M86 3l-3 -0M49 16l1 -2M29 87l-0 1M84 30l-0 -1M17 5l-0 -1M75 4l0 1M33 57l-2 -1M2 59l-1 2M86 9l-0 0M72 44l-0 1M64 80l-0 -0M16 2l1 0M50 26l-0 0M63 37l1 1M28 52l-0 3M19 57l-0 -0M39 25l-3 -1M42 53l-1 2M67 35l-1 -1M37 73l-2 -1M24 47l1 -1M61 79l0 -0M38 44l-1 1M57 89l0 1M81 18l-0 -0M79 29l2 -1M80 28l-0 2M11 79l1 2M71 35l2 0M12 48l0 0M17 68l0 0M18 57l2 -1M56 29l2 0M52 30l1 0M48 30l-1 0M65 19l-1 -0M33 45l-1 -1M40 43l-1 1M39 59l0 -2M41 87l-1 -2M65 12l0 0M83 47l1 1M34 88l-0 1M65 45l-1 -1M82 7l-1 -2M25 36l2 -1M50 60l1 0M27 31l1 -3M13 46l-0 -2M79 40l1 0M38 57l0 0M21 59l-2 2M31 34l-1 2M34 41l1 2M72 37l-1 0M11 -0l-2 2M7 30l-0 -1M33 68l-0 0M76 31l-0 0M14 51l-0 0M65 70l1 1M3 65l1 3M74 75l0 -0M-0 39l-1 -1M54 55l-1 -3M89 74l-0 -1M62 46l1 -0M54 88l1 -1M80 17l-2 1M70 50l1 1M47 58l2 0M60 63l-1 0M21 73l-1 -0M48 14l1 -1M29 52l2 -0M5 16l2 0M19 18l0 -0M21 51l2 -0M65 49l0 -1M52 88l1 0M8 35l-2 -2M75 90l-0 -1M80 7l0 2M37 69l-1 -3M37 91l2 -0M70 5l-0 1M82 42l-0 -0M23 77l-2 -1M5 2l1 -0M74 43l-1 1M55 71l-1 0M46 60l2 -2M83 10l0 -1M48 79l-1 2M71 -0l3 -0M31 60l2 -1M8 42l1 -2M24 68l1 -0M10 91l2 -1M24 49l-1 -1M77 26l1 -1M83 65l-0 0M36 43l0 -0M84 -1l-1 1M22 57l1 -1M11 62l1 -1M56 1l-1 1M41 64l0 -0M58 8l0 0M51 42l-2 1M13 90l-1 0M62 73l-1 -3M70 81l2 -1M74 72l-2 2" stroke="#a8a4b4" stroke-width="1.6" stroke-linecap="round" fill="none"/>
<path d="M43 52l-0 -1M67 77l-0 -1M70 46l1 1M-0 20l-0 -0M57 88l-2 -0M79 65l1 -1M42 18l2 1M58 19l-2 1M26 83l-0 -2M70 57l1 2M81 8l0 2M49 80l0 0M38 87l-2 -0M79 58l1 1M71 58l-2 -1M73 46l-2 0M48 78l0 1M10 35l1 2M29 40l1 -2M64 31l-0 -1M12 68l-1 -0M71 50l-0 -1M31 63l-1 0M6 18l-0 0M55 43l-1 1M40 26l0 0M43 62l-1 -1M85 20l-1 0M7 19l2 -1M33 1l-1 2M17 21l2 -2M76 76l1 0M9 22l-0 -2M56 63l0 -0M13 18l1 1M53 14l0 -1M75 -1l-0 -0M68 43l-0 -0M15 46l0 -1M27 87l-0 -1M61 45l2 -1M61 37l0 -0M58 74l-1 -2M2 36l0 0M62 32l2 0M7 12l0 1M51 31l-1 -1M86 79l-1 1M2 30l0 1M56 63l-2 -1M61 23l0 -0M79 75l-0 0M68 21l-1 -2M30 24l1 0M-0 67l-1 2M23 20l-0 0M2 66l1 -2M-1 3l-2 -1M66 74l2 -1M84 45l-1 -0M58 75l2 1M29 10l0 2M5 77l0 -1M24 16l-0 1M77 57l-1 0M19 9l1 -2M58 46l1 1M57 50l-0 -1M82 -1l-1 0M82 2l-1 -0M58 75l0 -0M7 66l1 -2M83 31l0 0M7 85l0 0M68 55l0 -0M5 20l0 1M9 72l-0 -0M5 79l2 -0M83 52l1 2M10 57l0 0M52 55l0 -1M66 90l2 -1M59 22l-2 -1M77 91l2 0M54 62l2 -2M2 91l0 -1M76 51l0 -0M17 72l-0 0M73 1l-2 -1M13 47l-2 -2M76 21l2 0M55 5l2 -1M79 55l2 -1M65 57l1 0M83 12l-2 -1M50 59l0 1M24 14l-0 0M3 32l-0 -1M45 22l1 -1M28 49l-0 -1M33 18l2 1M51 2l2 1M75 11l-0 0M3 72l0 0M58 46l2 1M59 66l1 -0M21 55l2 1M43 81l1 -2M38 79l1 0M65 59l-1 0M61 61l0 0M34 5l1 0M2 38l-1 1M14 13l-2 -2M58 17l-0 -0M12 88l1 1M1 90l-1 0M44 13l0 -0M71 21l-1 -2M72 84l-2 -1M84 1l0 1M2 37l-2 -1M26 47l0 -2M23 19l-2 0M73 32l-1 -0M29 44l-1 1M1 89l-1 -0M29 38l1 1M66 10l-0 -0M83 29l0 -0M26 13l-2 2M49 30l-2 1M71 10l-0 1M4 74l2 2M50 4l1 0M38 70l1 0M45 1l1 -1M42 50l-0 -1M40 83l1 -1M27 37l2 1M46 54l1 -2M87 7l0 -0M57 17l0 -1M16 24l1 1M27 61l0 -2M83 86l0 0M9 34l0 -0M74 22l1 1M2 46l1 1M27 14l0 -0M40 49l1 1M20 24l1 1M39 85l1 -1M20 88l-0 -2M0 22l-1 -0M83 20l-1 -0M8 32l-1 -1M58 58l-1 -1M7 17l0 -0M82 82l-1 1M5 35l2 0M18 67l1 0M32 64l1 -1M6 91l0 2M18 3l-2 -1M77 78l-0 1M8 46l1 -1M74 61l2 -0M83 72l2 0M52 25l0 -0M3 29l-0 0M11 81l-2 -1M53 85l-1 0M39 75l1 0M28 84l2 1M8 88l-1 0M5 35l-1 -1M49 64l1 -1M50 28l-0 0M79 20l2 0M64 3l-2 -1M35 69l-1 -1M82 79l0 1M81 42l1 1M72 13l-0 1M8 38l1 -1M12 57l2 -1M7 17l-1 -0M29 34l-2 0M19 90l1 0M73 84l-1 -2M73 2l-0 -1M47 36l-2 -1M80 60l0 -1M41 33l-2 1M9 27l0 1M38 56l0 0M62 37l1 2M17 79l-0 -1M44 91l-0 0M88 40l1 0M31 57l1 -0M71 46l-0 1M74 27l0 -0M8 64l-2 -2M17 3l1 0M70 25l-0 -0M70 57l-1 1M40 27l0 1M22 65l2 0M-0 -1l-2 0M86 40l1 -0M85 74l-0 0M77 90l1 -1M48 46l-1 -2M71 90l0 -0M31 8l-1 1M31 40l2 1M58 69l1 -1M58 15l1 -0M4 43l0 0M68 72l1 -0M77 22l0 -1M46 10l0 0M17 61l-2 0M29 44l1 -2M4 44l-1 2M3 90l2 0M50 75l-1 -1M69 47l1 1M10 39l1 0M5 34l-1 0M77 14l1 1M37 79l1 2M10 22l-0 0M41 20l-2 -1M69 88l0 -1M43 78l-2 1M52 74l-0 -2M40 76l2 0M24 74l-1 0M55 88l-0 0M55 10l0 -0M59 90l-2 -1M2 34l-2 0M41 38l2 -0M58 81l-1 1M83 73l-0 -0M57 4l-1 1M35 83l-0 -2M53 89l-1 1M65 66l-0 0M43 80l1 2M10 73l-2 1M58 85l-0 1M39 87l-1 -1M1 2l-0 0M56 86l-0 -1M12 88l-0 1M50 41l-0 -0M83 39l-0 -1M26 37l1 -0M34 53l1 -0M89 62l1 -2M32 56l-1 2M20 39l0 -0M22 27l-1 -0M43 23l1 1M17 24l2 1M58 19l-0 -1M25 25l0 1M65 90l2 1M77 -0l-1 -0M20 64l-1 -1M33 45l-0 0M14 11l1 2M57 50l-0 0M46 8l1 2M10 35l1 2M-1 55l-2 -1M53 81l0 -2M34 91l1 -0M59 45l2 -0M48 33l2 1M45 4l-2 -1M26 23l1 -0M38 19l-0 0M88 73l-2 -1M53 48l-0 0M62 43l-0 2M83 40l1 0M31 9l1 -0M56 39l-0 -1M32 15l-2 -1M15 81l0 -1M59 85l0 2M50 48l2 -2M61 27l0 1M33 19l-1 1M34 61l0 1M59 68l0 0M56 27l-1 0M42 57l-0 0M35 59l-2 -1M30 38l-1 -2M31 36l-1 -1M78 11l2 -1M2 16l-0 1M30 61l-0 -2M19 38l-0 -0M6 80l0 2M75 86l2 1M52 87l2 -1M70 22l0 0M36 65l-1 -1M5 43l1 -1M33 23l-1 1M63 35l0 -0M19 61l-0 -0M64 89l2 1" stroke="#6266a6" stroke-width="1.7" stroke-linecap="round" fill="none"/>
<path d="M12 9l-0 -1M-1 13l1 -0M43 35l2 2M70 75l2 -1M55 87l0 -0M0 65l0 -2M80 58l-0 -0M40 77l-0 -1M51 20l-0 -0M62 10l0 0M32 38l1 -1M70 28l1 0M85 64l1 1M40 47l-1 -1M43 47l-1 1M16 51l1 2M12 55l-1 -0M8 34l1 0M62 43l-1 0M73 16l1 -0M54 21l2 0M10 44l1 1M33 16l-2 2M44 2l2 -1M62 91l2 1M12 46l0 0M51 42l-1 1M77 72l0 -0M67 22l-0 -2M30 88l-2 -1M38 4l-1 0M18 28l-2 -1M23 40l-0 -0M56 8l1 -2M12 71l-2 -0M9 2l-1 -2M33 48l0 -2M10 46l1 0M43 68l-1 2M72 55l-2 0M-0 86l-0 1M44 84l-0 -0M0 59l1 1M82 54l2 -1M52 19l-1 0M23 64l0 0M75 75l2 -2M5 25l0 -1M45 58l1 -2M30 39l-1 -1M14 91l-1 0M43 72l-1 -0M53 0l2 -1M41 89l2 0M83 53l1 1M70 59l1 2M79 89l-1 0M22 17l-0 -0M82 81l-1 0M11 16l-0 0M57 75l1 1M18 53l1 1M22 25l0 -0M16 71l1 1M88 61l1 -0M86 15l2 0M72 52l1 -1M38 15l-0 2M7 36l-1 0M15 88l1 1M33 64l-2 1M84 0l-1 -0M16 87l-1 1M27 71l-0 0M15 28l-1 -1M4 35l-0 -2M72 -0l0 0M37 23l1 -1M28 68l-1 1M83 72l-2 0M8 81l1 -1M53 28l0 -1M63 67l2 0M51 50l-0 1M31 2l1 1M14 25l1 -1M69 40l1 1M80 47l1 2M25 65l-1 0M33 57l2 1M34 76l-1 1M69 40l0 0M57 71l-2 1M9 40l-0 0M64 23l-2 0M83 88l-0 -1M22 21l2 -1M43 88l0 0M60 63l-0 -2M68 73l-2 -0M16 45l0 1M27 20l1 -1M51 47l1 -0M38 29l-1 -0M84 29l0 -1M44 18l-1 -0M44 90l0 2M57 90l-0 0M63 22l2 0M26 13l-0 -0M49 43l0 -0M74 64l2 -2M72 55l-1 1M36 44l1 -0M47 25l1 0M78 3l0 -1M46 85l-1 -0M17 40l0 1M26 7l-0 -2M47 4l0 -0M3 79l0 0M44 56l0 -0M71 34l0 1M53 39l2 1M88 13l-2 -1M9 81l1 -1M28 10l0 1M38 57l0 -0M19 18l-2 1M4 86l2 1M10 85l0 -1M59 72l0 -0M49 12l-0 0M21 50l1 -0M78 46l2 0M71 60l-0 0M88 1l-1 -1M12 85l1 1M85 68l-1 -0M68 20l-0 1M34 32l-1 2M37 47l0 -0M87 15l-2 -1M39 54l-0 -0M11 88l-1 -2M2 88l-2 1M41 32l-1 1M27 47l1 1M2 48l0 0M84 18l-1 1M48 79l0 1M19 61l0 0M-1 34l0 -2M58 8l-0 0M9 80l2 -0M53 26l0 -0M20 4l-0 0M16 15l1 -1M64 0l-0 -0M8 55l0 -0M5 40l0 1M64 71l1 1M62 46l-0 1M13 88l-1 0M38 26l1 2M1 52l-2 2M17 29l-1 0M20 36l0 -1M58 54l1 0M31 3l-0 -0M47 30l2 -1M1 64l-2 -1M89 56l0 -0M3 13l1 -1M69 54l-2 -1M0 75l1 -0M87 50l2 0M50 17l-1 2M62 62l-0 1M82 48l1 -1M85 16l1 1M17 28l-2 0M9 9l-0 -0M22 54l-0 0M55 39l-1 -0M79 39l1 -0M48 50l-1 0M11 84l-1 -1M58 49l1 0M88 16l1 1M8 40l-0 -1M58 8l0 0M38 87l1 2M48 26l-0 -0M63 9l-1 -1M31 72l1 1M87 60l0 2M13 30l-2 -1M5 33l1 2M73 79l-0 -1M82 83l-0 2M59 7l0 0M67 3l1 1M70 43l2 -1M64 20l1 1M62 40l-2 0M33 19l2 -1M24 75l-1 -0M68 11l-1 -0M52 80l-2 1M6 38l-1 -1M67 88l1 1M69 46l-2 -1M52 90l-0 -2M66 18l-2 -1M63 54l2 0M22 8l-1 -2M32 53l-1 -1M67 31l-1 -2M9 0l2 -1M58 46l-0 1M80 1l-2 0M9 40l1 0M29 43l2 0M23 55l-2 -1M0 1l-1 -2M2 72l-2 -0M89 89l1 0M25 73l-1 0M38 83l-1 0M42 73l2 0M19 91l1 1M40 38l0 -2M9 81l-0 -1M52 77l1 2M51 71l-1 -1M43 36l0 -2M64 69l-2 -1M51 58l0 0M47 72l0 -0M76 85l2 -1M47 63l-1 0M23 80l0 0M45 72l1 -2M10 65l-1 1M52 56l-0 1M60 35l-0 -0M67 26l-1 -1M23 15l-1 -2M30 31l-2 1M5 86l2 2M22 71l1 -1M34 32l2 -1M86 77l0 -0M69 26l0 -2M1 1l-1 2M3 50l-0 1M51 64l-2 0M88 23l-1 0M36 18l1 2M33 57l2 -1M38 59l-1 -2M64 71l-2 1M55 -1l0 2M75 68l-1 -2M28 44l2 -0M80 34l-1 -1M63 3l0 0M6 26l-1 -1M63 10l0 0M77 72l0 -2M88 48l-1 -2M64 66l0 -0M40 55l1 1M51 48l1 -1M77 26l-1 2M78 78l1 0M65 56l-0 -2M73 4l-2 1M75 12l0 -1M77 61l-1 1M26 35l-2 1M5 67l-0 -0M29 66l1 1M17 74l1 1M62 40l0 -0M8 80l-2 -0M78 3l-1 -0M15 58l-1 -0M85 75l-0 0M85 22l-2 1M65 17l2 -1M80 35l-1 -1M61 60l-1 1M57 41l0 0M77 34l-1 2M22 26l-0 1M9 19l-0 -0M62 82l0 -0M60 9l-0 1M11 83l-0 -0M80 44l-2 -1M85 84l-1 -2M36 53l1 1M18 83l-1 -2M67 34l1 1M56 35l-0 -0M61 58l-0 1M20 0l-2 -0M51 24l2 0M74 47l-2 1M71 32l2 0M43 76l1 1M85 64l1 -2M29 52l1 -2M14 24l-0 2M86 82l0 0M33 48l0 0M11 53l-2 -1M38 60l2 -1M88 12l-1 1M26 80l1 -2M19 91l1 -0M34 61l0 -0M65 72l-2 1M0 71l-1 2M69 -0l1 -0M5 54l-1 1M39 32l1 -2M67 72l2 0M66 76l-0 -1M58 39l1 -1M20 31l-1 2M44 45l2 2M86 11l0 2M8 66l-1 -2M79 52l1 -0M54 21l2 -1M63 20l2 -1M16 52l1 -0" stroke="#4c5096" stroke-width="1.7" stroke-linecap="round" fill="none"/>
<path d="M54 38l-0 1M14 80l0 0M50 73l0 -0M87 50l0 0M64 32l-0 0M10 33l0 0M65 12l-1 0M5 61l0 0M47 29l-1 -0M40 20l-1 0M34 86l-0 2M87 53l1 1M66 70l-0 -0M75 47l-0 -0M57 17l1 -0M65 13l-1 -0M61 77l1 -0M55 48l-1 -1M82 10l0 -1M4 42l0 1M59 59l-1 -0M1 3l-1 -0M39 29l0 0M23 63l-0 0M13 90l-1 -0M87 84l-0 -0M6 91l-1 -0M7 13l-1 0M32 7l1 1M6 32l-1 -1M77 87l0 0M75 79l2 -1M55 63l-0 0M7 73l0 0M15 89l0 0M11 72l2 -1M12 38l1 -1M21 18l0 0M84 56l-0 -1M73 46l0 -0M48 48l0 -0M29 53l-0 0M82 59l-1 1M37 12l0 0M83 41l-1 -1M66 44l-1 0M52 30l-2 0M58 60l-0 -0M39 73l-0 -1M31 16l0 0M25 39l1 0M34 68l-0 -0M7 77l0 -0M74 71l-0 -0M46 56l0 1M34 47l1 -0M39 16l1 1M54 61l-1 1M23 21l-0 -1M89 90l-1 1M65 77l-2 1M81 82l-2 0M77 13l-0 -0M76 78l-0 -1M45 2l1 -0M32 26l0 0M73 44l0 1M57 32l0 -0M57 66l-0 0M23 73l-0 -0M68 14l-0 2M29 53l-0 -1M46 52l1 -1M42 54l0 1M75 2l0 -0M76 65l-1 1M39 56l1 0M46 30l-1 1M29 23l0 0M39 66l0 1M70 10l1 -0M77 89l-1 -1M5 86l1 -1M49 44l-0 0M82 76l-0 1M54 6l1 1M3 64l-1 0M45 20l-1 2M57 83l-1 1M59 15l-0 0M66 38l0 -1M8 30l-1 -1M85 4l1 -0M80 35l0 1M30 38l-0 -1M28 79l1 1M76 64l1 -0M3 20l-0 -0M53 32l-0 0M64 3l2 -1M88 22l-0 -2M24 32l-1 -1M77 62l2 0M63 45l-1 -1M-1 83l-1 -1M83 30l-1 -1M10 72l1 1M7 81l-0 -1M14 50l1 0M11 8l-1 1M53 3l-0 -0M42 3l0 1M42 46l-0 1M72 1l0 1M55 87l-0 2M24 4l-0 -0M82 88l-2 0M48 24l2 -0M19 1l0 1M47 72l-1 1M62 5l-1 -1M84 55l-1 1M74 80l1 0M73 53l-0 -1M37 11l0 -1M19 54l-0 1M30 74l-1 0M36 26l0 -2M42 57l1 0M56 53l0 0M63 26l-0 -0M84 57l1 -0M-0 51l1 -1M57 34l0 -0M35 68l1 -1M22 35l1 0M20 57l-1 0M55 8l-1 -1M81 73l2 -1M28 73l1 1M46 70l-0 0M57 64l0 -0M48 73l-0 1M55 15l-1 0M28 88l-0 -0M42 51l0 0M60 18l0 -1M40 24l0 -2M35 48l-1 0M8 75l-1 -1M34 83l-2 0M74 74l-1 1M10 18l2 -0M73 37l-0 0M44 51l1 0M53 54l-0 -0M12 63l0 -0M50 50l1 -0M48 39l-0 0M89 64l1 -1M2 59l1 -1M20 79l0 0M81 67l0 1M20 62l1 0M14 72l-1 -2M14 13l-0 0M75 10l-0 1M11 2l-1 1M7 88l1 0M85 34l0 0M11 7l1 1M52 56l-1 -1M87 26l-1 1M81 51l-0 -1M89 65l0 1M80 43l-1 -1M42 83l0 -0M8 70l-0 -0M3 -0l1 1M23 53l-1 1M12 41l0 -1M34 22l-0 0M66 42l-1 1M52 64l0 1M41 61l0 -0M37 70l1 -0M4 10l2 -1M75 90l-1 2M13 16l0 -0M73 5l0 -1M45 48l0 0M2 22l0 0M3 84l0 0M72 77l0 -0M4 84l-0 0M87 4l0 0M35 43l-0 -0M71 20l0 0M45 11l-1 -1M23 81l1 -0" stroke="#3a3e84" stroke-width="1.6" stroke-linecap="round" fill="none"/>
<path d="M78 29l-1 0M70 4l-0 -1M29 24l-0 0M29 49l1 -1M7 85l0 0M37 82l0 -0M87 62l0 0M77 61l0 -0M21 91l0 -0M70 79l0 -0M51 81l1 0M20 88l0 1M80 56l1 -0M74 55l0 0M77 33l0 -0M60 37l1 1M82 61l-0 -1M50 55l0 0M81 58l-0 1M72 10l0 -0M54 7l-1 1M78 54l0 0M26 79l-1 -0M70 13l-0 -1M73 45l0 -0M54 13l-0 -0M88 55l-0 1M46 42l-1 -1M85 35l-1 0M78 64l-0 1M13 84l-1 0M63 84l-0 0M72 69l-0 -0M31 73l-1 -0M71 70l0 -0M80 92l-0 -0M78 56l-1 -1M88 45l0 -0M62 72l0 -0M61 54l-1 1M21 77l-1 -0M62 23l-0 1M30 84l0 -1M66 59l0 1M74 53l-1 0M39 87l-0 -1M61 81l-0 -1M87 41l-0 -1M83 30l0 1M56 35l1 -1M85 55l-0 1M49 24l0 0M44 30l-0 0M34 84l-0 -1M23 83l-1 -1M19 31l0 0M42 91l0 -0M40 86l1 0M77 89l0 -0M31 81l-0 0M56 72l-0 0M67 64l-0 -1M37 78l-0 -0M35 69l1 0M75 68l-1 -1M50 78l-1 1M2 91l-0 0M6 87l0 0M53 52l-0 -0M58 36l-0 1M86 76l-0 -0M77 37l0 -0M79 15l-1 -0M52 3l0 -0M53 52l1 -0M48 19l0 1M85 6l-0 1M54 67l0 -0M39 89l-0 0M65 85l0 -0M50 33l0 -0M58 68l0 -0M75 68l0 0M33 79l0 1M57 68l-1 0M48 34l-0 0M37 52l-0 1M54 3l-0 -0M85 7l-0 -0M50 53l-0 0M65 30l-1 -0M15 83l1 1M60 60l0 -1M83 58l1 -1M69 63l-0 -0M44 83l-0 -0M57 36l-1 -1M54 1l0 0M42 77l-0 -0M87 40l0 -0M43 36l0 -0M43 80l-0 0M62 25l0 0M13 39l1 0M53 43l0 -0M54 53l-0 -1M39 71l0 -1M73 50l-1 -0M53 50l0 -0M52 17l-0 -0M64 38l-0 1M72 89l1 -0M86 61l0 0M11 91l-0 1M48 67l0 0M85 5l0 0M87 60l0 0M65 57l-1 -1M32 79l-1 -1M49 45l0 0M84 82l-1 0M78 3l-0 1M71 59l-0 1M82 41l0 -0M72 72l0 -0M64 66l-1 1M79 77l-1 1M42 81l-1 -1M4 91l-0 0M24 86l-1 -0M71 50l-0 -0M41 86l0 -1M82 55l0 0M81 58l0 -0M51 34l0 -0M49 3l-1 0M35 85l0 0M87 67l-0 -1M77 87l0 -0M13 30l0 -0M69 61l0 -1M74 90l-1 0M77 55l-0 0M80 58l0 -0M89 68l-1 -0M74 20l-0 0M77 80l0 0M87 55l1 -0M45 69l-0 0M65 3l0 0M68 23l-0 0M85 49l0 0" stroke="#634836" stroke-width="1.8" stroke-linecap="round" fill="none"/>
<path d="M47 39l-0 0M30 20l-0 -0M43 19l0 1M11 39l0 -1M21 13l0 0M19 78l0 1M15 23l-1 0M53 25l0 -0M15 85l0 1M15 89l0 -0M34 13l0 0M42 24l-1 -0M61 25l0 1M44 53l-1 0M23 41l0 1M13 62l0 0M59 14l-0 0M30 56l0 -0M37 31l0 0M58 22l1 -1M61 16l-1 1M83 50l0 -1M71 85l-0 -1M27 21l-0 -1M27 34l-0 -1M75 92l0 0M18 28l0 -0M65 26l0 -0M80 28l-0 -1M8 39l-0 1M22 16l0 0M75 50l-0 -0M31 58l0 1M71 34l-0 -1M59 27l-0 0M60 32l-0 -0M18 87l0 -1M13 14l-1 -0M67 24l0 -0M47 54l0 1M69 54l-0 -0M27 73l0 -0M71 52l-1 1M81 87l-0 -0M59 28l1 -0M69 45l0 -0M21 69l0 -0M37 41l1 -0M38 22l0 -0M54 18l-0 -0M22 73l-0 1M61 71l-1 -1M9 51l0 0M90 82l0 -1M2 38l-1 1M29 73l0 -0M36 87l0 -0M80 30l-0 -0M90 75l-0 -0M83 80l-0 -1M61 7l1 0M28 9l0 -1M67 76l-0 -0M78 11l-0 0M9 55l-0 -0M75 17l-0 0M84 38l-1 1M33 77l1 -1M68 53l0 -0M26 71l0 -1M55 38l0 0M57 37l1 0M60 36l-0 1M42 18l-0 -0M43 72l0 -0M1 48l1 1M49 24l0 0M15 10l0 -0M28 75l-1 0M25 80l0 -0M11 43l0 0M-2 34l-1 1M72 68l0 -0M59 39l-1 0M7 34l-0 0M51 32l1 -0M1 35l-0 0M52 38l-0 0M49 48l-0 0M10 8l-0 1M88 26l-0 -0M86 29l1 -1M29 72l1 1M14 35l-0 -0M4 58l1 -0M30 8l-1 -0M72 36l-1 0M42 26l0 0M54 12l0 -0M21 52l-0 0M-3 56l-0 -0M36 38l-0 1M9 55l-1 0M25 40l1 -1M51 45l-0 1M45 7l-0 -0M60 44l-0 -0M50 49l1 0M46 26l1 -0M10 48l0 -1M20 24l-0 1M59 32l0 -0M25 70l0 0M40 74l0 0M77 45l-0 0M40 5l0 1M4 54l0 -1M62 23l0 0M33 9l-1 -1M12 11l-1 0M14 34l-0 -0M57 25l-0 -1M1 46l0 1M43 15l-0 -0M-1 44l0 -0M65 68l1 -1M28 75l1 -1M33 71l1 -1M44 11l1 0M52 5l-1 0M37 81l-1 -1M43 -2l0 -0M83 88l0 0M73 92l-1 0M78 35l0 0" stroke="#4e3426" stroke-width="1.8" stroke-linecap="round" fill="none"/>
<path d="M2 33l-0 1M29 -0l1 0M10 44l0 0M70 67l0 1M39 60l-0 0M34 31l0 1M51 83l0 -0M39 20l-0 -0M6 35l-0 0M43 25l0 0M20 24l-1 -1M14 21l0 0M24 39l-0 0M42 24l1 -0M22 23l-1 -1M56 46l0 1M67 -2l-0 -1M52 52l-0 -0M37 65l1 0M1 60l1 -0M3 45l0 1M38 24l0 0M24 70l-0 -1M29 66l1 1M38 13l-0 -0M62 72l-0 0M42 7l-1 0M15 50l-1 0M18 47l-0 1M37 43l0 -1M84 24l-0 0M2 35l-0 0M53 82l0 0M31 11l0 -0M5 44l-0 -0M48 71l1 -1M70 13l-0 0M28 15l-1 -0M54 53l1 1M15 29l-0 0M83 60l-0 0M64 -1l-0 0M54 79l-1 0M57 87l-0 -0M5 41l-0 -1M71 48l-0 0M38 9l-0 0M39 17l-0 -0M42 60l-0 -1M13 41l0 -0M44 19l1 1M8 28l0 0M53 81l-0 0M4 13l-0 0M11 43l0 -0M18 23l-0 -0M46 26l-0 -0M41 50l-0 0M51 50l0 0M38 2l0 -0M87 23l-0 0M88 52l0 0M39 26l-1 -0M42 17l0 -0M43 59l-0 -0M43 72l0 0M35 34l-0 -0M26 36l-0 -0M27 63l0 0" stroke="#3a261e" stroke-width="1.8" stroke-linecap="round" fill="none"/>
</g></svg>
<rect x="115.8" y="951.3" width="20.3" height="3.0" fill="#000"/>
<svg x="197.0" y="876.0" width="87.0" height="90.5" viewBox="0 0 87.0 90.5" overflow="hidden">
<rect width="87.0" height="90.5" fill="#b8b8d0"/><g filter="url(#hb)">
<path d="M63 43l0 1M5 36l1 -1M62 52l1 -1M45 15l0 -1M48 70l-3 -1M60 8l-2 -2M77 48l-2 1M50 82l-0 2M69 55l-1 -1M15 23l-1 -0M41 3l-0 0M11 1l0 -0M38 14l-0 1M61 86l-0 0M53 55l-0 1M40 49l-1 -0M9 79l-2 -2M53 4l1 -1M81 3l-2 -1M29 52l-0 1M13 29l0 0M51 0l-0 2M21 66l0 1M39 41l1 2M33 81l1 1M66 39l1 -2M72 1l-0 1M76 37l1 -2M19 15l-1 -1M75 19l1 0M43 49l-0 0M12 13l-1 1M8 -1l2 0M51 77l-0 -0M51 90l-2 -0M42 82l-1 -2M71 49l-0 -0M50 -0l-1 1M83 24l1 -3M53 60l-1 -2M12 9l-1 -1M77 88l1 -0M41 79l-0 0M13 48l2 -1M5 88l-1 2M13 35l-0 -0M69 91l-0 -0M25 14l-2 -0M78 64l-0 -0M13 3l1 2M23 53l-1 2M1 10l0 0M53 15l2 1M72 73l0 -0M7 65l0 -2M68 8l-1 -0M83 91l-0 -0M83 77l2 -1M84 13l-0 -0M32 52l1 -0M23 4l1 -2M18 68l-0 -1M3 32l-0 0M1 75l-0 0M27 60l-1 -2M18 76l-2 1M66 63l0 1M46 65l-2 -2M3 85l1 -0M70 43l3 -0M6 34l-3 -0M51 77l1 2M54 69l0 -0M63 55l-2 2M87 73l2 -1M50 23l-0 -0M18 75l-2 -0M13 81l-0 -1M3 55l-1 -3M14 49l-1 -3M27 3l2 -1M86 91l-1 -1M31 57l2 -0M68 13l-1 -2M2 74l-2 -0M84 85l-0 -0M56 37l0 -0M70 91l-1 -0M73 69l-1 1M76 61l1 0M50 89l-0 -1M57 18l1 1M39 20l-1 -1M47 85l-0 -2M46 46l1 1M7 27l0 -0M39 62l0 0M9 75l-1 0M27 48l-0 2M54 82l0 0M77 27l-1 -3M54 78l0 -1M13 64l-0 1M69 31l-0 -0M19 4l-0 -0M22 29l1 1M84 24l-2 1M42 79l1 2M40 36l1 -1M59 35l1 -0M84 13l1 1M2 38l0 -1M27 75l-1 -1M27 17l2 -1M64 9l-0 -1M20 81l-1 2M33 31l1 1M63 79l-2 1M57 42l1 2M37 5l1 -3" stroke="#dcdbe8" stroke-width="1.5" stroke-linecap="round" fill="none"/>
<path d="M78 85l1 -3M85 52l2 1M46 80l1 0M57 52l-0 -0M78 20l-0 -0M64 27l2 -1M40 60l-1 -1M70 31l0 -1M30 67l2 -0M14 51l-0 3M82 4l-2 2M14 60l1 1M64 49l0 -2M82 19l2 1M28 54l-1 3M75 56l-2 -0M36 85l-0 -2M67 30l-1 -2M27 91l0 -0M2 36l1 -1M57 42l1 -1M63 43l1 0M41 16l2 1M1 69l-0 -1M65 21l-1 -1M54 60l-0 -1M78 67l-1 -0M87 10l-1 0M0 61l-1 0M65 2l2 -0M70 45l0 0M76 67l-0 0M50 28l0 -1M31 19l0 -3M88 39l0 2M28 79l-1 1M16 15l-3 -1M42 29l-2 0M34 41l0 -0M60 59l-1 2M26 36l0 -1M43 72l1 -0M53 10l-1 -2M36 77l1 -0M7 90l1 2M7 8l0 2M48 -0l2 -1M44 58l1 2M0 39l-0 1M13 22l-1 1M66 36l-1 3M83 82l0 -0M87 40l-1 -0M15 26l1 0M64 33l3 1M33 76l-0 0M7 38l1 -0M47 57l0 1M44 21l-1 -2M75 15l0 -0M29 81l-3 -1M26 76l-0 1M16 55l-2 -1M38 29l1 1M31 73l3 -1M14 74l-2 -1M70 40l1 0M15 86l1 -1M48 7l2 -1M86 73l1 1M45 -0l1 -2M50 59l-0 -1M44 90l2 -1M31 91l0 0M50 52l-1 -1M16 79l-1 0M11 13l-2 -0M69 8l1 -1M65 49l-1 0M57 36l-0 0M57 18l-1 -1M81 54l-0 0M41 68l0 -0M44 82l-1 -1M39 46l0 -0M27 79l1 -2M71 41l1 2M72 22l-0 1M49 56l0 1M22 60l0 -0M53 21l0 1M65 75l-0 2M1 10l0 -3M2 52l0 -0M79 61l2 1M39 29l0 0M57 68l0 0M16 14l1 0M55 32l1 -0M42 8l-0 0M37 61l-1 -1M10 13l-1 1M29 49l0 -0M45 12l-0 0M36 8l-2 -1M52 72l1 -0M35 89l1 0M63 6l0 -1M62 88l-2 1M57 26l1 1M4 13l1 2M60 8l-1 1M20 80l2 0M77 4l3 -0M15 69l1 -0M36 45l0 0M39 74l-0 1M4 79l2 1M25 90l-2 2M9 48l2 -1M13 69l0 3M29 31l0 -1M30 76l-0 0M31 89l-1 2M65 42l2 -2M17 30l1 1M80 85l2 1M39 23l0 -0M80 55l0 1M55 21l-1 1M26 74l1 1M78 26l-1 -1M85 6l0 -0M4 60l1 -2M74 88l-0 -0M76 42l2 -1M29 71l-2 -1M59 69l2 -1M52 21l0 1M10 63l-1 -1M70 84l-0 0M9 89l1 1M2 72l-1 3M27 0l-0 0M29 21l-1 2M53 74l-2 -0M15 10l-2 1M21 46l2 -1M3 76l-0 0M32 71l1 2" stroke="#a8a4b4" stroke-width="1.6" stroke-linecap="round" fill="none"/>
<path d="M86 55l1 -1M11 61l1 -0M62 26l2 -0M30 48l-1 1M4 4l-1 -0M77 28l1 -0M71 24l1 -2M0 25l-0 -0M71 27l-0 -1M16 20l0 -1M34 41l1 2M8 82l2 -1M23 16l0 -0M76 72l1 1M70 57l-1 1M66 19l0 -1M17 70l1 -0M88 14l2 0M70 70l0 0M39 15l1 -0M4 68l-1 2M80 17l-0 -0M61 34l-0 0M13 38l-0 -0M38 46l-0 2M35 36l-0 -0M58 47l-0 0M2 42l0 -0M48 75l2 -0M81 59l2 -0M72 49l-1 -0M13 91l-2 -0M26 79l2 1M-1 3l2 0M51 6l1 -0M58 65l1 -2M19 36l-0 -1M8 59l1 1M32 65l-0 1M6 27l0 -0M74 10l1 2M11 40l1 1M81 70l0 1M16 84l1 -2M80 10l-0 -1M66 7l1 1M49 54l-0 -0M11 39l2 2M13 53l-1 2M38 43l2 1M41 26l2 -2M50 44l1 1M82 54l1 -1M78 38l1 0M64 60l-1 1M56 10l-1 -1M50 57l-0 1M61 49l-0 -1M71 74l1 -0M21 27l-0 1M40 71l-1 2M37 42l-0 0M86 90l1 0M71 52l0 2M24 41l0 1M3 83l1 -1M24 -1l1 -1M9 30l0 1M85 58l0 -1M27 90l-1 -2M70 16l1 1M54 3l-0 0M83 52l-1 -0M49 90l-0 -0M59 41l-2 2M45 10l-0 1M59 17l-1 -1M50 11l2 -1M59 30l-1 1M85 45l1 1M54 91l2 -1M18 62l1 0M24 47l-1 -1M73 10l-2 1M13 20l-1 1M5 43l-1 1M7 41l-2 -0M58 57l-1 1M76 74l0 -0M12 12l-2 1M25 22l1 0M61 47l-2 -2M45 -0l-0 -0M75 45l1 -2M41 -1l1 -0M74 86l-1 -1M17 41l-1 -0M1 46l-0 1M10 3l-0 0M82 82l-2 -1M7 19l-2 -2M26 21l1 0M42 76l1 2M30 83l-0 0M60 14l-1 1M34 -1l1 -0M23 66l-1 -2M73 35l2 1M28 75l-1 0M32 36l-1 1M51 88l-1 0M8 41l0 -0M41 41l0 -1M20 5l-1 -0M30 34l1 -1M23 90l0 -0M83 74l-0 2M43 82l-0 -2M44 35l1 2M62 69l2 -1M43 79l-2 0M21 91l-1 1M38 79l-2 -0M63 6l-0 0M50 59l-1 -1M18 26l-0 1M48 29l-1 1M-1 56l-0 0M38 76l2 1M52 46l1 -1M1 67l-0 -0M70 78l1 2M18 58l-0 0M58 50l1 0M0 -0l-1 -0M10 42l-0 1M6 9l-2 0M75 42l-2 -1M44 2l0 1M80 33l-2 -1M42 1l0 0M61 32l0 -0M27 6l-1 2M75 57l-2 -1M42 4l0 -0M27 -0l1 0M46 44l-1 2M6 42l1 1M49 37l-0 -0M10 74l-0 -1M79 36l-0 -0M21 41l0 -0M37 83l-0 -2M79 56l-2 0M63 79l1 2M31 15l-0 -0M29 48l-1 1M2 87l0 -0M15 23l1 2M59 90l-0 1M68 60l1 -1M65 56l1 1M35 55l0 0M82 29l-1 -0M19 56l0 -0M77 29l-1 -2M65 88l1 -1M0 90l0 -1M52 2l-1 -2M13 59l-2 -0M71 23l-0 -1M32 40l-0 -1M52 82l-0 -1M38 56l2 -1M51 79l1 -2M47 69l-1 -1M75 2l1 -1M75 48l-1 -2M41 29l2 -1M44 36l2 -2M59 75l1 -1M10 60l-1 -0M69 87l-0 -1M48 84l1 -1M44 25l2 1M49 16l-0 -0M38 63l1 1M79 87l0 -2M79 72l-0 -0M33 88l-0 -0M49 51l0 1M43 24l-1 -0M63 74l-0 -0M1 78l-1 1M27 5l1 0M29 57l-1 -0M43 21l-0 0M36 16l1 1M76 61l-1 -0M82 29l0 0M49 14l0 -0M47 69l2 1M13 0l-1 -0M47 75l2 -1M-0 -1l-0 0M40 24l-2 -0M87 16l0 0M42 -0l0 1M66 59l-1 -1M80 76l-0 -0M62 24l0 -1M80 34l1 -1M80 78l0 -0M51 -1l2 0M17 83l-0 0M53 32l0 1M36 33l-0 -2M19 82l2 1M31 20l2 -0M66 47l-0 0M17 9l-1 -1M80 17l-0 -1M73 61l-2 -1M78 12l-2 -1M80 74l1 -1M13 40l0 -0M20 49l2 -0M31 65l1 -2M19 88l0 0M23 26l0 1M24 78l-1 2M79 13l-1 2M70 57l0 -1M63 54l1 -1M20 19l0 -1M68 53l0 -2M-1 83l-2 0M86 8l-1 0M51 61l-1 2M14 39l-2 -1M76 87l-0 -0M69 27l0 1M54 46l-1 -1M28 34l0 -0M48 85l1 -0M69 60l1 2M49 5l-0 -1M79 16l2 -1M79 49l-0 -0M58 36l0 0M13 88l0 1M9 66l2 0M72 28l0 1M82 15l-2 2M49 79l1 1M57 19l-0 2M61 14l-2 -1M36 11l0 -0M79 10l-2 -0M55 3l0 1M34 44l-2 0M45 16l1 0M63 18l-0 0M80 50l2 0M13 28l2 -1M10 56l-1 -0M51 22l-0 1M81 76l-1 -2M18 48l-2 1M78 66l1 0M31 60l-0 0M1 52l2 -1M38 32l0 -0M42 75l0 -1M57 80l-0 -1M53 78l0 0M32 51l-1 1M57 13l-0 1M33 25l-1 -1M65 7l-1 1M19 65l1 2M69 28l2 -1M72 57l0 -2M75 9l1 -0M30 43l-1 -1M32 5l-0 1M31 25l2 0M72 68l-1 1M17 48l1 -0M42 8l2 2M46 89l0 -1M77 65l2 -0M67 4l2 -1M19 56l0 -1M86 41l-1 2M32 61l1 -1M51 54l0 2M33 22l1 1M34 81l-0 -0M44 83l-1 -0M65 26l2 -1M39 41l-1 0M62 10l-0 -0M71 20l-1 -0M82 25l1 1M24 -1l-1 -2M65 84l-2 -1M72 90l-0 2M79 3l-0 0M45 41l2 1M65 28l-0 2M45 76l-1 -0M19 74l-1 1M51 24l-0 -0M69 89l-0 1M60 41l-1 -0M14 60l1 2M61 71l-1 1M77 61l0 -0M79 35l0 -0" stroke="#6266a6" stroke-width="1.8" stroke-linecap="round" fill="none"/>
<path d="M58 24l0 -0M18 2l-1 -0M73 74l1 -0M23 69l2 1M78 70l-1 -1M4 26l1 -1M46 2l1 1M36 85l0 0M-1 32l0 0M73 64l-1 1M-1 32l-0 1M22 76l-1 0M11 8l0 0M1 36l0 0M55 11l-0 -2M64 72l0 1M78 0l1 1M43 74l1 1M88 59l-1 0M18 78l0 0M25 17l0 -1M59 47l1 0M84 9l-0 2M25 71l1 -0M37 45l-1 -0M16 13l-1 -0M77 1l-0 -1M63 7l-0 0M73 16l1 0M19 42l-1 -0M34 43l1 0M20 7l0 2M64 72l0 0M11 9l0 0M82 54l1 -0M10 5l-1 -1M78 23l0 1M70 44l1 1M39 19l1 1M45 62l-0 1M43 6l0 0M67 26l2 -1M18 66l-1 1M72 79l1 0M76 79l-1 -2M86 49l-1 -1M5 52l-1 1M17 20l2 -1M16 68l-1 2M68 19l-0 -1M17 30l1 1M82 19l-0 0M60 3l1 1M-1 33l-1 -2M36 79l-1 0M57 35l-0 0M12 42l0 -1M72 88l1 -2M42 86l0 -0M32 45l0 0M30 51l1 1M74 7l0 1M83 60l1 1M7 60l-0 -2M29 28l-0 0M71 68l0 0M47 81l-1 1M48 -0l2 -0M23 76l-0 2M64 79l1 0M62 73l-1 -0M57 2l0 1M28 29l-1 1M56 29l-2 -1M84 55l2 -1M48 23l0 2M3 61l-2 0M87 52l1 -1M11 62l1 -1M76 17l1 -0M47 31l-1 1M31 72l-2 1M62 41l1 -0M32 67l-0 -0M53 44l-0 0M65 -1l1 1M29 62l-0 -1M13 78l1 -0M11 51l1 -0M81 75l2 0M20 8l0 0M1 49l-0 -0M12 18l-0 1M21 10l-1 -1M75 36l-1 0M33 6l0 0M12 40l0 -1M78 63l0 0M3 80l0 -0M60 37l-1 2M36 77l-2 -1M50 36l0 -2M-1 88l2 -1M5 22l1 1M29 31l-0 -2M76 46l1 2M88 32l-0 0M86 1l-0 2M24 19l0 -0M73 68l1 -1M76 46l0 -1M5 63l0 -1M41 76l-0 -0M24 20l0 -2M71 37l1 -0M6 45l0 -0M14 25l-0 1M39 22l-0 -0M29 45l-0 2M29 82l-1 0M-1 53l1 -1M2 6l-1 -1M65 83l-0 0M87 55l-0 -0M1 90l0 -0M19 56l-0 0M13 68l1 -0M74 47l0 0M87 58l0 -0M51 18l-1 -1M11 91l-1 1M80 69l0 -0M38 27l-0 -0M16 75l-1 -0M83 61l0 -0M85 91l0 0M66 33l1 -1M42 50l-1 -0M53 24l-2 -0M69 50l0 -0M72 69l1 1M84 8l-1 -1M7 33l0 -1M36 20l-2 0M50 85l-2 0M63 67l2 1M42 3l-1 -0M22 15l0 1M41 29l1 1M24 69l0 2M28 90l0 -0M22 65l-0 -0M87 90l-1 1M46 32l-1 -1M48 90l1 1M52 37l-1 0M39 45l-0 2M12 88l-2 -0M26 35l0 0M58 13l1 0M55 38l0 -1M22 81l-1 -2M66 54l1 0M84 21l-2 -0M12 87l2 -0M77 38l1 0M64 53l-0 -0M68 66l0 -1M73 78l-0 -2M22 64l-1 -0M19 67l-1 -0M70 15l0 2M10 24l-1 -1M4 57l-1 -1M74 62l-0 1M22 29l-0 -0M37 55l-1 -1M39 84l2 0M56 32l1 2M22 62l-0 -1M50 60l0 0M46 34l1 0M31 11l-0 -0M71 12l0 -0M52 82l0 0M21 62l-0 -0M37 54l-0 0M65 5l-0 -0M36 44l-2 0M3 84l-2 -1M1 55l-1 -0M65 4l1 -2M38 83l-0 0M70 85l-2 1M38 79l-0 1M35 4l0 1M2 13l0 2M33 50l1 1M18 74l-1 1M8 46l1 -2M14 70l0 1M58 26l2 -0M21 50l-1 0M56 44l-2 1M48 42l1 -1M46 26l-2 -1M81 62l1 -1M37 73l-0 0M40 51l1 1M57 41l-1 -1M79 52l-1 -1M65 86l1 0M6 43l-0 0M72 0l1 -1M62 65l0 1M73 18l0 0M72 54l2 1M6 26l-0 -0M69 77l-0 0M52 84l-0 2M2 37l1 1M28 9l0 -0M72 45l1 1M34 33l0 -1M11 28l-0 1M42 55l-0 -2M25 21l-1 -1M30 1l-1 -0M38 28l-2 1M56 49l-1 -1M17 -1l-0 -1M28 43l-1 2M86 4l-0 -1M61 82l-0 1M79 4l-0 -0M65 14l1 -1M13 64l-2 -1M85 67l0 -0M41 42l0 -1M30 58l1 1M56 24l0 0M16 41l-0 2M60 85l-1 1M36 72l1 -2M64 5l1 -0M21 27l0 0M82 53l-1 0M7 19l2 1M12 71l-1 1M74 88l-0 2M72 86l0 0M38 62l-0 0M85 13l0 0M52 36l-2 1M51 59l0 2M38 34l-1 0M65 51l-1 -0M46 70l0 1M0 66l-1 1M59 81l2 -0M23 79l-1 -1M62 6l-1 0M25 51l0 1M58 31l-2 1M74 69l-2 -0M25 72l-1 -0M58 81l0 1M13 72l0 -0M50 75l1 1M23 52l1 -1M79 33l-1 -1M43 14l-0 -0M87 10l1 -1M45 12l1 -1M43 81l-0 2M25 51l-0 0M22 48l-0 -0M43 50l0 0M85 46l-0 -1M84 61l-0 -1M29 23l-0 1M25 7l1 -0M9 84l1 2M43 5l-1 0M17 6l1 -1M61 30l-0 -0M28 18l1 1M27 61l-0 -0M43 89l-2 -1M33 25l1 -2M68 53l-0 -0M36 32l-0 0M45 16l2 0M87 81l0 0M76 68l-1 -0M6 52l0 2M0 24l-1 1M74 25l0 1M74 87l-0 1M16 54l-1 2M67 10l1 1M56 62l1 0M37 11l0 1M47 25l-0 0M26 56l-1 -1M79 15l0 0M39 32l1 -1M76 89l-0 -0M13 3l-1 -0M39 85l0 1M28 65l1 -1M72 28l1 -0M40 77l1 0M81 58l0 1M28 25l0 -0M48 68l2 0M22 83l-0 1M29 19l-2 1M74 85l1 1M87 11l1 1M3 1l0 -1M63 51l-1 0M7 41l2 -1M42 50l-1 0M67 57l-1 -1M80 25l-1 1M53 80l0 2M80 61l-1 1M57 23l1 -1M85 74l1 0M86 75l0 -1M65 18l1 1M56 5l1 -2M87 79l-0 -1M36 11l-0 1M85 53l-1 -0M85 34l-1 2M52 34l-0 -2M4 48l1 -0M75 78l-1 2M14 57l0 -1M61 66l-0 -0M43 31l1 -1M59 13l1 -2M64 38l0 -2M56 9l-1 0M14 77l1 1M33 15l0 -0M9 3l0 -0M28 41l-1 -0M4 82l0 -2M59 29l-1 -0M1 11l-1 0M31 58l0 -1M33 28l-2 1M83 19l-1 1M1 18l1 -1M67 33l-0 1M9 69l-0 -1M31 73l-1 0M66 22l-1 1M0 51l-0 0M2 18l0 2M49 2l0 -2M34 18l1 1M57 64l-1 2M20 55l-0 -1M81 2l1 -0M29 58l1 0M62 36l-1 1" stroke="#4c5096" stroke-width="1.8" stroke-linecap="round" fill="none"/>
<path d="M63 26l-0 -0M83 46l-1 2M29 26l-0 -0M74 17l-1 -0M16 52l-0 -0M33 56l0 -1M75 56l-1 1M52 23l0 -0M55 72l0 0M3 43l0 0M5 67l-1 1M19 53l-0 1M53 5l0 0M20 54l2 0M56 67l0 0M37 1l-0 -1M6 6l-0 0M42 82l-1 0M32 34l1 -1M67 84l1 -1M38 48l-1 -1M31 48l0 0M50 38l1 -0M54 42l-2 0M25 58l-0 -2M18 84l0 1M23 2l0 -1M67 53l-1 -1M25 31l-1 1M56 54l-1 1M22 75l0 0M62 11l-1 0M54 30l-0 -0M50 63l1 0M35 36l-1 -0M35 17l-1 -0M44 39l-2 -0M59 84l-1 1M7 71l0 0M1 -0l-0 0M46 78l-1 0M47 2l-0 -1M22 4l2 -0M45 34l-0 1M13 87l0 -2M21 79l-1 -1M2 12l1 -1M63 0l0 1M68 8l1 -1M4 83l1 -1M57 58l1 0M85 71l0 0M67 36l-1 -2M41 5l1 -0M10 4l-0 0M41 52l-1 0M8 90l0 -0M8 16l1 -1M66 78l1 -1M66 42l1 -1M49 50l-1 1M2 72l0 -0M48 10l-1 1M1 13l1 -0M80 82l1 1M58 42l1 -0M40 7l0 0M73 84l-2 0M71 54l-0 1M63 55l0 1M73 57l0 -0M54 75l-2 -0M34 29l1 -1M64 81l-1 -0M58 8l-0 -1M30 84l1 -0M82 91l-1 -0M5 7l-0 0M84 90l0 0M49 86l-1 -0M5 75l0 -0M17 34l0 -1M20 25l-0 -0M62 9l-1 -0M79 77l1 -0M82 20l-1 -0M52 21l1 1M60 79l-1 1M70 81l-1 -0M17 17l0 0M26 66l-0 -1M25 91l-1 1M66 90l-1 -1M74 69l-1 -0M63 19l-0 -1M63 23l-1 1M11 17l-0 -0M69 70l-0 0M15 73l-1 1M70 2l-1 2M19 44l-0 -1M78 9l0 -1M9 90l-0 1M34 74l1 -0M30 62l1 -0M42 35l0 1M87 33l0 0M68 34l1 1M56 63l1 1M83 40l-0 0M5 79l-1 1M53 38l-0 1M7 52l-0 1M46 41l1 -1M20 15l0 1M67 18l-0 -0M25 1l-1 -1M55 26l-1 -1M55 35l-1 -0M12 62l1 -0M23 73l-0 1M59 20l1 1M13 6l-1 -1M76 48l0 -1M29 71l0 1M24 44l-1 -0M27 43l-1 0M41 35l-0 -0M10 26l-1 -0M55 8l-0 0M68 67l-1 2M9 3l-0 -0M32 41l-1 1M16 26l-0 1M48 24l1 -0M64 76l1 -0M5 11l0 1M88 18l0 -1M13 56l-0 1M82 85l0 -0M8 75l1 1M44 79l1 1M6 79l-0 -0M6 5l-0 1M9 -1l-1 1M35 1l0 -1M37 7l1 1M45 13l-0 -0M58 87l-1 -1M54 90l-0 1M8 55l-0 -1M60 55l-1 -0M20 83l-0 0M6 9l0 0M35 27l1 -1M22 54l1 1M27 28l-1 -1M63 14l1 -1M80 16l-1 0M19 57l-0 -0M59 65l1 1M4 59l1 1M67 8l0 1M17 19l0 -0M33 65l0 -1M80 73l-0 -0M50 69l-1 -0M23 0l-1 1M59 82l1 1M77 78l0 0M88 35l-1 1M14 20l0 -0M78 36l-1 -1M37 33l-0 -1M69 29l0 -2M65 46l1 -1M26 59l1 1M23 27l1 1M56 20l0 -1M5 29l-0 1M39 22l-2 -0M86 16l0 -0M-0 54l0 -0M61 74l1 -0M77 88l1 1M20 36l-0 0M63 61l-1 -1M36 69l-0 -1M16 31l0 0M68 38l1 0M1 37l-0 -0M41 26l-1 0M79 66l-1 -0M18 60l-0 -0M9 78l0 0M65 86l0 0M67 78l-0 1M43 8l0 -0M30 8l-0 1M19 86l-1 -1M12 90l1 1M1 3l0 -1M84 76l1 0M6 89l-0 1M61 36l-0 2M42 87l0 0M45 88l-0 0M17 64l1 2M64 49l0 0M-1 62l-2 -1M66 83l-1 1M56 83l-0 -1M28 70l0 0M41 19l-1 1M43 73l-2 0M41 66l-1 -0M86 46l1 1M58 11l-1 -1M14 24l1 0M87 28l-0 -0M63 89l-0 -0M24 40l0 0M29 38l-1 1M18 75l2 1M53 30l1 0M75 85l1 -1M78 31l1 1M39 69l-0 -1M12 38l-1 -1M59 70l0 -0M39 36l0 -0M49 84l1 -1M71 57l1 -0M66 91l-0 -1M0 78l-0 -0M13 63l1 1M28 5l-1 1M10 69l1 0M42 84l-1 -1M12 83l0 -2M38 51l0 -1M70 31l-0 -0M73 60l0 -1M72 83l-0 0M30 19l-0 1M65 26l0 1M5 40l-1 2M71 8l0 0M84 52l1 1M87 28l-0 -0M9 88l0 0M-1 91l-0 0M65 80l-0 2M84 12l0 0M49 13l1 1M69 32l0 -0M49 73l-1 0M47 68l1 0M62 10l-1 -1M10 81l-1 0M37 58l0 0M46 85l1 -1M71 30l1 1M62 26l-0 -0M3 86l-1 -1M5 49l0 -1M18 7l1 -1M60 74l-0 0M16 49l-0 -0M12 25l-1 -0" stroke="#3a3e84" stroke-width="1.7" stroke-linecap="round" fill="none"/>
<path d="M44 65l0 0M57 27l0 -0M55 77l1 0M8 28l-1 -0M32 48l0 1M35 50l-0 -0M55 63l-1 0M74 42l1 1M50 63l-0 -0M5 67l-0 0M73 56l-0 0M37 59l-0 0M6 52l0 -0M3 42l0 0M38 33l0 -0M51 29l0 -1M38 56l1 -0M65 45l1 1M53 27l0 -0M36 23l0 1M53 19l1 -1M53 70l0 -0M42 31l-0 0M47 24l-0 1M58 31l0 -1M53 24l-0 1M40 58l0 -1M83 15l-1 0M69 48l1 -0M39 68l-1 -1M81 41l0 0M55 79l1 0M21 44l0 0M53 81l1 0M58 21l1 -0M86 37l-0 -1M6 72l-0 -1M80 49l-0 0M71 20l0 -1M58 80l-1 -0M47 71l-0 0M40 50l0 -0M50 41l0 -1M81 17l-0 -0M40 38l-0 -0M34 58l-1 0M58 78l-0 -1M31 53l1 -0M50 77l-1 -0M19 37l-0 0M85 38l-0 -1M0 39l1 -0M64 59l1 0M3 46l0 0M60 19l0 -0M83 48l-0 -0M72 0l-0 -0M27 39l1 0M5 50l0 0M-1 35l-0 0M23 53l-0 -0M52 53l1 -0M60 85l-1 0M60 62l1 0M25 38l1 0M43 48l-0 0M59 85l0 0M76 12l0 0M35 51l-0 -0M73 33l-0 0M33 49l-0 0M67 27l0 -0M23 39l1 -0M25 45l-1 -0M58 45l-1 0M57 75l0 -0M83 51l-1 0M25 45l0 -1M49 25l-1 0M42 56l-0 1M28 38l0 0M28 26l0 -0M67 44l-1 -0M30 48l-0 -1M48 81l-1 0M3 76l-0 -0M47 81l0 -0M3 42l-0 -0M45 75l0 1M69 53l0 -0M62 39l-0 0M2 42l-0 -0M54 65l-1 -0M42 41l0 -0M27 66l-0 1M67 5l-0 0M53 73l1 0M10 75l0 -0M-1 39l0 -0M44 37l-0 0M73 51l0 -1M42 23l-0 -0M53 66l1 -0M8 79l1 -1M44 48l-0 -0M34 46l1 -0M19 42l-0 0M52 89l0 -0M-2 36l-0 -0M61 16l0 0M42 66l-1 -0M32 42l0 -1" stroke="#634836" stroke-width="2.0" stroke-linecap="round" fill="none"/>
<path d="M48 28l-0 0M58 29l-0 -1M26 35l0 0M56 50l-1 0M34 13l1 -0M26 75l0 0M35 52l0 0M33 21l-0 0M58 69l-0 0M37 13l0 0M8 47l-0 -0M67 64l-0 0M37 38l0 -0M43 51l-0 1M52 45l0 1M44 13l1 0M39 31l0 1M62 84l-0 -0M53 72l-1 -0M61 67l-0 0M27 38l-1 -1M33 49l0 -1M30 25l-0 1M8 72l0 0M51 48l-0 -0M2 78l0 1M11 46l-0 -0M23 35l-0 0M67 68l-0 -1M47 39l-0 -0M22 35l-0 -1M-1 73l-0 -0M49 32l0 0M36 32l-0 -1M24 51l0 -0M20 77l-0 0M42 19l-1 0M21 45l1 1M43 14l-1 -0M66 72l0 1M8 69l0 0M49 36l-0 -0M48 48l-1 1M23 70l0 -0M64 59l-0 -0M31 32l-0 -1M18 63l0 -0M28 49l-0 -1M12 53l0 0M49 31l-0 1M61 78l-1 0M55 24l0 -0M49 33l-0 -1M62 73l0 -0M47 22l0 1M40 7l-0 -0M19 65l1 -0M29 11l-0 0M32 13l-0 0M32 29l-0 -0M18 29l-0 -0M15 77l-0 0M41 53l1 -1M10 72l-0 0M33 39l-0 -0M34 29l0 -0M36 24l0 0M36 28l1 -0M62 75l0 0M44 19l-1 -0M-0 68l0 0M60 78l0 -0M7 73l0 0M59 24l-0 -1M31 25l-0 -0M35 17l1 0M43 50l0 -0M8 66l-1 -0M39 30l0 -0M62 30l0 0M58 80l-0 -0M45 59l-0 0M24 22l-0 0M2 51l-0 0M32 52l-0 -1M14 64l-0 0M46 24l0 0M71 75l0 0M32 31l1 0M33 27l0 -0M26 30l1 1M18 59l0 -0M55 39l-1 -1" stroke="#4e3426" stroke-width="1.9" stroke-linecap="round" fill="none"/>
</g></svg>
<rect x="207.6" y="951.3" width="20.3" height="3.0" fill="#000"/>
<svg x="288.8" y="876.0" width="88.2" height="90.5" viewBox="0 0 88.2 90.5" overflow="hidden">
<rect width="88.2" height="90.5" fill="#b2a8cc"/><g filter="url(#hb)">
<path d="M73 35l0 1M48 13l-0 -1M82 78l1 -1M1 87l1 3M40 29l1 1M52 56l-0 0M31 56l1 -1M35 0l-0 -0M76 32l2 1M21 2l-0 -3M78 45l0 0M76 64l0 1M34 87l-2 -0M45 21l3 0M80 69l1 1M84 79l2 0M74 54l2 2M1 76l-0 -0M63 11l1 1M54 65l2 1M71 10l0 -0M31 87l-2 -1M2 57l-1 1M83 77l1 0M28 8l-1 -0M65 52l-1 -1M40 25l2 0M-0 41l-0 0M8 84l0 0M66 60l-0 1M62 2l0 1M87 18l-0 -0M13 83l-1 -0M87 13l1 -2M14 64l2 1M1 85l3 0M28 70l0 -2M79 86l-2 -2M67 80l-1 -1M33 35l-0 0M18 -1l2 1M73 56l-0 0M2 30l0 -0M55 66l1 -1M77 38l2 -2M38 10l1 1M64 83l-2 -2M47 53l-0 0M6 88l0 1M49 64l-2 1M89 27l0 -2M28 32l-1 -1M49 5l-3 0M8 85l-0 -2M1 21l-1 -2M20 36l0 0M18 2l1 1M35 38l2 -1M7 73l2 1M53 16l-1 3M2 37l-1 0M86 87l1 2M72 52l1 1M47 67l-0 2M16 65l-0 0M80 88l1 3M43 70l-0 2M46 82l0 -1M17 53l-1 -1M75 88l-0 -0M61 71l2 -0M81 14l-2 -2M48 8l0 0M21 71l-0 1M38 3l0 -0M19 14l-1 -0M46 10l1 -2M10 88l-2 -1M85 76l1 1M2 15l1 -0M88 43l3 1M84 17l-0 -1M29 86l-1 -1M44 65l1 -2M63 74l-2 1M59 72l0 -2M39 14l-2 -0M3 41l-0 -0M-1 68l-1 -0M42 85l-1 1M54 23l1 0M8 76l-0 -0M88 75l-1 -0M29 5l-3 -1M-0 91l-1 1M45 80l0 0M30 73l0 2M69 35l1 -2M61 65l0 0M11 60l0 0M19 74l-0 -0M80 55l1 -2M49 64l3 1M13 43l-2 2M53 11l2 1M26 59l2 0M43 8l-1 0M67 82l1 -1M44 86l-0 -1M70 80l0 -0M48 57l0 1M68 57l-1 -0M44 33l-2 -1M24 85l-3 -0M33 49l-0 -3M58 9l-1 -0M66 51l-1 1M89 91l0 -0M47 11l1 -0M38 7l-1 1M61 42l-1 -1M57 5l-1 -1M43 17l-3 -0M4 30l1 -3M84 14l-2 2M14 42l0 0M36 86l0 -0M0 30l-2 1M36 73l-2 -2M63 20l-2 -2M34 2l-2 -1M81 44l-1 1M70 27l1 -2M6 2l-2 -2M79 44l-1 -0M66 57l-1 -1M55 15l1 -2M78 20l0 1M29 91l0 -0M31 86l1 1M69 21l2 2M59 52l-2 1M30 45l1 2M45 69l-1 2M23 50l-0 -0M60 39l-0 3M18 14l-0 0M74 57l-2 1M59 26l-1 -0M53 67l-0 1M59 78l-1 -0M75 50l-3 -1M27 35l1 -1M32 85l0 0M17 41l1 1M20 4l-2 0M76 39l-0 -0M7 67l0 0M44 51l-0 -1M47 60l-1 0" stroke="#dcdbe8" stroke-width="1.5" stroke-linecap="round" fill="none"/>
<path d="M88 74l1 -2M2 85l-2 -1M59 57l-0 -1M33 82l1 0M81 46l-1 -2M6 3l1 -1M22 75l0 -1M46 81l-0 0M15 24l1 -1M38 72l0 -0M57 56l-0 -1M45 91l1 -1M61 26l-1 -1M41 2l-1 -1M73 69l0 -1M75 8l0 1M68 11l-1 -1M79 42l0 0M21 66l-0 -2M13 32l0 -0M70 43l1 0M24 15l1 0M34 33l1 1M85 16l-1 -2M2 62l0 1M11 53l1 1M42 71l-0 -0M35 29l-0 -1M68 5l0 -1M84 66l0 0M32 73l0 -0M74 24l-1 -1M2 52l1 -1M68 55l1 -0M12 85l-0 -1M30 45l-1 0M84 6l-0 -1M57 58l-1 1M72 68l0 2M56 65l-1 1M9 2l-2 -0M43 76l0 -2M6 21l-1 1M75 85l1 1M65 76l-1 0M61 83l1 0M23 30l1 0M3 53l1 1M41 44l0 0M73 38l-0 -0M25 41l1 0M82 29l0 1M21 47l1 1M70 -0l-1 0M25 55l-0 -0M56 19l-1 1M61 70l1 -0M59 29l1 1M10 57l-0 1M55 34l0 -0M61 91l-1 -0M21 6l-1 0M26 62l1 -0M69 31l-0 0M14 84l-2 0M45 43l0 2M47 73l-0 1M30 14l-1 1M73 5l-1 0M25 17l-1 0M61 53l0 1M33 0l-0 -2M20 34l1 1M34 17l-0 1M63 25l1 0M68 18l-1 1M33 51l-1 0M55 7l1 -1M77 11l-0 -2M46 31l0 1M39 3l-0 0M40 45l-1 -0M41 39l2 -1M49 35l0 0M2 62l1 -1M38 31l1 -2M82 65l0 -0M6 60l0 -2M32 28l-1 -0M21 1l0 0M87 72l-2 -0M66 90l-0 1M41 75l-0 -1M40 74l-1 0M46 62l0 0M19 79l1 -1M39 75l0 -0M53 74l-1 1M39 26l-0 -0M25 17l-0 0M34 75l-0 -1M85 24l-0 -2M7 90l0 0M58 46l-0 0M67 83l2 -0M23 40l-1 -0M56 25l0 0M72 85l0 0M2 26l-0 1M54 63l1 1M4 69l-0 -1M78 86l-0 0M20 29l0 -1M64 49l0 -1M60 -0l0 -1M13 9l-0 -0M-0 80l0 0M88 84l-0 0M87 17l0 -1M59 51l0 1M76 29l0 1M11 79l0 -0M23 41l1 -1M8 81l-1 -0M23 58l-1 -2M42 17l-1 -1M8 57l0 -0M89 60l-0 0M27 76l-1 -0M32 5l-0 -1M41 89l1 -0M45 83l0 -1M64 78l-0 -1M87 20l-0 -0M30 11l1 1M64 53l0 -0M23 36l-1 1M84 61l-1 1M77 71l1 -0M11 2l-0 -0M55 43l1 0M42 38l-2 -0M1 26l-2 -1M51 59l1 1M44 41l-2 1M58 29l0 -2M9 91l-0 0M-0 71l-1 0M42 86l1 -2M4 61l0 -1M34 55l1 0M36 8l2 -1M25 3l0 0M37 59l-0 -1M31 21l-0 -0M54 2l-1 1M46 3l-0 0M7 62l1 2M30 2l1 -1M28 29l1 1M64 78l2 0M24 1l-1 1M84 72l-0 0M72 60l-2 0M45 27l1 -1M-1 33l-1 1M28 73l1 -1M11 72l1 1M2 41l-1 -0M32 66l1 0M21 21l1 -2M21 28l0 -0M57 15l-1 1M87 83l-0 0M69 1l-1 -1M1 17l-0 1M29 11l-1 -1M52 64l0 1M36 41l1 -2M69 35l-1 -1M37 84l-1 1M24 77l0 0M6 91l-0 0M5 4l0 1M72 86l1 -1M39 36l0 0M75 54l1 1M39 89l-2 -1M77 61l-0 -1M65 9l0 -1M68 46l1 -1M4 5l-1 -1M36 55l1 1M34 6l0 1M11 55l1 1M43 78l0 -0M54 48l1 1M80 47l-1 -0M74 9l-1 1M79 74l-0 -1M31 43l-1 -1M14 33l-2 1M25 2l1 -1M74 40l-0 0M86 78l0 -0M81 65l-1 -1M17 57l1 -0M70 14l1 -1M4 45l-0 -1M19 -1l0 -0M9 2l-0 1M21 10l1 1M15 19l0 -1M0 67l-1 -0M6 52l1 1M81 14l-1 -1M23 34l-0 1M11 21l-0 1M62 10l0 0M79 1l0 2M16 89l-0 0M22 14l-0 0M39 7l-1 1M47 48l1 -2M55 51l1 1M32 20l-1 1M74 65l-0 0M50 9l2 -1M62 90l1 1M56 14l0 0M64 91l0 -0M54 64l0 2M50 28l-1 -1M61 68l-0 -0M45 21l-1 0M39 89l0 0M30 69l1 -0M40 7l0 0M16 76l-1 2M34 90l-1 -0M40 51l-0 1M45 64l0 0M69 84l0 0M14 49l2 0M46 67l1 -0M79 47l-0 -1M77 41l1 1M89 53l1 1M84 14l1 1M19 66l1 -1M77 61l1 2M61 61l0 0M69 30l0 1M73 89l0 2M6 66l-2 -1M43 32l-2 0M20 5l-0 0M30 15l0 -0M22 44l0 0M44 47l-1 1M79 22l-1 -1M54 49l-0 -1M86 3l-0 -2M75 29l0 0M81 14l-0 0M57 27l0 -1M0 43l-0 -2M77 29l-1 -2M71 41l-1 -0M55 73l1 1M84 55l1 -1M47 20l2 -1M4 80l0 -0M70 67l-0 1M55 24l-0 -0M34 0l-1 1M85 37l1 1M31 12l1 -1M4 73l-2 -0M4 44l0 0M48 62l0 1M86 64l1 -1M72 23l-1 1M48 3l1 0M59 85l0 -1M20 44l1 0M88 52l1 -1M60 80l1 0M52 52l0 0M70 48l1 0M6 83l2 -0M39 75l1 1M44 2l0 -1M50 65l-2 0M23 87l-0 -0M88 62l-1 -1M49 87l1 -2M14 75l0 -2M57 30l1 -0M50 13l-0 2M8 53l-1 -1M4 71l-0 0M21 33l1 -0M5 24l0 0M67 21l-0 -0M9 35l1 -0M19 27l0 0M31 44l-1 -0M81 39l0 1M8 89l-1 -1M20 0l0 0M64 23l-1 -2M47 78l0 0M46 72l-1 0M84 28l0 1M73 22l-1 2M5 9l-2 0M34 9l-2 -1M0 40l-2 -1M13 45l-1 -1M64 63l2 0M41 45l-0 0M31 57l1 1M35 30l0 -1M-1 35l2 -0M73 69l1 1M32 86l-0 -1M50 17l-1 -2M76 14l0 -1M46 65l-0 -0M58 28l0 -1M37 86l1 -0M79 49l1 0M53 -0l-2 -0M32 86l-0 -0M81 41l1 -0M17 69l0 -1M61 18l-1 1M89 25l-1 -1M75 81l0 -0M78 70l1 -1M65 10l-1 -1M-1 19l0 -0M4 63l1 -0M76 72l-1 -1M81 60l-1 -1M56 42l-1 -1M51 24l-0 0M10 81l-0 -1M10 63l0 -0M85 19l1 1M9 91l-1 1M9 25l2 -1M78 70l-2 -0M72 10l-2 1M2 16l0 0M66 21l-0 0M1 58l-2 0M74 64l1 -0M3 48l-1 -1M62 70l1 0M39 82l-1 -0M31 36l1 1M89 53l-1 -1M6 11l-1 0M59 89l1 1M23 22l0 0M41 5l0 -0M82 56l1 -0M51 63l-0 -1M48 29l1 1M58 52l1 1M74 34l1 -0M72 6l-0 2M66 10l-1 -1M61 4l1 -1M14 19l-1 1M33 51l1 -1M34 7l1 2M86 71l1 1M65 80l-1 0M85 56l1 0M0 38l0 -0M-0 71l2 -1M81 62l1 1M69 26l-1 -1M24 37l-0 -0M10 54l-0 -1M6 74l-0 2M45 71l-1 -0M42 26l2 -0M80 67l0 0M62 69l0 0M22 78l0 -0M70 20l1 1M50 86l1 -1M46 50l2 1M32 73l-1 -0M20 66l-0 -2M48 58l-0 0" stroke="#8a80bc" stroke-width="1.6" stroke-linecap="round" fill="none"/>
<path d="M69 22l-0 -0M9 15l0 0M16 78l1 0M18 60l-1 0M16 4l1 1M71 41l0 -0M47 55l1 0M82 91l-1 0M46 10l-0 -1M79 14l-1 -1M73 16l1 0M42 73l0 -1M44 7l-0 1M2 37l1 -1M3 56l0 0M32 5l-0 -1M38 -0l-1 -0M57 80l2 -1M23 36l-0 1M80 18l0 -0M68 2l1 -0M64 22l0 0M82 79l1 -0M84 71l0 0M49 29l0 1M42 15l1 0M65 0l0 0M-1 10l0 2M2 11l1 -0M24 8l-0 1M3 51l-1 -1M31 21l1 -0M83 43l1 -1M44 80l-0 1M16 25l-1 1M20 79l0 1M81 87l0 -2M82 56l0 1M54 11l-1 -1M45 43l-1 -1M51 61l0 1M69 27l0 0M87 3l-2 -0M55 63l1 0M14 9l-0 0M39 68l-1 0M22 13l-1 0M33 66l1 2M7 43l1 -1M31 60l-0 1M23 76l0 -0M37 83l-1 -0M39 46l0 -0M15 25l0 -0M34 17l0 -1M3 29l0 0M73 84l-1 -0M57 21l-1 0M25 25l0 1M10 61l-0 0M39 56l0 2M44 61l1 0M54 39l1 -0M42 75l0 1M85 86l0 0M4 61l1 -1M39 65l2 -0M53 63l-0 -1M-0 41l-2 1M83 47l-1 1M12 39l-1 -0M22 73l1 1M28 76l0 1M29 2l1 -0M30 85l1 0M10 85l-0 -0M86 36l-1 -0M45 61l0 -0M84 60l1 -1M8 65l1 0M76 26l-1 0M24 67l1 1M12 62l0 -1M67 54l-0 -0M10 42l1 -1M87 85l1 1M39 88l-0 -0M4 78l1 1M36 44l1 1M68 28l-0 0M9 69l-0 0M21 51l-0 -0M31 65l-0 -0M83 87l2 -1M55 18l-0 -1M20 25l-1 1M54 32l2 -0M20 17l-1 -0M52 4l-0 -1M80 38l0 -0M67 61l0 0M20 67l0 1M87 44l-1 0M49 77l-1 0M65 35l-0 2M30 67l-2 1M31 28l-1 -1M-0 40l1 0M46 21l1 1M37 70l-1 -1M28 4l0 -0M3 32l-0 -1M0 25l0 1M1 39l-0 0M16 16l-1 0M21 63l-1 1M77 22l-0 0M89 15l0 -0M4 72l-0 0M12 22l-1 1M3 88l0 1M1 75l-1 -2M59 83l-0 -0M49 23l-2 1M80 63l1 -1M64 18l-0 0M71 48l1 1M53 74l-1 -1M35 57l-1 1M40 13l-1 0M2 79l-1 -1M42 71l0 -1M57 21l0 0M11 41l1 1M66 57l0 -1M41 39l0 1M57 37l-0 -1M25 3l-1 1M20 16l-1 -1M76 52l-1 1M31 38l2 -0M31 69l0 -0M29 41l-1 -1M69 39l0 1M83 77l-1 0M5 91l-1 -0M50 77l-0 1M38 6l1 0M52 90l-1 -1M59 27l-1 1M83 62l0 1M87 54l-1 -1M14 78l-1 -1M13 21l0 0M47 53l-1 1M23 11l1 1M81 12l-0 -0M67 90l1 1M4 49l1 -1M63 7l1 -2M48 25l1 -1M80 86l-1 1M11 59l-0 -0M67 60l-0 0M38 86l1 1M25 34l1 0M11 69l0 -1M22 26l1 1M8 90l1 -1M75 78l-1 0M88 42l2 1M35 14l1 0M36 78l-0 -1M34 88l0 1M63 57l0 -0M76 16l0 -0M24 89l0 -0M6 82l0 -0M15 54l-0 1M80 73l-0 1M12 18l-1 0M67 4l0 0M43 40l-1 0M25 62l-1 0M1 66l-0 -0M88 26l1 -0M60 86l-1 0M6 64l-1 -1M11 9l0 1M61 52l1 -1M27 55l-1 -0M57 25l-2 -1M7 5l1 -0M75 34l-1 0M81 25l0 -0M36 76l-0 -1M39 23l0 -0M7 79l-1 1M83 80l1 -0M53 4l0 0M80 33l1 0M65 28l-0 0M1 41l1 1M4 9l1 -1M14 9l0 -1M-1 22l-1 0M63 2l-1 1M54 41l-1 1M72 1l0 0M38 49l0 -0M5 78l2 0M45 12l0 -0M19 10l0 -0M58 8l-0 -0M59 35l1 0M14 22l1 -1M25 91l0 0M56 80l0 0M65 64l1 0M88 10l0 -1M58 86l0 0M49 47l0 -1M73 35l2 -0M52 35l-1 -1M38 73l-1 0M67 75l-1 -1M73 71l0 -0M53 68l-0 1M8 27l0 -1M73 13l-0 0M26 35l0 0M49 0l-0 0M0 36l0 0M25 4l-1 -0M45 91l2 0M86 2l-1 -0M1 22l-1 -1M9 47l-0 -1M26 72l1 0M39 70l0 1M83 59l0 1M58 33l1 -1M61 44l-0 0M2 10l0 0M67 38l0 -0M86 62l0 1M47 66l-0 0M48 70l-1 0M58 64l-1 -1M32 26l-1 0M32 42l-0 -0M16 74l-0 -0M75 57l0 1M83 80l0 -1M17 57l0 -0M74 72l1 1M51 32l2 -0M10 43l-1 -1M61 25l0 -0M25 58l1 -2M53 62l1 -1M2 38l0 2M67 78l-0 -0M68 90l1 0M6 26l0 0M23 32l-0 0M41 27l0 0M21 40l0 0M14 22l0 0M24 26l-0 -0M57 45l0 -0M49 31l1 -1M43 35l-2 1M87 2l1 0M35 12l0 -0M80 53l0 -0M59 68l0 1M48 66l-1 0M39 62l-0 -0M20 27l1 -1M0 42l-1 0M88 51l1 -1M-0 56l-1 0M60 74l-1 1M39 27l-1 1M29 47l0 -0M37 60l-1 -1M33 32l-0 0M26 26l-1 -1M48 41l-2 1M56 24l0 1M40 31l-1 0M88 83l-0 0M44 83l0 0M60 16l-1 0M16 44l0 -0M48 20l-1 -0M48 41l0 -0M26 54l0 -0M49 68l-0 1M82 40l1 0M12 57l-1 -1M80 46l1 1M12 1l-0 -0M47 9l-0 -0M86 69l1 1M63 53l0 -0M54 68l-0 -1M83 31l-1 -1M5 66l-0 1M26 -0l0 0M17 65l1 -0M21 9l1 -1M34 74l1 -0M21 89l1 -1M45 38l1 1M56 5l-0 -0M53 50l-1 1M84 83l-1 -1M87 33l-0 0M60 20l-1 1M1 31l-1 0M5 75l1 -1M49 43l-1 0M1 11l-0 1M15 57l-1 -0M81 30l-0 0M26 7l1 0M68 5l0 1M69 7l-0 -0M50 11l0 0M6 51l0 2M2 -0l-0 1M82 48l0 -2M76 81l0 -1M61 47l0 -1M40 19l-1 -1M64 77l1 -0M34 5l-0 1M37 5l0 -0M69 57l0 -0M73 40l-1 1M27 61l-0 -2M15 34l0 1M83 34l-0 2M31 55l1 1M27 18l0 -1M46 90l0 1M45 19l-1 -1M15 60l1 0M82 15l-0 0M51 33l-1 -1M57 19l0 0M14 52l0 -0M28 64l-1 -1M77 27l-0 0M2 46l1 -0M4 49l-1 -0M4 71l1 -1M42 34l-0 -1M4 79l1 0M57 83l-1 1M25 27l-0 -1M9 66l-1 -1M10 91l1 1M45 83l0 1M47 5l-0 1M45 31l-0 1M2 3l1 -0M62 82l-1 -2M36 78l-1 1M76 85l-2 -1M17 75l0 1M10 9l-1 -0M26 12l-0 -0M25 69l-0 0M19 86l0 -0M80 68l-1 1M5 52l-1 1M83 72l0 1M74 85l1 -0M50 82l-0 1M59 56l-1 -1M82 25l1 -0M44 65l1 0M46 71l-0 -2M46 67l-0 0M40 52l-0 0M6 -1l1 -1M2 67l-1 0M41 31l-0 1M69 78l1 -1M20 58l0 -0M25 91l0 -0M33 63l-0 -1M33 57l-0 1M8 56l-1 -2M63 46l-0 -0M81 28l1 1M0 31l0 0M38 76l1 -1M24 67l-0 1M9 0l1 -2M51 35l1 -0M85 33l0 -0M58 5l-1 0M84 76l-1 1M38 55l-1 1M61 53l1 -0M25 49l-1 0M58 46l1 0M75 35l0 1M26 57l0 0M6 15l-1 0M25 39l-1 0M69 67l-1 1M83 65l-1 -0M36 51l-0 1M19 24l1 1M1 66l-0 -1" stroke="#7468ac" stroke-width="1.6" stroke-linecap="round" fill="none"/>
<path d="M81 38l0 -0M83 27l-0 0M80 38l-1 -0M23 61l-1 0M15 30l-0 0M19 83l0 1M86 54l-0 1M27 11l-0 -0M12 78l-1 1M80 24l1 -0M80 87l0 0M49 35l-1 -1M81 28l-0 0M23 61l1 1M1 85l-0 -1M31 86l1 0M82 -1l0 -0M40 76l1 0M84 84l-1 0M80 28l-1 1M58 26l-0 -0M33 20l1 -1M64 23l-0 -0M20 44l0 1M31 13l0 -1M38 53l-0 1M17 53l-1 0M72 20l-0 0M52 2l0 -0M0 6l-0 -1M55 86l-1 -0M88 90l1 0M68 19l0 1M41 6l0 -0M5 15l-1 1M67 38l0 -0M51 57l-0 1M55 55l-0 -0M11 85l-1 -1M71 56l1 -1M50 78l-1 -0M21 22l0 0M26 36l0 -0M29 46l1 -0M64 13l0 -0M63 64l1 1M49 19l-1 1M80 68l0 -1M34 28l-1 -1M63 77l0 1M35 28l-1 -0M39 83l1 0M82 58l1 0M29 91l1 -1M86 41l0 0M30 55l1 1M87 44l-0 -0M58 34l-0 1M25 24l-0 -1M63 30l0 1M61 59l1 -1M69 78l-0 1M40 33l1 -1M7 18l-0 0M52 62l0 1M71 1l0 0M86 64l-0 0M57 73l0 -0M11 88l1 -1M37 9l0 -1M43 77l-0 -1M87 25l1 -0M54 10l0 0M16 89l1 1M0 2l-1 1M62 2l-0 -0M80 60l-0 -0M84 74l1 1M15 67l-0 -1M78 4l0 0M24 75l1 -0M59 11l0 -0M54 24l-1 -0M24 2l-1 -0M86 89l0 0M13 58l0 -1M76 36l-0 -0M82 89l1 -1M20 36l1 0M15 54l1 -0M87 1l0 -1M59 68l-1 -1M22 4l0 0M20 80l1 0M59 46l0 -1M59 6l-0 0M64 79l-0 -1M16 64l0 -1M77 76l1 1M72 31l-1 -0M82 58l1 1M3 24l-1 1M55 29l1 -0M10 81l-1 -1M13 18l-1 -1M4 49l-1 0M59 20l1 0M72 14l0 1M62 43l0 1M6 2l1 0M21 16l0 -0M23 53l0 -1M37 51l-0 -0M67 5l-0 -0M77 68l1 0M8 51l-0 -0M14 -0l1 -0M8 33l-1 1M88 15l1 -0M49 18l1 -0M63 86l1 0M69 22l-1 -1M26 87l0 -0M56 70l0 0M65 0l1 1M-1 11l-1 1M23 37l-1 0M34 33l0 0M2 59l0 0M6 24l-0 0M32 11l1 -0M64 71l1 -1M17 56l-1 -1M86 84l1 -0M25 53l-0 -1M23 39l1 1M69 52l-0 -0M89 89l0 0M80 60l-1 0M17 14l0 1M53 5l-0 -1M3 41l-0 1M46 54l-0 1M23 29l1 0M33 74l1 0M49 55l-0 1M59 20l-0 -0M4 32l0 -0M3 55l-1 1M26 55l-1 -0M11 2l-1 -1M9 42l0 0M70 62l-1 1M37 33l-0 0M54 82l-1 0M5 81l1 -0M41 79l-0 1M3 36l0 1M14 36l0 0M70 60l-0 -0M-0 54l-1 -0M49 39l0 -0M9 77l0 1M79 13l-0 0M36 11l0 1M61 67l-1 1M58 81l-0 1M16 38l-0 -1M61 91l-1 -1M28 30l0 0M61 12l-1 -0M64 82l-0 -0M41 86l0 -1M1 37l-0 -0M77 43l0 0M68 51l-1 -1M14 82l-0 0M64 89l1 0M22 41l0 1M75 55l0 1M3 44l0 1M12 64l1 -1M45 10l-0 -0M21 30l-1 0M55 8l1 -0M78 69l0 0M21 20l-0 -0M70 15l-0 -0M4 36l1 -0M18 62l-1 -1M88 1l-1 0M34 55l-0 -0M-0 15l-0 -0M23 66l-0 -0M16 26l-0 0M11 59l-0 -1M59 3l1 1M70 60l0 -1M16 55l-0 -0M37 88l1 1M11 89l0 1M84 87l1 -1M79 19l-0 0M46 22l1 0M36 84l1 -1M-1 14l-0 0M84 18l-0 1M34 72l0 -1M53 80l-0 -0M80 29l-0 -0M12 64l-1 -0M41 49l1 -1M5 83l0 0M47 58l0 0M20 58l0 0M8 10l-0 -1M18 49l0 -0M23 55l0 0M51 91l1 0M64 20l-0 -0M86 80l-1 -1M72 47l0 -0M27 55l-0 -0M28 34l-1 -0M66 6l-1 1M46 22l-1 -0M66 52l-1 0M65 17l-1 1M57 43l-0 -1M67 1l-1 -1M5 19l-1 -0M53 3l-0 -0M43 37l-0 -1M55 3l1 -1M69 91l-1 1M77 78l-0 1M31 32l-0 -1M19 4l0 0M87 81l0 -0M49 33l1 0M48 46l1 -0M6 62l-0 -0M23 82l-0 0M19 81l0 -0M47 90l0 1M51 4l1 -1M35 7l0 -0M52 88l-0 -0M70 13l-1 -0M40 27l1 0M8 41l0 0M57 59l0 0M23 78l-0 -1M76 8l-1 0M69 43l-0 0M74 60l1 -1M68 87l-0 -1M65 34l0 0M13 56l-0 -1M65 52l0 1M20 -1l1 1M38 86l0 -0M10 77l-1 1M21 75l1 -1M62 58l0 -1M77 90l0 1M40 75l-1 0M28 18l0 -0M71 31l1 -0M81 -1l-0 -0M25 52l-0 -0M52 55l-1 -0M34 5l0 1M82 90l-0 -0M16 68l1 -0M39 80l1 0M51 60l1 1M41 75l-0 -1M54 8l0 0M54 31l0 -0M55 89l0 1M9 75l-0 -0M72 81l-0 0M52 85l-0 -1M21 36l0 0M59 2l-0 0M81 47l-0 -0M45 3l0 0M6 4l-0 0M55 60l-0 -0M65 79l-0 -1M16 17l0 -0M1 36l1 0M42 13l0 0M67 19l0 0M24 71l-1 0M32 54l0 0M14 21l-0 -1M42 48l0 0M13 41l-1 -0" stroke="#564a98" stroke-width="1.5" stroke-linecap="round" fill="none"/>
<path d="M24 52l-1 0M26 46l0 0M84 13l1 0M84 9l-0 -1M67 6l-0 -0M38 19l1 -0M5 36l-0 -0M53 35l0 -1M26 56l1 -0M32 51l0 -1M33 16l-0 0M27 47l-1 -1M26 48l0 -1M53 80l0 1M55 25l0 0M17 25l0 0M47 16l-0 -1M54 76l0 -0M64 1l0 -0M50 74l0 -0M48 14l1 -0M56 77l0 0M35 25l-0 -0M81 46l-0 0M-1 31l0 -0M57 72l-0 -0M30 64l0 -0M55 33l-1 0M55 76l-0 0M78 62l-1 -0M47 14l-0 -0M13 23l-0 0M8 29l-1 -0M28 58l-0 -0M18 54l1 -0M18 53l-1 0M25 40l0 0M53 33l0 -0M64 3l-0 -0M16 51l-0 0M9 28l0 0M27 49l-0 1M3 49l0 0M3 51l-0 0M72 46l0 1M6 35l-1 -1M17 25l1 -0M73 22l-0 -0M34 27l-0 0M54 36l-0 -0M67 35l0 0M19 23l-0 -1M14 26l0 -0M6 38l-0 1M67 4l0 0M75 57l0 0M47 13l-0 -0M82 51l0 0M0 48l1 0M8 33l-0 -1M66 40l1 -0M33 15l0 0M22 55l1 1M82 51l0 0M-1 33l0 1M88 10l-0 0M28 65l1 0M68 28l1 -1M87 11l-1 -0M3 38l0 -1" stroke="#4e3426" stroke-width="2.1" stroke-linecap="round" fill="none"/>
<path d="M50 79l0 -0M51 76l1 -0M85 62l0 -0M69 44l-0 0M56 86l-1 0M51 74l0 0M88 27l-0 0M40 40l-0 -0M11 73l1 -0M63 45l0 -0M20 84l0 -0M19 31l0 1M27 37l0 -1M60 82l0 -0M2 12l1 0M31 31l-0 -0M31 26l-0 -0M12 81l-0 -0M75 25l1 -0M15 29l0 -0M9 73l-0 1M47 42l-0 -0M74 25l0 1M10 77l0 0M55 75l1 -0M75 30l-1 0M31 41l-1 1M29 41l-0 0M28 37l1 0M71 61l-0 -0M52 74l0 1M31 28l1 0M32 34l-1 0M39 28l-0 -0M23 13l0 1M45 41l-0 1M73 40l-0 0M-0 11l-1 -0M65 34l0 0M75 26l-0 -1M28 42l0 -1M22 12l0 -0M72 33l-0 -0M19 29l0 -0M73 42l-0 0M65 38l0 -0M74 29l0 -1M34 29l0 -0M25 81l0 1M64 33l-0 -1" stroke="#3a261e" stroke-width="2.0" stroke-linecap="round" fill="none"/>
</g></svg>
<rect x="302.8" y="951.3" width="20.3" height="3.0" fill="#000"/>
<svg x="382.7" y="876.0" width="89.0" height="90.5" viewBox="0 0 89.0 90.5" overflow="hidden">
<rect width="89.0" height="90.5" fill="#aca6b8"/><g filter="url(#hb)">
<path d="M48 2l1 -0M-0 25l1 -1M49 87l0 1M4 87l2 -1M47 6l0 -2M3 55l-1 0M17 17l0 2M15 50l-1 -0M57 90l-0 -2M42 54l0 1M20 55l-0 2M20 54l-0 0M87 46l1 -0M44 91l0 2M56 3l-1 -0M79 69l-2 1M53 37l-1 1M5 31l0 -0M69 83l2 1M71 51l-0 0M48 18l-0 0M31 31l0 -0M68 17l1 2M11 41l-1 -0M43 87l1 1M28 13l3 -1M29 29l1 3M12 30l-1 -0M79 28l-3 1M68 6l-1 0M62 26l1 -2M43 23l-0 3M89 10l-0 0M46 3l-1 1M41 -0l-1 -0M65 83l-0 0M27 35l2 -2M88 81l2 -1M30 50l-0 0M35 51l0 -1M31 70l-2 -0M20 36l-2 -1M59 80l-2 -1M28 73l1 -0M11 15l1 -1M64 28l-1 2M56 65l2 -1M80 12l-1 1M21 49l0 1M32 60l-2 -2M27 43l0 0M79 75l-1 -0M73 81l2 -1M88 74l-2 -1M56 54l0 -2M20 50l0 -0M81 91l-0 -1M14 38l-0 0M1 30l-1 -1M51 49l0 -0M56 87l-2 0M32 16l-0 2M11 19l2 -0M-0 55l1 1M74 80l-1 1M57 78l1 -0M15 14l-0 2M61 73l0 -1M55 2l-1 1M13 64l1 -2M20 80l0 1M86 61l-0 0M72 16l-2 1M33 19l2 -2M24 48l2 1M41 56l0 -2M43 23l-0 -2M44 79l1 1M70 29l0 0M9 47l0 -0M63 30l-0 -0M75 74l-1 -2M20 11l0 -0M90 7l-1 1M73 13l1 -0M52 36l-0 1M76 2l-1 0M27 83l0 -1M56 28l-0 -1M75 74l1 -0M37 55l0 -1M12 88l1 -1M24 3l-1 2M35 89l-2 2M76 62l-2 0M51 40l1 0M25 55l-2 1M73 63l0 -0M48 -1l-1 -0M74 63l2 1M8 48l-1 2M32 85l1 1M19 34l-1 -1M28 48l-0 -1M18 53l-0 0M20 65l-1 0M21 21l0 -1M60 48l-0 -0M31 3l-0 -3M3 0l-1 -0M24 66l-0 -1M40 67l-1 -2M19 68l1 2M9 12l2 -2M46 18l3 -1M65 49l-1 0M28 67l-3 -0M80 2l0 1M33 33l1 1M45 64l1 -0" stroke="#dcdbe8" stroke-width="1.5" stroke-linecap="round" fill="none"/>
<path d="M6 10l1 -1M10 47l1 -2M36 80l-0 1M69 61l-0 -0M57 68l-0 0M63 19l-0 0M39 69l-0 2M4 53l-0 -1M51 70l-0 -0M50 77l-0 -0M79 51l1 1M75 40l2 -1M72 48l-2 1M58 75l1 1M39 69l0 -0M19 51l0 -0M85 73l-1 -2M88 33l0 0M68 50l1 -1M76 85l-0 0M8 28l1 -1M84 56l-2 0M50 19l-0 1M5 73l-2 1M90 7l-1 1M17 49l0 1M22 71l-2 1M70 3l-2 0M35 19l-0 0M4 56l2 1M87 28l-1 1M10 70l2 -1M59 15l2 0M65 8l-1 -1M55 54l1 -2M16 17l0 -0M21 13l-0 1M41 26l-2 -2M54 21l1 2M43 69l-1 0M14 47l1 2M52 37l-1 -1M41 60l-1 0M67 76l1 2M-0 2l-1 0M37 64l-2 1M41 69l1 -2M2 29l-1 -0M20 52l-0 -0M20 54l-2 0M7 62l-0 0M48 75l-0 0M67 60l1 -0M30 31l-0 1M8 24l-1 -1M66 73l1 0M85 42l2 -0M50 37l-0 0M68 34l1 0M77 79l-0 -0M78 54l-0 -1M24 76l0 0M61 22l1 1M36 42l-0 0M71 30l-0 1M74 33l1 2M70 82l-1 1M2 16l1 -0M64 51l-0 2M30 11l1 -1M53 21l1 1M23 55l-1 2M6 30l1 2M50 75l1 2M65 42l0 -2M64 80l-2 -1M11 29l-0 -1M8 1l0 0M31 18l0 -0M29 83l1 1M64 72l1 -2M49 82l-1 -2M54 76l-1 -2M20 73l-0 -1M54 55l-0 -0M21 82l-2 -0M41 49l-0 -0M56 19l0 0M22 11l1 1M43 13l0 0M77 26l1 2M56 36l1 0M19 61l1 -0M55 74l1 1M48 78l0 0M56 77l-0 -0M44 67l-1 2M24 73l0 -1M43 49l0 1M44 91l2 -1M40 3l-0 0M34 4l0 0M80 69l-0 -1M90 54l2 1M56 55l1 -1M6 19l-0 -1M36 86l0 1M49 89l-2 1M7 88l-0 1M16 70l2 2M73 22l-1 -1M37 15l1 2M75 17l-2 1M10 80l-0 -2M7 14l0 -0M42 16l1 1M15 74l-1 0M28 81l2 0M88 82l2 1M17 39l2 1M64 41l-1 1M56 47l-0 -2M11 32l0 0M70 54l0 1M28 11l0 -0M13 16l0 -2M31 5l-0 -0M19 28l0 0M52 40l2 -1M4 36l-0 -1M50 73l-2 -1M72 81l2 -0M58 65l-1 -1M55 55l-0 0M29 24l-0 -0M13 63l1 0M60 28l0 2M58 42l-1 -1M47 2l0 -0M38 27l1 2M48 87l2 -1M29 41l0 0M12 15l-2 -1M61 36l1 -2M61 75l-0 -2M60 86l-1 2M63 45l1 2M8 61l1 -2M48 43l2 -1M14 59l-0 1M35 80l1 -1M72 2l-1 -1M63 84l-0 0M21 38l-2 -1M69 36l-1 -0M83 14l0 -1M62 54l1 1M32 29l-1 -1M86 38l0 1M22 19l-1 -1M48 51l-0 -1M63 33l-2 2M49 91l-2 1M25 81l-1 0M65 88l-1 -1M77 65l1 -0M78 33l-0 0M48 41l-2 -0M32 11l1 2M65 64l0 -1M36 38l1 1M6 34l-1 -1M5 8l1 1M90 24l0 0M11 49l-1 2M54 45l-1 -1M47 21l0 -2M6 -1l0 -1M27 78l1 -2M53 64l0 -1M49 25l1 1M67 47l-1 -1M33 90l0 -1M65 62l-2 1M9 43l0 -2M42 65l0 0M80 71l0 1M48 52l1 1M1 47l1 1M75 65l-1 -1M36 52l-1 -1M1 47l-1 0M44 25l1 2M68 70l-0 -1M9 79l-0 -0M65 32l1 0M29 29l-0 -0M90 76l1 -1M8 14l0 1M82 30l-1 -1M46 6l-0 -0M14 74l-0 -2M6 17l-0 1M78 79l0 -1M53 24l-2 -1M14 58l0 0M81 71l-0 1M17 63l2 -1M40 72l-2 1M75 81l2 -0M15 71l0 -0M7 52l-2 -2M21 62l0 0M63 5l1 0M29 37l-0 0M59 47l0 -2M14 27l0 -0M39 -1l1 1M57 88l2 0M73 65l1 1M79 78l2 -0M85 90l-1 0M82 82l1 -2M30 45l-2 -0M16 83l0 -2M72 1l-0 0M69 71l-1 0M73 66l2 -0M64 53l-1 2M51 12l0 0M87 63l1 -0M58 41l2 -1M10 6l-2 -1M50 53l-0 0M56 73l0 -0M33 -1l-0 -2M18 74l1 0M0 67l0 0M49 52l-0 -1M4 12l0 1M66 54l-1 -1M16 6l1 -1M56 14l-0 -1M24 86l-0 -1M7 74l1 0M57 7l1 0M25 16l2 -0M10 8l0 -0M88 80l1 0M55 67l-0 -0M25 38l-1 -1M49 50l1 1M62 26l2 0M63 3l1 -1M40 18l1 -1M37 26l-1 1M50 88l-1 -1M67 88l0 -0M2 85l1 1M88 60l1 -2M79 -0l-1 -2M35 61l-2 1M60 44l-0 1M65 84l0 -1M90 23l-1 2M47 5l2 1M55 29l0 -0M73 42l0 -0M11 50l-2 0M29 46l2 1" stroke="#6266a6" stroke-width="1.7" stroke-linecap="round" fill="none"/>
<path d="M16 21l0 -2M87 18l0 0M39 41l1 1M59 20l0 2M15 83l2 1M26 21l-1 0M10 40l-1 0M1 32l0 -1M54 18l0 -1M41 32l-0 1M25 49l-1 -1M27 23l-0 -0M71 20l1 -1M34 25l-1 0M53 17l1 -1M75 89l-1 1M21 76l-2 -1M82 17l1 1M88 53l0 -1M54 26l-1 1M81 22l1 -0M23 12l-1 1M38 57l1 -1M16 24l0 0M15 42l-0 0M86 16l1 1M68 70l0 -0M13 25l-1 -1M47 4l0 -0M47 4l-0 -1M86 45l1 2M18 70l-0 -1M50 19l1 0M4 71l1 -1M75 63l-1 -2M19 9l1 0M75 31l-2 0M5 3l-0 -0M75 78l-1 1M10 6l1 0M75 84l0 -0M76 3l-0 0M69 23l-0 -0M38 84l0 2M62 64l1 -0M58 60l0 1M84 33l2 1M56 59l0 2M74 43l2 0M50 54l0 -2M52 11l-0 -2M3 51l0 0M5 9l2 -1M66 36l-1 1M25 4l0 0M43 23l-1 -1M31 64l-1 0M51 74l-2 1M15 11l0 -1M29 3l0 -1M69 -1l0 -1M67 2l0 0M6 68l-0 -0M12 11l0 1M90 32l-2 0M34 76l0 -2M87 79l-1 -1M4 56l-0 0M15 55l1 -0M59 32l-0 0M64 80l-2 -0M14 87l-1 -0M68 69l0 -0M29 80l0 1M-0 12l-0 -0M50 73l0 2M1 3l2 -0M6 62l-0 2M73 13l1 1M83 53l2 -0M32 22l-0 0M79 29l0 1M10 67l-1 1M9 57l-0 2M36 34l1 0M6 78l0 0M6 89l-0 -0M47 52l0 0M32 44l-1 -0M54 37l-0 1M70 82l-0 0M41 68l1 -1M21 76l2 -0M64 33l-0 -0M60 69l-1 1M42 23l-0 -0M53 27l2 -1M20 16l-1 -1M46 40l-1 1M54 12l0 0M33 48l-0 1M37 57l1 0M1 87l1 -1M21 70l-1 -0M59 24l-2 1M23 48l0 -1M34 23l-0 0M22 84l1 1M24 64l1 -1M3 3l-0 1M47 44l-2 -0M20 71l0 -1M89 16l1 -1M15 87l-1 0M80 88l-2 -1M9 41l-0 1M31 60l-0 -0M-0 87l-1 -0M19 58l1 -1M53 83l-0 -0M86 58l0 0M51 65l-1 -1M77 70l0 -0M46 68l1 -0M82 67l1 0M25 76l-0 -1M32 18l-1 1M85 52l0 -1M25 17l0 -0M3 71l0 -0M10 31l0 1M29 8l1 -1M56 33l0 1M77 44l0 -1M51 70l1 1M12 11l2 1M1 36l-1 -1M90 58l-0 2M48 86l1 0M54 89l-1 2M71 39l1 -1M37 72l-0 -0M63 84l-0 2M55 -1l2 1M40 69l0 2M36 39l0 0M46 64l0 0M12 47l-0 0M76 42l1 -1M11 30l-1 1M13 11l1 -1M50 60l-1 0M29 13l2 1M51 80l1 -1M58 41l0 -0M83 43l1 0M69 11l-1 -1M20 65l-0 -1M13 41l-0 -0M11 50l-0 0M52 89l0 2M59 87l-1 1M38 35l1 -1M13 64l0 0M87 43l0 1M65 73l-1 1M22 80l0 2M36 29l1 -0M41 57l1 0M51 39l-1 0M62 87l-0 0M50 20l-1 -1M40 80l-2 0M32 70l1 1M57 21l-2 -0M79 4l0 -0M84 14l-0 0M58 36l-0 -0M32 32l-0 0M28 57l-0 -0M49 2l0 1M88 90l0 -0M84 62l0 1M10 6l-2 1M29 52l0 0M49 18l0 0M66 61l2 1M79 1l0 -0M61 21l-0 -0M64 84l-0 -0M52 30l-1 1M64 21l-0 -0M37 55l0 0M9 51l-0 -0M78 32l-0 2M55 70l-0 0M78 88l0 0M32 8l-0 0M42 71l0 -1M49 88l0 -1M72 6l-0 -0M64 50l-0 1M1 -0l1 -1M72 39l-2 1M21 25l-0 0M31 87l1 -0M9 80l-1 0M85 61l1 2M37 12l-0 1M12 10l-0 -0M74 68l-0 0M21 -0l-0 -0M41 67l1 -0M46 3l-1 -1M54 62l1 0M64 35l1 -1M65 50l1 -1M52 54l-1 0M70 88l0 -0M24 3l1 1M8 2l1 -1M87 24l-1 -1M59 8l-2 -1M75 48l1 -1M14 12l-2 -0M71 15l-1 -1M69 62l-0 -2M3 51l-1 -0M25 27l0 0M82 59l1 1M87 1l0 0M15 89l-2 0M28 27l2 0M44 73l0 -0M84 44l0 0M43 82l-1 -2M27 91l-1 -1M53 43l1 0M86 90l-1 -0M-1 11l1 1M88 91l2 -0M54 7l-2 -0M53 3l2 -0M83 42l1 1M5 20l0 1M32 83l1 1M13 8l2 1M34 34l1 -1M70 55l1 1M60 14l-1 -1M77 7l-0 0M48 18l-0 -0M72 26l-2 0M1 53l0 -0M36 68l1 0M71 52l0 -0M6 55l-0 2M52 78l-0 1M63 31l-0 0M9 13l1 0M78 24l1 0M45 28l0 2M75 54l0 0M41 10l1 1M12 43l-1 0M76 30l-1 1M45 85l2 0M43 29l-0 -1M51 23l-0 -0M32 32l-1 1" stroke="#3a3e84" stroke-width="1.7" stroke-linecap="round" fill="none"/>
<path d="M48 43l-1 0M-0 46l0 0M81 11l0 -1M70 89l0 0M71 87l-0 -0M18 85l-0 0M70 31l-0 -0M49 32l-0 0M7 59l-1 -0M52 32l0 0M53 22l-0 -0M75 63l-0 -0M40 45l-0 0M29 40l-0 -0M51 33l-0 -0M3 35l-0 -0M58 51l-0 -0M50 26l-0 -0M13 80l0 0M39 5l0 -1M45 86l0 -0M-1 12l0 -1M86 6l0 -0M12 53l0 -0M86 76l0 0M86 34l-1 -0M19 84l-0 -0M15 57l-0 -1M4 52l0 -0M2 29l0 0M54 47l0 -0M50 58l0 -0M74 81l1 -0M78 87l-1 -0M30 29l0 0M71 6l0 -0M34 84l-1 0M1 49l-0 -0M30 87l-0 -0M59 39l-0 1M67 59l-0 0M38 49l-0 -0M72 54l-0 0M83 54l0 1M29 74l-0 0M64 83l0 -0M27 50l-0 0M35 -1l0 0M11 48l0 -0M41 72l0 0M18 27l0 0M85 60l-0 -0M28 27l0 0M68 64l0 -0M63 81l0 0M-1 82l0 0M77 56l-0 0M30 12l1 0M65 54l-0 -0M3 31l1 -0M51 81l-0 -0M82 86l-0 0M71 72l0 0M69 75l0 -0M80 68l0 0M63 69l0 0M74 60l-0 -0M81 7l-0 -0M11 69l-0 0M67 89l-0 0M83 13l0 -0M14 24l0 -0M44 80l0 0M16 3l-0 0M63 12l0 0M50 77l-0 -0M70 52l0 -0M35 60l0 -1M60 72l1 0M33 41l-0 -0" stroke="#7a6252" stroke-width="2.1" stroke-linecap="round" fill="none"/>
<path d="M63 2l0 -1M34 58l0 0M86 70l0 0M18 25l0 -0M76 88l-0 -0M32 10l0 -0M-1 33l-0 -0M6 30l0 -0M89 13l-0 -0M64 -1l0 0M11 58l0 0M41 44l-0 0M20 30l1 0M0 47l0 0M10 75l-0 0M37 32l-0 -0M68 70l0 -0M21 11l0 0M55 11l-0 -1M32 -1l0 0M89 10l0 -0M67 4l0 0M66 36l0 -0M59 45l0 1M82 59l-0 -0M73 75l0 0M67 19l0 0M77 45l0 -0M64 89l-0 -1M48 37l-0 -1M73 66l1 -0M57 71l0 -0M79 39l-0 0M26 26l0 -1M29 2l-0 -0M6 86l0 0M78 35l0 -0M42 67l-0 -0M65 38l0 -0M19 38l0 0M69 4l-0 -0M15 30l0 0M62 18l-1 -1M20 58l0 -0M85 89l-0 0M28 58l-0 0M60 3l1 -0M47 36l-0 0M78 5l1 -0M80 85l-0 -0M70 48l-1 1M5 61l-0 -1M19 51l-0 -0M65 72l0 -1M81 49l0 -0M50 4l0 0M30 88l-1 0M30 46l-0 -1M85 15l0 0M21 48l-1 -0M63 15l0 -0M59 38l0 1M45 63l-1 0M8 16l0 0M90 44l1 0M37 85l-0 -0M55 51l-0 0M24 36l-0 -0M57 51l-0 -0M62 84l0 -0M51 43l-0 0M71 27l-0 0M77 26l1 -0M54 72l0 -0M33 50l0 0M51 46l-0 0M14 7l-1 -0M70 14l0 -0M45 29l-0 -0M79 0l-0 -0M7 72l0 -0M7 27l-0 0M89 20l0 -1M80 9l-0 0M48 85l0 -0M3 55l0 -0M22 31l-0 -0M39 28l0 0M31 22l0 0M36 41l0 -0M9 28l-0 0M89 73l0 -0M21 67l0 -0M20 52l0 0M74 65l0 0M63 14l-0 0M61 5l-1 -0M52 14l0 0M16 8l-0 -0M6 13l-0 0M18 46l1 -0M67 51l1 0M27 76l-1 0M3 56l-0 1M88 60l0 -0M55 56l-0 0M28 31l-0 -1M42 28l0 0M56 8l-1 -0M76 27l0 0M86 24l-0 -1M31 26l-0 0M80 79l-1 0M89 16l0 1M61 32l-0 -0M35 68l-0 -1M-0 85l-0 0M73 12l-0 1M40 10l0 1M49 47l-0 -0M31 52l-0 -0M60 60l0 1M5 14l-0 0M69 19l-1 -0M28 70l1 0M37 61l1 0M17 78l0 -1M51 31l0 -0M56 54l0 0M32 91l0 -0M52 87l-0 -0M86 49l0 -0M56 25l-0 0M55 21l-0 0M43 40l0 -0M30 63l0 -0M59 91l-0 -0M78 36l0 0M37 63l0 -0M40 8l-0 -0M28 48l0 -0M61 42l0 -0M8 69l0 -1M86 57l0 1M9 43l0 0M84 60l-0 -1M63 19l0 1M62 14l-0 -1M15 9l-0 -0M75 44l-0 0M85 39l-0 -0M48 40l-0 -0M23 70l0 0M36 38l-1 0M9 33l0 -0M36 19l-0 0M30 48l-0 -0M50 21l1 0M45 55l-1 -0M89 79l-0 0M-0 81l-0 -0M8 49l-0 0M19 25l0 0M40 75l0 -0M8 72l0 0M81 90l-0 -1M48 24l-0 -0M70 5l-0 -1M63 19l-0 -1M59 34l0 0M85 52l-0 0M6 38l0 0M0 26l-0 0M27 62l0 0M-0 11l0 -0M44 76l-0 0M19 21l-1 0M42 87l0 -0M30 43l0 -0M0 2l0 -0M76 59l-0 -0M76 14l0 0M17 23l-0 -0M45 46l1 -0M44 55l0 0M33 31l0 -1M22 70l0 0M28 38l1 1M34 80l-0 0M31 89l-0 -0M77 83l-0 0M45 90l-1 0M80 70l-0 0M0 1l0 -0M34 67l-0 1M15 79l-0 0M18 67l0 -1M39 87l-0 0M80 56l0 1M2 87l-0 1M17 54l0 -0M84 68l-0 0M73 38l0 0M21 27l0 0M13 31l0 0M2 72l-0 0M14 69l0 0M84 62l1 1M55 8l-1 0M30 47l-0 0M45 8l0 -0M17 35l-1 -0M41 19l-1 -0M77 9l0 -0M54 74l-0 0M36 19l-0 1M65 20l0 0M25 90l-0 -1M29 43l0 0M71 21l-0 0M34 31l0 1M36 75l1 -0M29 37l-0 1M60 42l0 -0M7 19l1 0M76 54l-1 0M2 13l-0 -0M45 40l-0 0M49 48l-0 -0M79 76l-0 -0M16 58l-0 -0M37 54l-0 0M80 12l0 -0M40 67l0 0M24 23l-0 -0M24 59l-0 1M43 47l0 0M42 63l-0 -0M48 70l0 -0M14 88l-1 0M32 10l0 1M23 70l-0 0M48 72l-0 0M31 77l-0 -0M48 34l0 -0M18 63l0 -0M50 77l0 -0M74 50l0 -0M10 42l-0 0M-0 12l-0 1M36 66l1 -0M87 21l-1 -0M18 62l0 -0M8 59l0 -1M46 38l1 0M82 88l0 -0M68 36l-0 0M67 10l-0 0M86 80l-0 0M14 81l0 0M85 75l0 -0M74 34l1 -0M51 28l-0 -1M2 16l1 -0M43 87l0 0M11 38l0 1M58 26l0 -1M80 27l-0 0M7 73l-1 0M54 61l-1 0M18 85l-1 0M36 88l1 0M35 78l-1 0M8 33l1 -0M56 63l0 0M84 61l0 -1M35 35l-0 0M79 87l-0 1M20 4l-0 -0M17 53l0 -0M18 83l0 0M19 27l0 1M58 16l-1 -0M22 1l-0 -0M20 37l-0 0M42 -0l-0 -0M42 64l0 0M30 71l0 -0M56 32l-0 1M36 35l-1 0M65 24l0 -0M87 32l0 -0M9 6l0 0M63 87l-0 -1M30 40l0 -0M78 89l0 0M40 34l0 0M7 35l0 0M35 61l-0 0M22 23l-0 0M56 23l0 -0M0 13l0 0M74 28l-0 0M22 7l1 0M29 59l1 0M90 62l-0 0M26 1l-0 -0M66 64l-0 -0M23 48l0 -1M20 29l-0 0" stroke="#634836" stroke-width="2.1" stroke-linecap="round" fill="none"/>
<path d="M14 90l-1 0M10 31l0 0M70 31l0 1M80 7l-0 -0M8 15l-0 -0M8 43l0 0M52 55l0 -0M1 17l-0 0M30 38l0 0M63 3l0 -0M68 2l-0 -0M5 12l-0 -0M4 34l-0 -0M47 4l-1 0M52 27l0 -0M89 0l0 0M-1 34l0 0M19 29l-0 0M81 69l-1 -0M22 21l-0 1M33 23l-0 0M70 24l0 1M5 53l-0 0M17 3l0 0M67 68l1 0M41 6l0 0M31 79l0 -1M46 60l-1 0M57 62l0 -0M26 18l0 1M52 22l-0 0M1 30l-1 0M45 8l-0 1M35 61l0 0M59 11l-1 -0M-0 70l-0 -0M21 18l-1 0M40 21l0 -0M-1 46l-0 0M14 9l0 1M35 60l0 0M73 10l0 0M89 52l0 -0M30 44l1 0M87 55l1 -0M48 6l0 -0M51 49l-1 0M54 45l0 -0M72 11l0 -1M55 60l0 -0M51 69l0 -0M15 31l0 -0M38 62l0 0M55 43l0 -0M68 87l0 0M32 23l0 -0M87 48l-0 -0M34 65l-0 0M71 28l0 0M53 89l-0 0M55 32l0 -0M0 45l0 -0M26 56l0 1M50 2l0 0M82 52l-0 -0M32 57l-1 -0M24 53l0 -0M16 8l0 -0M72 8l-0 -0M31 24l1 -0M17 -1l-0 0M79 26l-0 0M54 11l-0 1M55 86l0 0M83 22l-0 0M19 68l-0 0M-1 84l0 -0M16 49l-0 0M4 51l0 0M46 43l0 0M77 33l-0 -0M89 16l-0 0M89 28l-0 0M40 45l0 -0M51 85l-1 0M27 33l0 -0M11 2l-0 0M20 74l-1 -0M79 18l1 0M27 70l0 0M37 62l-0 0M67 31l1 -0M35 41l0 -0M60 87l-0 0M56 68l-0 -0M31 48l0 -0M34 54l0 -0M76 51l-0 1M21 43l-1 0M15 79l0 1M16 63l0 0M66 75l1 -0M58 4l-0 0M72 82l1 -0M45 11l0 -0M75 26l0 0M16 -0l0 0M77 32l-0 -0M6 34l0 0M12 73l-0 -0M89 80l-0 -0M33 67l0 -0M48 24l0 1M23 20l-0 -0M45 57l-0 -0M16 16l-0 -0M70 22l-0 0M63 51l-0 -0M64 53l-0 -0M86 82l-0 -0M78 19l-0 1M73 83l0 0M83 89l-1 -0M89 37l0 -0M71 56l-0 0M32 52l1 0M-0 29l0 0M53 46l1 0M68 80l-1 0M20 7l-0 -0M67 80l-0 -0M89 80l-0 -1M61 41l0 1M52 22l1 1M60 34l-0 1M4 75l0 0M19 42l0 0M4 69l-0 0M63 49l-1 -0M17 26l0 0M37 43l0 0M25 43l0 0M2 23l0 0M62 48l1 0M31 50l-0 0M21 81l-0 -0M11 48l-0 0M26 37l0 -0M60 21l-0 0M80 11l-1 0M69 15l-0 0M66 2l-0 -0M75 36l0 0M43 30l0 -0M13 27l0 -0M82 43l-0 -0M70 22l-0 0M70 73l0 1M70 86l0 -0M4 62l1 1M79 5l1 -0M82 62l0 0M43 82l0 0M14 8l-0 -0M41 51l-0 1M4 11l-0 -1M30 41l-0 -1M49 83l0 -1M62 87l-0 -1M29 22l0 0M32 85l0 -0M35 80l-0 -0M47 36l0 0M47 37l-0 -0M12 21l1 -0M5 9l-0 0M43 89l-1 -0M80 71l0 1M0 4l-0 -0M34 18l0 1M72 50l0 -0M30 73l-1 0M4 39l-0 -0M55 20l1 0M70 62l0 1M69 69l-0 0M80 44l-0 -1M15 84l0 -0M17 47l0 -1M29 63l-0 -0M19 90l0 1M48 15l-0 0M55 14l-0 -0M42 8l0 1M81 42l0 0M46 7l-0 -0M11 16l0 -0M-1 36l-0 -1M54 15l-0 0M6 91l-0 -0M10 14l-0 -0M69 77l-1 0M54 74l-0 0M1 45l-0 0M62 71l-1 -0M4 42l-0 -0M11 12l1 0M86 49l1 -0M37 46l0 -0M77 -1l1 -0M28 3l0 -0M-1 50l-0 0M44 33l-0 -0M16 75l0 -0M9 61l0 -0M56 10l0 -0M53 87l-0 -0M84 24l0 -0M25 66l0 0M81 51l0 0M75 37l-0 0M61 84l-0 0M54 41l0 -1M78 1l-0 -0M15 24l1 -0M87 75l-0 -0M71 20l-0 0M85 59l-0 0M64 23l-0 0M81 5l-0 -0M47 32l0 0M23 12l0 0M27 9l0 -0M25 21l0 -0M78 84l-0 -1M37 16l0 0M76 44l1 -0M6 87l-0 0M18 50l-0 0M19 31l-0 0M30 20l0 0M89 39l0 -0M19 34l-0 -0M37 55l-0 0M37 53l-0 -0M43 36l-0 0M10 58l-1 0M3 31l-0 -0M55 15l0 0M8 76l-0 1M30 83l0 -0M26 8l0 0M29 84l0 1M68 55l0 -0M37 36l-0 0M69 91l0 0M28 62l0 -0M69 28l-0 0M10 16l-0 1M7 10l0 -0M71 29l0 0M20 35l-1 0M77 30l1 -0M17 72l-0 0M70 35l-0 -1M75 60l0 -0M49 32l0 -1M8 42l0 0M34 12l0 -0M12 76l0 -0M27 2l-1 -0M29 87l-0 -0M52 53l0 -1M20 8l-0 1M38 33l-0 -0M60 73l-0 1M80 33l0 -1M28 5l-1 -0M74 75l-1 0M77 88l0 0M73 62l0 -0M90 88l-0 -0M28 34l1 -0M12 16l0 -0M47 72l0 0M61 87l1 1M82 18l1 0M57 84l-0 -1M76 79l-0 -0M64 26l0 -1" stroke="#4e3426" stroke-width="2.0" stroke-linecap="round" fill="none"/>
<path d="M28 20l-0 0M19 57l-0 0M1 29l0 0M39 83l-0 -0M12 91l-0 -0M45 14l0 1M42 63l-0 0M62 55l0 0M30 46l-0 0M70 17l-1 0M40 82l-0 -0M39 58l-0 0M51 38l0 0M86 43l0 -0M8 80l-0 0M8 1l-0 0M73 49l-0 0M87 26l0 0M86 47l-0 0M1 5l0 -0M78 33l-0 1M18 31l-0 0M43 79l0 0M70 22l0 0M79 39l-1 0M63 79l-0 -0M43 16l-0 -0M58 9l0 -0M20 19l1 -0M12 46l-0 0M22 73l0 0M67 25l-1 -0M1 59l0 0M27 57l-0 -0M86 31l0 0M69 84l0 -0M51 83l-0 -1M65 30l-0 -0M10 60l-0 0M72 58l-0 0M80 50l-0 -0M49 16l0 0M3 51l-0 -0M81 91l0 -0M28 38l0 -0M3 46l0 0M63 17l0 -0M9 44l0 0M32 40l-0 -0M80 64l1 0M29 41l0 -0M24 51l-0 -0M36 29l0 -1M57 9l0 -1M83 17l-1 -0M87 26l0 0M16 76l0 -0M52 9l0 0M10 39l0 -1M-1 72l0 -0M58 75l0 -1M8 40l0 0M44 9l1 0M61 21l0 1M23 87l0 -1M58 24l-0 -1M54 30l0 0M54 33l0 0M47 6l0 0M13 18l-0 -0M3 45l-0 -0M16 77l0 0M87 79l0 1M63 83l-0 -1M31 61l0 0M62 88l-0 -0M65 45l0 0M32 1l-1 -0M37 45l0 -0M7 18l0 0M9 38l-0 -1M84 37l0 -0M78 32l0 -1M85 61l0 -0M83 35l-0 0M31 9l0 0M4 14l0 0M60 26l-0 -1M20 91l0 0M80 20l-0 0M13 -1l0 1M75 85l-0 0M70 41l-1 0M16 64l0 0M84 22l-0 -0M6 60l1 0M70 16l-1 0M84 86l-0 -0M43 28l-1 0M25 26l-0 0M65 49l-0 0M11 50l-1 0M50 89l0 0M78 54l0 0M31 88l-0 1M62 62l-0 -0M18 76l0 0M44 3l0 1M83 47l-0 1M41 4l0 0M13 6l-0 -0M40 78l0 0M24 45l-0 -1M57 63l-0 -0M80 71l-0 -0M89 1l0 -0M16 7l-0 -0M46 42l-0 0M13 83l0 0M39 22l0 0M9 87l0 0M5 37l0 -0M77 13l0 -1M14 44l-0 -0M33 39l-1 1M6 58l-1 -0M49 60l-0 -0M15 90l-0 -0M61 3l-0 0M41 48l-0 -0" stroke="#3a261e" stroke-width="1.9" stroke-linecap="round" fill="none"/>
</g></svg>
<rect x="393.3" y="951.3" width="20.3" height="3.0" fill="#000"/>
<svg x="474.8" y="876.0" width="87.8" height="90.5" viewBox="0 0 87.8 90.5" overflow="hidden">
<rect width="87.8" height="90.5" fill="#aaa6bc"/><g filter="url(#hb)">
<path d="M78 47l0 -0M33 72l-2 -1M7 68l1 1M21 24l-3 1M18 74l-1 0M28 75l1 -2M7 76l1 -1M46 61l-1 -0M0 60l-1 -1M56 72l-0 1M31 32l-2 -1M7 31l2 1M7 75l-0 2M55 59l-2 2M17 30l2 -1M63 30l0 -0M71 59l-2 0M62 11l0 -3M67 2l-1 -3M60 7l-2 0M19 28l-1 1M38 31l-2 1M81 21l-1 0M38 53l-0 1M10 79l1 2M77 13l1 -1M8 55l1 0M9 77l-0 -0M63 85l-1 -3M28 25l1 0M36 36l1 2M72 46l-0 -2M17 -0l-0 -0M5 22l1 -1M80 82l0 -3M3 82l1 1M61 31l1 -2M4 23l0 2M39 55l-0 -0M20 75l0 0M78 40l0 -1M40 23l1 1M41 33l2 2M32 2l0 0M19 11l1 -1M38 78l-1 0M24 54l-1 3M45 29l1 -2M13 28l2 2M68 5l-2 -1M44 14l0 0M2 78l-2 2M14 7l-2 0M22 34l1 -0M42 1l-1 0M39 82l0 -3M45 50l-2 2M4 39l2 -1M16 46l-3 1M2 86l1 1M6 16l-1 -0M13 29l1 1M4 50l-3 1M42 37l1 1M37 25l-1 -1M8 5l-0 -3M37 1l-1 0M75 24l0 0M18 27l-1 -0M32 37l-1 -1M54 43l0 1M8 78l1 -2M51 58l-2 1M57 66l1 0M68 59l2 2M25 9l-0 -0M60 13l0 -1M42 64l-1 -2M49 23l-2 -2M39 73l2 -2M26 80l2 1M15 30l2 1M42 5l1 -1M86 87l0 3M77 35l-1 -2M46 54l0 0M89 46l0 1M20 61l-1 1M38 80l-0 1M60 23l-1 0M32 41l-2 -1M64 3l-0 -0M39 9l-1 2M65 65l1 1M81 67l-1 2M37 12l1 -3M-0 74l0 -2M35 19l-2 -0M32 55l1 -0M12 51l0 0M35 53l-0 -0M49 57l1 2M37 78l-2 2M35 60l0 0M34 48l1 -1M15 7l2 -1M6 3l1 -1M61 89l2 -2M56 22l-1 -1M-0 23l2 1M75 8l0 -0M9 53l-1 0M56 80l-1 1M53 29l0 -0M79 28l1 2M41 76l1 -1M48 72l-1 -2M40 88l2 -2M63 22l0 1M12 13l-1 1" stroke="#dcdbe8" stroke-width="1.5" stroke-linecap="round" fill="none"/>
<path d="M53 37l-2 -1M80 87l0 -1M64 47l1 1M64 25l-0 0M54 75l0 0M60 54l1 0M77 83l0 0M42 49l1 2M55 31l-0 0M38 58l1 -1M42 41l0 -0M5 87l0 -0M77 83l2 -0M20 56l-1 1M10 0l1 -1M29 21l-1 0M86 46l-2 -0M57 87l0 1M66 90l-1 -0M74 42l-0 0M44 17l-2 1M48 43l0 -1M13 70l-2 0M30 63l2 0M46 19l0 0M13 46l-1 0M74 22l-2 1M9 43l-0 0M37 3l-1 2M42 24l-1 -1M18 83l-1 -1M28 66l1 -2M26 8l2 1M45 60l-0 0M0 22l0 -0M43 86l2 1M19 6l-0 -1M16 51l0 -0M85 8l-2 -0M24 1l2 1M7 14l1 0M50 1l1 0M79 8l-2 -1M55 23l1 -1M36 50l0 -1M65 35l0 2M71 79l-2 -2M51 78l-0 -0M76 57l-1 0M49 8l0 -1M72 29l-2 0M60 69l-2 1M28 85l0 -0M4 75l1 -0M86 54l-2 -2M70 44l0 -0M22 18l1 -2M61 2l1 0M26 24l-2 0M59 85l1 -1M85 38l-0 -0M41 22l-1 1M72 18l-1 2M25 63l0 0M78 21l1 -1M43 32l0 0M53 34l-1 -1M0 17l0 -0M7 29l0 2M54 9l0 0M55 24l0 1M83 77l2 -1M21 22l-1 -2M46 25l1 2M1 52l-1 1M77 46l1 -0M32 70l-0 -2M47 23l-0 -1M38 26l-1 -1M77 60l-1 1M73 42l0 -0M54 70l0 2M27 49l-2 -1M71 22l-0 1M61 81l-2 1M71 6l1 -0M36 81l1 1M5 59l-1 -2M88 24l-1 1M57 46l-1 -1M71 66l-2 -1M74 60l-1 2M51 -0l-0 -0M10 7l-1 1M7 82l-1 1M69 58l2 -0M4 38l-0 -1M29 49l1 -1M84 81l-1 1M61 80l-1 1M40 86l0 2M39 15l-0 -2M42 7l-1 -0M11 68l-0 2M19 57l-1 -1M37 28l-0 0M54 23l2 -1M11 81l0 0M38 25l-1 2M74 88l-1 0M49 69l0 0M65 88l0 2M69 10l1 1M66 47l-2 0M85 3l-1 -2M-1 38l2 -1M17 25l-0 -1M59 10l-1 -1M2 59l0 0M12 4l0 -0M13 89l1 0M82 42l-0 2M4 15l-1 1M37 63l1 -1M73 65l-1 -2M89 40l-1 2M18 64l1 -0M77 81l-1 2M69 88l0 0M76 11l-1 1M44 21l0 -0M6 83l2 0M23 59l1 -1M64 86l0 1M49 91l0 0M53 29l-0 -0M79 82l-1 -1M59 77l-2 -1M64 13l0 0M52 80l2 1M67 28l0 0M80 77l0 -0M57 31l1 1M-0 15l0 -2M80 80l-1 -2M52 39l0 -0M81 3l0 -1M79 0l-1 -2M79 87l0 -2M78 72l0 0M42 88l-1 -1M28 74l-0 0M66 47l0 1M45 78l-2 -2M77 86l2 1M56 88l-1 2M28 24l0 -1M69 3l1 0M74 70l1 2M81 46l1 -2M73 22l1 2M45 66l-1 -1M52 39l-1 1M37 89l0 -0M48 9l-2 2M30 84l-0 -1M13 6l0 2M14 15l0 -0M74 30l-0 -0M83 84l-2 -2M70 83l-1 -1M24 60l1 -0M25 86l0 -0M67 56l-1 0M15 15l0 1M32 3l-0 0M88 59l-0 -0M5 73l-1 2M35 56l-0 1M65 23l1 1M63 29l-2 -1M40 25l-1 -1M57 33l2 1M13 18l-0 -0M44 37l0 1M51 45l1 0M81 53l0 0M76 42l-2 1M35 29l2 1M83 77l-1 -1M14 72l1 -1M43 50l-2 1M55 91l1 -0M14 1l-1 -0M23 47l1 -1M4 66l0 1M40 3l-1 -1M36 66l-1 -0M75 45l1 0M65 23l-0 -0M43 61l0 2M77 78l0 -0M77 60l0 0M40 79l1 -0M38 55l-1 -2M24 30l0 0M76 29l-2 -0M26 90l-0 0M87 52l-1 -2M54 76l-0 -0M4 42l-0 -0M10 46l1 0M45 8l-0 0M30 73l-0 1M83 44l-1 -0M57 49l-0 -0M48 8l0 -0M35 45l0 1M12 80l1 2M14 43l-1 -0M82 13l-1 -0M59 74l1 2M57 87l0 -2M44 34l-2 1M20 63l0 -0M26 47l0 0M76 52l1 2M81 53l0 -2M73 53l0 0M83 78l-1 0M57 70l-0 -0M48 56l-1 -1M60 7l2 -0M6 80l1 1M77 13l2 1M60 67l-1 -2M12 9l-0 1M28 46l1 1M40 34l-2 -0M82 14l1 0M41 30l-1 0M46 30l-1 -1M55 48l0 -2M8 75l-0 0M53 78l-2 2M63 80l1 1M45 -0l0 -2M86 56l-1 -0M75 87l0 -0M52 4l0 0M44 31l-1 -1M7 41l0 -0M30 9l1 0M88 81l-1 -0M30 32l-1 1M61 13l1 2M22 53l-0 -2M68 82l-0 1M39 80l2 -1M77 89l2 -1M80 63l1 -1M10 61l2 -1M35 6l2 2M20 28l1 0M15 82l-0 0M-0 77l0 0M46 22l-0 -1M45 90l0 2M74 25l-1 1M76 5l1 -1M40 85l1 0M33 4l1 -0M28 58l-2 -0M25 -1l0 -1M13 90l-1 -1M24 56l-0 0M66 25l-0 0M86 26l-0 -0M23 91l-2 0M25 19l-2 0M69 58l-1 -1M9 5l-1 -0M57 6l1 1M40 42l-1 2M79 24l1 2M26 12l1 2M60 34l-1 -0M18 58l-0 -1M20 67l-0 -1M45 76l-1 0M60 69l-0 1M43 44l-0 0M67 18l2 0M71 32l-0 1M38 74l1 0M80 34l-0 2M16 86l-1 0M30 7l0 1M88 82l-1 0M36 67l1 -0M42 82l2 -1M13 45l0 -1M35 72l1 1M83 62l-0 1M80 57l-1 0M53 62l2 0M11 45l-0 1M55 13l0 -0M17 34l1 -1M85 3l-1 -2M66 88l1 -0M47 29l-1 -2M69 48l1 -2M81 72l1 1M32 44l1 -2M86 42l-2 -0M81 85l1 -0M15 90l-0 0M55 42l-0 1M32 65l0 -2" stroke="#6266a6" stroke-width="1.7" stroke-linecap="round" fill="none"/>
<path d="M82 81l-1 -0M64 83l0 0M28 9l1 -1M73 13l2 -1M82 8l-1 -2M42 32l-0 0M14 17l-0 0M87 74l-1 -0M13 73l-2 -0M73 -1l-1 -0M80 37l2 -1M5 6l0 -0M79 -1l2 -1M8 14l-0 0M43 61l0 -0M25 75l-0 1M68 0l0 2M62 -1l1 1M44 87l2 -1M66 49l-2 0M85 40l1 -0M37 21l-2 -0M65 69l-0 1M82 81l-1 -1M62 73l-1 -0M15 20l1 1M57 35l1 0M45 19l-0 -1M12 76l1 1M43 25l-1 1M9 24l-0 -0M43 11l-2 -0M50 45l-1 2M28 18l1 2M9 44l-0 -1M72 25l-1 0M48 72l2 -1M85 64l-1 -0M42 87l-1 1M24 9l2 -0M6 81l-2 0M60 5l0 -0M50 56l-0 0M0 65l-0 -0M72 77l-1 -1M26 12l-1 0M86 22l-0 0M49 33l-0 -0M34 91l-1 0M80 66l-1 0M74 49l1 -0M21 35l-2 -1M42 89l-0 0M39 32l1 0M34 6l-1 1M43 81l1 0M57 33l1 0M1 66l-0 0M25 48l0 0M37 30l-1 -1M64 28l-2 -1M41 30l1 2M8 37l-1 -1M23 54l0 0M5 67l1 0M78 25l-1 -2M56 55l0 2M5 20l0 -2M34 27l0 -1M61 30l2 1M3 2l-2 1M11 71l-0 -0M47 81l-2 -0M49 47l-0 -0M87 55l-0 0M52 8l-1 -0M77 23l0 0M61 51l-1 0M65 88l-0 -1M27 58l0 2M66 41l2 -0M30 83l-0 2M41 21l-2 0M67 89l-0 1M16 45l-0 -1M55 80l0 -2M47 79l-1 0M63 55l1 1M8 38l-0 -0M64 83l0 -0M87 46l-2 -1M17 11l1 -0M30 35l-2 0M36 86l1 -1M2 50l2 0M59 23l1 0M79 33l1 0M60 4l1 -1M54 63l1 0M5 16l-0 1M22 65l2 1M37 39l-1 -1M31 35l0 -1M40 36l-0 -2M43 3l0 0M0 36l2 -0M75 65l-0 0M10 73l1 2M55 59l0 -0M24 5l1 -0M13 19l-1 2M10 55l-1 1M-1 73l1 2M46 84l0 1M29 9l-1 -1M40 25l-1 -0M78 52l-0 -1M68 58l-1 1M32 40l0 2M0 76l1 -2M70 8l-2 -1M50 38l-1 1M23 32l0 0M11 65l1 -0M30 72l0 0M85 43l-0 1M25 55l-1 1M34 7l-1 2M-0 36l-0 -0M82 39l1 -1M59 45l-1 -0M81 90l-2 0M28 7l1 1M58 85l-0 -0M31 29l-0 2M19 86l-1 -1M49 27l2 -0M76 31l0 -0M10 64l0 0M88 9l-2 -0M19 17l1 -1M18 32l1 1M63 70l-0 -0M32 45l1 -1M84 54l1 0M47 10l-2 0M62 47l1 -1M0 24l-0 -0M66 7l1 1M43 21l-2 -0M5 50l-1 0M17 76l-2 0M61 87l-1 0M3 27l-1 -1M51 20l1 1M78 34l-1 -1M20 58l1 -1M47 52l0 0M27 72l-1 -0M69 37l-0 -1M84 42l-1 -1M24 -0l0 -1M40 40l0 -0M19 87l-1 2M76 67l-1 -1M86 22l-1 2M31 30l-0 0M69 45l0 0M-1 89l0 -1M38 82l-1 -0M37 78l0 -0M87 86l0 1M12 26l-1 2M19 71l-0 -2M10 7l-0 0M18 17l0 0M39 16l-1 0M36 12l-1 1M88 27l0 -2M20 65l-1 -0M62 54l-1 -1M87 72l-2 -0M65 2l2 0M20 70l-0 -0M10 70l-1 2M79 -0l1 1M27 73l2 -1M54 30l-0 -1M18 32l1 -0M20 54l-1 -1M82 11l0 0M30 41l-0 -0M27 14l0 -1M37 76l1 -0M3 23l-1 -1M42 87l-1 -0M82 14l-1 0M36 17l-0 2M30 63l-0 2M74 72l-1 1M46 69l-0 -1M86 13l-0 1M48 69l0 1M50 46l0 0M13 74l2 0M68 31l-0 0M4 29l-1 1M77 59l-1 -1M16 18l-0 1M56 44l1 -0M17 68l1 -0M27 36l-0 -0M39 64l0 -0M44 70l1 -1M28 68l-1 0M13 56l0 -0M82 85l-0 -2M79 60l2 -1M10 41l1 1M15 69l-1 0M85 57l0 -0M79 18l-1 1M82 15l1 0M7 53l1 -0M72 89l-0 0M76 73l-1 -1M68 -1l0 2M50 33l-0 2M0 1l-0 -1M11 35l1 -1M51 65l0 0M35 42l0 1M0 6l-2 -1M42 75l-0 -0M46 43l0 -0M5 73l0 0M83 0l-2 0M88 72l-0 0M36 46l1 -0M14 61l-0 0M88 42l-1 0M12 12l-1 -1M40 19l1 0M19 63l0 0M57 7l-1 -2M14 86l-1 -0M34 54l0 1M17 46l-0 -2M5 50l-1 -1M46 54l-0 -0M35 47l-1 1M11 0l1 -0M1 75l-1 0M36 68l-0 -0M80 51l1 1M70 77l1 -0M52 82l1 0M7 30l-0 -0M8 80l0 2M80 28l2 -0M48 31l0 1M83 14l0 0M18 5l-1 -1M65 31l-0 0M16 65l-1 1M81 24l-0 1M44 90l-1 2M9 85l1 1M86 84l-1 -0M67 84l1 -1M0 61l1 1M55 26l0 0M60 7l-1 0M64 27l-2 0M39 49l1 -1M29 58l0 0M58 89l-2 -1M50 21l1 -1M74 22l-1 1M32 59l1 1M31 11l-2 -0M33 40l-0 -0M63 11l-0 1M29 30l0 0M59 48l1 0M73 14l-1 1M69 44l1 -0M80 70l0 0M60 40l-1 0M36 81l1 -0M86 81l-0 0M80 88l-2 -0M38 32l-0 -1M5 10l-0 -1M7 11l0 0M4 32l0 -0M24 32l0 -0M85 31l-2 -0M80 74l-2 -1M39 86l-0 1M4 21l-1 0M36 33l1 -1M40 79l-0 0M67 83l1 1M41 24l1 -2M15 87l0 -0M24 18l-1 1M60 81l-0 1M81 26l2 -1M60 86l-0 1M76 84l-0 -1M37 12l1 -0M68 6l1 0M81 37l-1 2M0 91l-0 1M23 46l0 2M17 73l-1 -0M40 53l0 -0M59 -1l0 -0M21 56l-0 1M50 26l-0 1M40 25l0 1M49 90l-1 1M2 21l1 -2M77 88l-0 -0M35 43l-0 1M20 12l1 -1M60 24l-1 2M38 12l0 -2M24 60l-2 1M66 74l0 -1M85 57l0 -1M72 47l1 -0M27 21l0 -0M62 29l1 0M69 36l0 -0M32 78l0 1M79 49l1 0M59 60l-0 1M48 51l1 1M30 57l1 1M67 78l2 1M42 13l-0 -0M66 36l-0 -0M76 6l0 1M65 31l-1 -0M87 85l-1 -0M15 21l-1 -1M38 65l0 1M21 35l-1 0M17 79l0 -0M79 83l-0 -0M65 78l1 0M49 60l0 0M81 71l0 1M10 33l0 0M50 34l1 1M59 84l1 0M65 44l-2 -1M5 8l0 -0M79 87l-1 -1M17 26l2 1M27 85l2 0M56 88l-0 1M44 33l1 -0M31 5l-1 1M54 59l-1 -1M33 87l-0 0M5 35l-0 0M28 16l-1 -1" stroke="#3a3e84" stroke-width="1.7" stroke-linecap="round" fill="none"/>
<path d="M40 10l0 -0M51 27l-0 -1M87 88l-0 0M49 82l0 -0M11 90l-1 -0M84 57l0 0M68 7l-0 1M53 65l0 -0M7 58l-0 -0M81 3l1 -0M81 57l0 -0M48 74l0 0M34 19l-0 0M10 9l0 -0M56 39l-0 0M54 7l0 0M50 86l-0 -0M11 28l0 -0M26 50l0 0M61 7l0 1M26 75l-0 -1M4 45l-0 -0M64 -1l-0 0M-0 18l0 0M10 51l-0 -1M54 1l-1 0M53 42l0 -0M13 17l-0 -0M77 41l0 -0M57 2l-1 0M78 45l0 -0M20 64l0 0M85 55l1 -0M55 58l-0 -0M33 54l-0 -0M80 37l-0 -0M23 16l0 1M26 64l0 -0M32 74l-0 0M50 65l0 -0M86 60l1 0M49 22l0 -0M2 29l0 0M65 15l0 -0M56 65l-1 0M82 23l-0 0M3 79l-0 0M51 17l0 -0M8 11l-0 -0M2 78l0 -0M67 3l1 -0M79 45l1 0M61 1l1 -0M26 18l-0 0M22 16l0 -0M34 46l0 -0M7 30l0 -0M22 40l-0 -1M26 20l0 0M83 45l-0 0M37 71l0 -0M51 63l1 0M26 45l0 0M57 56l-0 -1M1 41l-0 -0M63 73l-0 -0M14 9l-0 -1M53 12l-0 -0M7 19l0 0M54 25l0 0M30 41l1 -0M87 69l-0 0M83 71l-0 -1M50 60l0 -1M67 64l0 0M88 53l0 0M42 55l0 -0M88 43l0 -1M9 82l1 0M30 71l0 0M79 83l-0 -0M69 55l-0 0M58 51l-0 -0M19 51l0 0M86 46l-0 0M26 17l-0 -0M72 43l-0 0M57 50l0 1M48 23l-0 0M71 62l0 0M42 14l0 -0M61 85l-0 1M5 79l0 -0M68 34l0 0M40 76l0 0M80 35l-0 0M87 16l1 -0M21 9l-0 0M44 84l-0 0M35 26l-0 0M3 88l-0 -0M84 19l0 -0M46 54l-0 -1M27 67l0 -1M69 12l0 -0M67 20l-0 -1M71 1l-0 -0M58 14l0 -0M81 61l-0 -0M64 36l0 -0M32 59l1 -0M18 86l0 -0M66 37l0 -0M74 49l-0 0M66 52l-0 0M59 37l-0 -0M80 78l0 0M36 19l0 0M39 71l-1 0M49 68l-1 0M42 77l-0 -0M48 18l-0 -0M83 21l-0 0M40 11l-0 -0M75 23l-0 -0M66 27l1 1M50 89l-0 -0M62 79l0 0M57 -1l0 -1M51 44l-0 0M77 57l0 1M65 55l-0 0M16 48l1 0M81 0l-0 -0M48 87l-0 0M12 38l0 -0M8 87l0 0M29 2l0 -0M87 19l0 -0M81 64l0 -0M14 47l-1 0M32 74l-0 -0M22 1l-0 0M65 86l-0 -0M52 17l-0 -0M14 47l0 0M44 57l0 0M13 44l1 0M54 32l0 -0M58 41l0 -0M39 -1l0 0M60 19l1 1M21 17l0 -0M20 14l0 0M39 49l0 -0M37 14l0 0M41 78l1 0M18 63l-1 0M35 21l-0 -1M17 12l0 0M43 14l0 0M40 51l0 0M26 19l0 -0M3 81l-1 0M4 20l-1 -0M14 87l-0 -1M52 4l-0 -0M12 59l-0 -0M78 66l-0 0M57 86l-0 0M76 83l-0 0M62 52l0 0M76 23l-0 1M20 21l-0 1M64 36l1 0M67 34l-0 -0M20 27l-0 -0M24 58l0 -0M75 39l-0 -0M19 59l-1 -0M48 5l-0 0M10 59l0 -0M77 20l-0 0M29 59l-0 0M72 65l1 -0M43 61l0 -0M63 63l0 -0M22 12l0 1M20 44l0 1M2 34l0 -0M6 86l-1 0M46 89l0 0M38 27l0 -0M59 87l0 0M20 10l-0 0M51 90l0 0M23 15l0 0M77 4l1 -0M16 32l0 -0M64 75l-0 -0M7 91l0 0M73 10l-0 -0M70 77l-0 -0M60 3l-1 0M51 60l0 0M14 27l-0 0M37 47l-1 -1M-1 21l-0 -1M73 67l1 0M66 68l-0 0M31 41l0 -0M-1 13l1 -1M21 34l0 -1M78 89l-0 -0M58 51l0 0M84 45l0 -0M16 51l1 -0M45 84l0 -0M67 59l-1 0M-1 75l-0 1M85 27l0 1M81 83l1 0M33 62l0 -0M59 67l-1 0M75 38l0 0M37 38l-0 -0M43 25l1 -0M84 19l1 -0M60 36l-1 -0M52 33l-0 -0M67 88l-0 -0M79 56l-1 -0M59 58l-0 0M78 83l-0 1M40 16l0 -1M31 88l-0 0M55 15l-0 0M24 5l1 -0M38 12l-0 -1M38 30l0 0M65 12l-1 -1M83 28l-0 -0M46 89l-0 0M17 34l-0 0M63 57l-0 -0M22 79l0 0M71 17l-0 -1M28 2l-0 -0M80 50l-0 -0M19 77l-0 0M47 42l0 -0M18 20l1 0M67 26l-0 -1M42 3l-0 -0M66 36l1 -0M46 78l0 0M41 73l-0 0M7 13l-0 0M12 39l-0 0M35 76l0 0M57 91l0 0M61 2l0 -1M9 25l1 -0M89 81l-0 -0M62 53l0 0M29 44l-0 0M23 86l-0 -1M34 13l1 -0M49 49l-0 -0M72 28l0 1" stroke="#634836" stroke-width="2.0" stroke-linecap="round" fill="none"/>
<path d="M21 66l0 -0M67 22l-0 0M57 70l-0 0M82 81l0 -0M35 52l0 -1M87 45l0 0M83 9l0 0M40 80l0 -0M13 47l-0 1M6 18l-0 0M71 22l-0 -0M43 11l0 -0M24 9l0 0M-0 29l-1 -0M65 -1l0 -0M81 53l0 0M12 50l0 0M62 32l0 0M16 22l0 -0M72 53l-0 0M73 36l-0 0M34 35l0 -0M86 54l1 0M72 30l-0 0M77 37l0 0M2 8l0 -1M31 12l0 0M75 80l-0 0M6 75l-0 -0M86 63l0 0M42 31l0 -0M80 6l0 1M60 53l0 -0M85 10l0 0M40 55l1 -0M14 88l-0 -0M27 23l-0 1M35 91l-0 -0M14 37l-0 1M5 49l0 1M88 15l-0 -0M54 58l0 -1M10 42l1 0M44 71l-0 -0M39 54l-0 0M14 11l0 0M48 47l-0 0M66 80l0 -0M37 7l0 0M48 55l0 -0M34 31l0 -0M40 40l1 0M22 40l-0 1M80 76l-0 0M29 72l0 0M74 36l0 0M76 32l0 0M14 70l0 -0M62 21l0 -1M53 40l0 0M61 82l-0 -0M72 60l0 -0M75 36l-0 0M33 60l-0 -0M6 20l-0 -0M76 64l-0 1M74 88l0 -0M77 39l0 -1M59 84l-0 -1M53 20l1 0M17 63l0 -0M35 12l-0 -0M84 60l1 0M24 -0l0 -0M75 9l-0 -0M20 90l0 0M57 77l0 -0M19 1l-0 0M33 58l-0 -0M87 23l0 -0M69 74l1 0M68 30l0 0M63 2l0 0M64 58l0 0M39 14l0 -0M76 42l0 0M45 88l-0 0M74 15l0 0M15 30l0 0M79 88l-0 0M86 8l-0 0M76 13l0 0M18 19l-0 -0M45 5l0 -0M30 4l0 0M76 12l-1 0M12 29l0 -0M50 5l-0 -0M88 13l-1 -0M22 59l1 0M53 9l0 1M30 26l-0 -0M68 59l1 -0M85 66l0 0M66 49l-0 -0M4 45l0 0M6 18l1 0M32 17l0 -0M65 81l0 0M55 77l1 0M74 31l0 0M27 40l-0 -0M59 20l1 -0M79 19l-1 0M0 71l-0 -0M40 17l0 0M34 44l0 -0M84 26l-0 0M43 15l-0 -0M65 6l-0 -0M62 46l1 -0M7 32l-0 -0M17 60l-0 0M7 5l1 0M88 41l-0 -0M80 24l-0 0M20 33l-0 1M56 90l0 0M11 77l0 0M40 30l0 0M70 77l0 -0M34 2l-0 -1M81 82l0 -1M1 64l0 0M61 6l-0 -0M35 5l-0 -0M45 72l0 -0M39 72l-0 0M67 59l-0 -0M18 -1l-0 0M8 80l0 -0M85 50l0 0M73 23l-0 -0M69 41l-0 -0M6 90l0 0M49 55l-0 0M62 62l-0 -0M27 32l-0 1M75 31l1 -0M5 75l-0 0M64 23l0 -0M-1 26l-0 0M70 87l0 0M67 40l-1 -0M20 23l0 -0M40 66l0 -0M41 18l-0 -0M32 15l-0 -0M63 81l0 -0M60 81l-0 -1M6 1l0 0M67 15l-0 0M24 51l0 0M22 62l0 -0M39 15l-0 -1M74 35l-1 -0M34 76l0 0M36 60l-0 0M80 45l-0 -0M2 62l-0 0M6 46l-0 -0M17 62l1 0M14 16l-0 -0M55 71l0 0M8 61l-0 -1M50 41l0 1M40 38l-0 0M9 18l0 -0M25 5l0 -0M86 83l-0 -1M64 46l-0 0M23 12l0 -0M51 4l1 0M81 11l0 1M65 67l0 -1M26 83l0 -0M5 37l0 0M88 16l-0 -0M31 24l-0 0M3 18l1 0M16 91l0 1M21 78l0 0M86 84l0 -0M79 2l0 -0M28 55l-0 0M36 90l0 -0M61 64l1 -0M62 61l-0 -0M26 10l-1 -0M57 3l-0 1M78 78l-0 0M3 1l0 -0M32 7l0 0M-1 28l-0 -0M34 21l-0 0M52 7l0 -0M52 61l-0 1M66 4l0 0M70 53l-1 -0M13 81l0 -0M58 9l-0 0M5 49l0 -0M69 59l-0 -0M79 59l1 0M82 11l-1 0M81 69l0 -0M61 51l0 1M78 51l0 -0M74 49l0 -0M0 59l-0 -0M86 62l-0 1M18 76l0 0M6 62l-0 0M70 15l0 -0M71 81l0 1M19 58l0 -0M14 37l-0 -0M8 10l0 1M52 58l0 -1M64 62l0 0M76 57l-0 -0M14 49l0 0M15 42l0 -0M76 60l-0 1M55 46l0 0M7 59l-0 -0M73 62l0 -0M88 67l-0 -0M58 91l-0 -0M81 88l0 -0M50 60l0 0M41 7l1 0M33 6l-0 0M70 61l-0 1M67 86l0 -1M39 8l0 -0M83 26l0 0M13 83l0 0M27 21l-0 0M71 73l0 -0M34 56l0 0M44 17l0 1M27 55l-0 -0M40 36l-0 0M35 45l-0 -0M48 41l0 -0M28 25l0 -0M28 41l0 -0M29 3l0 -0M37 54l-0 0" stroke="#4e3426" stroke-width="1.9" stroke-linecap="round" fill="none"/>
<path d="M81 10l-0 0M39 28l0 -0M11 54l-0 0M43 70l-0 -0M79 13l0 -1M81 64l0 -0M12 35l-0 -0M-1 57l1 0M74 39l-0 0M12 74l0 0M18 45l0 1M67 6l-0 -0M66 30l0 -0M39 22l-0 1M8 25l-0 0M50 88l-0 0M76 78l0 0M64 13l0 0M16 50l-1 0M9 24l0 1M37 52l-0 0M7 -1l-1 0M54 36l-1 1M24 88l0 0M61 41l0 -0M88 0l-0 0M20 41l-1 -0M30 77l-0 -0M46 45l-1 0M30 61l0 1M61 52l0 -0M-0 74l-0 0M1 45l0 0M58 54l0 -0M25 44l0 0M82 84l-0 0M77 21l-1 0M79 90l0 0M43 21l0 -0M50 4l-0 -0M42 19l0 -0M85 78l-0 -0M-0 34l1 0M16 65l-0 -0M64 9l0 -0M68 44l1 0M61 31l0 0M77 78l1 0M2 79l1 0M32 86l-1 -0M66 28l-1 -0M45 66l-0 0M52 16l0 -0M60 86l0 -0M11 5l-0 0M81 67l-0 0M16 60l0 0M21 25l-0 -0M61 58l0 0M55 54l-0 -0M73 26l1 -0M13 3l-0 1M-1 59l-0 0M78 89l-0 -0M60 77l-0 -0M2 77l-0 0M68 25l1 1M34 61l-0 0M56 81l-0 -0M24 79l0 -0M7 57l-0 0M38 44l0 -0M62 18l0 -0M70 33l-0 0M6 79l1 1M63 82l0 -1M53 79l-0 0M52 87l-0 -0M31 38l-0 0M86 81l0 0M74 60l-0 0M78 77l-1 -0M68 2l-0 0M51 -1l0 0M46 66l-1 0M47 77l-0 -0M81 68l0 -0M38 76l0 0M38 59l-0 0M24 61l1 0M21 55l0 -0M68 7l0 -0M78 48l-0 0M3 59l0 0M31 83l-0 -0M74 34l1 -0M49 18l-0 0M25 69l0 0M49 4l-0 0M78 7l1 -0M15 52l-0 0M77 11l0 0M44 85l-0 -0M64 24l0 0M8 2l0 -0M2 91l0 -0M2 75l0 0M89 43l0 -0M25 17l0 -0M8 -1l-0 0" stroke="#3a261e" stroke-width="1.9" stroke-linecap="round" fill="none"/>
</g></svg>
<rect x="486.3" y="951.3" width="20.3" height="3.0" fill="#000"/>
<svg x="567.9" y="876.0" width="87.4" height="90.5" viewBox="0 0 87.4 90.5" overflow="hidden">
<rect width="87.4" height="90.5" fill="#bab4ba"/><g filter="url(#hb)">
<path d="M63 57l2 2M33 85l0 2M46 18l-2 -2M6 66l1 -1M64 49l1 1M37 56l1 0M35 57l1 -2M7 91l-1 1M17 57l0 1M2 1l1 -2M87 43l0 1M83 80l0 -0M77 47l1 2M34 46l0 0M50 6l-0 -0M51 18l-1 -1M62 69l0 0M67 59l0 -0M7 77l0 -0M9 11l-2 -0M65 36l-2 -0M72 89l1 1M57 31l2 1M62 32l1 -0M15 41l-2 -1M42 44l0 -0M57 26l-0 -0M43 56l-0 0M5 22l-0 -0M40 47l2 1M43 14l2 2M70 48l0 -0M55 78l-2 -0M85 22l0 -0M52 73l1 1M34 15l2 1M76 3l1 3M20 23l3 -0M77 49l-0 -3M44 29l0 0M6 12l-2 -1M17 75l2 2M68 65l0 -0M86 29l0 1M54 5l-0 0M42 82l-1 1M51 55l2 0M54 57l-0 2M82 39l3 1M42 67l0 -0M18 22l1 0M11 72l-0 0M5 28l-0 0M16 68l-2 1M52 44l-0 0M15 71l0 1M45 71l-1 -0M30 13l-1 -0M9 19l-1 2M40 53l2 -2M85 83l-1 -1M33 61l-0 0M32 4l-0 -0M36 0l-1 -1M73 69l2 0M27 85l3 -0M42 77l2 -2M29 82l-0 -1M32 20l1 -1M67 54l1 1M40 86l-3 0M55 6l0 2M21 52l0 0M83 82l-1 0M34 70l1 -1M83 32l0 -0M88 82l-1 -1M19 45l-1 0M9 71l3 -1M14 49l-1 -1M72 82l1 1M40 3l-0 0M37 62l0 -1M62 14l1 0M43 30l1 -3M69 63l1 -2M1 54l0 -1M6 87l0 -1M56 36l2 1M6 -0l0 0M12 7l1 -2M38 80l1 1M72 2l2 -2M24 22l2 -1M24 72l0 0M66 11l2 -0M75 29l0 -0M10 79l2 -1M87 58l1 -2M54 34l-0 0M9 86l2 -2M63 58l-0 -2M78 8l2 2M40 79l1 -0M73 65l-3 -1M16 47l-0 1M19 60l-0 -2M24 39l0 0M17 4l-0 -1M20 73l-2 2M41 43l-1 -3M88 24l1 1M36 85l0 0M47 82l-0 -0M87 65l-0 1M35 30l-1 -1M31 64l0 1M24 36l1 1M74 30l-0 2M42 38l0 0M49 60l-1 -3M51 21l-2 0M0 14l1 -1M77 61l3 0M27 22l-2 -2M61 16l-0 -0M65 69l2 -0M86 89l0 -3M29 52l0 0M12 22l2 2M79 5l-1 -1M84 10l-0 0M6 18l-0 0M54 90l2 0M72 12l1 2M21 30l0 0M46 67l0 0M54 7l-3 1M72 62l0 -1M51 74l0 0M15 5l0 2M45 16l0 -0M5 10l1 -0M7 84l-1 -3M78 65l0 1M39 79l-1 -0M8 41l1 -2M6 31l-1 -0M83 69l-1 -0M50 87l-1 -2M36 22l1 1M11 76l1 1M63 84l2 -1M74 73l-0 1M29 76l1 -2M25 56l-1 -1M21 24l0 -0M46 53l2 -1M17 3l-0 -2M59 20l0 -1M49 38l2 1M57 25l-1 2M61 39l0 -1M6 37l-2 -0M35 79l-2 -0M34 39l1 -3M46 71l0 0M50 62l-1 -0M22 53l2 0M-0 38l-2 1M21 54l-2 -0M6 65l1 -0M86 7l3 -1M44 7l0 0M60 76l1 1M43 80l-0 -1M41 40l1 -1M75 81l1 -3M69 28l1 0M16 70l-1 -0" stroke="#dcdbe8" stroke-width="1.6" stroke-linecap="round" fill="none"/>
<path d="M70 32l2 -1M48 62l1 3M68 75l0 0M67 61l-1 2M22 13l0 -0M51 16l0 0M14 76l-0 1M32 82l-0 0M73 24l0 -0M7 79l0 -1M51 49l0 1M-0 70l2 2M60 80l-0 1M49 41l0 0M42 39l0 -1M59 46l2 -2M43 47l2 -0M5 1l-1 1M31 26l-1 1M8 73l1 -2M43 91l-1 -2M25 58l2 -1M55 34l2 1M41 54l1 2M53 56l0 -0M78 17l-0 -0M6 3l0 -1M60 88l1 -1M46 52l-2 0M85 76l2 -0M75 75l0 -0M24 28l-1 -2M8 41l-2 -1M85 57l-2 0M10 61l0 -0M41 60l1 -0M38 38l0 0M3 49l2 -0M80 31l2 -1M22 80l-0 2M16 44l-0 2M78 28l-1 0M51 65l2 0M54 68l-1 -2M17 73l1 2M65 71l-1 2M78 82l2 0M22 68l0 0M79 47l-2 -0M86 83l-1 -1M19 87l0 -0M88 21l-2 -2M61 90l-1 -0M2 62l2 2M34 7l1 1M70 86l1 -0M8 17l2 -1M10 79l-0 -1M49 1l2 2M62 84l0 -1M40 19l-0 -0M23 85l-2 -1M64 82l0 -1M62 47l0 0M56 53l1 1M2 2l1 -0M5 42l-2 -0M2 82l1 1M65 27l-0 0M19 61l-0 -2M9 74l1 -3M12 36l0 3M42 10l0 -1M67 1l-2 -1M2 59l1 -0M36 10l1 -2M20 73l1 2M23 61l-1 -0M57 65l0 -2M39 73l-0 1M57 65l2 -2M12 34l2 1M54 19l-1 -1M83 24l0 -0M16 13l-1 -0M78 91l-0 -0M8 77l1 2M15 49l3 -1M59 16l-2 1M17 84l-2 0M27 26l0 1M36 80l-0 -1M83 58l1 -0M27 5l-2 1M69 21l0 -1M85 89l2 2M52 79l-2 -0M70 37l2 -2M54 57l0 1M55 28l1 1M41 75l1 -0M30 47l-1 2M7 36l1 2M21 55l-0 0M84 32l-0 -1M35 49l-2 1M20 14l-0 0M86 80l-0 -0M67 33l2 1M35 47l2 -0M40 16l3 -0M40 63l-2 -2M37 87l2 1M7 87l0 2M61 54l1 1M37 65l-0 -0M87 75l-1 -1M11 48l-2 -1M39 59l-0 2M2 70l-2 0M39 15l-0 0M46 42l-0 0M74 45l-2 -2M4 41l1 1M77 39l2 1M76 66l0 0M9 61l-2 -1M29 38l-1 -1M24 37l-0 3M11 56l-0 0M34 56l-3 1M74 5l-0 0M9 62l3 1M79 42l-1 1M51 85l-1 0M30 9l-1 0M14 29l0 2M31 65l-1 -0M23 59l-1 3M28 33l-0 -1M77 54l0 0M80 33l0 1M67 90l-2 -1M24 6l-0 -1M54 16l-2 0M11 29l-0 2M39 1l-0 -2M32 89l-1 -1M17 17l1 1M16 1l3 -2M37 0l2 0M43 72l0 0M86 68l-1 2M27 24l2 0M77 32l1 1M51 43l-1 0M5 75l2 3M7 26l1 -0M14 84l-1 -2M39 7l2 1M36 52l3 0M13 61l2 -1M57 86l-1 0M36 20l-0 -0M51 30l-3 1M45 65l2 -2M47 31l1 -3M12 75l-1 0M2 1l-2 -2M6 26l0 -1M50 23l2 -2M66 37l0 -0M68 16l-1 -0M80 29l1 -2M45 86l-1 -1M73 48l-1 1M-1 47l1 1M68 37l0 2M80 25l0 0M65 28l1 2M5 70l0 -1M15 24l-0 -1M20 87l-0 1M7 64l-1 1M65 85l-0 1M75 69l-0 -2M23 18l-2 -2M65 9l-0 1M37 88l0 -0M64 24l0 1M61 29l0 -1M35 49l2 -1M30 43l-2 -2M38 11l1 -0M26 40l-1 0M8 70l-0 -0M3 73l0 0M65 55l1 -1M62 24l2 -1M78 82l-0 -1" stroke="#a8a4b4" stroke-width="1.6" stroke-linecap="round" fill="none"/>
<path d="M55 12l0 0M80 -0l1 2M-1 7l-1 2M54 26l-0 -2M80 70l0 0M73 11l0 -0M56 20l1 1M7 60l-1 1M23 36l2 -1M84 35l0 0M20 41l-0 0M66 42l-1 -0M36 22l1 -0M58 2l-0 -0M54 82l1 -0M79 51l-1 1M66 71l-1 1M63 35l1 -1M85 66l-0 -0M18 64l-0 -0M19 35l-1 1M7 83l-1 -0M65 15l1 1M72 68l-0 -2M85 30l-1 -1M15 16l-0 -0M60 41l-1 0M81 58l0 0M76 89l-1 1M29 42l-0 -1M8 39l-1 1M31 27l2 1M60 18l1 0M40 13l2 0M36 4l0 -0M74 32l1 -1M18 55l-0 0M71 51l1 0M78 75l-0 1M69 54l-1 -0M84 46l-1 1M13 58l1 2M57 41l0 -0M26 8l1 -1M9 8l1 -0M72 80l-2 -1M50 11l-0 -2M69 83l1 0M41 60l0 -0M33 91l0 -2M33 36l-0 2M28 20l-1 -2M37 54l-0 -0M53 18l-0 -0M29 22l-1 1M70 4l-0 -0M45 57l-0 0M16 52l1 2M78 37l1 0M60 28l1 -1M59 81l1 0M8 14l1 1M39 58l-1 0M35 1l-1 0M9 44l-0 0M45 90l0 -0M80 77l1 -0M37 47l0 0M44 34l-0 0M2 40l0 -0M50 59l1 1M36 18l-0 0M22 15l-0 0M63 79l-1 -0M87 45l1 -0M76 15l-2 0M63 57l1 -1M53 23l0 -1M77 63l-1 0M20 78l-0 -0M81 43l2 -1M8 47l-0 -2M33 80l-1 -0M88 70l-0 0M4 63l0 -2M61 71l-0 0M42 65l-0 -1M27 15l-1 -0M65 64l0 1M70 31l0 0M83 44l-1 -0M50 2l1 -1M11 89l1 -1M60 56l-1 -2M24 79l-0 0M35 14l0 -0M9 34l-1 0M69 73l-0 0M21 50l0 1M74 42l2 -0M63 68l-1 -1M84 57l-0 0M81 0l-1 -1M3 90l2 -0M77 56l1 2M71 65l-0 -0M72 40l2 0M76 3l-1 -1M16 19l-0 0M45 72l-1 -0M58 57l1 1M64 19l-1 0M63 42l-0 1M30 74l-1 1M55 71l0 0M52 50l2 1M5 2l-1 -1M42 22l-0 1M68 11l-0 0M21 75l-0 1M29 10l0 -0M54 50l1 0M3 38l-1 -0M61 59l-0 -0M63 47l-0 -1M12 13l0 -1M8 49l2 1M25 30l-1 -1M51 18l1 1M61 44l0 0" stroke="#4c5096" stroke-width="1.9" stroke-linecap="round" fill="none"/>
<path d="M37 33l-1 0M24 35l-0 0M59 87l-1 0M87 12l-0 -0M74 50l-0 -0M73 44l-1 0M1 58l-0 -0M40 27l-1 0M26 43l-1 1M39 36l-0 -0M32 68l0 0M62 46l-0 -0M21 43l0 1M82 11l0 0M7 56l-0 0M59 59l-1 -0M32 14l-0 -0M61 36l0 0M37 51l1 -0M9 58l-1 1M70 81l-0 0M76 3l-0 -0M25 61l-0 1M68 27l-0 -0M81 21l-0 0M66 71l-0 1M44 36l0 -0M35 8l-1 0M86 32l-0 0M28 85l1 0M63 56l-0 0M19 41l0 -0M64 35l0 -0M34 79l-0 0M58 51l0 -0M82 57l0 -0M5 47l0 -1M79 48l0 -1M25 10l0 -1M11 41l0 0M75 22l0 0M79 51l0 0M53 45l0 -0M87 22l0 0M43 64l-0 0M76 88l-1 -1M5 48l-0 -0M87 79l-1 0M58 46l-1 0M-0 87l0 1M81 88l-0 1M81 43l-0 -0M39 77l0 0M60 44l1 1M35 45l0 0M50 11l0 -0M54 37l-1 0M53 56l0 -0M5 53l-1 0M81 85l0 1" stroke="#7a6252" stroke-width="2.8" stroke-linecap="round" fill="none"/>
<path d="M86 42l-1 1M24 63l0 -0M48 31l0 0M80 91l-0 0M85 38l0 -0M57 31l-0 -0M75 89l0 0M83 32l-0 0M37 37l-1 -1M76 21l-0 -0M32 6l-0 0M46 41l0 1M9 88l-1 -0M18 64l-1 0M48 54l-0 0M20 62l0 0M60 38l0 0M59 43l-1 -0M75 22l0 1M52 82l-0 0M55 30l-1 1M49 35l0 0M60 86l-0 -0M81 30l0 0M43 75l0 -0M29 43l1 0M26 41l-0 -0M21 59l1 -0M72 4l0 1M23 35l1 0M76 25l0 -1M20 38l-0 0M27 56l-0 -0M83 7l-0 -0M71 16l0 -1M3 83l-0 1M32 44l-0 -0M16 59l1 0M85 22l0 0M23 1l-0 0M76 4l0 1M85 81l1 1M61 32l-0 -1M28 75l0 1M43 31l-0 -0M32 28l-1 -1M65 85l0 0M41 34l0 0M75 15l-1 -0M83 62l-1 -0M47 32l1 -0M18 78l1 -1M20 90l0 -0M64 2l0 -0M4 21l0 -0M2 67l-0 -0M70 67l0 -0M85 18l1 -0M10 38l0 -0M45 47l-1 0M15 39l-0 -0M2 52l0 -0M46 6l-0 -1M33 66l-1 -0M7 48l0 -0M27 59l0 -0M76 43l-0 -1M24 62l-0 0M44 89l-1 -0M87 10l0 1M58 -1l-0 -0M10 67l-0 0M29 14l0 -0M2 24l-0 -0M29 32l-1 0M32 67l0 1M20 15l0 -1M80 30l-0 -0M23 26l-0 -1M14 85l-0 1M15 91l-1 0M81 14l1 -1M15 32l0 0M73 20l-1 -1M60 52l-1 1M25 47l-0 0M86 28l0 0M42 61l-0 0M12 53l1 -0M88 35l0 0M45 43l0 -1M49 16l-0 0M30 62l0 1M51 61l0 -0M74 91l-0 -0M24 67l1 -0M14 36l-0 0M32 82l-0 0M32 5l-0 0M69 45l0 -0M75 45l-0 0M5 71l-0 -1M3 37l-0 -1M57 1l-1 0M74 56l0 -1M47 1l0 -0M33 76l0 -0M34 37l-0 0M55 44l1 -0M39 8l-0 1M84 41l-0 -0M32 18l0 -0M13 8l1 0M60 74l0 0M57 65l-0 -0M8 40l-1 1M15 29l-0 -0M17 -1l-0 0M17 12l-0 -0M18 70l-0 0M23 62l-1 0M6 89l0 1M53 89l0 0M43 29l-1 1M6 16l1 -1M23 81l1 0M18 58l-0 -1M88 88l0 -1M45 79l-0 1M62 16l0 0" stroke="#634836" stroke-width="2.8" stroke-linecap="round" fill="none"/>
<path d="M74 29l0 0M67 39l0 -0M17 50l-0 0M26 24l1 0M3 31l-0 0M60 19l-1 0M16 89l-0 -0M31 91l-1 0M12 43l-0 -0M57 17l-0 1M30 8l-0 0M17 6l0 1M48 4l-0 -1M70 48l0 -0M86 45l-0 0M71 51l-0 -0M26 18l-0 -0M76 49l-0 -0M52 80l-0 1M32 51l-0 0M80 56l0 0M18 35l0 0M10 82l0 -0M68 80l-0 -0M30 61l-1 1M17 10l-0 -0M55 -0l0 1M37 74l-0 0M64 86l0 0M15 30l-0 0M29 20l0 0M71 65l-1 -0M24 14l-0 -0M72 24l-0 0M64 21l-0 1M32 63l0 -0M-0 79l-0 0M44 37l0 1M67 82l-1 -0M85 43l0 -1M23 88l0 -0M72 73l1 -0M31 51l0 0M14 17l-1 -0M4 89l0 0M85 16l0 0M61 73l0 -0M4 79l1 0M73 19l-0 -1M42 3l-1 0M54 62l-0 0M7 68l-0 0M22 51l0 -0M43 76l-0 1M29 48l0 0M70 38l1 -0M80 11l-1 -0M60 18l0 0M82 77l-0 0M38 53l1 -0M15 23l0 0M39 41l1 -0M48 21l0 0M79 -1l-0 -0M72 44l-0 -0M69 34l-1 0M34 10l0 -0M7 63l0 0M17 66l-0 0M25 -0l-0 0M32 46l1 0M26 30l-1 -0M45 36l0 0M58 80l1 0M18 1l0 0M68 34l-0 0M8 61l0 -0M11 30l-0 0M2 51l0 0M88 24l0 0M52 91l-1 -1M18 16l-0 -0M2 38l0 0M45 21l-0 1M75 88l-0 1M9 89l-0 0M75 19l0 0M51 85l0 0M55 77l0 0M55 71l1 -0M18 45l-1 0M23 64l1 0M85 49l-1 -0M66 23l-0 -1M62 71l0 -0M69 17l1 0M73 86l-1 -0M36 20l-0 -0M87 20l-1 -0M74 60l0 -0M0 54l-0 1M18 2l0 -0M19 40l-0 -0M3 66l-1 0M58 29l0 -0M6 18l-0 -0M17 18l1 0M74 31l1 1M52 33l-0 -0M60 10l0 1M14 81l0 -0M51 4l-1 -0M49 50l0 1M80 89l1 -0M69 23l-0 0M33 57l-0 -1M69 83l-1 -0M82 25l-1 0M70 83l-0 0M8 81l-0 -0M86 61l-0 1M0 7l1 -0M37 11l-0 0M16 50l-1 0M63 20l0 -1M29 62l-0 -1M71 21l-0 1M85 77l-0 0M29 46l-0 1M69 7l1 0" stroke="#4e3426" stroke-width="2.6" stroke-linecap="round" fill="none"/>
<path d="M73 87l0 0M67 87l-0 -0M47 90l-1 1M28 26l-0 0M70 83l0 -0M11 18l0 -0M3 26l-0 -1M11 33l0 -0M22 57l1 -0M83 47l0 1M22 64l-0 0M70 43l-0 -1M71 35l-0 0M12 45l-0 -1M82 40l0 -0M80 31l-1 1M33 76l-0 0M83 24l-0 0M76 13l-1 -0M10 90l0 0M55 86l-0 -0M61 41l-1 0M34 87l-0 -0M83 35l0 -1M87 27l1 -0M84 65l0 1M68 47l0 1M22 67l-0 -0M72 71l-0 -1M23 67l0 -1M30 63l0 0M71 43l-0 -0M51 47l0 -0M7 69l-0 0M87 27l-0 0M51 42l-0 -0M51 32l1 -0M7 59l0 0M15 43l-0 -0M2 76l0 0M65 40l-0 1M81 81l0 -1M72 36l-0 0M20 1l0 0M58 90l-1 0M64 8l0 -0M67 61l-0 1M64 20l0 0M60 28l0 -1M3 48l-0 -0M84 69l0 0M34 51l0 -0M4 36l0 1M62 75l-1 0M69 38l-0 1M46 59l-1 0M81 40l-0 0M70 3l0 -0M79 62l1 1M58 53l-0 -0M66 52l0 -1M82 65l0 -1M67 18l-0 1M10 91l-0 -0M48 83l0 -1M10 63l0 1M10 87l-1 0M54 45l-0 -0M0 12l1 -0M7 0l-0 -1M30 70l-1 1M51 36l-0 -0M1 39l1 1M10 85l-0 -0M62 73l-0 0M34 32l0 -0M62 45l0 -0M79 74l-0 -1M50 32l-1 0M29 32l-0 -0M25 76l1 -1M9 89l-0 -1M47 74l-0 -0M81 90l1 -0M66 56l-1 1M71 68l0 1M37 82l0 1M60 31l0 -0M51 4l-0 1M33 79l1 0M1 48l1 -0M4 5l1 -0M54 35l0 0M49 57l1 -0M48 31l-0 0M15 16l0 0M10 34l0 -0M73 60l0 -1M46 51l0 -0M54 40l1 0M2 32l1 0M87 74l1 0M6 33l1 -1M63 82l-1 -0M31 3l-1 0M10 37l0 1M9 49l0 -1M41 52l-0 -0M52 17l-1 -0M21 12l-0 0" stroke="#3a261e" stroke-width="2.4" stroke-linecap="round" fill="none"/>
</g></svg>
<rect x="584.6" y="951.3" width="20.3" height="3.0" fill="#000"/>
</svg></body></html>
